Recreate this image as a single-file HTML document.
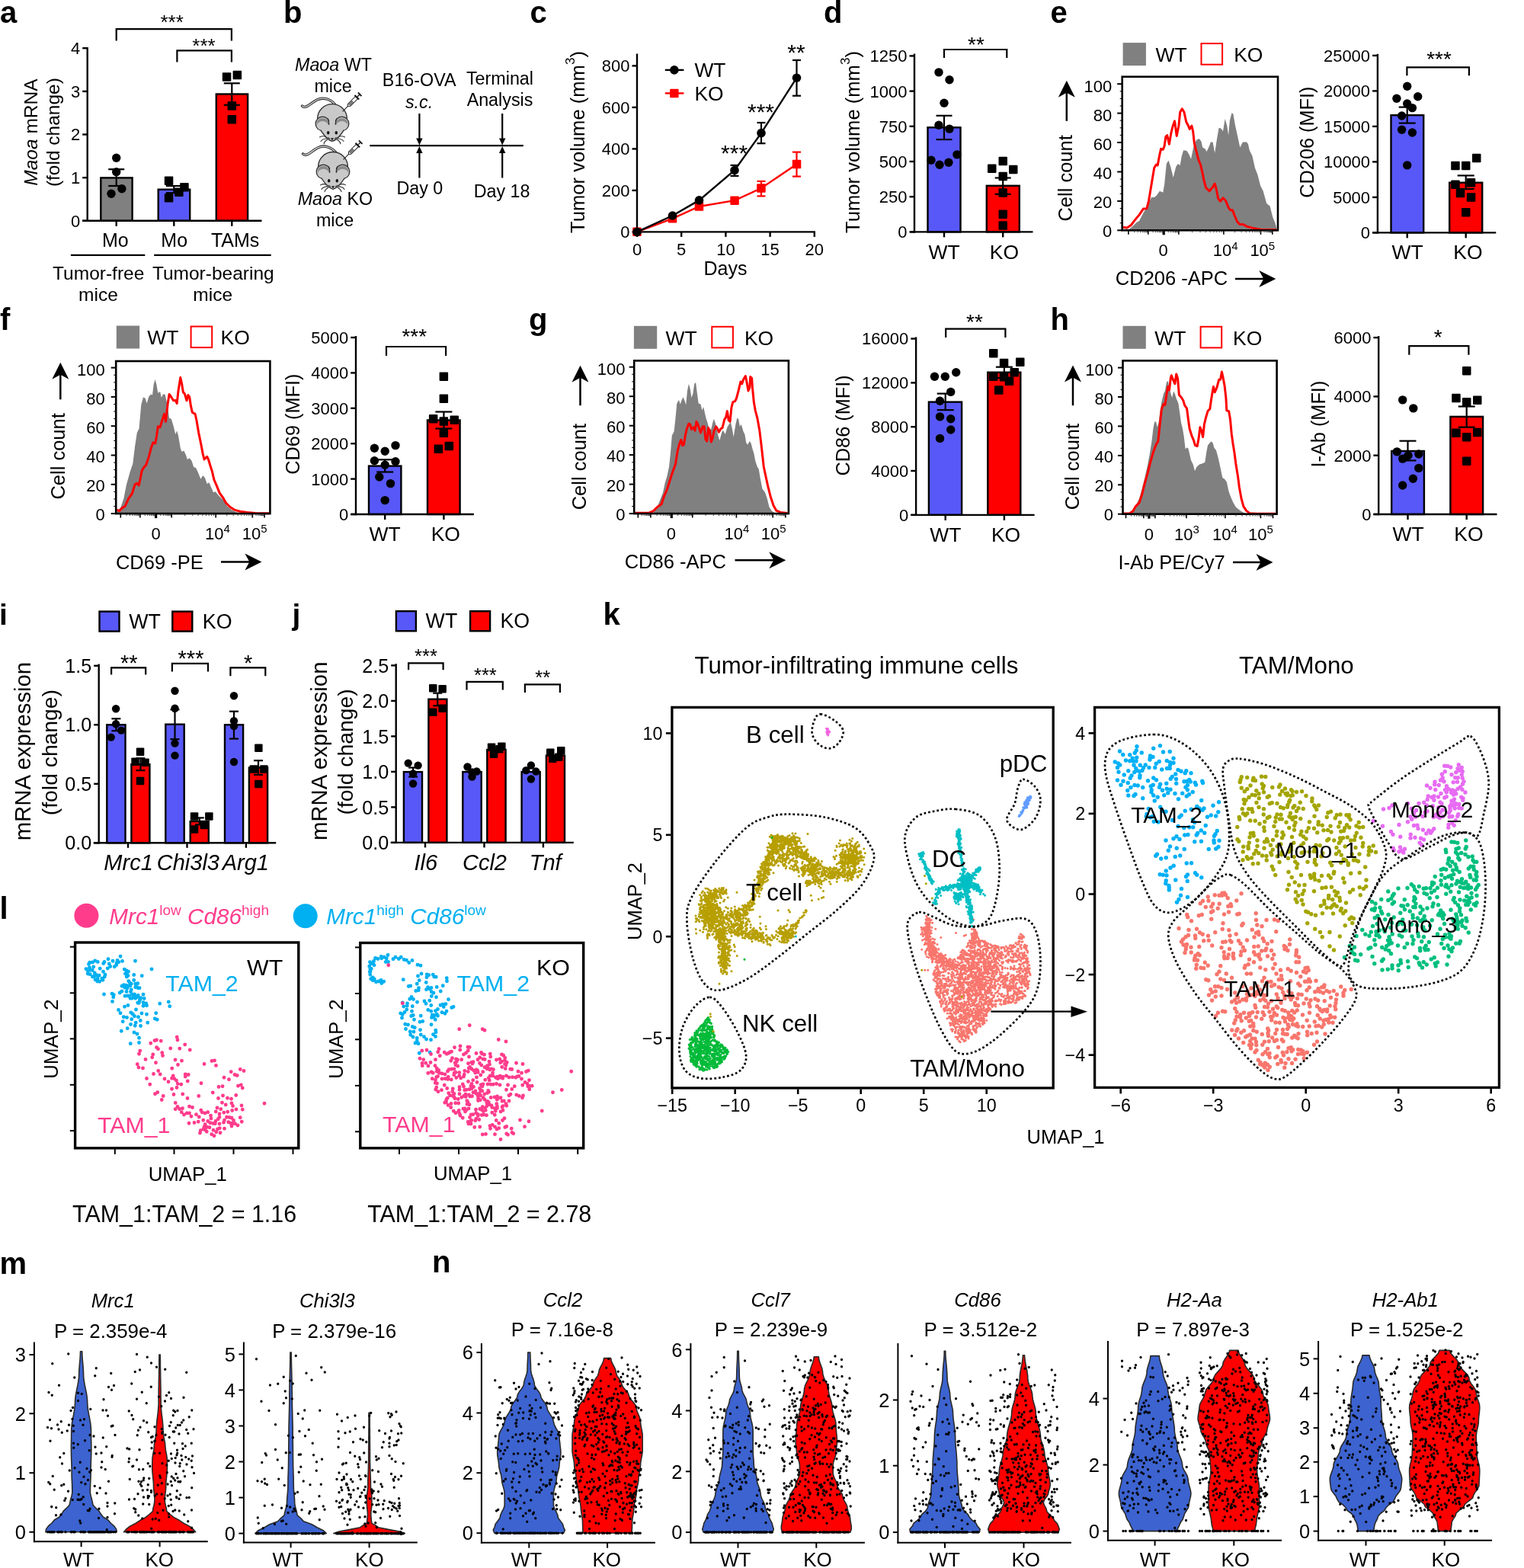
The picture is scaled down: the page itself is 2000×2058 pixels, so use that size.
<!DOCTYPE html>
<html lang="en"><head><meta charset="utf-8"><title>Figure</title>
<style>
html,body{margin:0;padding:0;background:#fff;}
body{width:2000px;height:2058px;overflow:hidden;}
svg{display:block;font-family:'Liberation Sans', Arial, Helvetica, sans-serif;}
</style></head><body>
<svg width="2000" height="2058" viewBox="0 0 2000 2058">
<rect width="2000" height="2058" fill="#fff"/>
<text x="0.0" y="29.5" font-size="40" text-anchor="start" font-weight="bold" >a</text>
<line x1="114.7" y1="62.0" x2="114.7" y2="291.0" stroke="#000" stroke-width="2.4" />
<line x1="108.2" y1="289.8" x2="114.7" y2="289.8" stroke="#000" stroke-width="2.4" />
<text x="105.2" y="297.7" font-size="22" text-anchor="end" >0</text>
<line x1="108.2" y1="233.2" x2="114.7" y2="233.2" stroke="#000" stroke-width="2.4" />
<text x="105.2" y="241.1" font-size="22" text-anchor="end" >1</text>
<line x1="108.2" y1="176.5" x2="114.7" y2="176.5" stroke="#000" stroke-width="2.4" />
<text x="105.2" y="184.4" font-size="22" text-anchor="end" >2</text>
<line x1="108.2" y1="119.9" x2="114.7" y2="119.9" stroke="#000" stroke-width="2.4" />
<text x="105.2" y="127.8" font-size="22" text-anchor="end" >3</text>
<line x1="108.2" y1="63.2" x2="114.7" y2="63.2" stroke="#000" stroke-width="2.4" />
<text x="105.2" y="71.1" font-size="22" text-anchor="end" >4</text>
<rect x="132.3" y="233.4" width="41.3" height="56.4" fill="#808080" stroke="#000" stroke-width="2.4" />
<rect x="207.7" y="248.7" width="41.5" height="41.1" fill="#5858f8" stroke="#000" stroke-width="2.4" />
<rect x="283.8" y="123.5" width="41.3" height="166.3" fill="#ff0000" stroke="#000" stroke-width="2.4" />
<line x1="108.0" y1="289.8" x2="343.5" y2="289.8" stroke="#000" stroke-width="2.4" />
<line x1="152.7" y1="289.8" x2="152.7" y2="296.8" stroke="#000" stroke-width="2.4" />
<line x1="228.3" y1="289.8" x2="228.3" y2="296.8" stroke="#000" stroke-width="2.4" />
<line x1="304.3" y1="289.8" x2="304.3" y2="296.8" stroke="#000" stroke-width="2.4" />
<line x1="152.7" y1="222.2" x2="152.7" y2="244.0" stroke="#000" stroke-width="2.2" />
<line x1="142.2" y1="222.2" x2="163.2" y2="222.2" stroke="#000" stroke-width="2.2" />
<line x1="142.2" y1="244.0" x2="163.2" y2="244.0" stroke="#000" stroke-width="2.2" />
<line x1="228.3" y1="244.0" x2="228.3" y2="253.2" stroke="#000" stroke-width="2.2" />
<line x1="217.8" y1="244.0" x2="238.8" y2="244.0" stroke="#000" stroke-width="2.2" />
<line x1="217.8" y1="253.2" x2="238.8" y2="253.2" stroke="#000" stroke-width="2.2" />
<line x1="304.3" y1="109.3" x2="304.3" y2="137.8" stroke="#000" stroke-width="2.2" />
<line x1="293.8" y1="109.3" x2="314.8" y2="109.3" stroke="#000" stroke-width="2.2" />
<line x1="293.8" y1="137.8" x2="314.8" y2="137.8" stroke="#000" stroke-width="2.2" />
<circle cx="152.7" cy="207.3" r="5.7" fill="#000" />
<circle cx="152.7" cy="225.6" r="5.7" fill="#000" />
<circle cx="159.9" cy="247.7" r="5.7" fill="#000" />
<circle cx="146.0" cy="254.2" r="5.7" fill="#000" />
<rect x="215.8" y="231.6" width="11.5" height="11.5" fill="#000" rx="1"/>
<rect x="236.2" y="239.9" width="11.5" height="11.5" fill="#000" rx="1"/>
<rect x="229.1" y="246.4" width="11.5" height="11.5" fill="#000" rx="1"/>
<rect x="215.8" y="253.9" width="11.5" height="11.5" fill="#000" rx="1"/>
<rect x="291.8" y="95.3" width="11.5" height="11.5" fill="#000" rx="1"/>
<rect x="305.6" y="92.8" width="11.5" height="11.5" fill="#000" rx="1"/>
<rect x="298.6" y="133.2" width="11.5" height="11.5" fill="#000" rx="1"/>
<rect x="298.6" y="151.1" width="11.5" height="11.5" fill="#000" rx="1"/>
<path d="M152.7,53.5 V38.2 H303.9 V53.5" fill="none" stroke="#000" stroke-width="2.2" />
<text x="225.6" y="38.1" font-size="26" text-anchor="middle" >***</text>
<path d="M232.4,81.4 V66.4 H303.9 V81.4" fill="none" stroke="#000" stroke-width="2.2" />
<text x="267.5" y="69.4" font-size="26" text-anchor="middle" >***</text>
<text x="151.4" y="323.7" font-size="25" text-anchor="middle" >Mo</text>
<text x="228.7" y="323.7" font-size="25" text-anchor="middle" >Mo</text>
<text x="308.6" y="323.7" font-size="25" text-anchor="middle" >TAMs</text>
<line x1="92.9" y1="334.9" x2="190.3" y2="334.9" stroke="#000" stroke-width="2.2" />
<line x1="202.2" y1="334.9" x2="355.7" y2="334.9" stroke="#000" stroke-width="2.2" />
<text x="129.2" y="366.5" font-size="24.5" text-anchor="middle" >Tumor-free</text>
<text x="128.9" y="394.6" font-size="24.5" text-anchor="middle" >mice</text>
<text x="279.8" y="366.5" font-size="24.5" text-anchor="middle" >Tumor-bearing</text>
<text x="279.2" y="394.6" font-size="24.5" text-anchor="middle" >mice</text>
<text x="49.0" y="173.6" font-size="24.5" text-anchor="middle" transform="rotate(-90 49.0 173.6)" ><tspan font-style="italic">Maoa</tspan> mRNA</text>
<text x="78.3" y="173.6" font-size="24.5" text-anchor="middle" transform="rotate(-90 78.3 173.6)" >(fold change)</text>
<text x="372.0" y="29.5" font-size="40" text-anchor="start" font-weight="bold" >b</text>
<text x="437.5" y="92.9" font-size="23.3" text-anchor="middle" ><tspan font-style="italic">Maoa</tspan> WT</text>
<text x="437.0" y="120.9" font-size="23.3" text-anchor="middle" >mice</text>
<g transform="translate(436.0,174.0)"><path d="M3.5,-37 C-2,-44 -12,-47 -20,-43 C-27,-39.5 -31,-34 -36,-33.6 C-37.5,-33.5 -38.5,-34 -39.5,-35" fill="none" stroke="#2b2b2b" stroke-width="3.4" stroke-linecap="round"/><path d="M3.5,-37 C-2,-44 -12,-47 -20,-43 C-27,-39.5 -31,-34 -36,-33.6 C-37.5,-33.5 -38.5,-34 -39.5,-35" fill="none" stroke="#d6d6d6" stroke-width="1.3" stroke-linecap="round"/><ellipse cx="0" cy="-18" rx="19.4" ry="19.4" fill="#c9c9c9" stroke="#2b2b2b" stroke-width="1.3"/><circle cx="-12.6" cy="-11.6" r="9.2" fill="#c9c9c9" stroke="#2b2b2b" stroke-width="1.3"/><ellipse cx="-12.6" cy="-12.2" rx="7.7" ry="6.9" fill="#8a8a8a"/><ellipse cx="-12.6" cy="-9" rx="7.4" ry="6.1" fill="#c9c9c9"/><circle cx="12.6" cy="-11.6" r="9.2" fill="#c9c9c9" stroke="#2b2b2b" stroke-width="1.3"/><ellipse cx="12.6" cy="-12.2" rx="7.7" ry="6.9" fill="#8a8a8a"/><ellipse cx="12.6" cy="-9" rx="7.4" ry="6.1" fill="#c9c9c9"/><path d="M-4.3,-10.5 C-4.8,-16 -2,-20 0,-20 C2,-20 4.8,-16 4.3,-10.5 L15,-3 C12,3 6,10.6 0,11.6 C-6,10.6 -12,3 -15,-3 Z" fill="#c9c9c9"/><path d="M-4.3,-10.2 C-4.3,-14.5 -5,-17 -6.3,-18.6 M4.3,-10.2 C4.3,-14.5 5,-17 6.3,-18.6" fill="none" stroke="#2b2b2b" stroke-width="1.3"/><path d="M-15.4,-3.4 C-11,3.5 -6,10.3 0,11.4 C6,10.3 11,3.5 15.4,-3.4" fill="none" stroke="#2b2b2b" stroke-width="1.3"/><ellipse cx="-5.3" cy="0.3" rx="1.7" ry="2.2" fill="#111"/><ellipse cx="5.3" cy="0.3" rx="1.7" ry="2.2" fill="#111"/><ellipse cx="-5.2" cy="7.8" rx="2.4" ry="1.6" fill="#555" transform="rotate(25 -5.2 7.8)"/><ellipse cx="5.2" cy="7.8" rx="2.4" ry="1.6" fill="#555" transform="rotate(-25 5.2 7.8)"/><path d="M-2.2,7.3 L2.2,7.3 L0,10.3 Z" fill="#111"/><path d="M-8,6 C-11,4.2 -14,4.5 -16.5,6 M-7.5,8 C-11,8 -13.5,9.5 -15,11.5 M-6.5,9.5 C-9,10.5 -10.5,12.5 -11,14.8 M8,6 C11,4.2 14,4.5 16.5,6 M7.5,8 C11,8 13.5,9.5 15,11.5 M6.5,9.5 C9,10.5 10.5,12.5 11,14.8" stroke="#333" stroke-width="1.1" fill="none" stroke-linecap="round"/><g transform="translate(13.6,-27.6) rotate(-45)"><line x1="0" y1="0" x2="9.5" y2="0" stroke="#222" stroke-width="1.1"/><path d="M9.5,0 L12,-2.2 L26,-2.2 L26,2.2 L12,2.2 Z" fill="#fff" stroke="#222" stroke-width="1"/><rect x="12" y="-1.7" width="7" height="3.4" fill="#777"/><line x1="26.5" y1="-4" x2="26.5" y2="4" stroke="#111" stroke-width="2"/><line x1="27" y1="0" x2="31.5" y2="0" stroke="#333" stroke-width="1.6"/><line x1="32" y1="-3.2" x2="32" y2="3.2" stroke="#111" stroke-width="1.8"/></g></g>
<g transform="translate(437.0,236.9)"><path d="M3.5,-37 C-2,-44 -12,-47 -20,-43 C-27,-39.5 -31,-34 -36,-33.6 C-37.5,-33.5 -38.5,-34 -39.5,-35" fill="none" stroke="#2b2b2b" stroke-width="3.4" stroke-linecap="round"/><path d="M3.5,-37 C-2,-44 -12,-47 -20,-43 C-27,-39.5 -31,-34 -36,-33.6 C-37.5,-33.5 -38.5,-34 -39.5,-35" fill="none" stroke="#d6d6d6" stroke-width="1.3" stroke-linecap="round"/><ellipse cx="0" cy="-18" rx="19.4" ry="19.4" fill="#c9c9c9" stroke="#2b2b2b" stroke-width="1.3"/><circle cx="-12.6" cy="-11.6" r="9.2" fill="#c9c9c9" stroke="#2b2b2b" stroke-width="1.3"/><ellipse cx="-12.6" cy="-12.2" rx="7.7" ry="6.9" fill="#8a8a8a"/><ellipse cx="-12.6" cy="-9" rx="7.4" ry="6.1" fill="#c9c9c9"/><circle cx="12.6" cy="-11.6" r="9.2" fill="#c9c9c9" stroke="#2b2b2b" stroke-width="1.3"/><ellipse cx="12.6" cy="-12.2" rx="7.7" ry="6.9" fill="#8a8a8a"/><ellipse cx="12.6" cy="-9" rx="7.4" ry="6.1" fill="#c9c9c9"/><path d="M-4.3,-10.5 C-4.8,-16 -2,-20 0,-20 C2,-20 4.8,-16 4.3,-10.5 L15,-3 C12,3 6,10.6 0,11.6 C-6,10.6 -12,3 -15,-3 Z" fill="#c9c9c9"/><path d="M-4.3,-10.2 C-4.3,-14.5 -5,-17 -6.3,-18.6 M4.3,-10.2 C4.3,-14.5 5,-17 6.3,-18.6" fill="none" stroke="#2b2b2b" stroke-width="1.3"/><path d="M-15.4,-3.4 C-11,3.5 -6,10.3 0,11.4 C6,10.3 11,3.5 15.4,-3.4" fill="none" stroke="#2b2b2b" stroke-width="1.3"/><ellipse cx="-5.3" cy="0.3" rx="1.7" ry="2.2" fill="#111"/><ellipse cx="5.3" cy="0.3" rx="1.7" ry="2.2" fill="#111"/><ellipse cx="-5.2" cy="7.8" rx="2.4" ry="1.6" fill="#555" transform="rotate(25 -5.2 7.8)"/><ellipse cx="5.2" cy="7.8" rx="2.4" ry="1.6" fill="#555" transform="rotate(-25 5.2 7.8)"/><path d="M-2.2,7.3 L2.2,7.3 L0,10.3 Z" fill="#111"/><path d="M-8,6 C-11,4.2 -14,4.5 -16.5,6 M-7.5,8 C-11,8 -13.5,9.5 -15,11.5 M-6.5,9.5 C-9,10.5 -10.5,12.5 -11,14.8 M8,6 C11,4.2 14,4.5 16.5,6 M7.5,8 C11,8 13.5,9.5 15,11.5 M6.5,9.5 C9,10.5 10.5,12.5 11,14.8" stroke="#333" stroke-width="1.1" fill="none" stroke-linecap="round"/><g transform="translate(13.6,-27.6) rotate(-45)"><line x1="0" y1="0" x2="9.5" y2="0" stroke="#222" stroke-width="1.1"/><path d="M9.5,0 L12,-2.2 L26,-2.2 L26,2.2 L12,2.2 Z" fill="#fff" stroke="#222" stroke-width="1"/><rect x="12" y="-1.7" width="7" height="3.4" fill="#777"/><line x1="26.5" y1="-4" x2="26.5" y2="4" stroke="#111" stroke-width="2"/><line x1="27" y1="0" x2="31.5" y2="0" stroke="#333" stroke-width="1.6"/><line x1="32" y1="-3.2" x2="32" y2="3.2" stroke="#111" stroke-width="1.8"/></g></g>
<text x="439.9" y="269.1" font-size="23.3" text-anchor="middle" ><tspan font-style="italic">Maoa</tspan> KO</text>
<text x="439.5" y="297.1" font-size="23.3" text-anchor="middle" >mice</text>
<line x1="485.3" y1="191.2" x2="686.8" y2="191.2" stroke="#000" stroke-width="2.2" />
<line x1="550.4" y1="149.0" x2="550.4" y2="185.1" stroke="#000" stroke-width="2.2" />
<polygon points="550.4,190.5 546.2,181.5 554.6,181.5" fill="#000"/>
<line x1="550.4" y1="233.5" x2="550.4" y2="197.4" stroke="#000" stroke-width="2.2" />
<polygon points="550.4,192.0 546.2,201.0 554.6,201.0" fill="#000"/>
<line x1="659.2" y1="149.0" x2="659.2" y2="185.1" stroke="#000" stroke-width="2.2" />
<polygon points="659.2,190.5 655.0,181.5 663.4,181.5" fill="#000"/>
<line x1="659.2" y1="233.5" x2="659.2" y2="197.4" stroke="#000" stroke-width="2.2" />
<polygon points="659.2,192.0 655.0,201.0 663.4,201.0" fill="#000"/>
<text x="550.2" y="113.3" font-size="23.3" text-anchor="middle" >B16-OVA</text>
<text x="550.0" y="141.5" font-size="23.3" text-anchor="middle" font-style="italic" >s.c.</text>
<text x="656.0" y="110.9" font-size="23.3" text-anchor="middle" >Terminal</text>
<text x="656.0" y="139.0" font-size="23.3" text-anchor="middle" >Analysis</text>
<text x="550.9" y="255.3" font-size="23.3" text-anchor="middle" >Day 0</text>
<text x="658.6" y="258.9" font-size="23.3" text-anchor="middle" >Day 18</text>
<text x="695.6" y="29.5" font-size="40" text-anchor="start" font-weight="bold" >c</text>
<line x1="836.0" y1="70.5" x2="836.0" y2="305.6" stroke="#000" stroke-width="2.4" />
<line x1="829.5" y1="304.4" x2="836.0" y2="304.4" stroke="#000" stroke-width="2.4" />
<text x="826.5" y="312.3" font-size="22" text-anchor="end" >0</text>
<line x1="829.5" y1="249.9" x2="836.0" y2="249.9" stroke="#000" stroke-width="2.4" />
<text x="826.5" y="257.8" font-size="22" text-anchor="end" >200</text>
<line x1="829.5" y1="195.4" x2="836.0" y2="195.4" stroke="#000" stroke-width="2.4" />
<text x="826.5" y="203.3" font-size="22" text-anchor="end" >400</text>
<line x1="829.5" y1="140.9" x2="836.0" y2="140.9" stroke="#000" stroke-width="2.4" />
<text x="826.5" y="148.8" font-size="22" text-anchor="end" >600</text>
<line x1="829.5" y1="86.4" x2="836.0" y2="86.4" stroke="#000" stroke-width="2.4" />
<text x="826.5" y="94.3" font-size="22" text-anchor="end" >800</text>
<line x1="834.8" y1="304.4" x2="1070.0" y2="304.4" stroke="#000" stroke-width="2.4" />
<line x1="836.0" y1="304.4" x2="836.0" y2="310.9" stroke="#000" stroke-width="2.4" />
<text x="836.0" y="334.6" font-size="22" text-anchor="middle" >0</text>
<line x1="894.2" y1="304.4" x2="894.2" y2="310.9" stroke="#000" stroke-width="2.4" />
<text x="894.2" y="334.6" font-size="22" text-anchor="middle" >5</text>
<line x1="952.4" y1="304.4" x2="952.4" y2="310.9" stroke="#000" stroke-width="2.4" />
<text x="952.4" y="334.6" font-size="22" text-anchor="middle" >10</text>
<line x1="1010.6" y1="304.4" x2="1010.6" y2="310.9" stroke="#000" stroke-width="2.4" />
<text x="1010.6" y="334.6" font-size="22" text-anchor="middle" >15</text>
<line x1="1068.8" y1="304.4" x2="1068.8" y2="310.9" stroke="#000" stroke-width="2.4" />
<text x="1068.8" y="334.6" font-size="22" text-anchor="middle" >20</text>
<text x="952.0" y="360.5" font-size="25" text-anchor="middle" >Days</text>
<text x="766.5" y="186.5" font-size="25.6" text-anchor="middle" transform="rotate(-90 766.5 186.5)" >Tumor volume (mm<tspan font-size="17" dy="-12.5">3</tspan><tspan dy="12.5">)</tspan></text>
<path d="M836.0,304.4 L882.6,286.8 L917.5,271.0 L964.0,263.2 L999.0,247.0 L1045.5,215.4" fill="none" stroke="#ff0000" stroke-width="2.4" />
<line x1="999.0" y1="237.9" x2="999.0" y2="257.4" stroke="#ff0000" stroke-width="2.2" />
<line x1="993.5" y1="237.9" x2="1004.5" y2="237.9" stroke="#ff0000" stroke-width="2.2" />
<line x1="993.5" y1="257.4" x2="1004.5" y2="257.4" stroke="#ff0000" stroke-width="2.2" />
<line x1="1045.5" y1="199.6" x2="1045.5" y2="231.6" stroke="#ff0000" stroke-width="2.2" />
<line x1="1040.0" y1="199.6" x2="1051.0" y2="199.6" stroke="#ff0000" stroke-width="2.2" />
<line x1="1040.0" y1="231.6" x2="1051.0" y2="231.6" stroke="#ff0000" stroke-width="2.2" />
<rect x="830.2" y="298.6" width="11.5" height="11.5" fill="#ff0000" rx="1"/>
<rect x="876.8" y="281.1" width="11.5" height="11.5" fill="#ff0000" rx="1"/>
<rect x="911.7" y="265.2" width="11.5" height="11.5" fill="#ff0000" rx="1"/>
<rect x="958.3" y="257.4" width="11.5" height="11.5" fill="#ff0000" rx="1"/>
<rect x="993.2" y="241.2" width="11.5" height="11.5" fill="#ff0000" rx="1"/>
<rect x="1039.8" y="209.7" width="11.5" height="11.5" fill="#ff0000" rx="1"/>
<path d="M836.0,304.4 L882.6,283.0 L917.5,262.9 L964.0,223.5 L999.0,174.6 L1045.5,102.2" fill="none" stroke="#000" stroke-width="2.4" />
<line x1="964.0" y1="216.9" x2="964.0" y2="230.9" stroke="#000" stroke-width="2.2" />
<line x1="958.5" y1="216.9" x2="969.5" y2="216.9" stroke="#000" stroke-width="2.2" />
<line x1="958.5" y1="230.9" x2="969.5" y2="230.9" stroke="#000" stroke-width="2.2" />
<line x1="999.0" y1="161.0" x2="999.0" y2="188.2" stroke="#000" stroke-width="2.2" />
<line x1="993.5" y1="161.0" x2="1004.5" y2="161.0" stroke="#000" stroke-width="2.2" />
<line x1="993.5" y1="188.2" x2="1004.5" y2="188.2" stroke="#000" stroke-width="2.2" />
<line x1="1045.5" y1="79.0" x2="1045.5" y2="125.7" stroke="#000" stroke-width="2.2" />
<line x1="1040.0" y1="79.0" x2="1051.0" y2="79.0" stroke="#000" stroke-width="2.2" />
<line x1="1040.0" y1="125.7" x2="1051.0" y2="125.7" stroke="#000" stroke-width="2.2" />
<circle cx="836.0" cy="304.4" r="5.8" fill="#000" />
<circle cx="882.6" cy="283.0" r="5.8" fill="#000" />
<circle cx="917.5" cy="262.9" r="5.8" fill="#000" />
<circle cx="964.0" cy="223.5" r="5.8" fill="#000" />
<circle cx="999.0" cy="174.6" r="5.8" fill="#000" />
<circle cx="1045.5" cy="102.2" r="5.8" fill="#000" />
<line x1="872.8" y1="91.9" x2="897.4" y2="91.9" stroke="#000" stroke-width="2.4" />
<circle cx="884.9" cy="91.9" r="5.8" fill="#000" />
<text x="911.4" y="101.0" font-size="26.4" text-anchor="start" >WT</text>
<line x1="872.8" y1="122.4" x2="897.4" y2="122.4" stroke="#ff0000" stroke-width="2.4" />
<rect x="879.1" y="116.7" width="11.5" height="11.5" fill="#ff0000" rx="1"/>
<text x="911.4" y="132.4" font-size="26.4" text-anchor="start" >KO</text>
<text x="1044.9" y="78.8" font-size="30" text-anchor="middle" >**</text>
<text x="998.5" y="157.1" font-size="30" text-anchor="middle" >***</text>
<text x="963.6" y="211.2" font-size="30" text-anchor="middle" >***</text>
<text x="1081.0" y="29.5" font-size="40" text-anchor="start" font-weight="bold" >d</text>
<line x1="1200.0" y1="70.5" x2="1200.0" y2="305.6" stroke="#000" stroke-width="2.4" />
<line x1="1193.5" y1="304.4" x2="1200.0" y2="304.4" stroke="#000" stroke-width="2.4" />
<text x="1190.5" y="312.3" font-size="22" text-anchor="end" >0</text>
<line x1="1193.5" y1="258.2" x2="1200.0" y2="258.2" stroke="#000" stroke-width="2.4" />
<text x="1190.5" y="266.1" font-size="22" text-anchor="end" >250</text>
<line x1="1193.5" y1="212.0" x2="1200.0" y2="212.0" stroke="#000" stroke-width="2.4" />
<text x="1190.5" y="219.9" font-size="22" text-anchor="end" >500</text>
<line x1="1193.5" y1="165.8" x2="1200.0" y2="165.8" stroke="#000" stroke-width="2.4" />
<text x="1190.5" y="173.7" font-size="22" text-anchor="end" >750</text>
<line x1="1193.5" y1="119.6" x2="1200.0" y2="119.6" stroke="#000" stroke-width="2.4" />
<text x="1190.5" y="127.5" font-size="22" text-anchor="end" >1000</text>
<line x1="1193.5" y1="73.4" x2="1200.0" y2="73.4" stroke="#000" stroke-width="2.4" />
<text x="1190.5" y="81.3" font-size="22" text-anchor="end" >1250</text>
<rect x="1217.5" y="167.3" width="43.0" height="137.1" fill="#5858f8" stroke="#000" stroke-width="2.4" />
<rect x="1294.8" y="243.8" width="43.0" height="60.6" fill="#ff0000" stroke="#000" stroke-width="2.4" />
<line x1="1194.0" y1="304.4" x2="1355.5" y2="304.4" stroke="#000" stroke-width="2.4" />
<line x1="1239.0" y1="304.4" x2="1239.0" y2="311.4" stroke="#000" stroke-width="2.4" />
<line x1="1316.2" y1="304.4" x2="1316.2" y2="311.4" stroke="#000" stroke-width="2.4" />
<text x="1239.0" y="340.0" font-size="26.5" text-anchor="middle" >WT</text>
<text x="1318.0" y="340.0" font-size="26.5" text-anchor="middle" >KO</text>
<text x="1127.5" y="186.5" font-size="25.6" text-anchor="middle" transform="rotate(-90 1127.5 186.5)" >Tumor volume (mm<tspan font-size="17" dy="-12.5">3</tspan><tspan dy="12.5">)</tspan></text>
<line x1="1239.0" y1="151.8" x2="1239.0" y2="183.1" stroke="#000" stroke-width="2.2" />
<line x1="1228.5" y1="151.8" x2="1249.5" y2="151.8" stroke="#000" stroke-width="2.2" />
<line x1="1228.5" y1="183.1" x2="1249.5" y2="183.1" stroke="#000" stroke-width="2.2" />
<line x1="1316.2" y1="233.5" x2="1316.2" y2="254.8" stroke="#000" stroke-width="2.2" />
<line x1="1305.7" y1="233.5" x2="1326.7" y2="233.5" stroke="#000" stroke-width="2.2" />
<line x1="1305.7" y1="254.8" x2="1326.7" y2="254.8" stroke="#000" stroke-width="2.2" />
<circle cx="1232.0" cy="94.9" r="5.7" fill="#000" />
<circle cx="1246.0" cy="104.8" r="5.7" fill="#000" />
<circle cx="1239.0" cy="135.3" r="5.7" fill="#000" />
<circle cx="1232.0" cy="164.3" r="5.7" fill="#000" />
<circle cx="1246.0" cy="169.1" r="5.7" fill="#000" />
<circle cx="1255.9" cy="202.9" r="5.7" fill="#000" />
<circle cx="1222.0" cy="210.3" r="5.7" fill="#000" />
<circle cx="1233.0" cy="216.2" r="5.7" fill="#000" />
<circle cx="1244.9" cy="213.2" r="5.7" fill="#000" />
<rect x="1310.5" y="205.7" width="11.5" height="11.5" fill="#000" rx="1"/>
<rect x="1296.0" y="215.6" width="11.5" height="11.5" fill="#000" rx="1"/>
<rect x="1324.0" y="216.7" width="11.5" height="11.5" fill="#000" rx="1"/>
<rect x="1310.5" y="225.8" width="11.5" height="11.5" fill="#000" rx="1"/>
<rect x="1310.5" y="247.2" width="11.5" height="11.5" fill="#000" rx="1"/>
<rect x="1310.5" y="275.6" width="11.5" height="11.5" fill="#000" rx="1"/>
<rect x="1310.5" y="290.2" width="11.5" height="11.5" fill="#000" rx="1"/>
<path d="M1239.0,76.0 V65.0 H1321.3 V76.0" fill="none" stroke="#000" stroke-width="2.2" />
<text x="1281.0" y="67.5" font-size="28" text-anchor="middle" >**</text>
<text x="1378.5" y="29.5" font-size="40" text-anchor="start" font-weight="bold" >e</text>
<path d="M1480.7,302.3 L1480.7,301.8 L1486.1,297.3 L1491.5,291.9 L1495.0,290.1 L1500.4,279.4 L1505.8,270.5 L1511.1,258.9 L1514.7,258.9 L1517.4,257.1 L1521.9,250.8 L1526.3,252.6 L1528.1,241.9 L1530.8,215.1 L1533.5,210.6 L1536.2,218.7 L1539.7,233.0 L1543.3,218.7 L1546.0,215.1 L1548.7,216.9 L1550.5,206.1 L1553.1,197.2 L1557.6,198.1 L1560.3,202.6 L1563.0,208.8 L1566.5,191.8 L1570.1,183.8 L1573.7,182.0 L1576.4,185.6 L1578.2,193.6 L1581.7,195.4 L1583.5,199.0 L1586.2,193.6 L1588.9,186.5 L1591.6,186.5 L1594.2,200.8 L1596.9,182.9 L1599.6,167.7 L1602.3,168.6 L1605.0,172.2 L1607.6,156.1 L1610.3,165.0 L1612.1,177.6 L1613.9,157.9 L1616.6,148.1 L1618.4,149.8 L1621.1,165.0 L1623.7,176.7 L1627.3,193.6 L1630.9,186.5 L1636.2,186.5 L1638.0,189.2 L1639.8,197.2 L1643.4,204.4 L1647.0,220.4 L1650.5,229.4 L1654.1,243.7 L1657.7,250.8 L1662.2,266.9 L1666.6,270.5 L1670.2,284.8 L1673.8,293.7 L1675.9,301.8 L1675.9,302.3 Z" fill="#808080" stroke="none" stroke-width="0" />
<path d="M1473.6,298.2 L1479.0,299.1 L1484.3,295.5 L1489.7,288.4 L1495.0,282.1 L1500.4,274.1 L1504.9,273.7 L1507.6,263.3 L1511.1,241.9 L1514.7,220.4 L1517.4,216.0 L1519.2,216.9 L1521.9,202.6 L1523.6,195.4 L1526.3,196.3 L1528.1,191.8 L1529.9,179.3 L1531.7,177.6 L1534.4,189.2 L1537.0,174.0 L1538.8,166.8 L1541.5,158.8 L1544.2,178.4 L1546.9,165.0 L1548.7,147.2 L1551.3,142.7 L1554.0,147.2 L1556.7,159.7 L1559.4,165.0 L1561.2,169.5 L1563.9,165.0 L1565.6,172.2 L1567.4,188.3 L1570.1,199.0 L1572.8,209.7 L1575.5,216.0 L1578.2,227.6 L1579.9,236.5 L1582.6,246.4 L1587.1,250.8 L1591.6,245.5 L1594.2,241.0 L1596.0,247.3 L1598.7,260.7 L1601.4,264.2 L1605.0,259.8 L1608.5,263.3 L1612.1,272.3 L1614.8,275.8 L1617.5,275.8 L1620.2,283.0 L1623.7,291.0 L1627.3,294.6 L1631.8,294.6 L1636.2,297.3 L1643.4,299.1 L1654.1,301.2 L1675.6,301.8" fill="none" stroke="#ff0000" stroke-width="3" stroke-linejoin="round"/>
<rect x="1472.7" y="100.7" width="204.3" height="201.6" fill="none" stroke="#000" stroke-width="2.6" />
<line x1="1466.2" y1="302.3" x2="1472.7" y2="302.3" stroke="#000" stroke-width="2" />
<text x="1459.2" y="310.7" font-size="22" text-anchor="end" >0</text>
<line x1="1469.7" y1="292.7" x2="1472.7" y2="292.7" stroke="#000" stroke-width="1" />
<line x1="1469.7" y1="283.1" x2="1472.7" y2="283.1" stroke="#000" stroke-width="1" />
<line x1="1469.7" y1="273.5" x2="1472.7" y2="273.5" stroke="#000" stroke-width="1" />
<line x1="1466.2" y1="263.9" x2="1472.7" y2="263.9" stroke="#000" stroke-width="2" />
<text x="1459.2" y="272.7" font-size="22" text-anchor="end" >20</text>
<line x1="1469.7" y1="254.3" x2="1472.7" y2="254.3" stroke="#000" stroke-width="1" />
<line x1="1469.7" y1="244.7" x2="1472.7" y2="244.7" stroke="#000" stroke-width="1" />
<line x1="1469.7" y1="235.1" x2="1472.7" y2="235.1" stroke="#000" stroke-width="1" />
<line x1="1466.2" y1="225.5" x2="1472.7" y2="225.5" stroke="#000" stroke-width="2" />
<text x="1459.2" y="234.8" font-size="22" text-anchor="end" >40</text>
<line x1="1469.7" y1="215.9" x2="1472.7" y2="215.9" stroke="#000" stroke-width="1" />
<line x1="1469.7" y1="206.2" x2="1472.7" y2="206.2" stroke="#000" stroke-width="1" />
<line x1="1469.7" y1="196.6" x2="1472.7" y2="196.6" stroke="#000" stroke-width="1" />
<line x1="1466.2" y1="187.0" x2="1472.7" y2="187.0" stroke="#000" stroke-width="2" />
<text x="1459.2" y="196.8" font-size="22" text-anchor="end" >60</text>
<line x1="1469.7" y1="177.4" x2="1472.7" y2="177.4" stroke="#000" stroke-width="1" />
<line x1="1469.7" y1="167.8" x2="1472.7" y2="167.8" stroke="#000" stroke-width="1" />
<line x1="1469.7" y1="158.2" x2="1472.7" y2="158.2" stroke="#000" stroke-width="1" />
<line x1="1466.2" y1="148.6" x2="1472.7" y2="148.6" stroke="#000" stroke-width="2" />
<text x="1459.2" y="158.8" font-size="22" text-anchor="end" >80</text>
<line x1="1469.7" y1="139.0" x2="1472.7" y2="139.0" stroke="#000" stroke-width="1" />
<line x1="1469.7" y1="129.4" x2="1472.7" y2="129.4" stroke="#000" stroke-width="1" />
<line x1="1469.7" y1="119.8" x2="1472.7" y2="119.8" stroke="#000" stroke-width="1" />
<line x1="1466.2" y1="110.2" x2="1472.7" y2="110.2" stroke="#000" stroke-width="2" />
<text x="1459.2" y="120.8" font-size="22" text-anchor="end" >100</text>
<line x1="1480.9" y1="302.3" x2="1480.9" y2="307.8" stroke="#000" stroke-width="1.6" />
<line x1="1506.8" y1="302.3" x2="1506.8" y2="307.8" stroke="#000" stroke-width="1.6" />
<line x1="1527.2" y1="302.3" x2="1527.2" y2="308.3" stroke="#000" stroke-width="3.2" />
<line x1="1546.9" y1="302.3" x2="1546.9" y2="307.8" stroke="#000" stroke-width="1.6" />
<line x1="1605.9" y1="302.3" x2="1605.9" y2="307.8" stroke="#000" stroke-width="1.6" />
<line x1="1654.5" y1="302.3" x2="1654.5" y2="307.8" stroke="#000" stroke-width="1.6" />
<line x1="1669.8" y1="302.3" x2="1669.8" y2="307.8" stroke="#000" stroke-width="1.6" />
<line x1="1488.7" y1="302.3" x2="1488.7" y2="305.3" stroke="#333" stroke-width="0.9" />
<line x1="1493.3" y1="302.3" x2="1493.3" y2="305.3" stroke="#333" stroke-width="0.9" />
<line x1="1496.5" y1="302.3" x2="1496.5" y2="305.3" stroke="#333" stroke-width="0.9" />
<line x1="1499.0" y1="302.3" x2="1499.0" y2="305.3" stroke="#333" stroke-width="0.9" />
<line x1="1501.1" y1="302.3" x2="1501.1" y2="305.3" stroke="#333" stroke-width="0.9" />
<line x1="1502.8" y1="302.3" x2="1502.8" y2="305.3" stroke="#333" stroke-width="0.9" />
<line x1="1504.3" y1="302.3" x2="1504.3" y2="305.3" stroke="#333" stroke-width="0.9" />
<line x1="1505.6" y1="302.3" x2="1505.6" y2="305.3" stroke="#333" stroke-width="0.9" />
<line x1="1513.0" y1="302.3" x2="1513.0" y2="305.3" stroke="#333" stroke-width="0.9" />
<line x1="1516.6" y1="302.3" x2="1516.6" y2="305.3" stroke="#333" stroke-width="0.9" />
<line x1="1519.1" y1="302.3" x2="1519.1" y2="305.3" stroke="#333" stroke-width="0.9" />
<line x1="1521.1" y1="302.3" x2="1521.1" y2="305.3" stroke="#333" stroke-width="0.9" />
<line x1="1522.7" y1="302.3" x2="1522.7" y2="305.3" stroke="#333" stroke-width="0.9" />
<line x1="1524.1" y1="302.3" x2="1524.1" y2="305.3" stroke="#333" stroke-width="0.9" />
<line x1="1525.3" y1="302.3" x2="1525.3" y2="305.3" stroke="#333" stroke-width="0.9" />
<line x1="1526.3" y1="302.3" x2="1526.3" y2="305.3" stroke="#333" stroke-width="0.9" />
<line x1="1533.2" y1="302.3" x2="1533.2" y2="305.3" stroke="#333" stroke-width="0.9" />
<line x1="1536.6" y1="302.3" x2="1536.6" y2="305.3" stroke="#333" stroke-width="0.9" />
<line x1="1539.1" y1="302.3" x2="1539.1" y2="305.3" stroke="#333" stroke-width="0.9" />
<line x1="1541.0" y1="302.3" x2="1541.0" y2="305.3" stroke="#333" stroke-width="0.9" />
<line x1="1542.5" y1="302.3" x2="1542.5" y2="305.3" stroke="#333" stroke-width="0.9" />
<line x1="1543.8" y1="302.3" x2="1543.8" y2="305.3" stroke="#333" stroke-width="0.9" />
<line x1="1545.0" y1="302.3" x2="1545.0" y2="305.3" stroke="#333" stroke-width="0.9" />
<line x1="1546.0" y1="302.3" x2="1546.0" y2="305.3" stroke="#333" stroke-width="0.9" />
<line x1="1564.6" y1="302.3" x2="1564.6" y2="305.3" stroke="#333" stroke-width="0.9" />
<line x1="1575.0" y1="302.3" x2="1575.0" y2="305.3" stroke="#333" stroke-width="0.9" />
<line x1="1582.4" y1="302.3" x2="1582.4" y2="305.3" stroke="#333" stroke-width="0.9" />
<line x1="1588.1" y1="302.3" x2="1588.1" y2="305.3" stroke="#333" stroke-width="0.9" />
<line x1="1592.8" y1="302.3" x2="1592.8" y2="305.3" stroke="#333" stroke-width="0.9" />
<line x1="1596.8" y1="302.3" x2="1596.8" y2="305.3" stroke="#333" stroke-width="0.9" />
<line x1="1600.2" y1="302.3" x2="1600.2" y2="305.3" stroke="#333" stroke-width="0.9" />
<line x1="1603.2" y1="302.3" x2="1603.2" y2="305.3" stroke="#333" stroke-width="0.9" />
<line x1="1620.5" y1="302.3" x2="1620.5" y2="305.3" stroke="#333" stroke-width="0.9" />
<line x1="1629.1" y1="302.3" x2="1629.1" y2="305.3" stroke="#333" stroke-width="0.9" />
<line x1="1635.2" y1="302.3" x2="1635.2" y2="305.3" stroke="#333" stroke-width="0.9" />
<line x1="1639.9" y1="302.3" x2="1639.9" y2="305.3" stroke="#333" stroke-width="0.9" />
<line x1="1643.7" y1="302.3" x2="1643.7" y2="305.3" stroke="#333" stroke-width="0.9" />
<line x1="1647.0" y1="302.3" x2="1647.0" y2="305.3" stroke="#333" stroke-width="0.9" />
<line x1="1649.8" y1="302.3" x2="1649.8" y2="305.3" stroke="#333" stroke-width="0.9" />
<line x1="1652.3" y1="302.3" x2="1652.3" y2="305.3" stroke="#333" stroke-width="0.9" />
<line x1="1659.1" y1="302.3" x2="1659.1" y2="305.3" stroke="#333" stroke-width="0.9" />
<line x1="1661.8" y1="302.3" x2="1661.8" y2="305.3" stroke="#333" stroke-width="0.9" />
<line x1="1663.8" y1="302.3" x2="1663.8" y2="305.3" stroke="#333" stroke-width="0.9" />
<line x1="1665.2" y1="302.3" x2="1665.2" y2="305.3" stroke="#333" stroke-width="0.9" />
<line x1="1666.5" y1="302.3" x2="1666.5" y2="305.3" stroke="#333" stroke-width="0.9" />
<line x1="1667.5" y1="302.3" x2="1667.5" y2="305.3" stroke="#333" stroke-width="0.9" />
<line x1="1668.4" y1="302.3" x2="1668.4" y2="305.3" stroke="#333" stroke-width="0.9" />
<line x1="1669.1" y1="302.3" x2="1669.1" y2="305.3" stroke="#333" stroke-width="0.9" />
<text x="1526.7" y="336.1" font-size="22" text-anchor="middle" >0</text>
<text x="1608.2" y="336.1" font-size="22" text-anchor="middle" >10<tspan font-size="15" dy="-8.5">4</tspan></text>
<text x="1656.8" y="336.1" font-size="22" text-anchor="middle" >10<tspan font-size="15" dy="-8.5">5</tspan></text>
<rect x="1473.6" y="56.1" width="30.3" height="30.0" fill="#808080" stroke="none" stroke-width="0" />
<text x="1516.5" y="81.0" font-size="26.5" text-anchor="start" >WT</text>
<rect x="1576.5" y="57.1" width="27.6" height="27.6" fill="#fff" stroke="#ff0000" stroke-width="2" />
<text x="1619.2" y="81.0" font-size="26.5" text-anchor="start" >KO</text>
<text x="1406.6" y="233.9" font-size="25.5" text-anchor="middle" transform="rotate(-90 1406.6 233.9)" >Cell count</text>
<line x1="1399.8" y1="158.8" x2="1399.8" y2="120.7" stroke="#000" stroke-width="2.5" />
<polygon points="1399.8,105.7 1410.8,127.7 1399.8,121.7 1388.8,127.7" fill="#000"/>
<text x="1463.8" y="374.1" font-size="25.5" text-anchor="start" >CD206 -APC</text>
<line x1="1621.0" y1="366.0" x2="1659.3" y2="366.0" stroke="#000" stroke-width="2.5" />
<polygon points="1674.3,366.0 1652.3,377.0 1658.3,366.0 1652.3,355.0" fill="#000"/>
<line x1="1807.9" y1="70.8" x2="1807.9" y2="306.6" stroke="#000" stroke-width="2.4" />
<line x1="1801.1" y1="305.4" x2="1807.9" y2="305.4" stroke="#000" stroke-width="2.4" />
<text x="1798.1" y="313.3" font-size="22" text-anchor="end" >0</text>
<line x1="1801.1" y1="258.9" x2="1807.9" y2="258.9" stroke="#000" stroke-width="2.4" />
<text x="1798.1" y="266.8" font-size="22" text-anchor="end" >5000</text>
<line x1="1801.1" y1="212.4" x2="1807.9" y2="212.4" stroke="#000" stroke-width="2.4" />
<text x="1798.1" y="220.3" font-size="22" text-anchor="end" >10000</text>
<line x1="1801.1" y1="165.9" x2="1807.9" y2="165.9" stroke="#000" stroke-width="2.4" />
<text x="1798.1" y="173.8" font-size="22" text-anchor="end" >15000</text>
<line x1="1801.1" y1="119.4" x2="1807.9" y2="119.4" stroke="#000" stroke-width="2.4" />
<text x="1798.1" y="127.3" font-size="22" text-anchor="end" >20000</text>
<line x1="1801.1" y1="72.9" x2="1807.9" y2="72.9" stroke="#000" stroke-width="2.4" />
<text x="1798.1" y="80.8" font-size="22" text-anchor="end" >25000</text>
<rect x="1825.5" y="151.2" width="42.7" height="154.2" fill="#5858f8" stroke="#000" stroke-width="2.4" />
<rect x="1902.2" y="239.7" width="43.0" height="65.7" fill="#ff0000" stroke="#000" stroke-width="2.4" />
<line x1="1801.2" y1="305.4" x2="1963.3" y2="305.4" stroke="#000" stroke-width="2.4" />
<line x1="1846.7" y1="305.4" x2="1846.7" y2="312.4" stroke="#000" stroke-width="2.4" />
<line x1="1923.7" y1="305.4" x2="1923.7" y2="312.4" stroke="#000" stroke-width="2.4" />
<text x="1847.0" y="339.9" font-size="26.5" text-anchor="middle" >WT</text>
<text x="1926.4" y="339.9" font-size="26.5" text-anchor="middle" >KO</text>
<text x="1724.5" y="186.6" font-size="25.3" text-anchor="middle" transform="rotate(-90 1724.5 186.6)" >CD206 (MFI)</text>
<path d="M1846.4,99.3 V88.4 H1927.9 V99.3" fill="none" stroke="#000" stroke-width="2.2" />
<text x="1888.5" y="87.2" font-size="28" text-anchor="middle" >***</text>
<line x1="1846.7" y1="140.6" x2="1846.7" y2="161.6" stroke="#000" stroke-width="2.2" />
<line x1="1835.7" y1="140.6" x2="1857.7" y2="140.6" stroke="#000" stroke-width="2.2" />
<line x1="1835.7" y1="161.6" x2="1857.7" y2="161.6" stroke="#000" stroke-width="2.2" />
<line x1="1923.7" y1="230.4" x2="1923.7" y2="248.1" stroke="#000" stroke-width="2.2" />
<line x1="1912.7" y1="230.4" x2="1934.7" y2="230.4" stroke="#000" stroke-width="2.2" />
<line x1="1912.7" y1="248.1" x2="1934.7" y2="248.1" stroke="#000" stroke-width="2.2" />
<circle cx="1846.7" cy="113.3" r="5.7" fill="#000" />
<circle cx="1860.7" cy="126.8" r="5.7" fill="#000" />
<circle cx="1832.9" cy="129.3" r="5.7" fill="#000" />
<circle cx="1846.7" cy="136.0" r="5.7" fill="#000" />
<circle cx="1853.4" cy="141.6" r="5.7" fill="#000" />
<circle cx="1839.6" cy="152.0" r="5.7" fill="#000" />
<circle cx="1839.6" cy="170.2" r="5.7" fill="#000" />
<circle cx="1853.4" cy="174.0" r="5.7" fill="#000" />
<circle cx="1846.7" cy="216.9" r="5.7" fill="#000" />
<rect x="1932.0" y="201.8" width="11.5" height="11.5" fill="#000" rx="1"/>
<rect x="1904.2" y="211.7" width="11.5" height="11.5" fill="#000" rx="1"/>
<rect x="1918.0" y="211.7" width="11.5" height="11.5" fill="#000" rx="1"/>
<rect x="1904.2" y="236.4" width="11.5" height="11.5" fill="#000" rx="1"/>
<rect x="1924.8" y="233.9" width="11.5" height="11.5" fill="#000" rx="1"/>
<rect x="1910.8" y="247.8" width="11.5" height="11.5" fill="#000" rx="1"/>
<rect x="1924.8" y="253.2" width="11.5" height="11.5" fill="#000" rx="1"/>
<rect x="1918.0" y="273.1" width="11.5" height="11.5" fill="#000" rx="1"/>
<text x="0.0" y="433.0" font-size="40" text-anchor="start" font-weight="bold" >f</text>
<path d="M153.1,674.1 L153.1,671.9 L158.6,665.5 L162.3,654.4 L166.0,636.1 L170.6,619.5 L174.3,608.5 L177.0,586.5 L179.8,568.1 L182.5,562.6 L185.3,531.3 L188.0,521.2 L190.8,523.1 L192.6,529.5 L195.4,520.3 L198.2,517.5 L200.0,518.5 L201.8,503.8 L203.7,497.9 L205.5,505.6 L207.3,515.7 L210.1,513.9 L211.9,522.1 L213.8,517.5 L216.5,517.5 L218.4,525.8 L220.2,535.0 L222.1,548.8 L224.8,549.7 L227.6,558.9 L230.3,569.9 L232.2,565.3 L234.0,571.8 L236.8,588.3 L238.6,592.9 L241.4,591.6 L244.1,597.5 L245.9,603.0 L248.7,601.2 L251.5,604.8 L254.2,613.1 L257.0,614.0 L259.7,619.5 L263.4,628.7 L266.2,624.1 L268.9,626.9 L271.7,635.1 L274.4,633.3 L277.2,639.7 L280.0,646.2 L282.7,645.3 L287.3,650.8 L292.8,656.3 L298.3,664.5 L303.8,669.1 L311.2,672.8 L316.7,674.1 L316.7,674.1 Z" fill="#808080" stroke="none" stroke-width="0" />
<path d="M153.1,669.1 L156.8,670.6 L160.5,666.4 L164.1,664.5 L168.7,654.4 L173.3,648.0 L177.0,636.1 L179.8,634.2 L182.2,637.0 L184.4,626.9 L186.2,617.7 L189.0,613.1 L191.7,610.3 L195.4,599.3 L198.2,588.3 L200.9,580.9 L203.7,581.9 L205.5,572.7 L207.3,559.8 L210.1,560.7 L212.9,551.5 L215.6,543.3 L217.5,553.4 L220.2,529.5 L222.1,517.5 L224.8,521.2 L227.6,525.8 L230.3,525.4 L232.2,529.5 L234.0,513.0 L236.8,495.5 L238.6,503.8 L240.4,514.8 L242.3,516.6 L245.0,525.8 L246.9,518.5 L248.7,521.2 L250.5,533.2 L252.4,541.4 L256.1,543.3 L257.9,551.5 L260.7,568.1 L263.4,580.9 L266.2,595.6 L268.0,603.0 L271.7,599.3 L273.5,603.0 L276.3,612.2 L278.1,617.7 L280.9,629.6 L284.5,637.9 L288.2,647.1 L292.8,653.5 L296.5,660.0 L302.0,665.5 L307.5,669.1 L314.9,671.3 L324.1,672.4 L335.1,673.4 L353.5,673.7" fill="none" stroke="#ff0000" stroke-width="3" stroke-linejoin="round"/>
<rect x="152.2" y="474.0" width="202.2" height="200.1" fill="none" stroke="#000" stroke-width="2.6" />
<line x1="145.7" y1="674.1" x2="152.2" y2="674.1" stroke="#000" stroke-width="2" />
<text x="137.7" y="682.5" font-size="22" text-anchor="end" >0</text>
<line x1="149.2" y1="664.5" x2="152.2" y2="664.5" stroke="#000" stroke-width="1" />
<line x1="149.2" y1="655.0" x2="152.2" y2="655.0" stroke="#000" stroke-width="1" />
<line x1="149.2" y1="645.4" x2="152.2" y2="645.4" stroke="#000" stroke-width="1" />
<line x1="145.7" y1="635.8" x2="152.2" y2="635.8" stroke="#000" stroke-width="2" />
<text x="137.7" y="644.7" font-size="22" text-anchor="end" >20</text>
<line x1="149.2" y1="626.2" x2="152.2" y2="626.2" stroke="#000" stroke-width="1" />
<line x1="149.2" y1="616.6" x2="152.2" y2="616.6" stroke="#000" stroke-width="1" />
<line x1="149.2" y1="607.1" x2="152.2" y2="607.1" stroke="#000" stroke-width="1" />
<line x1="145.7" y1="597.5" x2="152.2" y2="597.5" stroke="#000" stroke-width="2" />
<text x="137.7" y="606.8" font-size="22" text-anchor="end" >40</text>
<line x1="149.2" y1="587.9" x2="152.2" y2="587.9" stroke="#000" stroke-width="1" />
<line x1="149.2" y1="578.4" x2="152.2" y2="578.4" stroke="#000" stroke-width="1" />
<line x1="149.2" y1="568.8" x2="152.2" y2="568.8" stroke="#000" stroke-width="1" />
<line x1="145.7" y1="559.2" x2="152.2" y2="559.2" stroke="#000" stroke-width="2" />
<text x="137.7" y="568.9" font-size="22" text-anchor="end" >60</text>
<line x1="149.2" y1="549.6" x2="152.2" y2="549.6" stroke="#000" stroke-width="1" />
<line x1="149.2" y1="540.0" x2="152.2" y2="540.0" stroke="#000" stroke-width="1" />
<line x1="149.2" y1="530.5" x2="152.2" y2="530.5" stroke="#000" stroke-width="1" />
<line x1="145.7" y1="520.9" x2="152.2" y2="520.9" stroke="#000" stroke-width="2" />
<text x="137.7" y="531.1" font-size="22" text-anchor="end" >80</text>
<line x1="149.2" y1="511.3" x2="152.2" y2="511.3" stroke="#000" stroke-width="1" />
<line x1="149.2" y1="501.8" x2="152.2" y2="501.8" stroke="#000" stroke-width="1" />
<line x1="149.2" y1="492.2" x2="152.2" y2="492.2" stroke="#000" stroke-width="1" />
<line x1="145.7" y1="482.6" x2="152.2" y2="482.6" stroke="#000" stroke-width="2" />
<text x="137.7" y="493.2" font-size="22" text-anchor="end" >100</text>
<line x1="158.3" y1="674.1" x2="158.3" y2="679.6" stroke="#000" stroke-width="1.6" />
<line x1="183.9" y1="674.1" x2="183.9" y2="679.6" stroke="#000" stroke-width="1.6" />
<line x1="204.6" y1="674.1" x2="204.6" y2="680.1" stroke="#000" stroke-width="3.2" />
<line x1="225.2" y1="674.1" x2="225.2" y2="679.6" stroke="#000" stroke-width="1.6" />
<line x1="283.2" y1="674.1" x2="283.2" y2="679.6" stroke="#000" stroke-width="1.6" />
<line x1="331.3" y1="674.1" x2="331.3" y2="679.6" stroke="#000" stroke-width="1.6" />
<line x1="347.1" y1="674.1" x2="347.1" y2="679.6" stroke="#000" stroke-width="1.6" />
<line x1="166.0" y1="674.1" x2="166.0" y2="677.1" stroke="#333" stroke-width="0.9" />
<line x1="170.5" y1="674.1" x2="170.5" y2="677.1" stroke="#333" stroke-width="0.9" />
<line x1="173.7" y1="674.1" x2="173.7" y2="677.1" stroke="#333" stroke-width="0.9" />
<line x1="176.2" y1="674.1" x2="176.2" y2="677.1" stroke="#333" stroke-width="0.9" />
<line x1="178.2" y1="674.1" x2="178.2" y2="677.1" stroke="#333" stroke-width="0.9" />
<line x1="180.0" y1="674.1" x2="180.0" y2="677.1" stroke="#333" stroke-width="0.9" />
<line x1="181.5" y1="674.1" x2="181.5" y2="677.1" stroke="#333" stroke-width="0.9" />
<line x1="182.8" y1="674.1" x2="182.8" y2="677.1" stroke="#333" stroke-width="0.9" />
<line x1="190.2" y1="674.1" x2="190.2" y2="677.1" stroke="#333" stroke-width="0.9" />
<line x1="193.8" y1="674.1" x2="193.8" y2="677.1" stroke="#333" stroke-width="0.9" />
<line x1="196.4" y1="674.1" x2="196.4" y2="677.1" stroke="#333" stroke-width="0.9" />
<line x1="198.4" y1="674.1" x2="198.4" y2="677.1" stroke="#333" stroke-width="0.9" />
<line x1="200.0" y1="674.1" x2="200.0" y2="677.1" stroke="#333" stroke-width="0.9" />
<line x1="201.4" y1="674.1" x2="201.4" y2="677.1" stroke="#333" stroke-width="0.9" />
<line x1="202.6" y1="674.1" x2="202.6" y2="677.1" stroke="#333" stroke-width="0.9" />
<line x1="203.6" y1="674.1" x2="203.6" y2="677.1" stroke="#333" stroke-width="0.9" />
<line x1="210.8" y1="674.1" x2="210.8" y2="677.1" stroke="#333" stroke-width="0.9" />
<line x1="214.4" y1="674.1" x2="214.4" y2="677.1" stroke="#333" stroke-width="0.9" />
<line x1="217.0" y1="674.1" x2="217.0" y2="677.1" stroke="#333" stroke-width="0.9" />
<line x1="219.0" y1="674.1" x2="219.0" y2="677.1" stroke="#333" stroke-width="0.9" />
<line x1="220.6" y1="674.1" x2="220.6" y2="677.1" stroke="#333" stroke-width="0.9" />
<line x1="222.0" y1="674.1" x2="222.0" y2="677.1" stroke="#333" stroke-width="0.9" />
<line x1="223.2" y1="674.1" x2="223.2" y2="677.1" stroke="#333" stroke-width="0.9" />
<line x1="224.3" y1="674.1" x2="224.3" y2="677.1" stroke="#333" stroke-width="0.9" />
<line x1="242.7" y1="674.1" x2="242.7" y2="677.1" stroke="#333" stroke-width="0.9" />
<line x1="252.9" y1="674.1" x2="252.9" y2="677.1" stroke="#333" stroke-width="0.9" />
<line x1="260.1" y1="674.1" x2="260.1" y2="677.1" stroke="#333" stroke-width="0.9" />
<line x1="265.8" y1="674.1" x2="265.8" y2="677.1" stroke="#333" stroke-width="0.9" />
<line x1="270.4" y1="674.1" x2="270.4" y2="677.1" stroke="#333" stroke-width="0.9" />
<line x1="274.2" y1="674.1" x2="274.2" y2="677.1" stroke="#333" stroke-width="0.9" />
<line x1="277.6" y1="674.1" x2="277.6" y2="677.1" stroke="#333" stroke-width="0.9" />
<line x1="280.6" y1="674.1" x2="280.6" y2="677.1" stroke="#333" stroke-width="0.9" />
<line x1="297.7" y1="674.1" x2="297.7" y2="677.1" stroke="#333" stroke-width="0.9" />
<line x1="306.2" y1="674.1" x2="306.2" y2="677.1" stroke="#333" stroke-width="0.9" />
<line x1="312.2" y1="674.1" x2="312.2" y2="677.1" stroke="#333" stroke-width="0.9" />
<line x1="316.9" y1="674.1" x2="316.9" y2="677.1" stroke="#333" stroke-width="0.9" />
<line x1="320.7" y1="674.1" x2="320.7" y2="677.1" stroke="#333" stroke-width="0.9" />
<line x1="323.9" y1="674.1" x2="323.9" y2="677.1" stroke="#333" stroke-width="0.9" />
<line x1="326.7" y1="674.1" x2="326.7" y2="677.1" stroke="#333" stroke-width="0.9" />
<line x1="329.1" y1="674.1" x2="329.1" y2="677.1" stroke="#333" stroke-width="0.9" />
<line x1="336.1" y1="674.1" x2="336.1" y2="677.1" stroke="#333" stroke-width="0.9" />
<line x1="338.9" y1="674.1" x2="338.9" y2="677.1" stroke="#333" stroke-width="0.9" />
<line x1="340.8" y1="674.1" x2="340.8" y2="677.1" stroke="#333" stroke-width="0.9" />
<line x1="342.4" y1="674.1" x2="342.4" y2="677.1" stroke="#333" stroke-width="0.9" />
<line x1="343.6" y1="674.1" x2="343.6" y2="677.1" stroke="#333" stroke-width="0.9" />
<line x1="344.7" y1="674.1" x2="344.7" y2="677.1" stroke="#333" stroke-width="0.9" />
<line x1="345.6" y1="674.1" x2="345.6" y2="677.1" stroke="#333" stroke-width="0.9" />
<line x1="346.4" y1="674.1" x2="346.4" y2="677.1" stroke="#333" stroke-width="0.9" />
<text x="204.6" y="707.9" font-size="22" text-anchor="middle" >0</text>
<text x="285.5" y="707.9" font-size="22" text-anchor="middle" >10<tspan font-size="15" dy="-8.5">4</tspan></text>
<text x="334.2" y="707.9" font-size="22" text-anchor="middle" >10<tspan font-size="15" dy="-8.5">5</tspan></text>
<rect x="152.8" y="427.5" width="30.3" height="30.0" fill="#808080" stroke="none" stroke-width="0" />
<text x="193.2" y="452.4" font-size="26.5" text-anchor="start" >WT</text>
<rect x="250.6" y="428.5" width="27.6" height="27.6" fill="#fff" stroke="#ff0000" stroke-width="2" />
<text x="289.5" y="452.4" font-size="26.5" text-anchor="start" >KO</text>
<text x="85.1" y="598.9" font-size="25.5" text-anchor="middle" transform="rotate(-90 85.1 598.9)" >Cell count</text>
<line x1="79.3" y1="524.3" x2="79.3" y2="490.8" stroke="#000" stroke-width="2.5" />
<polygon points="79.3,475.8 90.3,497.8 79.3,491.8 68.3,497.8" fill="#000"/>
<text x="151.9" y="747.3" font-size="25.5" text-anchor="start" >CD69 -PE</text>
<line x1="290.0" y1="737.5" x2="328.4" y2="737.5" stroke="#000" stroke-width="2.5" />
<polygon points="343.4,737.5 321.4,748.5 327.4,737.5 321.4,726.5" fill="#000"/>
<line x1="467.0" y1="441.0" x2="467.0" y2="676.2" stroke="#000" stroke-width="2.4" />
<line x1="460.2" y1="675.0" x2="467.0" y2="675.0" stroke="#000" stroke-width="2.4" />
<text x="457.2" y="682.9" font-size="22" text-anchor="end" >0</text>
<line x1="460.2" y1="628.6" x2="467.0" y2="628.6" stroke="#000" stroke-width="2.4" />
<text x="457.2" y="636.5" font-size="22" text-anchor="end" >1000</text>
<line x1="460.2" y1="582.2" x2="467.0" y2="582.2" stroke="#000" stroke-width="2.4" />
<text x="457.2" y="590.1" font-size="22" text-anchor="end" >2000</text>
<line x1="460.2" y1="535.8" x2="467.0" y2="535.8" stroke="#000" stroke-width="2.4" />
<text x="457.2" y="543.7" font-size="22" text-anchor="end" >3000</text>
<line x1="460.2" y1="489.4" x2="467.0" y2="489.4" stroke="#000" stroke-width="2.4" />
<text x="457.2" y="497.3" font-size="22" text-anchor="end" >4000</text>
<line x1="460.2" y1="443.0" x2="467.0" y2="443.0" stroke="#000" stroke-width="2.4" />
<text x="457.2" y="450.9" font-size="22" text-anchor="end" >5000</text>
<rect x="484.0" y="611.6" width="42.4" height="63.4" fill="#5858f8" stroke="#000" stroke-width="2.4" />
<rect x="561.0" y="551.5" width="42.6" height="123.5" fill="#ff0000" stroke="#000" stroke-width="2.4" />
<line x1="460.2" y1="675.0" x2="621.9" y2="675.0" stroke="#000" stroke-width="2.4" />
<line x1="505.2" y1="675.0" x2="505.2" y2="682.0" stroke="#000" stroke-width="2.4" />
<line x1="582.4" y1="675.0" x2="582.4" y2="682.0" stroke="#000" stroke-width="2.4" />
<text x="505.2" y="709.6" font-size="26.5" text-anchor="middle" >WT</text>
<text x="584.8" y="709.6" font-size="26.5" text-anchor="middle" >KO</text>
<text x="393.1" y="556.6" font-size="25.3" text-anchor="middle" transform="rotate(-90 393.1 556.6)" >CD69 (MFI)</text>
<path d="M507.0,467.0 V455.0 H585.1 V467.0" fill="none" stroke="#000" stroke-width="2.2" />
<text x="543.8" y="451.1" font-size="28" text-anchor="middle" >***</text>
<line x1="505.2" y1="603.3" x2="505.2" y2="619.5" stroke="#000" stroke-width="2.2" />
<line x1="494.2" y1="603.3" x2="516.2" y2="603.3" stroke="#000" stroke-width="2.2" />
<line x1="494.2" y1="619.5" x2="516.2" y2="619.5" stroke="#000" stroke-width="2.2" />
<line x1="582.4" y1="540.5" x2="582.4" y2="562.5" stroke="#000" stroke-width="2.2" />
<line x1="571.4" y1="540.5" x2="593.4" y2="540.5" stroke="#000" stroke-width="2.2" />
<line x1="571.4" y1="562.5" x2="593.4" y2="562.5" stroke="#000" stroke-width="2.2" />
<circle cx="491.4" cy="588.3" r="5.7" fill="#000" />
<circle cx="519.0" cy="584.6" r="5.7" fill="#000" />
<circle cx="505.2" cy="592.3" r="5.7" fill="#000" />
<circle cx="491.4" cy="604.8" r="5.7" fill="#000" />
<circle cx="519.0" cy="605.7" r="5.7" fill="#000" />
<circle cx="505.2" cy="610.3" r="5.7" fill="#000" />
<circle cx="497.8" cy="626.0" r="5.7" fill="#000" />
<circle cx="512.5" cy="634.6" r="5.7" fill="#000" />
<circle cx="505.2" cy="656.6" r="5.7" fill="#000" />
<rect x="576.6" y="488.4" width="11.5" height="11.5" fill="#000" rx="1"/>
<rect x="576.6" y="517.6" width="11.5" height="11.5" fill="#000" rx="1"/>
<rect x="562.9" y="544.0" width="11.5" height="11.5" fill="#000" rx="1"/>
<rect x="576.6" y="547.2" width="11.5" height="11.5" fill="#000" rx="1"/>
<rect x="590.5" y="545.5" width="11.5" height="11.5" fill="#000" rx="1"/>
<rect x="576.6" y="562.4" width="11.5" height="11.5" fill="#000" rx="1"/>
<rect x="569.6" y="583.5" width="11.5" height="11.5" fill="#000" rx="1"/>
<rect x="583.6" y="579.8" width="11.5" height="11.5" fill="#000" rx="1"/>
<text x="694.0" y="433.0" font-size="40" text-anchor="start" font-weight="bold" >g</text>
<path d="M857.0,674.1 L857.0,674.1 L862.5,665.5 L866.2,656.3 L869.9,647.1 L872.6,634.2 L875.4,625.0 L878.1,612.2 L880.0,593.8 L881.8,571.7 L884.6,566.2 L886.4,549.7 L888.3,529.5 L891.0,524.9 L892.8,530.4 L894.7,524.9 L896.5,521.2 L898.4,525.8 L900.2,531.3 L902.0,512.9 L903.9,503.7 L905.7,510.2 L907.5,522.1 L909.4,516.6 L911.2,503.7 L913.1,501.9 L914.9,516.6 L916.7,529.5 L919.5,530.4 L921.3,538.6 L923.2,534.1 L925.0,542.3 L926.8,549.7 L928.7,555.2 L930.5,562.5 L933.3,563.5 L935.1,555.2 L936.9,549.7 L938.8,555.2 L941.5,568.1 L944.3,578.2 L947.1,568.1 L948.9,564.4 L951.7,569.9 L954.4,560.7 L957.2,556.1 L959.0,554.3 L960.8,562.5 L962.7,573.6 L965.4,557.0 L967.3,548.8 L969.1,549.7 L970.9,559.8 L972.8,557.0 L975.5,566.2 L977.4,569.9 L979.2,580.9 L981.1,583.7 L983.8,579.1 L985.6,581.8 L987.5,589.2 L989.3,594.7 L991.2,604.8 L993.9,613.1 L995.8,615.8 L997.6,626.9 L1000.4,641.6 L1004.0,646.2 L1006.8,654.4 L1009.5,665.5 L1013.2,671.0 L1018.7,674.1 L1018.7,674.1 Z" fill="#808080" stroke="none" stroke-width="0" />
<path d="M833.1,673.2 L851.5,673.2 L857.0,671.0 L862.5,665.5 L868.0,661.8 L871.7,650.8 L875.4,642.5 L879.1,630.5 L882.7,619.5 L886.4,609.4 L889.2,591.9 L891.9,581.8 L893.8,577.2 L895.6,584.6 L897.4,583.7 L899.3,571.7 L901.1,563.5 L903.9,556.1 L905.7,557.0 L907.5,563.5 L910.3,560.7 L912.1,565.3 L914.0,553.3 L915.8,557.0 L917.7,562.5 L919.5,568.1 L922.2,559.8 L924.1,559.8 L925.9,576.3 L927.8,579.1 L929.6,561.6 L931.4,565.3 L933.3,580.0 L935.1,575.4 L936.9,566.2 L939.7,559.8 L941.5,562.5 L943.4,567.1 L946.1,562.5 L948.0,561.6 L950.7,550.6 L952.6,547.8 L954.4,539.6 L956.2,551.5 L958.1,553.3 L959.9,535.0 L961.8,527.6 L964.5,526.7 L966.4,523.0 L969.1,512.9 L971.9,501.0 L973.7,503.7 L975.5,498.2 L978.3,493.6 L980.1,501.9 L982.0,512.9 L983.8,509.2 L984.7,494.5 L986.6,496.4 L987.5,509.2 L989.3,527.6 L991.2,538.6 L993.9,548.8 L996.7,564.4 L998.5,579.1 L1000.4,595.6 L1002.2,612.2 L1004.9,625.0 L1007.7,637.9 L1011.4,652.6 L1015.1,663.6 L1018.7,670.1 L1024.2,672.4 L1033.4,673.4" fill="none" stroke="#ff0000" stroke-width="3" stroke-linejoin="round"/>
<rect x="832.2" y="473.4" width="202.7" height="200.7" fill="none" stroke="#000" stroke-width="2.6" />
<line x1="825.7" y1="674.1" x2="832.2" y2="674.1" stroke="#000" stroke-width="2" />
<text x="820.5" y="682.5" font-size="22" text-anchor="end" >0</text>
<line x1="829.2" y1="664.5" x2="832.2" y2="664.5" stroke="#000" stroke-width="1" />
<line x1="829.2" y1="654.9" x2="832.2" y2="654.9" stroke="#000" stroke-width="1" />
<line x1="829.2" y1="645.2" x2="832.2" y2="645.2" stroke="#000" stroke-width="1" />
<line x1="825.7" y1="635.6" x2="832.2" y2="635.6" stroke="#000" stroke-width="2" />
<text x="820.5" y="644.5" font-size="22" text-anchor="end" >20</text>
<line x1="829.2" y1="626.0" x2="832.2" y2="626.0" stroke="#000" stroke-width="1" />
<line x1="829.2" y1="616.4" x2="832.2" y2="616.4" stroke="#000" stroke-width="1" />
<line x1="829.2" y1="606.8" x2="832.2" y2="606.8" stroke="#000" stroke-width="1" />
<line x1="825.7" y1="597.1" x2="832.2" y2="597.1" stroke="#000" stroke-width="2" />
<text x="820.5" y="606.4" font-size="22" text-anchor="end" >40</text>
<line x1="829.2" y1="587.5" x2="832.2" y2="587.5" stroke="#000" stroke-width="1" />
<line x1="829.2" y1="577.9" x2="832.2" y2="577.9" stroke="#000" stroke-width="1" />
<line x1="829.2" y1="568.3" x2="832.2" y2="568.3" stroke="#000" stroke-width="1" />
<line x1="825.7" y1="558.7" x2="832.2" y2="558.7" stroke="#000" stroke-width="2" />
<text x="820.5" y="568.4" font-size="22" text-anchor="end" >60</text>
<line x1="829.2" y1="549.0" x2="832.2" y2="549.0" stroke="#000" stroke-width="1" />
<line x1="829.2" y1="539.4" x2="832.2" y2="539.4" stroke="#000" stroke-width="1" />
<line x1="829.2" y1="529.8" x2="832.2" y2="529.8" stroke="#000" stroke-width="1" />
<line x1="825.7" y1="520.2" x2="832.2" y2="520.2" stroke="#000" stroke-width="2" />
<text x="820.5" y="530.4" font-size="22" text-anchor="end" >80</text>
<line x1="829.2" y1="510.6" x2="832.2" y2="510.6" stroke="#000" stroke-width="1" />
<line x1="829.2" y1="500.9" x2="832.2" y2="500.9" stroke="#000" stroke-width="1" />
<line x1="829.2" y1="491.3" x2="832.2" y2="491.3" stroke="#000" stroke-width="1" />
<line x1="825.7" y1="481.7" x2="832.2" y2="481.7" stroke="#000" stroke-width="2" />
<text x="820.5" y="492.3" font-size="22" text-anchor="end" >100</text>
<line x1="837.3" y1="674.1" x2="837.3" y2="679.6" stroke="#000" stroke-width="1.6" />
<line x1="853.9" y1="674.1" x2="853.9" y2="679.6" stroke="#000" stroke-width="1.6" />
<line x1="881.3" y1="674.1" x2="881.3" y2="680.1" stroke="#000" stroke-width="3.2" />
<line x1="908.8" y1="674.1" x2="908.8" y2="679.6" stroke="#000" stroke-width="1.6" />
<line x1="966.4" y1="674.1" x2="966.4" y2="679.6" stroke="#000" stroke-width="1.6" />
<line x1="1014.2" y1="674.1" x2="1014.2" y2="679.6" stroke="#000" stroke-width="1.6" />
<line x1="1030.8" y1="674.1" x2="1030.8" y2="679.6" stroke="#000" stroke-width="1.6" />
<line x1="842.3" y1="674.1" x2="842.3" y2="677.1" stroke="#333" stroke-width="0.9" />
<line x1="845.2" y1="674.1" x2="845.2" y2="677.1" stroke="#333" stroke-width="0.9" />
<line x1="847.3" y1="674.1" x2="847.3" y2="677.1" stroke="#333" stroke-width="0.9" />
<line x1="848.9" y1="674.1" x2="848.9" y2="677.1" stroke="#333" stroke-width="0.9" />
<line x1="850.2" y1="674.1" x2="850.2" y2="677.1" stroke="#333" stroke-width="0.9" />
<line x1="851.3" y1="674.1" x2="851.3" y2="677.1" stroke="#333" stroke-width="0.9" />
<line x1="852.3" y1="674.1" x2="852.3" y2="677.1" stroke="#333" stroke-width="0.9" />
<line x1="853.1" y1="674.1" x2="853.1" y2="677.1" stroke="#333" stroke-width="0.9" />
<line x1="862.1" y1="674.1" x2="862.1" y2="677.1" stroke="#333" stroke-width="0.9" />
<line x1="866.9" y1="674.1" x2="866.9" y2="677.1" stroke="#333" stroke-width="0.9" />
<line x1="870.4" y1="674.1" x2="870.4" y2="677.1" stroke="#333" stroke-width="0.9" />
<line x1="873.0" y1="674.1" x2="873.0" y2="677.1" stroke="#333" stroke-width="0.9" />
<line x1="875.2" y1="674.1" x2="875.2" y2="677.1" stroke="#333" stroke-width="0.9" />
<line x1="877.0" y1="674.1" x2="877.0" y2="677.1" stroke="#333" stroke-width="0.9" />
<line x1="878.6" y1="674.1" x2="878.6" y2="677.1" stroke="#333" stroke-width="0.9" />
<line x1="880.0" y1="674.1" x2="880.0" y2="677.1" stroke="#333" stroke-width="0.9" />
<line x1="889.6" y1="674.1" x2="889.6" y2="677.1" stroke="#333" stroke-width="0.9" />
<line x1="894.4" y1="674.1" x2="894.4" y2="677.1" stroke="#333" stroke-width="0.9" />
<line x1="897.9" y1="674.1" x2="897.9" y2="677.1" stroke="#333" stroke-width="0.9" />
<line x1="900.5" y1="674.1" x2="900.5" y2="677.1" stroke="#333" stroke-width="0.9" />
<line x1="902.7" y1="674.1" x2="902.7" y2="677.1" stroke="#333" stroke-width="0.9" />
<line x1="904.6" y1="674.1" x2="904.6" y2="677.1" stroke="#333" stroke-width="0.9" />
<line x1="906.1" y1="674.1" x2="906.1" y2="677.1" stroke="#333" stroke-width="0.9" />
<line x1="907.6" y1="674.1" x2="907.6" y2="677.1" stroke="#333" stroke-width="0.9" />
<line x1="926.1" y1="674.1" x2="926.1" y2="677.1" stroke="#333" stroke-width="0.9" />
<line x1="936.3" y1="674.1" x2="936.3" y2="677.1" stroke="#333" stroke-width="0.9" />
<line x1="943.5" y1="674.1" x2="943.5" y2="677.1" stroke="#333" stroke-width="0.9" />
<line x1="949.1" y1="674.1" x2="949.1" y2="677.1" stroke="#333" stroke-width="0.9" />
<line x1="953.6" y1="674.1" x2="953.6" y2="677.1" stroke="#333" stroke-width="0.9" />
<line x1="957.5" y1="674.1" x2="957.5" y2="677.1" stroke="#333" stroke-width="0.9" />
<line x1="960.8" y1="674.1" x2="960.8" y2="677.1" stroke="#333" stroke-width="0.9" />
<line x1="963.8" y1="674.1" x2="963.8" y2="677.1" stroke="#333" stroke-width="0.9" />
<line x1="980.8" y1="674.1" x2="980.8" y2="677.1" stroke="#333" stroke-width="0.9" />
<line x1="989.2" y1="674.1" x2="989.2" y2="677.1" stroke="#333" stroke-width="0.9" />
<line x1="995.2" y1="674.1" x2="995.2" y2="677.1" stroke="#333" stroke-width="0.9" />
<line x1="999.8" y1="674.1" x2="999.8" y2="677.1" stroke="#333" stroke-width="0.9" />
<line x1="1003.6" y1="674.1" x2="1003.6" y2="677.1" stroke="#333" stroke-width="0.9" />
<line x1="1006.8" y1="674.1" x2="1006.8" y2="677.1" stroke="#333" stroke-width="0.9" />
<line x1="1009.6" y1="674.1" x2="1009.6" y2="677.1" stroke="#333" stroke-width="0.9" />
<line x1="1012.0" y1="674.1" x2="1012.0" y2="677.1" stroke="#333" stroke-width="0.9" />
<line x1="1019.2" y1="674.1" x2="1019.2" y2="677.1" stroke="#333" stroke-width="0.9" />
<line x1="1022.2" y1="674.1" x2="1022.2" y2="677.1" stroke="#333" stroke-width="0.9" />
<line x1="1024.2" y1="674.1" x2="1024.2" y2="677.1" stroke="#333" stroke-width="0.9" />
<line x1="1025.8" y1="674.1" x2="1025.8" y2="677.1" stroke="#333" stroke-width="0.9" />
<line x1="1027.2" y1="674.1" x2="1027.2" y2="677.1" stroke="#333" stroke-width="0.9" />
<line x1="1028.3" y1="674.1" x2="1028.3" y2="677.1" stroke="#333" stroke-width="0.9" />
<line x1="1029.2" y1="674.1" x2="1029.2" y2="677.1" stroke="#333" stroke-width="0.9" />
<line x1="1030.1" y1="674.1" x2="1030.1" y2="677.1" stroke="#333" stroke-width="0.9" />
<text x="880.9" y="707.9" font-size="22" text-anchor="middle" >0</text>
<text x="966.9" y="707.9" font-size="22" text-anchor="middle" >10<tspan font-size="15" dy="-8.5">4</tspan></text>
<text x="1015.1" y="707.9" font-size="22" text-anchor="middle" >10<tspan font-size="15" dy="-8.5">5</tspan></text>
<rect x="831.9" y="427.8" width="30.3" height="30.0" fill="#808080" stroke="none" stroke-width="0" />
<text x="873.6" y="452.7" font-size="26.5" text-anchor="start" >WT</text>
<rect x="934.3" y="428.8" width="27.6" height="27.6" fill="#fff" stroke="#ff0000" stroke-width="2" />
<text x="976.9" y="452.7" font-size="26.5" text-anchor="start" >KO</text>
<text x="769.2" y="612.6" font-size="25.5" text-anchor="middle" transform="rotate(-90 769.2 612.6)" >Cell count</text>
<line x1="761.5" y1="532.2" x2="761.5" y2="494.8" stroke="#000" stroke-width="2.5" />
<polygon points="761.5,479.8 772.5,501.8 761.5,495.8 750.5,501.8" fill="#000"/>
<text x="819.7" y="746.3" font-size="25.5" text-anchor="start" >CD86 -APC</text>
<line x1="964.5" y1="735.3" x2="1016.3" y2="735.3" stroke="#000" stroke-width="2.5" />
<polygon points="1031.3,735.3 1009.3,746.3 1015.3,735.3 1009.3,724.3" fill="#000"/>
<line x1="1202.1" y1="442.4" x2="1202.1" y2="677.1" stroke="#000" stroke-width="2.4" />
<line x1="1195.3" y1="675.9" x2="1202.1" y2="675.9" stroke="#000" stroke-width="2.4" />
<text x="1192.3" y="683.8" font-size="22" text-anchor="end" >0</text>
<line x1="1195.3" y1="618.0" x2="1202.1" y2="618.0" stroke="#000" stroke-width="2.4" />
<text x="1192.3" y="626.0" font-size="22" text-anchor="end" >4000</text>
<line x1="1195.3" y1="560.2" x2="1202.1" y2="560.2" stroke="#000" stroke-width="2.4" />
<text x="1192.3" y="568.1" font-size="22" text-anchor="end" >8000</text>
<line x1="1195.3" y1="502.4" x2="1202.1" y2="502.4" stroke="#000" stroke-width="2.4" />
<text x="1192.3" y="510.3" font-size="22" text-anchor="end" >12000</text>
<line x1="1195.3" y1="444.5" x2="1202.1" y2="444.5" stroke="#000" stroke-width="2.4" />
<text x="1192.3" y="452.4" font-size="22" text-anchor="end" >16000</text>
<rect x="1218.9" y="527.6" width="43.2" height="148.3" fill="#5858f8" stroke="#000" stroke-width="2.4" />
<rect x="1296.3" y="488.7" width="43.0" height="187.2" fill="#ff0000" stroke="#000" stroke-width="2.4" />
<line x1="1195.3" y1="675.9" x2="1357.6" y2="675.9" stroke="#000" stroke-width="2.4" />
<line x1="1240.7" y1="675.9" x2="1240.7" y2="682.9" stroke="#000" stroke-width="2.4" />
<line x1="1317.9" y1="675.9" x2="1317.9" y2="682.9" stroke="#000" stroke-width="2.4" />
<text x="1240.9" y="711.0" font-size="26.5" text-anchor="middle" >WT</text>
<text x="1320.1" y="711.0" font-size="26.5" text-anchor="middle" >KO</text>
<text x="1115.4" y="558.4" font-size="25.3" text-anchor="middle" transform="rotate(-90 1115.4 558.4)" >CD86 (MFI)</text>
<path d="M1241.2,443.1 V431.7 H1319.4 V443.1" fill="none" stroke="#000" stroke-width="2.2" />
<text x="1278.9" y="431.8" font-size="28" text-anchor="middle" >**</text>
<line x1="1240.7" y1="516.6" x2="1240.7" y2="538.1" stroke="#000" stroke-width="2.2" />
<line x1="1229.7" y1="516.6" x2="1251.7" y2="516.6" stroke="#000" stroke-width="2.2" />
<line x1="1229.7" y1="538.1" x2="1251.7" y2="538.1" stroke="#000" stroke-width="2.2" />
<line x1="1317.9" y1="481.7" x2="1317.9" y2="496.0" stroke="#000" stroke-width="2.2" />
<line x1="1306.9" y1="481.7" x2="1328.9" y2="481.7" stroke="#000" stroke-width="2.2" />
<line x1="1306.9" y1="496.0" x2="1328.9" y2="496.0" stroke="#000" stroke-width="2.2" />
<circle cx="1226.5" cy="494.2" r="5.7" fill="#000" />
<circle cx="1240.3" cy="494.2" r="5.7" fill="#000" />
<circle cx="1254.7" cy="488.7" r="5.7" fill="#000" />
<circle cx="1247.7" cy="514.4" r="5.7" fill="#000" />
<circle cx="1233.5" cy="526.2" r="5.7" fill="#000" />
<circle cx="1233.5" cy="546.9" r="5.7" fill="#000" />
<circle cx="1247.7" cy="549.7" r="5.7" fill="#000" />
<circle cx="1247.7" cy="564.0" r="5.7" fill="#000" />
<circle cx="1233.5" cy="575.4" r="5.7" fill="#000" />
<rect x="1298.0" y="457.9" width="11.5" height="11.5" fill="#000" rx="1"/>
<rect x="1311.8" y="470.8" width="11.5" height="11.5" fill="#000" rx="1"/>
<rect x="1333.0" y="469.4" width="11.5" height="11.5" fill="#000" rx="1"/>
<rect x="1325.5" y="482.9" width="11.5" height="11.5" fill="#000" rx="1"/>
<rect x="1298.0" y="488.4" width="11.5" height="11.5" fill="#000" rx="1"/>
<rect x="1311.8" y="489.1" width="11.5" height="11.5" fill="#000" rx="1"/>
<rect x="1318.8" y="494.4" width="11.5" height="11.5" fill="#000" rx="1"/>
<rect x="1305.0" y="506.2" width="11.5" height="11.5" fill="#000" rx="1"/>
<text x="1378.5" y="433.0" font-size="40" text-anchor="start" font-weight="bold" >h</text>
<path d="M1484.0,674.7 L1484.0,674.7 L1489.5,665.5 L1495.0,654.5 L1498.7,641.6 L1502.3,626.9 L1506.0,610.4 L1508.8,595.7 L1511.5,579.1 L1513.4,562.6 L1515.2,553.4 L1517.0,553.4 L1518.9,560.7 L1520.7,553.4 L1522.6,538.7 L1524.4,527.6 L1527.1,516.6 L1529.0,512.9 L1530.8,501.9 L1532.7,499.7 L1534.5,509.2 L1536.3,515.7 L1538.2,522.1 L1540.0,513.8 L1541.8,516.6 L1543.7,523.0 L1546.4,529.5 L1548.3,542.3 L1550.1,555.2 L1552.0,562.6 L1553.8,573.6 L1555.6,589.2 L1557.5,587.4 L1559.3,588.3 L1561.1,595.7 L1563.0,603.9 L1565.7,609.4 L1568.1,618.3 L1570.3,613.1 L1574.0,609.4 L1577.7,608.5 L1581.3,606.7 L1583.2,593.8 L1585.0,584.6 L1587.8,580.9 L1589.6,579.5 L1591.5,580.9 L1593.3,587.4 L1596.0,591.1 L1598.8,601.2 L1601.6,614.0 L1604.3,626.9 L1607.1,628.7 L1609.8,632.4 L1612.6,645.3 L1615.3,652.6 L1618.1,659.1 L1621.8,665.5 L1627.3,670.1 L1632.8,673.2 L1638.3,674.7 L1638.3,674.7 Z" fill="#808080" stroke="none" stroke-width="0" />
<path d="M1474.8,674.1 L1482.1,674.1 L1486.7,671.0 L1490.4,664.6 L1495.0,660.0 L1498.7,649.0 L1502.3,634.3 L1506.0,621.4 L1509.7,606.7 L1513.4,593.8 L1517.0,583.7 L1519.8,579.1 L1521.6,562.6 L1524.4,536.8 L1527.1,530.4 L1529.0,531.3 L1530.8,518.4 L1532.7,507.4 L1534.5,512.0 L1536.3,496.4 L1537.3,492.7 L1539.1,497.3 L1541.8,503.7 L1543.7,490.9 L1545.5,496.4 L1547.4,518.4 L1550.1,521.2 L1552.9,525.8 L1554.7,532.2 L1557.5,535.9 L1559.3,549.7 L1561.1,562.6 L1563.9,571.8 L1566.6,578.2 L1568.5,584.6 L1571.2,585.5 L1573.1,575.4 L1574.9,560.7 L1576.8,565.3 L1578.6,573.6 L1580.4,557.0 L1582.3,548.8 L1585.0,539.6 L1587.8,536.8 L1589.6,524.0 L1592.4,507.4 L1594.2,514.8 L1597.0,508.3 L1599.7,498.2 L1601.6,498.2 L1603.4,488.1 L1605.2,496.4 L1607.1,506.5 L1608.9,522.1 L1609.8,538.7 L1612.6,539.6 L1614.4,549.7 L1616.3,569.9 L1618.1,582.8 L1619.9,593.8 L1621.8,608.5 L1624.5,625.1 L1626.4,639.8 L1629.1,654.5 L1631.9,664.6 L1635.5,670.1 L1640.1,673.8 L1649.3,674.3 L1674.1,674.3" fill="none" stroke="#ff0000" stroke-width="3" stroke-linejoin="round"/>
<rect x="1473.5" y="473.4" width="202.1" height="201.3" fill="none" stroke="#000" stroke-width="2.6" />
<line x1="1467.0" y1="674.7" x2="1473.5" y2="674.7" stroke="#000" stroke-width="2" />
<text x="1461.0" y="683.1" font-size="22" text-anchor="end" >0</text>
<line x1="1470.5" y1="665.1" x2="1473.5" y2="665.1" stroke="#000" stroke-width="1" />
<line x1="1470.5" y1="655.5" x2="1473.5" y2="655.5" stroke="#000" stroke-width="1" />
<line x1="1470.5" y1="645.9" x2="1473.5" y2="645.9" stroke="#000" stroke-width="1" />
<line x1="1467.0" y1="636.3" x2="1473.5" y2="636.3" stroke="#000" stroke-width="2" />
<text x="1461.0" y="645.1" font-size="22" text-anchor="end" >20</text>
<line x1="1470.5" y1="626.7" x2="1473.5" y2="626.7" stroke="#000" stroke-width="1" />
<line x1="1470.5" y1="617.1" x2="1473.5" y2="617.1" stroke="#000" stroke-width="1" />
<line x1="1470.5" y1="607.5" x2="1473.5" y2="607.5" stroke="#000" stroke-width="1" />
<line x1="1467.0" y1="597.9" x2="1473.5" y2="597.9" stroke="#000" stroke-width="2" />
<text x="1461.0" y="607.2" font-size="22" text-anchor="end" >40</text>
<line x1="1470.5" y1="588.3" x2="1473.5" y2="588.3" stroke="#000" stroke-width="1" />
<line x1="1470.5" y1="578.7" x2="1473.5" y2="578.7" stroke="#000" stroke-width="1" />
<line x1="1470.5" y1="569.0" x2="1473.5" y2="569.0" stroke="#000" stroke-width="1" />
<line x1="1467.0" y1="559.4" x2="1473.5" y2="559.4" stroke="#000" stroke-width="2" />
<text x="1461.0" y="569.2" font-size="22" text-anchor="end" >60</text>
<line x1="1470.5" y1="549.8" x2="1473.5" y2="549.8" stroke="#000" stroke-width="1" />
<line x1="1470.5" y1="540.2" x2="1473.5" y2="540.2" stroke="#000" stroke-width="1" />
<line x1="1470.5" y1="530.6" x2="1473.5" y2="530.6" stroke="#000" stroke-width="1" />
<line x1="1467.0" y1="521.0" x2="1473.5" y2="521.0" stroke="#000" stroke-width="2" />
<text x="1461.0" y="531.2" font-size="22" text-anchor="end" >80</text>
<line x1="1470.5" y1="511.4" x2="1473.5" y2="511.4" stroke="#000" stroke-width="1" />
<line x1="1470.5" y1="501.8" x2="1473.5" y2="501.8" stroke="#000" stroke-width="1" />
<line x1="1470.5" y1="492.2" x2="1473.5" y2="492.2" stroke="#000" stroke-width="1" />
<line x1="1467.0" y1="482.6" x2="1473.5" y2="482.6" stroke="#000" stroke-width="2" />
<text x="1461.0" y="493.2" font-size="22" text-anchor="end" >100</text>
<line x1="1477.5" y1="674.7" x2="1477.5" y2="680.2" stroke="#000" stroke-width="1.6" />
<line x1="1500.8" y1="674.7" x2="1500.8" y2="680.2" stroke="#000" stroke-width="1.6" />
<line x1="1507.9" y1="674.7" x2="1507.9" y2="680.7" stroke="#000" stroke-width="3.2" />
<line x1="1515.9" y1="674.7" x2="1515.9" y2="680.2" stroke="#000" stroke-width="1.6" />
<line x1="1557.0" y1="674.7" x2="1557.0" y2="680.2" stroke="#000" stroke-width="1.6" />
<line x1="1607.9" y1="674.7" x2="1607.9" y2="680.2" stroke="#000" stroke-width="1.6" />
<line x1="1654.4" y1="674.7" x2="1654.4" y2="680.2" stroke="#000" stroke-width="1.6" />
<line x1="1670.5" y1="674.7" x2="1670.5" y2="680.2" stroke="#000" stroke-width="1.6" />
<line x1="1484.5" y1="674.7" x2="1484.5" y2="677.7" stroke="#333" stroke-width="0.9" />
<line x1="1488.6" y1="674.7" x2="1488.6" y2="677.7" stroke="#333" stroke-width="0.9" />
<line x1="1491.5" y1="674.7" x2="1491.5" y2="677.7" stroke="#333" stroke-width="0.9" />
<line x1="1493.8" y1="674.7" x2="1493.8" y2="677.7" stroke="#333" stroke-width="0.9" />
<line x1="1495.6" y1="674.7" x2="1495.6" y2="677.7" stroke="#333" stroke-width="0.9" />
<line x1="1497.2" y1="674.7" x2="1497.2" y2="677.7" stroke="#333" stroke-width="0.9" />
<line x1="1498.5" y1="674.7" x2="1498.5" y2="677.7" stroke="#333" stroke-width="0.9" />
<line x1="1499.7" y1="674.7" x2="1499.7" y2="677.7" stroke="#333" stroke-width="0.9" />
<line x1="1502.9" y1="674.7" x2="1502.9" y2="677.7" stroke="#333" stroke-width="0.9" />
<line x1="1504.2" y1="674.7" x2="1504.2" y2="677.7" stroke="#333" stroke-width="0.9" />
<line x1="1505.0" y1="674.7" x2="1505.0" y2="677.7" stroke="#333" stroke-width="0.9" />
<line x1="1505.7" y1="674.7" x2="1505.7" y2="677.7" stroke="#333" stroke-width="0.9" />
<line x1="1506.3" y1="674.7" x2="1506.3" y2="677.7" stroke="#333" stroke-width="0.9" />
<line x1="1506.8" y1="674.7" x2="1506.8" y2="677.7" stroke="#333" stroke-width="0.9" />
<line x1="1507.2" y1="674.7" x2="1507.2" y2="677.7" stroke="#333" stroke-width="0.9" />
<line x1="1507.5" y1="674.7" x2="1507.5" y2="677.7" stroke="#333" stroke-width="0.9" />
<line x1="1510.3" y1="674.7" x2="1510.3" y2="677.7" stroke="#333" stroke-width="0.9" />
<line x1="1511.7" y1="674.7" x2="1511.7" y2="677.7" stroke="#333" stroke-width="0.9" />
<line x1="1512.7" y1="674.7" x2="1512.7" y2="677.7" stroke="#333" stroke-width="0.9" />
<line x1="1513.5" y1="674.7" x2="1513.5" y2="677.7" stroke="#333" stroke-width="0.9" />
<line x1="1514.1" y1="674.7" x2="1514.1" y2="677.7" stroke="#333" stroke-width="0.9" />
<line x1="1514.7" y1="674.7" x2="1514.7" y2="677.7" stroke="#333" stroke-width="0.9" />
<line x1="1515.2" y1="674.7" x2="1515.2" y2="677.7" stroke="#333" stroke-width="0.9" />
<line x1="1515.6" y1="674.7" x2="1515.6" y2="677.7" stroke="#333" stroke-width="0.9" />
<line x1="1528.3" y1="674.7" x2="1528.3" y2="677.7" stroke="#333" stroke-width="0.9" />
<line x1="1535.5" y1="674.7" x2="1535.5" y2="677.7" stroke="#333" stroke-width="0.9" />
<line x1="1540.6" y1="674.7" x2="1540.6" y2="677.7" stroke="#333" stroke-width="0.9" />
<line x1="1544.6" y1="674.7" x2="1544.6" y2="677.7" stroke="#333" stroke-width="0.9" />
<line x1="1547.9" y1="674.7" x2="1547.9" y2="677.7" stroke="#333" stroke-width="0.9" />
<line x1="1550.6" y1="674.7" x2="1550.6" y2="677.7" stroke="#333" stroke-width="0.9" />
<line x1="1553.0" y1="674.7" x2="1553.0" y2="677.7" stroke="#333" stroke-width="0.9" />
<line x1="1555.1" y1="674.7" x2="1555.1" y2="677.7" stroke="#333" stroke-width="0.9" />
<line x1="1572.3" y1="674.7" x2="1572.3" y2="677.7" stroke="#333" stroke-width="0.9" />
<line x1="1581.3" y1="674.7" x2="1581.3" y2="677.7" stroke="#333" stroke-width="0.9" />
<line x1="1587.6" y1="674.7" x2="1587.6" y2="677.7" stroke="#333" stroke-width="0.9" />
<line x1="1592.6" y1="674.7" x2="1592.6" y2="677.7" stroke="#333" stroke-width="0.9" />
<line x1="1596.6" y1="674.7" x2="1596.6" y2="677.7" stroke="#333" stroke-width="0.9" />
<line x1="1600.0" y1="674.7" x2="1600.0" y2="677.7" stroke="#333" stroke-width="0.9" />
<line x1="1603.0" y1="674.7" x2="1603.0" y2="677.7" stroke="#333" stroke-width="0.9" />
<line x1="1605.6" y1="674.7" x2="1605.6" y2="677.7" stroke="#333" stroke-width="0.9" />
<line x1="1621.9" y1="674.7" x2="1621.9" y2="677.7" stroke="#333" stroke-width="0.9" />
<line x1="1630.1" y1="674.7" x2="1630.1" y2="677.7" stroke="#333" stroke-width="0.9" />
<line x1="1635.9" y1="674.7" x2="1635.9" y2="677.7" stroke="#333" stroke-width="0.9" />
<line x1="1640.4" y1="674.7" x2="1640.4" y2="677.7" stroke="#333" stroke-width="0.9" />
<line x1="1644.1" y1="674.7" x2="1644.1" y2="677.7" stroke="#333" stroke-width="0.9" />
<line x1="1647.2" y1="674.7" x2="1647.2" y2="677.7" stroke="#333" stroke-width="0.9" />
<line x1="1649.9" y1="674.7" x2="1649.9" y2="677.7" stroke="#333" stroke-width="0.9" />
<line x1="1652.3" y1="674.7" x2="1652.3" y2="677.7" stroke="#333" stroke-width="0.9" />
<line x1="1659.2" y1="674.7" x2="1659.2" y2="677.7" stroke="#333" stroke-width="0.9" />
<line x1="1662.1" y1="674.7" x2="1662.1" y2="677.7" stroke="#333" stroke-width="0.9" />
<line x1="1664.1" y1="674.7" x2="1664.1" y2="677.7" stroke="#333" stroke-width="0.9" />
<line x1="1665.7" y1="674.7" x2="1665.7" y2="677.7" stroke="#333" stroke-width="0.9" />
<line x1="1667.0" y1="674.7" x2="1667.0" y2="677.7" stroke="#333" stroke-width="0.9" />
<line x1="1668.0" y1="674.7" x2="1668.0" y2="677.7" stroke="#333" stroke-width="0.9" />
<line x1="1669.0" y1="674.7" x2="1669.0" y2="677.7" stroke="#333" stroke-width="0.9" />
<line x1="1669.8" y1="674.7" x2="1669.8" y2="677.7" stroke="#333" stroke-width="0.9" />
<text x="1507.8" y="708.5" font-size="22" text-anchor="middle" >0</text>
<text x="1557.5" y="708.5" font-size="22" text-anchor="middle" >10<tspan font-size="15" dy="-8.5">3</tspan></text>
<text x="1607.5" y="708.5" font-size="22" text-anchor="middle" >10<tspan font-size="15" dy="-8.5">4</tspan></text>
<text x="1654.5" y="708.5" font-size="22" text-anchor="middle" >10<tspan font-size="15" dy="-8.5">5</tspan></text>
<rect x="1473.5" y="427.8" width="30.3" height="30.0" fill="#808080" stroke="none" stroke-width="0" />
<text x="1515.2" y="452.7" font-size="26.5" text-anchor="start" >WT</text>
<rect x="1575.6" y="428.8" width="27.6" height="27.6" fill="#fff" stroke="#ff0000" stroke-width="2" />
<text x="1618.1" y="452.7" font-size="26.5" text-anchor="start" >KO</text>
<text x="1416.0" y="612.6" font-size="25.5" text-anchor="middle" transform="rotate(-90 1416.0 612.6)" >Cell count</text>
<line x1="1408.0" y1="532.2" x2="1408.0" y2="494.5" stroke="#000" stroke-width="2.5" />
<polygon points="1408.0,479.5 1419.0,501.5 1408.0,495.5 1397.0,501.5" fill="#000"/>
<text x="1467.4" y="747.3" font-size="25.5" text-anchor="start" >I-Ab PE/Cy7</text>
<line x1="1618.1" y1="738.1" x2="1655.5" y2="738.1" stroke="#000" stroke-width="2.5" />
<polygon points="1670.5,738.1 1648.5,749.1 1654.5,738.1 1648.5,727.1" fill="#000"/>
<line x1="1809.2" y1="441.0" x2="1809.2" y2="676.2" stroke="#000" stroke-width="2.4" />
<line x1="1802.4" y1="675.0" x2="1809.2" y2="675.0" stroke="#000" stroke-width="2.4" />
<text x="1799.4" y="682.9" font-size="22" text-anchor="end" >0</text>
<line x1="1802.4" y1="597.7" x2="1809.2" y2="597.7" stroke="#000" stroke-width="2.4" />
<text x="1799.4" y="605.6" font-size="22" text-anchor="end" >2000</text>
<line x1="1802.4" y1="520.4" x2="1809.2" y2="520.4" stroke="#000" stroke-width="2.4" />
<text x="1799.4" y="528.3" font-size="22" text-anchor="end" >4000</text>
<line x1="1802.4" y1="443.1" x2="1809.2" y2="443.1" stroke="#000" stroke-width="2.4" />
<text x="1799.4" y="451.0" font-size="22" text-anchor="end" >6000</text>
<rect x="1826.2" y="592.0" width="42.7" height="83.0" fill="#5858f8" stroke="#000" stroke-width="2.4" />
<rect x="1903.4" y="546.9" width="42.7" height="128.1" fill="#ff0000" stroke="#000" stroke-width="2.4" />
<line x1="1802.4" y1="675.0" x2="1964.5" y2="675.0" stroke="#000" stroke-width="2.4" />
<line x1="1847.5" y1="675.0" x2="1847.5" y2="682.0" stroke="#000" stroke-width="2.4" />
<line x1="1924.7" y1="675.0" x2="1924.7" y2="682.0" stroke="#000" stroke-width="2.4" />
<text x="1848.0" y="709.6" font-size="26.5" text-anchor="middle" >WT</text>
<text x="1927.4" y="709.6" font-size="26.5" text-anchor="middle" >KO</text>
<text x="1739.4" y="556.6" font-size="25.3" text-anchor="middle" transform="rotate(-90 1739.4 556.6)" >I-Ab (MFI)</text>
<path d="M1849.3,465.7 V454.1 H1927.4 V465.7" fill="none" stroke="#000" stroke-width="2.2" />
<text x="1887.3" y="452.0" font-size="28" text-anchor="middle" >*</text>
<line x1="1847.5" y1="578.7" x2="1847.5" y2="604.4" stroke="#000" stroke-width="2.2" />
<line x1="1836.5" y1="578.7" x2="1858.5" y2="578.7" stroke="#000" stroke-width="2.2" />
<line x1="1836.5" y1="604.4" x2="1858.5" y2="604.4" stroke="#000" stroke-width="2.2" />
<line x1="1924.7" y1="533.5" x2="1924.7" y2="560.7" stroke="#000" stroke-width="2.2" />
<line x1="1913.7" y1="533.5" x2="1935.7" y2="533.5" stroke="#000" stroke-width="2.2" />
<line x1="1913.7" y1="560.7" x2="1935.7" y2="560.7" stroke="#000" stroke-width="2.2" />
<circle cx="1840.7" cy="524.9" r="5.7" fill="#000" />
<circle cx="1854.8" cy="535.9" r="5.7" fill="#000" />
<circle cx="1833.3" cy="592.9" r="5.7" fill="#000" />
<circle cx="1848.0" cy="597.8" r="5.7" fill="#000" />
<circle cx="1861.8" cy="596.0" r="5.7" fill="#000" />
<circle cx="1840.7" cy="602.1" r="5.7" fill="#000" />
<circle cx="1861.8" cy="614.4" r="5.7" fill="#000" />
<circle cx="1854.4" cy="628.3" r="5.7" fill="#000" />
<circle cx="1840.7" cy="637.0" r="5.7" fill="#000" />
<rect x="1919.0" y="481.1" width="11.5" height="11.5" fill="#000" rx="1"/>
<rect x="1905.2" y="516.8" width="11.5" height="11.5" fill="#000" rx="1"/>
<rect x="1919.0" y="521.9" width="11.5" height="11.5" fill="#000" rx="1"/>
<rect x="1933.0" y="519.6" width="11.5" height="11.5" fill="#000" rx="1"/>
<rect x="1905.2" y="562.4" width="11.5" height="11.5" fill="#000" rx="1"/>
<rect x="1919.0" y="567.9" width="11.5" height="11.5" fill="#000" rx="1"/>
<rect x="1933.0" y="561.8" width="11.5" height="11.5" fill="#000" rx="1"/>
<rect x="1919.0" y="599.5" width="11.5" height="11.5" fill="#000" rx="1"/>
<text x="-1.0" y="819.9" font-size="39" text-anchor="start" font-weight="bold" >i</text>
<rect x="130.5" y="802.6" width="26.0" height="26.0" fill="#5858f8" stroke="#000" stroke-width="2.4" />
<text x="169.2" y="824.9" font-size="26.8" text-anchor="start" >WT</text>
<rect x="226.3" y="802.6" width="26.0" height="26.0" fill="#ff0000" stroke="#000" stroke-width="2.4" />
<text x="265.8" y="824.9" font-size="26.8" text-anchor="start" >KO</text>
<line x1="129.7" y1="871.6" x2="129.7" y2="1107.5" stroke="#000" stroke-width="2.4" />
<line x1="123.2" y1="1106.3" x2="129.7" y2="1106.3" stroke="#000" stroke-width="2.4" />
<text x="120.2" y="1115.4" font-size="25.2" text-anchor="end" >0.0</text>
<line x1="123.2" y1="1028.8" x2="129.7" y2="1028.8" stroke="#000" stroke-width="2.4" />
<text x="120.2" y="1037.9" font-size="25.2" text-anchor="end" >0.5</text>
<line x1="123.2" y1="951.3" x2="129.7" y2="951.3" stroke="#000" stroke-width="2.4" />
<text x="120.2" y="960.4" font-size="25.2" text-anchor="end" >1.0</text>
<line x1="123.2" y1="873.8" x2="129.7" y2="873.8" stroke="#000" stroke-width="2.4" />
<text x="120.2" y="882.9" font-size="25.2" text-anchor="end" >1.5</text>
<rect x="140.3" y="951.3" width="24.2" height="155.0" fill="#5858f8" stroke="#000" stroke-width="2.4" />
<rect x="172.4" y="1003.2" width="24.0" height="103.1" fill="#ff0000" stroke="#000" stroke-width="2.4" />
<rect x="217.3" y="950.7" width="24.4" height="155.6" fill="#5858f8" stroke="#000" stroke-width="2.4" />
<rect x="249.7" y="1078.0" width="24.1" height="28.3" fill="#ff0000" stroke="#000" stroke-width="2.4" />
<rect x="295.0" y="951.3" width="24.1" height="155.0" fill="#5858f8" stroke="#000" stroke-width="2.4" />
<rect x="326.9" y="1007.5" width="24.2" height="98.8" fill="#ff0000" stroke="#000" stroke-width="2.4" />
<line x1="122.7" y1="1106.3" x2="362.2" y2="1106.3" stroke="#000" stroke-width="2.4" />
<line x1="168.0" y1="1106.3" x2="168.0" y2="1112.8" stroke="#000" stroke-width="2.4" />
<line x1="245.5" y1="1106.3" x2="245.5" y2="1112.8" stroke="#000" stroke-width="2.4" />
<line x1="322.9" y1="1106.3" x2="322.9" y2="1112.8" stroke="#000" stroke-width="2.4" />
<text x="168.6" y="1142.3" font-size="29" text-anchor="middle" font-style="italic" >Mrc1</text>
<text x="246.9" y="1142.3" font-size="29" text-anchor="middle" font-style="italic" >Chi3l3</text>
<text x="322.3" y="1142.3" font-size="29" text-anchor="middle" font-style="italic" >Arg1</text>
<text x="39.9" y="986.1" font-size="29.3" text-anchor="middle" transform="rotate(-90 39.9 986.1)" >mRNA expression</text>
<text x="74.8" y="987.6" font-size="28.3" text-anchor="middle" transform="rotate(-90 74.8 987.6)" >(fold change)</text>
<path d="M146.1,885.4 V876.4 H191.2 V885.4" fill="none" stroke="#000" stroke-width="2.2" />
<path d="M225.9,881.4 V870.8 H273.0 V881.4" fill="none" stroke="#000" stroke-width="2.2" />
<path d="M302.4,887.2 V876.4 H348.3 V887.2" fill="none" stroke="#000" stroke-width="2.2" />
<text x="169.2" y="879.8" font-size="29" text-anchor="middle" >**</text>
<text x="250.5" y="873.9" font-size="29" text-anchor="middle" >***</text>
<text x="325.7" y="879.8" font-size="29" text-anchor="middle" >*</text>
<line x1="152.4" y1="943.3" x2="152.4" y2="959.2" stroke="#000" stroke-width="2.2" />
<line x1="146.4" y1="943.3" x2="158.4" y2="943.3" stroke="#000" stroke-width="2.2" />
<line x1="146.4" y1="959.2" x2="158.4" y2="959.2" stroke="#000" stroke-width="2.2" />
<line x1="184.4" y1="995.2" x2="184.4" y2="1011.1" stroke="#000" stroke-width="2.2" />
<line x1="178.4" y1="995.2" x2="190.4" y2="995.2" stroke="#000" stroke-width="2.2" />
<line x1="178.4" y1="1011.1" x2="190.4" y2="1011.1" stroke="#000" stroke-width="2.2" />
<line x1="229.5" y1="931.3" x2="229.5" y2="970.2" stroke="#000" stroke-width="2.2" />
<line x1="223.5" y1="931.3" x2="235.5" y2="931.3" stroke="#000" stroke-width="2.2" />
<line x1="223.5" y1="970.2" x2="235.5" y2="970.2" stroke="#000" stroke-width="2.2" />
<line x1="261.8" y1="1073.4" x2="261.8" y2="1082.4" stroke="#000" stroke-width="2.2" />
<line x1="255.8" y1="1073.4" x2="267.8" y2="1073.4" stroke="#000" stroke-width="2.2" />
<line x1="255.8" y1="1082.4" x2="267.8" y2="1082.4" stroke="#000" stroke-width="2.2" />
<line x1="307.0" y1="933.7" x2="307.0" y2="969.6" stroke="#000" stroke-width="2.2" />
<line x1="301.0" y1="933.7" x2="313.0" y2="933.7" stroke="#000" stroke-width="2.2" />
<line x1="301.0" y1="969.6" x2="313.0" y2="969.6" stroke="#000" stroke-width="2.2" />
<line x1="339.0" y1="998.2" x2="339.0" y2="1016.9" stroke="#000" stroke-width="2.2" />
<line x1="333.0" y1="998.2" x2="345.0" y2="998.2" stroke="#000" stroke-width="2.2" />
<line x1="333.0" y1="1016.9" x2="345.0" y2="1016.9" stroke="#000" stroke-width="2.2" />
<circle cx="152.1" cy="930.3" r="5.2" fill="#000" />
<circle cx="152.1" cy="950.3" r="5.2" fill="#000" />
<circle cx="159.1" cy="958.6" r="5.2" fill="#000" />
<circle cx="145.7" cy="967.6" r="5.2" fill="#000" />
<circle cx="229.5" cy="906.8" r="5.2" fill="#000" />
<circle cx="229.5" cy="929.7" r="5.2" fill="#000" />
<circle cx="229.5" cy="975.6" r="5.2" fill="#000" />
<circle cx="229.5" cy="991.6" r="5.2" fill="#000" />
<circle cx="307.0" cy="913.3" r="5.2" fill="#000" />
<circle cx="307.0" cy="946.3" r="5.2" fill="#000" />
<circle cx="307.0" cy="953.0" r="5.2" fill="#000" />
<circle cx="307.0" cy="1000.0" r="5.2" fill="#000" />
<rect x="178.8" y="981.4" width="10.5" height="10.5" fill="#000" rx="1"/>
<rect x="172.3" y="994.4" width="10.5" height="10.5" fill="#000" rx="1"/>
<rect x="185.3" y="995.4" width="10.5" height="10.5" fill="#000" rx="1"/>
<rect x="178.8" y="1019.8" width="10.5" height="10.5" fill="#000" rx="1"/>
<rect x="249.8" y="1066.2" width="10.5" height="10.5" fill="#000" rx="1"/>
<rect x="269.1" y="1066.2" width="10.5" height="10.5" fill="#000" rx="1"/>
<rect x="262.6" y="1077.8" width="10.5" height="10.5" fill="#000" rx="1"/>
<rect x="249.8" y="1083.2" width="10.5" height="10.5" fill="#000" rx="1"/>
<rect x="334.1" y="976.4" width="10.5" height="10.5" fill="#000" rx="1"/>
<rect x="327.6" y="1004.2" width="10.5" height="10.5" fill="#000" rx="1"/>
<rect x="341.1" y="1004.2" width="10.5" height="10.5" fill="#000" rx="1"/>
<rect x="334.1" y="1023.7" width="10.5" height="10.5" fill="#000" rx="1"/>
<text x="383.5" y="819.9" font-size="39" text-anchor="start" font-weight="bold" >j</text>
<rect x="519.9" y="802.2" width="26.0" height="26.0" fill="#5858f8" stroke="#000" stroke-width="2.4" />
<text x="558.6" y="824.3" font-size="26.8" text-anchor="start" >WT</text>
<rect x="617.1" y="802.2" width="26.0" height="26.0" fill="#ff0000" stroke="#000" stroke-width="2.4" />
<text x="656.4" y="824.3" font-size="26.8" text-anchor="start" >KO</text>
<line x1="519.7" y1="871.2" x2="519.7" y2="1107.1" stroke="#000" stroke-width="2.4" />
<line x1="513.2" y1="1105.9" x2="519.7" y2="1105.9" stroke="#000" stroke-width="2.4" />
<text x="510.2" y="1115.0" font-size="25.2" text-anchor="end" >0.0</text>
<line x1="513.2" y1="1059.4" x2="519.7" y2="1059.4" stroke="#000" stroke-width="2.4" />
<text x="510.2" y="1068.5" font-size="25.2" text-anchor="end" >0.5</text>
<line x1="513.2" y1="1012.9" x2="519.7" y2="1012.9" stroke="#000" stroke-width="2.4" />
<text x="510.2" y="1022.0" font-size="25.2" text-anchor="end" >1.0</text>
<line x1="513.2" y1="966.4" x2="519.7" y2="966.4" stroke="#000" stroke-width="2.4" />
<text x="510.2" y="975.5" font-size="25.2" text-anchor="end" >1.5</text>
<line x1="513.2" y1="919.9" x2="519.7" y2="919.9" stroke="#000" stroke-width="2.4" />
<text x="510.2" y="929.0" font-size="25.2" text-anchor="end" >2.0</text>
<line x1="513.2" y1="873.4" x2="519.7" y2="873.4" stroke="#000" stroke-width="2.4" />
<text x="510.2" y="882.5" font-size="25.2" text-anchor="end" >2.5</text>
<rect x="529.9" y="1013.1" width="24.1" height="92.8" fill="#5858f8" stroke="#000" stroke-width="2.4" />
<rect x="562.4" y="917.7" width="24.0" height="188.2" fill="#ff0000" stroke="#000" stroke-width="2.4" />
<rect x="607.3" y="1013.1" width="24.4" height="92.8" fill="#5858f8" stroke="#000" stroke-width="2.4" />
<rect x="639.3" y="984.0" width="24.3" height="121.9" fill="#ff0000" stroke="#000" stroke-width="2.4" />
<rect x="684.6" y="1013.1" width="24.1" height="92.8" fill="#5858f8" stroke="#000" stroke-width="2.4" />
<rect x="716.9" y="991.6" width="24.1" height="114.3" fill="#ff0000" stroke="#000" stroke-width="2.4" />
<line x1="512.7" y1="1105.9" x2="752.8" y2="1105.9" stroke="#000" stroke-width="2.4" />
<line x1="558.0" y1="1105.9" x2="558.0" y2="1112.4" stroke="#000" stroke-width="2.4" />
<line x1="635.5" y1="1105.9" x2="635.5" y2="1112.4" stroke="#000" stroke-width="2.4" />
<line x1="712.9" y1="1105.9" x2="712.9" y2="1112.4" stroke="#000" stroke-width="2.4" />
<text x="558.8" y="1141.7" font-size="29" text-anchor="middle" font-style="italic" >Il6</text>
<text x="636.0" y="1141.7" font-size="29" text-anchor="middle" font-style="italic" >Ccl2</text>
<text x="715.7" y="1141.7" font-size="29" text-anchor="middle" font-style="italic" >Tnf</text>
<text x="429.5" y="985.8" font-size="29.3" text-anchor="middle" transform="rotate(-90 429.5 985.8)" >mRNA expression</text>
<text x="463.4" y="987.0" font-size="28.3" text-anchor="middle" transform="rotate(-90 463.4 987.0)" >(fold change)</text>
<path d="M536.1,879.2 V870.4 H581.6 V879.2" fill="none" stroke="#000" stroke-width="2.2" />
<path d="M612.5,905.4 V894.8 H659.8 V905.4" fill="none" stroke="#000" stroke-width="2.2" />
<path d="M688.9,909.1 V898.4 H734.9 V909.1" fill="none" stroke="#000" stroke-width="2.2" />
<text x="559.0" y="870.2" font-size="25.5" text-anchor="middle" >***</text>
<text x="636.9" y="894.5" font-size="25.5" text-anchor="middle" >***</text>
<text x="712.3" y="898.1" font-size="25.5" text-anchor="middle" >**</text>
<line x1="542.1" y1="1007.5" x2="542.1" y2="1019.5" stroke="#000" stroke-width="2.2" />
<line x1="536.1" y1="1007.5" x2="548.1" y2="1007.5" stroke="#000" stroke-width="2.2" />
<line x1="536.1" y1="1019.5" x2="548.1" y2="1019.5" stroke="#000" stroke-width="2.2" />
<line x1="574.2" y1="909.7" x2="574.2" y2="926.3" stroke="#000" stroke-width="2.2" />
<line x1="568.2" y1="909.7" x2="580.2" y2="909.7" stroke="#000" stroke-width="2.2" />
<line x1="568.2" y1="926.3" x2="580.2" y2="926.3" stroke="#000" stroke-width="2.2" />
<circle cx="535.7" cy="1001.6" r="5.2" fill="#000" />
<circle cx="548.6" cy="1004.6" r="5.2" fill="#000" />
<circle cx="542.1" cy="1015.5" r="5.2" fill="#000" />
<circle cx="542.1" cy="1028.5" r="5.2" fill="#000" />
<circle cx="613.5" cy="1006.5" r="5.2" fill="#000" />
<circle cx="625.5" cy="1012.5" r="5.2" fill="#000" />
<circle cx="619.5" cy="1019.5" r="5.2" fill="#000" />
<circle cx="619.5" cy="1013.5" r="5.2" fill="#000" />
<circle cx="696.9" cy="1004.5" r="5.2" fill="#000" />
<circle cx="690.3" cy="1011.1" r="5.2" fill="#000" />
<circle cx="703.3" cy="1012.5" r="5.2" fill="#000" />
<circle cx="696.9" cy="1022.5" r="5.2" fill="#000" />
<rect x="563.0" y="898.1" width="10.5" height="10.5" fill="#000" rx="1"/>
<rect x="575.4" y="899.0" width="10.5" height="10.5" fill="#000" rx="1"/>
<rect x="575.4" y="924.5" width="10.5" height="10.5" fill="#000" rx="1"/>
<rect x="563.0" y="929.5" width="10.5" height="10.5" fill="#000" rx="1"/>
<rect x="639.8" y="975.4" width="10.5" height="10.5" fill="#000" rx="1"/>
<rect x="653.1" y="974.4" width="10.5" height="10.5" fill="#000" rx="1"/>
<rect x="642.8" y="984.4" width="10.5" height="10.5" fill="#000" rx="1"/>
<rect x="650.1" y="978.0" width="10.5" height="10.5" fill="#000" rx="1"/>
<rect x="717.0" y="982.4" width="10.5" height="10.5" fill="#000" rx="1"/>
<rect x="731.0" y="980.0" width="10.5" height="10.5" fill="#000" rx="1"/>
<rect x="720.0" y="990.4" width="10.5" height="10.5" fill="#000" rx="1"/>
<rect x="728.0" y="988.4" width="10.5" height="10.5" fill="#000" rx="1"/>
<text x="-0.5" y="1206.3" font-size="40" text-anchor="start" font-weight="bold" >l</text>
<circle cx="113.4" cy="1201.8" r="16" fill="#ff3c8c" />
<text x="143.3" y="1212.8" font-size="29.7" text-anchor="start" fill="#ff3c8c" ><tspan font-style="italic">Mrc1</tspan><tspan font-size="19" dy="-11.5">low</tspan><tspan dy="11.5" font-style="italic"> Cd86</tspan><tspan font-size="19" dy="-11.5">high</tspan></text>
<circle cx="400.7" cy="1202.3" r="16" fill="#00b0f0" />
<text x="428.2" y="1212.8" font-size="29.7" text-anchor="start" fill="#00b0f0" ><tspan font-style="italic">Mrc1</tspan><tspan font-size="19" dy="-11.5">high</tspan><tspan dy="11.5" font-style="italic"> Cd86</tspan><tspan font-size="19" dy="-11.5">low</tspan></text>
<rect x="98.6" y="1237.0" width="293.2" height="269.9" fill="none" stroke="#000" stroke-width="3.4" />
<line x1="91.8" y1="1242.7" x2="97.6" y2="1242.7" stroke="#000" stroke-width="2" />
<line x1="91.8" y1="1303.3" x2="97.6" y2="1303.3" stroke="#000" stroke-width="2" />
<line x1="91.8" y1="1363.4" x2="97.6" y2="1363.4" stroke="#000" stroke-width="2" />
<line x1="91.8" y1="1423.8" x2="97.6" y2="1423.8" stroke="#000" stroke-width="2" />
<line x1="91.8" y1="1484.1" x2="97.6" y2="1484.1" stroke="#000" stroke-width="2" />
<line x1="150.8" y1="1507.9" x2="150.8" y2="1514.9" stroke="#000" stroke-width="2" />
<line x1="228.5" y1="1507.9" x2="228.5" y2="1514.9" stroke="#000" stroke-width="2" />
<line x1="306.5" y1="1507.9" x2="306.5" y2="1514.9" stroke="#000" stroke-width="2" />
<line x1="384.5" y1="1507.9" x2="384.5" y2="1514.9" stroke="#000" stroke-width="2" />
<text x="76.3" y="1363.8" font-size="26.1" text-anchor="middle" transform="rotate(-90 76.3 1363.8)" >UMAP_2</text>
<text x="246.3" y="1550.4" font-size="25.8" text-anchor="middle" >UMAP_1</text>
<text x="324.1" y="1280.3" font-size="30.4" text-anchor="start" >WT</text>
<text x="217.3" y="1300.9" font-size="30.3" text-anchor="start" fill="#00b0f0" >TAM_2</text>
<text x="128.0" y="1487.0" font-size="30.3" text-anchor="start" fill="#ff3c8c" >TAM_1</text>
<text x="95.1" y="1603.9" font-size="30.45" text-anchor="start" >TAM_1:TAM_2 = 1.16</text>
<path transform="scale(0.25)" d="M452 5087h0m10 12h0m-1 13h0m12 3h0m13 13h0m10-4h0m14-4h0m11 1h0m-9 17h0m-12 5h0m11 9h0m12 1h0m17-8h0m-5-8h0m14-9h0m3-11h0m-10-16h0m-17-16h0m18-27h0m5-8h0m20-15h0m5 25h0m6 14h0m-14 10h0m36-9h0m10-9h0m1-10h0m11-5h0m-7-9h0m-24 3h0m40-24h0m10 25h0m11 43h0m11 7h0m10 5h0m-9 14h0m-7-3h0m14 10h0m-7 6h0m10 23h0m6 8h0m8 6h0m-6 11h0m-8 1h0m-12-4h0m-7 0h0m-6-2h0m-10 6h0m15 8h0m13 3h0m-4 18h0m22 1h0m3-11h0m4 24h0m13 0h0m2 8h0m-1 7h0m-6 1h0m-9 5h0m-8 0h0m-6-12h0m-7-1h0m-15 1h0m-16-25h0m-11 8h0m-32 11h0m-9-6h0m7 18h0m-5 23h0m32 44h0m10 17h0m17 20h0m17 3h0m25 9h0m15-16h0m-9-11h0m-10-8h0m27-16h0m30 20h0m-18 19h0m11 19h0m-24 11h0m-4 16h0m-23-7h0m-17 21h0m-32 14h0m8-50h0m9-78h0m18-7h0m51-13h0m7 0h0m3-13h0m3-5h0m3-8h0m18 3h0m-5-21h0m-27 5h0m-4 8h0m-10 7h0m41 22h0m15 5h0m3 11h0m-18 2h0m18 44h0m5 44h0m-37 17h0m-18 42h0m-16-8h0m26 29h0m0 25h0m-45 5h0m128-131h0m12 5h0m-6-34h0m20-50h0m46-9h0m6 23h0m-159-96h0m-7 0h0m-6-4h0m-8 0h0m0-18h0m12-2h0m-20-17h0m0-28h0m42 5h0m51-35h0m-86-43h0m-197 5h0m-14-6h0m-13 8h0m-15 1h0m-5 9h0m4 18h0m5 12h0m10 2h0m12 14h0m-6-32h0m55 144h0" stroke="#00b0f0" stroke-width="19.6" stroke-linecap="round" fill="none" />
<path transform="scale(0.25)" d="M721 5587h0m7 17h0m22 4h0m14-46h0m35-11h0m4-15h0m27-29h0m-8-8h0m-10-36h0m10-3h0m23 5h0m-54 12h0m-56 40h0m-5 16h0m88 46h0m13 43h0m10 18h0m23 24h0m20 15h0m18-18h0m13 2h0m11 10h0m7 17h0m18 3h0m-23 17h0m-26 7h0m10 29h0m9 44h0m11 20h0m10 12h0m16-3h0m-5 20h0m13 13h0m15-8h0m13 0h0m10 17h0m26-10h0m15 13h0m-4 25h0m-21 5h0m-28 3h0m61 38h0m-3 13h0m18-20h0m10 4h0m7 9h0m2-24h0m13 2h0m3-24h0m-12-9h0m-14 17h0m-5 13h0m-5-35h0m9-37h0m-15-4h0m-6-11h0m36 10h0m15 18h0m2 15h0m24 14h0m-3 13h0m-11-1h0m34 2h0m1 23h0m-11 5h0m-7 15h0m-15-10h0m-9 22h0m13 8h0m32-16h0m22-22h0m-4-32h0m4-12h0m12-16h0m14 1h0m12 3h0m10 13h0m-5 17h0m-10-2h0m-12-6h0m17 21h0m18-13h0m14 9h0m21-19h0m-8-22h0m12-42h0m-5-21h0m-28 20h0m-21 6h0m3-24h0m-6-14h0m-2-23h0m-20-4h0m-24-13h0m-24 14h0m20 23h0m19 11h0m-26 23h0m-19-7h0m-7 20h0m19 12h0m0 17h0m-7 10h0m30-34h0m20-4h0m44-87h0m11-49h0m15-5h0m8 16h0m-28-66h0m-13-4h0m-19-15h0m-11 40h0m-26-10h0m-8 46h0m-20 3h0m-31 30h0m-74 18h0m-59 12h0m-25-22h0m26-68h0m-12-24h0m0-12h0m16 2h0m-55-52h0m20-21h0m-34-5h0m-17 45h0m6 39h0m-103-10h0m-36 24h0m17 31h0m27 50h0m13-8h0m30 19h0m-8 20h0m72 49h0m73-14h0m16 5h0m46-127h0m16-101h0m40-16h0m14-2h0m8 26h0m127 20h0m19 8h0m108 171h0m-391-281h0m-26-28h0m-28 21h0m-11-45h0m-3-15h0m-34 59h0m-44 23h0m3 15h0" stroke="#ff3c8c" stroke-width="19.6" stroke-linecap="round" fill="none" />
<rect x="472.8" y="1237.5" width="292.9" height="269.4" fill="none" stroke="#000" stroke-width="3.4" />
<line x1="466.0" y1="1243.4" x2="471.8" y2="1243.4" stroke="#000" stroke-width="2" />
<line x1="466.0" y1="1304.0" x2="471.8" y2="1304.0" stroke="#000" stroke-width="2" />
<line x1="466.0" y1="1364.3" x2="471.8" y2="1364.3" stroke="#000" stroke-width="2" />
<line x1="466.0" y1="1424.9" x2="471.8" y2="1424.9" stroke="#000" stroke-width="2" />
<line x1="466.0" y1="1485.3" x2="471.8" y2="1485.3" stroke="#000" stroke-width="2" />
<line x1="524.0" y1="1507.9" x2="524.0" y2="1514.9" stroke="#000" stroke-width="2" />
<line x1="602.0" y1="1507.9" x2="602.0" y2="1514.9" stroke="#000" stroke-width="2" />
<line x1="680.0" y1="1507.9" x2="680.0" y2="1514.9" stroke="#000" stroke-width="2" />
<line x1="758.2" y1="1507.9" x2="758.2" y2="1514.9" stroke="#000" stroke-width="2" />
<text x="450.0" y="1363.8" font-size="26.1" text-anchor="middle" transform="rotate(-90 450.0 1363.8)" >UMAP_2</text>
<text x="620.5" y="1549.4" font-size="25.8" text-anchor="middle" >UMAP_1</text>
<text x="704.1" y="1280.3" font-size="30.4" text-anchor="start" >KO</text>
<text x="599.6" y="1300.9" font-size="30.3" text-anchor="start" fill="#00b0f0" >TAM_2</text>
<text x="502.1" y="1486.0" font-size="30.3" text-anchor="start" fill="#ff3c8c" >TAM_1</text>
<text x="482.2" y="1603.9" font-size="30.45" text-anchor="start" >TAM_1:TAM_2 = 2.78</text>
<path transform="scale(0.25)" d="M1939 5073h0m4 12h0m6 1h0m-5 14h0m-3 2h0m2 15h0m14 15h0m8 8h0m-8 7h0m-10-8h0m27 16h0m13-3h0m13-2h0m0-4h0m3 16h0m12-9h0m-51-86h0m-5-12h0m3-9h0m8-15h0m1-1h0m13 4h0m19-3h0m-2-9h0m16 3h0m12 7h0m-4 18h0m13 0h0m26-15h0m12-10h0m17 9h0m12-9h0m16 13h0m13 3h0m13 13h0m17-12h0m28 23h0m16 4h0m4 43h0m-18 12h0m7 23h0m-12 18h0m9 22h0m-1 12h0m-14 3h0m-28-26h0m-10 2h0m-28-35h0m43 91h0m-9 11h0m19 1h0m20 15h0m-25 22h0m-3 26h0m7 21h0m-10 4h0m15 19h0m30 12h0m15-3h0m-10-29h0m38-31h0m16 7h0m6 20h0m7 11h0m-10 2h0m16-12h0m11-5h0m5 8h0m-13 20h0m-21 26h0m23 30h0m1 10h0m-14 12h0m12 11h0m-24 17h0m-24-3h0m-12-13h0m-17-11h0m-3-25h0m-29-12h0m-12-5h0m-23-10h0m-15-3h0m3 25h0m23 14h0m2 17h0m13 11h0m21 6h0m0 16h0m-9 10h0m16 3h0m5 50h0m56-4h0m-85-108h0m-62-73h0m3-18h0m-10-6h0m21-6h0m11-14h0m2-20h0m1-12h0m-19 16h0m-6-20h0m115-8h0m8 13h0m19-16h0m10-23h0m11-17h0m-11-6h0m-9-15h0m8-6h0m-18-3h0m-8 12h0m-1-37h0m3-27h0m1-15h0m10 3h0m22-2h0m6 11h0m10 1h0m4 53h0m20 22h0m12-29h0m21-24h0m-1-16h0m9 112h0m-14 24h0m-16 2h0m-12 4h0m17 9h0m15 23h0m-8 12h0m-16-6h0m-22-17h0m-12 9h0m-23-29h0m27-43h0m81 55h0m9-4h0m-344-272h0m-89 46h0m-5-9h0" stroke="#00b0f0" stroke-width="19.6" stroke-linecap="round" fill="none" />
<path transform="scale(0.25)" d="M2039 5067h0m74 200h0m102 249h0m25-3h0m22 21h0m24 29h0m-26 15h0m-12 18h0m-13-15h0m-19 1h0m1 13h0m6-32h0m-19-6h0m43 77h0m17-6h0m9 5h0m20-8h0m10-6h0m-10-10h0m-9-14h0m22 38h0m14 3h0m16 4h0m14-16h0m6-9h0m14-2h0m14-1h0m8 18h0m-7 3h0m-2 10h0m12 15h0m16-10h0m8 12h0m15-8h0m3-11h0m2-19h0m18 4h0m4-18h0m6-6h0m9 10h0m11 8h0m8 12h0m5-5h0m7-6h0m-6-5h0m8 13h0m14 15h0m12-17h0m9-24h0m12 8h0m4-6h0m-2-10h0m12-7h0m-2-15h0m-23-11h0m-10-2h0m-16-8h0m-11 11h0m10 19h0m9 10h0m-43-17h0m-9 3h0m5 6h0m-22-1h0m4-35h0m-16-20h0m-12 8h0m-11 27h0m-21 1h0m-8-4h0m3 14h0m-8 6h0m3 11h0m11 6h0m8 34h0m-42 37h0m-18-2h0m2-12h0m-16 9h0m-17 1h0m-22-13h0m-7 4h0m-5 15h0m-1 15h0m9 3h0m-3 21h0m-4 11h0m13 11h0m18-8h0m15-26h0m14 17h0m8 25h0m7 12h0m13 2h0m9 7h0m4 7h0m17 3h0m18-9h0m12-7h0m10 4h0m-1-13h0m18 3h0m5 8h0m11-1h0m6-20h0m12-7h0m3 13h0m10 12h0m8-5h0m6 4h0m-6-12h0m5-18h0m-4-8h0m14-11h0m-7-8h0m11-3h0m24 0h0m16 1h0m13 0h0m17-3h0m18 6h0m-11-33h0m-2-10h0m-9 4h0m-15-9h0m-14 0h0m-8 11h0m4 13h0m-22-3h0m-43 13h0m-21-11h0m-7 19h0m-4 11h0m4 14h0m-12 4h0m-16 2h0m-9 2h0m-5-19h0m-5-12h0m-17 15h0m0 14h0m0 22h0m-28-1h0m-9-11h0m2-15h0m-28 49h0m-5 6h0m-2 8h0m0 7h0m-7 3h0m17 13h0m16-8h0m-1 20h0m14 19h0m11 10h0m14-6h0m3-7h0m4 18h0m3 9h0m13 12h0m28 21h0m9-1h0m9-7h0m-3 18h0m-12 0h0m6-34h0m7-14h0m10-1h0m16-8h0m11 8h0m-1 7h0m-10 16h0m-4 9h0m20-5h0m14-24h0m10-2h0m15 3h0m-5-26h0m-3-11h0m9-10h0m3-10h0m-3-10h0m4-6h0m6 5h0m4 12h0m11 5h0m3 10h0m14 5h0m13-1h0m0-9h0m-3-14h0m2-22h0m6-7h0m-5-10h0m-14 4h0m-19 2h0m-19-24h0m8-5h0m-3-7h0m-20 18h0m-6 19h0m7 10h0m-23 2h0m-11 3h0m0-11h0m21-40h0m-45-21h0m-28-28h0m44-22h0m69-40h0m8-4h0m11 3h0m-4 18h0m39 16h0m1 8h0m13 4h0m1-8h0m18-5h0m14 8h0m18-1h0m17 2h0m7-5h0m10-2h0m14 14h0m18 18h0m12 7h0m3 14h0m9-1h0m13-1h0m-14 18h0m-36-22h0m-42 6h0m-14 15h0m-7 27h0m-8 6h0m0 29h0m-16 15h0m3 10h0m-19 2h0m-4 5h0m4 17h0m-12 7h0m-27-3h0m-18 8h0m14 12h0m8 29h0m14 15h0m19-15h0m10-11h0m11 43h0m-8 4h0m-32 5h0m-11 5h0m-10-12h0m-13-10h0m-13 5h0m2 14h0m-24 29h0m-17 2h0m-14-40h0m-28 2h0m7-93h0m21-3h0m9 4h0m9 8h0m-4-23h0m-69-12h0m-12-2h0m4-11h0m-5-7h0m9 41h0m-13 8h0m-5 8h0m-2-16h0m-8 1h0m-25-29h0m-16-1h0m-122-128h0m40-120h0m-10-20h0m5-16h0m29 18h0m12 8h0m10-4h0m7-5h0m8-3h0m16-22h0m30-7h0m-1 20h0m42 4h0m-1-19h0m9 1h0m35 32h0m26-4h0m4 6h0m12 5h0m31-4h0m2 15h0m31 16h0m17-4h0m11 13h0m-7 6h0m8 23h0m18 8h0m3-18h0m-6-5h0m11-9h0m-11-11h0m1-13h0m-8-13h0m-9-5h0m22-68h0m-39-10h0m-73-49h0m-11-6h0m-68-20h0m-54 20h0m-37 152h0m-7 14h0m312 44h0m8 1h0m33 11h0m18 8h0m24-7h0m11-5h0m-29-35h0m-34-5h0m68 90h0m-32 81h0m-4 11h0m-17-9h0m-14-6h0m-53-27h0m8-25h0m-38 67h0m8 18h0m9-1h0m85 100h0m24 35h0m22-28h0m69-55h0m57-97h0m47-13h0m50-97h0m-314 300h0m3 21h0m7 5h0m-29 6h0m-7-5h0m-31 30h0m-30-27h0" stroke="#ff3c8c" stroke-width="19.6" stroke-linecap="round" fill="none" />
<text x="791.5" y="819.9" font-size="40" text-anchor="start" font-weight="bold" >k</text>
<text x="1123.9" y="883.5" font-size="31.3" text-anchor="middle" >Tumor-infiltrating immune cells</text>
<path transform="scale(0.25)" d="M3652 4808h0m1 14h0m5 0h0m0 6h0m10 2h0m0 2h0m3 7h0m14-5h0m7 2h0m4 7h0m3-1h0m9 1h0m1-3h0m2 1h0m4-3h0m1 1h0m4-2h0m0 6h0m-3 2h0m8 5h0m-2 5h0m-3 1h0m6 0h0m2 3h0m1 1h0m-3 4h0m-2-2h0m-3 4h0m2 7h0m10 2h0m4 0h0m-1 7h0m-6 7h0m-8-5h0m-5 4h0m-10-9h0m-13-1h0m0-9h0m4-7h0m7-1h0m-1-8h0m-5 0h0m0-23h0m5-1h0m3-2h0m1 2h0m0 2h0m6-2h0m3 1h0m1-5h0m2 0h0m2 2h0m1 2h0m0 1h0m0 1h0m3 1h0m2 4h0m5 4h0m2-4h0m3-6h0m2-1h0m-2-2h0m0-2h0m-3 2h0m-2-2h0m-3-5h0m-2-1h0m-1 2h0m-5 1h0m3 4h0m-8-6h0m3-4h0m-3-7h0m-3-2h0m-2-4h0m-3 2h0m-4-3h0m-1-1h0m-1 3h0m-1 3h0m0 5h0m1 0h0m3 4h0m1 3h0m2-1h0m1-1h0m0-6h0m-8 10h0m-1 0h0m-2 3h0m8 0h0m5 0h0m17-8h0m6 2h0m5 3h0m1 1h0m0 1h0m3 0h0m2 1h0m3 1h0m2 1h0m3-2h0m3-1h0m2-1h0m0-2h0m-2-1h0m4-1h0m-1-2h0m5-2h0m1 5h0m4-10h0m5-4h0m5 0h0m3 1h0m0 1h0m2 0h0m0 9h0m1 0h0m0 2h0m1 5h0m-5-1h0m-2-2h0m-3-8h0m-5-16h0m6-3h0m-3-5h0m-1-5h0m-2-2h0m-3-3h0m1-2h0m5 1h0m8-3h0m-5-9h0m-8 4h0m-4 2h0m-6-2h0m-4-1h0m-2 3h0m1 1h0m-3-3h0m-4 6h0m0 1h0m1 3h0m3 0h0m1 4h0m-2 1h0m-1 1h0m3 2h0m0 2h0m1 0h0m1-2h0m-1 8h0m-1 1h0m0 4h0m3-1h0m3-4h0m4-5h0m-15 3h0m-1-2h0m-3-1h0m-1-3h0m1-1h0m2 1h0m0-3h0m-3-3h0m-2-1h0m-3 0h0m-2 2h0m0 3h0m-1 1h0m0 1h0m-2 3h0m2 3h0m2-2h0m3-4h0m0-4h0m-2-6h0m2-1h0m-8 0h0m-1 1h0m-4 4h0m-5-8h0m2-4h0m3-2h0m0-7h0m4-1h0m0-2h0m5-2h0m2 3h0m1 1h0m3-1h0m-1-2h0m6 1h0m6-6h0m3 5h0m3 0h0m-2 3h0m8-1h0m0-4h0m-2-8h0m-3-15h0m-5-3h0m-2 0h0m1 4h0m-2 2h0m-5 13h0m-2 0h0m-4 2h0m0-5h0m-4 1h0m-2 0h0m-4 0h0m-2 2h0m-4 5h0m-2 2h0m-2 7h0m-3 6h0m-1 2h0m0 3h0m0 2h0m-4 2h0m-4 3h0m-1 2h0m-2 1h0m-3 0h0m-2 1h0m-2-2h0m-3 0h0m-1 0h0m-3-5h0m4-4h0m-3-2h0m-1-7h0m-2-3h0m1-3h0m2-4h0m3-2h0m8-1h0m3 1h0m5-6h0m3 4h0m3-1h0m-3 5h0m0 3h0m-5 7h0m0 1h0m-3 3h0m-2-1h0m-8-5h0m1 14h0m-9 7h0m-1 7h0m2 1h0m-3 2h0m-3-4h0m-3-8h0m-6-5h0m-1-2h0m1-1h0m2-4h0m-2-3h0m6-5h0m0-13h0m2-5h0m2-13h0m-1-5h0m-5 5h0m-2 0h0m3-14h0m2-6h0m-7-10h0m9-12h0m5-8h0m10 8h0m4 11h0m-4 1h0m-7 1h0m9 8h0m0 1h0m0 2h0m5 2h0m-1 3h0m-4 3h0m3 2h0m4 4h0m-5 3h0m-1 3h0m1 3h0m3 1h0m2 1h0m7-4h0m-1-4h0m1-2h0m1-2h0m-2-1h0m2-4h0m-2-6h0m3-9h0m4-5h0m2-5h0m-2-2h0m4-1h0m7-3h0m2 1h0m3 6h0m-2 1h0m-1 0h0m1 1h0m0 2h0m3 3h0m-2 7h0m5 0h0m5-3h0m2 6h0m0 1h0m1 0h0m2 5h0m-10 3h0m-1 2h0m-2-1h0m-4-6h0m-2 0h0m-5-3h0m0-4h0m2 0h0m2-3h0m-1-6h0m13-10h0m4 6h0m5 0h0m1 5h0m4-6h0m3-4h0m1-8h0m-1-2h0m-6 0h0m-1-1h0m-3-2h0m5-1h0m2-8h0m-2-3h0m-8 7h0m2 12h0m15-10h0m6 2h0m1 5h0m8 4h0m2 2h0m3-3h0m4-3h0m2 2h0m-1-8h0m3-4h0m3-1h0m0-2h0m3-7h0m-8 1h0m-1-1h0m0 2h0m-8 9h0m-6-9h0m2 32h0m3 2h0m2 8h0m4 8h0m-15 0h0m-2-4h0m-2-2h0m-2-3h0m-3-6h0m-1 0h0m-4 8h0m7 8h0m16 25h0m18-8h0m5-8h0m18-12h0m-8-21h0m-3-7h0m1-5h0m-1-1h0m-5 0h0m-3 4h0m-2 9h0m-1 1h0m-6 1h0m19-22h0m56 14h0m30 69h0m7 3h0m3 6h0m-2 2h0m-1 0h0m-4 6h0m-4 7h0m-4-5h0m-2 0h0m0-1h0m-5 3h0m-7-6h0m-3 9h0m-6 7h0m-3-3h0m-8 5h0m-3-3h0m0 8h0m0 3h0m-1 0h0m2 1h0m1 1h0m-3 2h0m-1 2h0m10-1h0m1 3h0m0 2h0m0 3h0m-3 5h0m2 2h0m-1 1h0m5-3h0m4-2h0m2-2h0m2 6h0m0 2h0m-3-1h0m-5 5h0m-2 10h0m-8-1h0m1 7h0m7 11h0m-2 3h0m0 4h0m2 3h0m3-2h0m2-7h0m1-3h0m5 9h0m4 3h0m3-4h0m3 3h0m7 1h0m1 1h0m-1-10h0m-5-2h0m0-6h0m4 1h0m-6-6h0m-9-2h0m0-6h0m3-5h0m4-3h0m-2-2h0m2-9h0m2 0h0m0-1h0m3-1h0m4-2h0m2-3h0m4 2h0m1 3h0m6-4h0m1-2h0m5 5h0m2-7h0m7 2h0m3-6h0m-5-4h0m1-3h0m-5-1h0m-5-1h0m-2-2h0m0-2h0m1 0h0m-1-3h0m8 1h0m7-6h0m7 0h0m1-1h0m2 6h0m7-3h0m4 1h0m8-2h0m-7-18h0m0-1h0m2 0h0m-2-4h0m-7 2h0m-4 1h0m-3 2h0m-2-5h0m-4 5h0m-3 2h0m-2-4h0m2-2h0m-6 8h0m2 4h0m-3 2h0m-5-16h0m15-11h0m3 2h0m2 2h0m1-4h0m5-2h0m1-2h0m2 2h0m5 0h0m2 1h0m1 2h0m-2 2h0m6 3h0m0 1h0m2-8h0m1 0h0m-3-1h0m2-9h0m3 0h0m-5-4h0m-5-2h0m-2 0h0m7-5h0m0-2h0m-2-2h0m-1 0h0m10 1h0m1 1h0m0 7h0m1-14h0m-3 0h0m3-5h0m-1-4h0m-1 0h0m-3-2h0m-1 1h0m-1-1h0m3-1h0m4-1h0m1 1h0m4 7h0m9-16h0m0-1h0m2-3h0m3-5h0m-7-2h0m-2 0h0m-1-1h0m-1-1h0m3-1h0m0-2h0m-3-4h0m2-1h0m3 0h0m-1-4h0m-7 1h0m12 7h0m4-1h0m-1-7h0m4-2h0m3 0h0m3-1h0m0-4h0m-1-3h0m-5 4h0m-3-4h0m-2-9h0m3-3h0m4 4h0m3-2h0m2 3h0m4 2h0m3 1h0m6-9h0m-1-3h0m-5-4h0m-3-4h0m2-3h0m0-2h0m2 1h0m0 2h0m3-1h0m0 2h0m3-5h0m0-4h0m-2 0h0m2-4h0m0-1h0m-2-3h0m5-1h0m4 4h0m2-2h0m2 0h0m10-5h0m-8-7h0m-2-8h0m-2-2h0m-2 0h0m-5-4h0m-4 8h0m0 2h0m-2 0h0m8 3h0m-1 2h0m-16 0h0m-6-4h0m6-4h0m2-6h0m-3-1h0m2-10h0m1-2h0m-9 0h0m-3 5h0m-2 5h0m-3-8h0m-1 22h0m4 6h0m0 2h0m1 6h0m6-2h0m0 9h0m-5 2h0m3 5h0m-4 3h0m1 3h0m4 0h0m3 6h0m-14-1h0m-12 13h0m-4-30h0m14-15h0m22 13h0m2-3h0m-4 8h0m21 7h0m0 1h0m9-5h0m7-6h0m1-28h0m-1-5h0m2-7h0m4-1h0m-6-7h0m2-7h0m-6 0h0m-3 4h0m-1 2h0m-1 6h0m-2 6h0m-8-7h0m-2-1h0m0-4h0m-3-1h0m-3-7h0m-1 0h0m-1-5h0m3 0h0m8-4h0m3-4h0m0-8h0m2-3h0m3-2h0m1 2h0m3 1h0m-1 3h0m2 0h0m1 1h0m6 1h0m1 1h0m0-6h0m-4-5h0m1-1h0m2-1h0m1 0h0m-3-2h0m-6 1h0m-3-1h0m2 5h0m-10 1h0m-3 4h0m-8 3h0m-1-2h0m-3-5h0m-1-2h0m8-6h0m1-3h0m8 3h0m1-5h0m5 1h0m3-2h0m1-1h0m-4-4h0m-1-5h0m-1 0h0m3-3h0m8 0h0m5-3h0m2 2h0m1-2h0m6-2h0m1-6h0m-8-4h0m2-7h0m-2-1h0m-3-4h0m2-4h0m2-1h0m0-1h0m6 2h0m1 6h0m-3 1h0m7 0h0m4-1h0m0-3h0m-1-6h0m4-4h0m3-3h0m2-1h0m0 3h0m0 5h0m5-1h0m1 1h0m2 0h0m3 1h0m0 1h0m5 2h0m-1 2h0m6-2h0m-1-6h0m7-1h0m-5-10h0m0-1h0m7-3h0m6 3h0m1-5h0m4-6h0m-7-1h0m-2-4h0m4-1h0m5-2h0m8 4h0m-1 3h0m3 3h0m1 1h0m5-1h0m0-7h0m-4 0h0m-2-8h0m1-6h0m3 0h0m-2-3h0m5-4h0m-2-5h0m5-2h0m0-8h0m-3-2h0m-2 1h0m-1 0h0m0-1h0m0 2h0m2 0h0m-5-2h0m-3 2h0m-2 1h0m-2-3h0m-2-2h0m4-4h0m-8-3h0m-1 3h0m-1 2h0m0 8h0m-2 0h0m2 4h0m3-4h0m1 1h0m1 3h0m2 3h0m-4 4h0m-7-3h0m-5-7h0m-4 7h0m-1 1h0m-3-1h0m-1-3h0m0-2h0m0-3h0m-2-5h0m-2 0h0m-1 0h0m1-2h0m1-1h0m-2-2h0m-1 0h0m1-4h0m0-1h0m3 4h0m4 2h0m4-1h0m1-1h0m1-3h0m2 1h0m-6 0h0m-1-1h0m1-2h0m0-2h0m-1-1h0m1-6h0m-1-5h0m-7 7h0m-5 0h0m-4 3h0m-1 3h0m-1 3h0m-1 0h0m2 1h0m-2 2h0m-3 0h0m-2-1h0m0 2h0m-3 1h0m0-3h0m1-2h0m2-2h0m-2-3h0m2-3h0m-3-1h0m-7-5h0m-7 9h0m10 6h0m1 0h0m10 5h0m4 1h0m2 2h0m0 2h0m-1 1h0m0 2h0m0 1h0m-5 1h0m-4 0h0m0-1h0m-2-3h0m5-1h0m3-1h0m5-4h0m0-6h0m16 6h0m11-9h0m-1-4h0m9 3h0m1-5h0m3 0h0m3 5h0m4 4h0m2 5h0m5 0h0m5 2h0m3-2h0m1-4h0m1 0h0m3-8h0m9-5h0m10 10h0m3 0h0m5 0h0m-1 7h0m-1 5h0m-4 0h0m-2 4h0m-3 0h0m0-2h0m-2 0h0m2-5h0m-5-1h0m-3 1h0m-1-1h0m-2 5h0m2 3h0m-1 1h0m0 1h0m-3 1h0m1 4h0m1 1h0m3-1h0m1-2h0m2-1h0m-2 6h0m2 1h0m5 0h0m-1 4h0m-7 6h0m5 4h0m2 0h0m6-3h0m5 0h0m-5 11h0m2 4h0m1 2h0m4-1h0m3 3h0m3 0h0m3 5h0m5-2h0m4-2h0m1 4h0m0 2h0m0 6h0m-3 0h0m-4 3h0m-4-1h0m-4-3h0m0-3h0m-4-1h0m0-2h0m-8-4h0m-9 2h0m-4 4h0m-5 0h0m6 5h0m-2 3h0m-8 0h0m-1 4h0m1 2h0m-3 4h0m0 7h0m3 0h0m-3 6h0m1 3h0m5-1h0m5-6h0m9-5h0m3-3h0m0-3h0m-2 0h0m-2-2h0m1-2h0m-2 6h0m7 5h0m3-2h0m4 1h0m-1 3h0m0 4h0m1-11h0m1 0h0m7 4h0m8-4h0m-1-5h0m7-1h0m2-4h0m2-4h0m2-9h0m5-3h0m4-6h0m-5-2h0m-4 1h0m-5 0h0m0 1h0m-3 1h0m-5 0h0m8 4h0m-7-14h0m-3-2h0m-1 0h0m2-4h0m2-3h0m1-1h0m4-1h0m-2 7h0m0 2h0m-8-7h0m-1-3h0m0-1h0m2 0h0m3-6h0m-4-1h0m-3-2h0m3-2h0m1-2h0m-4-4h0m-1-1h0m4-5h0m-2-9h0m-5-6h0m-6-12h0m16 1h0m4 20h0m8 1h0m9 5h0m0 12h0m-9 2h0m-1-1h0m-20 5h0m-2-2h0m-3-4h0m-4-2h0m-2 4h0m-21-7h0m-3-1h0m-2 4h0m-1 5h0m5 2h0m-5 4h0m3 3h0m-5 2h0m-2 5h0m-5-1h0m-2 3h0m-16-4h0m-8 4h0m-5 3h0m-5 2h0m-7-5h0m1-3h0m-6 1h0m-1 1h0m-6 0h0m1-6h0m3-2h0m0-1h0m1 0h0m3 0h0m1-2h0m2-1h0m-3-3h0m2-3h0m-8 4h0m-5 0h0m-2 2h0m-1 0h0m-2 0h0m6 1h0m0 1h0m1 0h0m-6 9h0m-4 0h0m0-2h0m-1-1h0m-1 0h0m-2 4h0m2 1h0m1 0h0m-1 4h0m-2 4h0m2 1h0m1 1h0m2-2h0m4 0h0m0 3h0m-4 2h0m1 2h0m-1 1h0m1 1h0m-4-2h0m-1 1h0m-4 2h0m5 5h0m2 0h0m2 2h0m-3 2h0m0 3h0m-1 1h0m-3 3h0m-9 1h0m-3-1h0m-3 1h0m-5-6h0m-1-15h0m3 0h0m7-1h0m6-3h0m-2-7h0m2-2h0m-8-9h0m22 12h0m2-1h0m4 2h0m4 1h0m2 5h0m1 2h0m3-3h0m5 5h0m-2 3h0m-5 5h0m1 9h0m3 0h0m-15-5h0m-1-3h0m-1 6h0m3-13h0m3 0h0m-5 29h0m-5 10h0m0 1h0m-1 1h0m7 6h0m-5 5h0m1 2h0m-4 4h0m-1 1h0m1 8h0m10-3h0m-1-6h0m7 11h0m3 4h0m-3 3h0m2 4h0m3 0h0m7-9h0m-1-4h0m1-2h0m-3 0h0m1-4h0m6 9h0m11-2h0m4 5h0m6 2h0m4-10h0m4 1h0m7 2h0m6-5h0m-2-2h0m0-4h0m2-2h0m3-4h0m3 1h0m1 4h0m3-3h0m3 0h0m9 11h0m5 0h0m3-3h0m5 5h0m10 6h0m4-5h0m7 2h0m2 6h0m-7 9h0m-2 0h0m-5 5h0m7 3h0m6 5h0m3 6h0m2 2h0m-5 3h0m-1 5h0m-2 2h0m6-2h0m5 7h0m0 7h0m18-10h0m0-1h0m5-2h0m3-4h0m4-1h0m2 2h0m1-7h0m-8-1h0m0 2h0m-1-4h0m0-4h0m-8 6h0m0 3h0m-4 1h0m14 17h0m-2 4h0m10 0h0m-2-7h0m6-1h0m9-5h0m2 1h0m0 5h0m5 1h0m4-5h0m-4-2h0m8-1h0m2 0h0m1 1h0m-1-4h0m0-2h0m4-1h0m-8-1h0m-9-5h0m-2-6h0m-2-6h0m5-1h0m3 1h0m3-7h0m1 0h0m5 1h0m-1-5h0m-8-3h0m0-6h0m-3-4h0m5-3h0m1 0h0m3 5h0m3 1h0m2-5h0m2-7h0m-3-5h0m0-5h0m-12 9h0m1 2h0m-5-3h0m-6 0h0m-3 1h0m0 2h0m-6-2h0m-3 2h0m-5-1h0m-5-6h0m-1-2h0m-4 3h0m-5-3h0m-3-5h0m0-3h0m5-8h0m1-3h0m-3-2h0m2-2h0m-6 0h0m-2-5h0m2-1h0m-3-2h0m-4 4h0m1 7h0m-9 7h0m-6 0h0m2 9h0m2 3h0m-1 4h0m10-8h0m19-2h0m9 1h0m4 0h0m0-2h0m5 2h0m-2 4h0m-6 0h0m0 1h0m0-12h0m-1-2h0m3 1h0m6 2h0m1-7h0m4-4h0m3 5h0m0 2h0m1 1h0m6-1h0m-2 9h0m-3 1h0m-3-2h0m1 6h0m0 2h0m0 1h0m1 16h0m-24 7h0m-2 8h0m14 8h0m4 6h0m8 14h0m13 18h0m6 2h0m4 3h0m2-2h0m6 3h0m2-3h0m1-2h0m-3-5h0m-2 0h0m-5-1h0m-1-1h0m10-8h0m-1-4h0m0-4h0m-1-5h0m1-1h0m4-1h0m1-1h0m1 2h0m-1-5h0m-2-2h0m-3 1h0m-1 1h0m-1-2h0m-1-2h0m1-7h0m8 4h0m5 4h0m1 2h0m-1 1h0m2 3h0m2 0h0m2 5h0m-6 1h0m0 1h0m0 1h0m2 2h0m1 5h0m3 0h0m2 1h0m3 2h0m-1 2h0m-11 5h0m-2-4h0m-2-5h0m0-3h0m0-1h0m-1 14h0m3 11h0m4 2h0m-8 1h0m-7 5h0m-4-1h0m-5-2h0m-3-2h0m0-3h0m-10 8h0m21 4h0m4 1h0m1 9h0m-3 6h0m7 7h0m5 0h0m2 1h0m1-2h0m-2-2h0m1-2h0m3-6h0m2-7h0m0-4h0m-4-2h0m-1 5h0m12 6h0m4 10h0m-2 1h0m-2 2h0m-5 4h0m-1 1h0m-3-3h0m-4 7h0m-6-2h0m-1 1h0m-1-2h0m-3 6h0m-4 0h0m-6 2h0m-5 0h0m-1 6h0m-1 1h0m-4-4h0m-3-5h0m3-4h0m-3-5h0m-5 1h0m-2 4h0m-5 3h0m2 2h0m1 5h0m-6-3h0m0-4h0m2-3h0m3-5h0m18 1h0m-7 20h0m-10 6h0m43-9h0m14-8h0m-1-5h0m10-4h0m3-3h0m0-6h0m2-14h0m8-2h0m5-3h0m-4-5h0m-2-2h0m-1 0h0m2-4h0m2 0h0m4 3h0m3 2h0m7-4h0m-4-4h0m0-10h0m-4-2h0m-2 0h0m1-6h0m1-1h0m1-1h0m2-2h0m1 2h0m-1-6h0m4-3h0m10 3h0m2 5h0m6-1h0m4 8h0m3 6h0m5 4h0m-1 3h0m2 5h0m5-4h0m6-2h0m4 1h0m-2 3h0m0 1h0m2 1h0m5 1h0m1-2h0m1 0h0m2 3h0m1-5h0m-4-2h0m0-2h0m1 0h0m1-2h0m-1-1h0m4 1h0m5 2h0m1 4h0m1 1h0m5-1h0m2-1h0m2 2h0m-2 2h0m-1 0h0m1 3h0m4 0h0m-3 6h0m0 7h0m-2 3h0m6 1h0m-10-6h0m-9-7h0m-4 0h0m-4 4h0m-4 0h0m3 8h0m4 0h0m-8 1h0m-4 3h0m-4 0h0m-7 2h0m-9-4h0m1-9h0m-7 0h0m0-1h0m0-4h0m5-5h0m0-3h0m1-1h0m-10-8h0m-1 1h0m1-4h0m-7-1h0m-13-12h0m-2-11h0m-8-5h0m-8-2h0m6-8h0m-11-1h0m-5 5h0m-4-1h0m-3-1h0m2-8h0m10-4h0m-2-8h0m-12-8h0m-4-3h0m-1-3h0m-4 2h0m-2 5h0m-1 4h0m-5-1h0m-1 8h0m10-1h0m-13 28h0m-4 1h0m34-3h0m7 13h0m2 4h0m6-1h0m-2-4h0m8 20h0m1 3h0m-14-2h0m-2 0h0m-4 4h0m-2 0h0m-2-1h0m7 5h0m2-1h0m34 9h0m5 7h0m-9 10h0m8 5h0m-12 6h0m-10 3h0m-5 9h0m3 7h0m-13-3h0m-1 13h0m9 9h0m14 17h0m1 32h0m-9 4h0m-17 7h0m-35 6h0m-5-26h0m-25 78h0m-3 0h0m4 4h0m-3 6h0m-11 2h0m2 13h0m-7 7h0m-2-1h0m-3 6h0m-10 4h0m-5 12h0m-1 2h0m-2 1h0m-2-1h0m3 8h0m-1 2h0m-4 0h0m-1-1h0m-1 6h0m-6-2h0m-3 4h0m-3 7h0m0 2h0m7 0h0m5 3h0m-7 9h0m-2 4h0m-14 0h0m-3 2h0m-3 2h0m-6 4h0m-3-3h0m-5 0h0m0 4h0m0 1h0m-2 3h0m0 6h0m0 3h0m1 3h0m-3 2h0m0 1h0m-5-4h0m-1 7h0m-3 0h0m-3-1h0m-5 1h0m-1 1h0m-1 4h0m2 3h0m-7 2h0m-3 0h0m0 3h0m6 2h0m-1 4h0m3 8h0m-5 7h0m-1 4h0m2 3h0m6-1h0m9 1h0m2-10h0m-1-4h0m0-4h0m-1-4h0m-1-4h0m0-2h0m-1-2h0m8 2h0m1 4h0m-3 1h0m0 2h0m1 5h0m4 7h0m1-17h0m1-4h0m1-5h0m3-1h0m-1-3h0m4-3h0m2-1h0m2 5h0m1 2h0m6-3h0m1-6h0m3-1h0m0-7h0m2-3h0m-3-2h0m-3 2h0m0 4h0m-4 3h0m-4 0h0m-5 21h0m-1 3h0m5 2h0m1-4h0m3 2h0m10-6h0m2 0h0m7-17h0m2-1h0m3-4h0m-14-31h0m0-10h0m-10 3h0m-2 7h0m-3 12h0m-20 11h0m-1 1h0m-1 2h0m2 4h0m-6 0h0m-2-1h0m-2 6h0m0 2h0m-2 1h0m-1-1h0m-4-3h0m-1 2h0m-4 0h0m-2 3h0m-5 1h0m-7-2h0m3-6h0m3-1h0m-1-3h0m-3-4h0m3-2h0m5 3h0m1 2h0m9 3h0m-2 13h0m3 1h0m1 1h0m-11 13h0m1 8h0m3 9h0m-5 8h0m-11-5h0m-12-12h0m5-15h0m-11-6h0m-7 11h0m-5 5h0m-3-3h0m-3-5h0m-4-7h0m-11 13h0m0 4h0m-4 0h0m3 4h0m7 5h0m5-1h0m-12 22h0m4 6h0m-15-6h0m-2-12h0m-3-3h0m3-2h0m-6-6h0m6-6h0m4-7h0m-7-11h0m-3 2h0m-13 9h0m-6-2h0m-4 1h0m-2-4h0m-5-4h0m7-3h0m4-1h0m0 4h0m-7-9h0m-3-1h0m-4-4h0m-10 3h0m2 5h0m-3 5h0m5 6h0m-4 3h0m-1 0h0m3 3h0m-4 8h0m-3-2h0m-6-4h0m-3-3h0m-3 2h0m5 7h0m0 2h0m4-14h0m-9-5h0m-5-3h0m-1 1h0m-4 1h0m0-3h0m-1-2h0m4-2h0m5-1h0m0-3h0m3 6h0m6-5h0m3-1h0m-5-4h0m9-5h0m-1-3h0m-1-3h0m-2 1h0m-5-4h0m-3 3h0m-4 0h0m0 2h0m-10 6h0m-3 8h0m-10 4h0m-1 1h0m-1 0h0m-4-2h0m-4-4h0m2-4h0m7-3h0m3-5h0m10-7h0m4-4h0m5-6h0m-17-4h0m1-14h0m-6-17h0m-7-6h0m-1 0h0m2-7h0m-13-1h0m0-3h0m-12-3h0m-4 3h0m0 2h0m-11 2h0m11 12h0m2 9h0m14-1h0m4-4h0m3 12h0m-5 5h0m-3-2h0m-1 2h0m-1 5h0m8 10h0m-6 4h0m5 6h0m-4 3h0m-2 3h0m-10 0h0m-3 2h0m1 3h0m-6-6h0m-2 0h0m-3 8h0m-3 2h0m2 7h0m6 5h0m2-7h0m12-3h0m1 1h0m6 0h0m0 4h0m-1 1h0m2 0h0m-1 3h0m-1 2h0m4-1h0m3 8h0m10-2h0m4 6h0m2 0h0m3-1h0m1 4h0m1 5h0m6-4h0m-1-10h0m5 0h0m-19 8h0m-3 2h0m-22 0h0m-3-2h0m-8-1h0m-1 0h0m14-9h0m-34-3h0m-4 2h0m3-8h0m0-4h0m3 1h0m-8-4h0m-3 1h0m0 4h0m0 3h0m-1 0h0m-2 1h0m-4-1h0m-3 0h0m-4-8h0m1-5h0m2-3h0m-3-2h0m0-5h0m6 2h0m2 7h0m10 0h0m5-3h0m2-3h0m-6-1h0m0-2h0m-4-7h0m8 0h0m6-2h0m-2-5h0m6-2h0m4 6h0m5 1h0m3-5h0m-12 12h0m-13-12h0m-19-5h0m-3 3h0m-5 1h0m2 4h0m-6-7h0m3-3h0m-4-4h0m7-4h0m1-4h0m4 7h0m4-5h0m-20-2h0m-1-8h0m0-4h0m-5-2h0m-4-1h0m-5-4h0m-5-4h0m-1-6h0m-3-6h0m1-2h0m-2-2h0m-4 1h0m-5 6h0m1 2h0m3 2h0m-10 1h0m0 1h0m-5 10h0m2 3h0m4 2h0m1-3h0m4 8h0m7 9h0m7-9h0m7 9h0m-2 7h0m2 4h0m-9 5h0m-2 3h0m-7 1h0m-5-2h0m0-4h0m-10-2h0m0-7h0m-5-2h0m0-5h0m-1-7h0m-4-9h0m-5-2h0m-8 7h0m-3-2h0m-4-1h0m0-1h0m4-3h0m0-3h0m-3 0h0m-1 11h0m-9 0h0m-1-2h0m-2-7h0m-10 1h0m3 7h0m4 5h0m0 6h0m-7-1h0m0 2h0m1-5h0m-5-1h0m-1 9h0m-5 0h0m3 10h0m8-5h0m3 8h0m4 7h0m7 6h0m3-2h0m2 6h0m-2 6h0m-3-2h0m-9 1h0m-3 13h0m-4 3h0m-16 4h0m-2-6h0m-7-1h0m-3 7h0m1 7h0m1 9h0m37-4h0m7-6h0m3-1h0m1 7h0m7-2h0m5 6h0m0 2h0m-2 0h0m3 5h0m3-5h0m2-3h0m1-6h0m-2-1h0m-1-1h0m7 0h0m1 2h0m2-4h0m-5-3h0m-4-3h0m-1-1h0m-3-3h0m-1-4h0m-2-4h0m-2-2h0m1-2h0m5-1h0m0 3h0m1 2h0m5-1h0m-3-7h0m-2 0h0m1-2h0m-1-3h0m0-3h0m-2 0h0m0-3h0m2-3h0m2 1h0m1-3h0m2 5h0m5 4h0m1-1h0m1 1h0m6 0h0m4 3h0m1 2h0m-4 1h0m-1 4h0m-1 2h0m-3 3h0m-2-4h0m4 8h0m2 1h0m1 2h0m2-1h0m6 3h0m-8 6h0m0 5h0m-2 4h0m0 1h0m1 2h0m4-2h0m2-1h0m-1 6h0m0 8h0m2 1h0m1-1h0m0 4h0m-3 0h0m-5-4h0m-2-3h0m-2 0h0m-2-5h0m1-1h0m-4-2h0m-1 6h0m-1 1h0m-2 0h0m-1 10h0m3 3h0m0 6h0m0 2h0m0 3h0m6 2h0m3-6h0m4 0h0m0 2h0m-1 1h0m1 5h0m2 2h0m-1 4h0m4 2h0m6-3h0m2 2h0m3-3h0m0-2h0m2 0h0m1-5h0m-6 0h0m-5-4h0m15-1h0m10-3h0m-5-11h0m-6 1h0m0-3h0m-3-3h0m-5-3h0m-3-12h0m8-16h0m-11-6h0m7-8h0m-9-6h0m-10-4h0m-22 6h0m-2 1h0m1-3h0m-12-12h0m3-6h0m5 1h0m2-5h0m1 0h0m1 1h0m-3-2h0m6-4h0m4-1h0m3 1h0m-6 6h0m3-14h0m-2-1h0m20 5h0m1-37h0m-2-12h0m-4-4h0m4-4h0m-4-3h0m-6-5h0m18-2h0m19 6h0m1 2h0m-6 11h0m-4 1h0m15 2h0m7 4h0m6 4h0m2 1h0m2-3h0m4 0h0m0-1h0m-9-7h0m3-4h0m-8-3h0m8-6h0m-2-7h0m-4-1h0m3-14h0m-18 1h0m-10-6h0m-42 1h0m-27 4h0m-1-4h0m-6 5h0m-1 0h0m-17 13h0m-1 4h0m-4-2h0m-2 2h0m0 1h0m4 3h0m2 2h0m-2 2h0m-1-1h0m-1 4h0m-8 0h0m-7 2h0m0 3h0m-2 2h0m-5 2h0m4 4h0m-5 2h0m-2 4h0m-2 3h0m4 0h0m-9-6h0m-5 4h0m-6-6h0m2-11h0m10-4h0m8 1h0m13-8h0m20 7h0m1 1h0m2 2h0m-2 2h0m6 2h0m1 0h0m2 2h0m0 3h0m4-1h0m2 4h0m1 0h0m3 0h0m-1-3h0m5 2h0m4 3h0m0 1h0m0 4h0m0 3h0m-4-3h0m-2-3h0m-3 4h0m9-13h0m-1-1h0m-6-8h0m-9 1h0m0 1h0m-6-8h0m31 19h0m-1 47h0m2 45h0m4 6h0m5-4h0m2 5h0m15-5h0m2 3h0m3 1h0m-18 32h0m3 8h0m-3 13h0m-3 2h0m1 9h0m4 8h0m5 3h0m6 1h0m4 3h0m1-4h0m0-4h0m1-5h0m4-3h0m-3-3h0m10 6h0m2 3h0m-3 3h0m-4 2h0m-2 0h0m7 4h0m4 0h0m-8 4h0m0 6h0m-1 4h0m0 1h0m5 0h0m3-5h0m4 7h0m-1 2h0m-2 1h0m0 5h0m-1 2h0m-2-1h0m-4-1h0m-3 1h0m2 3h0m-1 1h0m-2 1h0m-2 0h0m5 2h0m7 0h0m0 5h0m5-6h0m3 4h0m2 3h0m1-6h0m0-1h0m5-5h0m3-6h0m-1-5h0m-4 1h0m1-4h0m3-2h0m6-7h0m9-2h0m-14-8h0m1-5h0m0-2h0m-1-2h0m4 2h0m3 0h0m-3-8h0m-12 6h0m-2 6h0m-1 2h0m7-3h0m0 8h0m-28 8h0m-2 3h0m-2-1h0m0 11h0m0 3h0m3 2h0m1-2h0m-7 10h0m0 3h0m-2 1h0m-2-2h0m-2 2h0m1 5h0m-6 1h0m-4 0h0m3-7h0m0-1h0m16 8h0m4 1h0m0 3h0m2 0h0m4-2h0m8 2h0m0 1h0m-3 4h0m-1 3h0m-4 1h0m-9-2h0m1-4h0m-10 4h0m4 7h0m-2 5h0m-3 4h0m-7-4h0m-1 6h0m8 13h0m6-1h0m3-8h0m2-3h0m1-1h0m-2-2h0m5-3h0m1 4h0m2 4h0m1 4h0m2 0h0m-1 3h0m-1 2h0m2 0h0m-2 4h0m-2 0h0m2 2h0m2-1h0m2 1h0m0 4h0m1 0h0m3 1h0m-2 4h0m-6-2h0m-1-2h0m-4-2h0m0-5h0m10-10h0m-1-2h0m1-1h0m-1-1h0m-1-6h0m2-1h0m2 0h0m4-4h0m-1-2h0m6-6h0m5-5h0m-4-3h0m9 0h0m-2 10h0m6 4h0m-10 13h0m-6-4h0m-1 0h0m2 13h0m-3 4h0m1 8h0m1 4h0m-11 11h0m-5 0h0m4 5h0m-2 4h0m7-3h0m5 4h0m4 1h0m-1 8h0m-21-2h0m-8-10h0m0-5h0m-1-9h0m42-19h0m3 0h0m10 30h0m-9-83h0m25-22h0m1-24h0m-4-10h0m-20-25h0m7-21h0m-4-15h0m2-2h0m0-1h0m-3-5h0m6-1h0m1-7h0m-3-3h0m-5-5h0m-5 1h0m-5 8h0m5 9h0m19 2h0m-11-29h0m-10-42h0m2-2h0m22-1h0m19-17h0m4-3h0m2-2h0m5-2h0m0-1h0m0-5h0m1-1h0m-7 2h0m-5 1h0m-2 4h0m-6-6h0m-3-16h0m-2-15h0m31 38h0m0 4h0m16-11h0m5 1h0m-6-7h0m30-20h0m4-2h0m23-18h0m-22-14h0m9-38h0m9-5h0m0-4h0m31 7h0m-2 15h0m10-33h0m5-9h0m39-75h0m21-6h0m-14-16h0m-2-1h0m-4-1h0m-7-8h0m-13 0h0m-3 6h0m-3 4h0m-19-7h0m2-7h0m-5-2h0m9-2h0m37-18h0m2-1h0m7 1h0m4-1h0m1 6h0m0 3h0m-5 1h0m-3 0h0m15 4h0m6-3h0m21 3h0m24-6h0m8-2h0m3 3h0m-6 7h0m13 3h0m-3 10h0m21-2h0m2 3h0m12 2h0m8 8h0m4-6h0m-5-13h0m-5-1h0m-8-5h0m-14-13h0m4-4h0m3-7h0m-22 6h0m-6-18h0m-10-2h0m0-2h0m-4 1h0m-1-2h0m0 4h0m-9-2h0m-3 2h0m4-6h0m-4-2h0m-2-2h0m1-4h0m1-4h0m3 0h0m-2-4h0m12 6h0m6 2h0m3 1h0m-6-10h0m5-4h0m8 4h0m-14-14h0m-2-9h0m-1-1h0m32-8h0m3-10h0m-4-12h0m-13-34h0m42 71h0m1 38h0m47-25h0m4 2h0m6-8h0m8-7h0m3-1h0m5-7h0m-15-16h0m-6 1h0m-12 2h0m1 12h0m4 5h0m-2 2h0m1 3h0m2 5h0m-6-48h0m35-48h0m74 144h0m43 32h0m2 1h0m2 5h0m-1 3h0m7 9h0m5-1h0m1-10h0m5-6h0m5 10h0m7-7h0m0-1h0m5 13h0m3 2h0m4-1h0m0-6h0m2 0h0m5 0h0m9-9h0m4 0h0m4 3h0m2 3h0m8-3h0m-1 10h0m1 2h0m2-1h0m-5 7h0m-2 1h0m-1 4h0m-5-3h0m-2-3h0m4-4h0m-2-2h0m-5 11h0m-5 5h0m-4-4h0m-6-1h0m-5-1h0m-5-4h0m17 18h0m3 2h0m5-3h0m1 4h0m4 6h0m4-4h0m2-1h0m1 1h0m2-1h0m0 5h0m-3 1h0m2-13h0m7 0h0m2 1h0m6 3h0m1 4h0m0 5h0m-3 3h0m5 7h0m0 10h0m-14-2h0m25-9h0m7 3h0m3 3h0m-5-12h0m3-6h0m3-4h0m2 1h0m-3-4h0m-1-1h0m-3-2h0m-3 5h0m-2 0h0m-4 1h0m-1-1h0m-1-1h0m-1-1h0m3 0h0m-2-4h0m1-7h0m-4-6h0m-3-2h0m-3 6h0m3 5h0m-8-1h0m15-15h0m3-1h0m0-7h0m-3-5h0m-1-2h0m-9-1h0m4-8h0m2-10h0m1-4h0m-5-2h0m-1-5h0m1-2h0m4 2h0m4 1h0m1 0h0m2 4h0m2 0h0m2 2h0m3-2h0m-4-3h0m3-2h0m3-3h0m6-4h0m-1-2h0m0-5h0m-2-2h0m2-3h0m2 0h0m-4-1h0m-2-3h0m-1-1h0m-3-2h0m0-2h0m-2 4h0m-2 7h0m1 1h0m3-1h0m2 2h0m-6 3h0m-2 4h0m0 1h0m-5-3h0m0-1h0m-3 1h0m-1-3h0m1-3h0m4-4h0m-8-2h0m-2-4h0m-4-1h0m-1 1h0m-2 6h0m-3-1h0m0 4h0m0 2h0m1 6h0m0 2h0m-3-2h0m5 5h0m-4 7h0m-1 5h0m4 0h0m-5 4h0m-3 6h0m4 4h0m-10-3h0m-3 4h0m-8 0h0m5-13h0m3 0h0m2 1h0m1-4h0m-1-1h0m7-5h0m-8-6h0m-5 2h0m-1 0h0m-4 5h0m-3 0h0m0 3h0m-5-3h0m-4 5h0m-9 5h0m-10-27h0m-1-8h0m-5-4h0m14-5h0m18-5h0m5 3h0m5 6h0m2 6h0m3 5h0m8-4h0m4-4h0m-6-6h0m2-5h0m0-1h0m4 3h0m2 0h0m-1-8h0m-1-3h0m1-6h0m1-1h0m3-2h0m-2-4h0m-14 4h0m-7 6h0m-2 2h0m1 3h0m-1 1h0m2 0h0m4-1h0m4 3h0m-13 17h0m1 13h0m34-6h0m5-11h0m2-1h0m-4-3h0m3-3h0m0-5h0m-6 1h0m-2 6h0m15 2h0m3-7h0m4-3h0m3 3h0m1-1h0m4 0h0m1-1h0m-2-3h0m2-4h0m0-2h0m-1-2h0m2 0h0m2 0h0m0 6h0m5 7h0m-1 1h0m-5 2h0m-2 1h0m-2 3h0m8 0h0m4-1h0m2 4h0m4-3h0m3 1h0m1-5h0m1-3h0m3-4h0m3-2h0m7-3h0m4 3h0m6-5h0m-2-7h0m-5 1h0m-14-2h0m-1-2h0m-6-1h0m-2-5h0m4-4h0m-2-7h0m-3-2h0m-7 2h0m2 4h0m0 10h0m-5-1h0m-7 2h0m0 6h0m-7-5h0m0-4h0m2-6h0m-7-1h0m-1 1h0m-1 1h0m-7 2h0m3 9h0m2 9h0m13 4h0m21-8h0m6 5h0m3-4h0m-9 17h0m-8 10h0m1 2h0m-2 4h0m2 4h0m3-2h0m1 4h0m-5 2h0m5 5h0m3-2h0m5-6h0m-5-4h0m0-1h0m-1-3h0m11-1h0m1-3h0m2 1h0m2 4h0m5-1h0m7-1h0m7-1h0m-5-6h0m-3-1h0m8-1h0m11 7h0m-5 16h0m-9-2h0m-5 2h0m-2 1h0m-8 6h0m-2-1h0m-1-10h0m-11 13h0m-4 0h0m-3 4h0m-2 6h0m3 5h0m0 3h0m-3-1h0m7 1h0m-1 3h0m-2 7h0m-4-1h0m2 8h0m8 3h0m-6 6h0m4 7h0m2 3h0m-8 1h0m-6-1h0m-1-1h0m0-4h0m0-6h0m-14 8h0m3 5h0m7 4h0m6 2h0m3-1h0m-5 16h0m-3 3h0m25-6h0m4 1h0m-1 5h0m12-13h0m-8-15h0m-1-2h0m3-2h0m9-1h0m4 3h0m3-13h0m-15-7h0m-11-20h0m4-2h0m3-1h0m-12 1h0m0-3h0m-13-7h0m-5 7h0m0 3h0m0 13h0m-7 0h0m-2 0h0m-20-10h0m-24-76h0m2-2h0m-1-16h0m6-6h0m-1-3h0m7 3h0m5-1h0m3 2h0m4 1h0m-2 9h0m19-2h0m0-8h0m5 0h0m5 2h0m4 4h0m10-5h0m1-7h0m4-4h0m7-7h0m8 15h0m0 7h0m-7 0h0m-5 7h0m38 6h0m6 23h0m-4 60h0m-74-112h0m-4 2h0m-14-1h0m15-19h0m10 7h0m5-14h0m-65 10h0m-5 16h0m9 10h0m4-2h0m-10 8h0m-15 2h0m-1-5h0m-7 24h0m-15 123h0m-8 6h0m0 2h0m4 2h0m-6 4h0m-1-2h0m-5 29h0m6 12h0m33-12h0m1-15h0m-171-25h0m-4 1h0m-8 2h0m5 7h0m-22 1h0m-109-98h0m-47 16h0m-4-3h0m-4 2h0m-1-16h0m1-3h0m-1-6h0m-8 7h0m1 1h0m-3 0h0m0-2h0m65 282h0m56-2h0m6 10h0m-11 44h0m-3 22h0m-4 7h0m-11 1h0m-3 4h0m-2 4h0m3 2h0m-8 2h0m-5 1h0m-10-3h0m-4 3h0m2 2h0m8-14h0m23 18h0m5 4h0m2 0h0m-40 10h0m-6 1h0m-7-7h0m-53-11h0m-2-15h0m-26 16h0m-5-8h0m3-23h0m-3-35h0m17 84h0m-7 3h0m-7 22h0m5 5h0m6 5h0m7-2h0m-1 15h0m-1 4h0m-11-8h0m-5-5h0m-9 4h0m-35 3h0m-79 75h0m-95-18h0m6-34h0m-21-34h0m-69-39h0m-15-8h0m-22-7h0m2 22h0m-2-61h0m1-1h0m20-50h0m-3-37h0m-2-4h0m25-24h0m11-20h0m2-1h0m8-18h0m7-12h0m-7-6h0m-11-2h0m25 18h0m4-6h0m-9 42h0m1 1h0m-2 4h0m5 8h0m4 2h0m6-3h0m-15 6h0m-1-3h0m-4 8h0m1 1h0m57 423h0" stroke="#B79F00" stroke-width="12.4" stroke-linecap="round" fill="none" />
<path transform="scale(0.25)" d="M3908 5037h0m144-640h0" stroke="#00BA38" stroke-width="12.4" stroke-linecap="round" fill="none" />
<path transform="scale(0.25)" d="M4177 4916h0" stroke="#00BFC4" stroke-width="12.4" stroke-linecap="round" fill="none" />
<path transform="scale(0.25)" d="M4835 4905h0m10-1h0m7 2h0m5-5h0m1 0h0m1-4h0m-4-3h0m0-3h0m1-5h0m-5-2h0m2-3h0m1-6h0m-4-5h0m-6 3h0m0 6h0m-5 2h0m-3-12h0m24-2h0m4 0h0m0-4h0m4-1h0m1 0h0m-1 2h0m5 1h0m1 3h0m5 4h0m-2 5h0m1 2h0m-4-3h0m-2 2h0m-2-2h0m-2 4h0m0 2h0m4 0h0m2 4h0m-5 0h0m-1 5h0m0 1h0m2 1h0m2 0h0m4 2h0m4 5h0m3 2h0m6-3h0m-6-4h0m5-10h0m-2-1h0m6-14h0m-11-5h0m-1 0h0m-1-9h0m-6 0h0m-2-5h0m-5 4h0m0 3h0m-7-9h0m1-6h0m6 2h0m4-1h0m9 2h0m2-4h0m2 1h0m-2-11h0m-2-6h0m0-4h0m-3 1h0m-5-1h0m0 3h0m-3 1h0m-4-1h0m-4 2h0m3 4h0m9 0h0m-4-13h0m-5-8h0m26 20h0m6 15h0m16 32h0m-46-2h0m-5 4h0m2 3h0m0 7h0m5 9h0m2 2h0m-4 1h0m-5 4h0m2 7h0m2 3h0m-3 4h0m-2 8h0m-1 2h0m3 2h0m3 1h0m1 4h0m-2 2h0m8-7h0m2-1h0m1-4h0m0-2h0m-2-2h0m-3 2h0m1 3h0m7-7h0m-2-4h0m2-4h0m-4-1h0m-3 2h0m-3-5h0m17 10h0m1 14h0m-5 1h0m-3 1h0m0 1h0m-2 2h0m3 3h0m4-2h0m2-1h0m0 7h0m-1 0h0m-1 4h0m0 3h0m0 1h0m2 4h0m4-1h0m3-1h0m-1 7h0m1 4h0m4 0h0m-2 6h0m-4-1h0m-3 6h0m1 1h0m0 2h0m-6-1h0m1-3h0m-4-4h0m0-4h0m0-5h0m3 1h0m-8 3h0m0 6h0m-7 9h0m4 6h0m3-1h0m2-2h0m5 4h0m-2 7h0m3 7h0m2 4h0m3-3h0m0-5h0m1-4h0m4-2h0m2 4h0m-1 2h0m0 3h0m4-2h0m0-2h0m1 6h0m1 3h0m3-1h0m2 4h0m4-5h0m1 0h0m0-4h0m4 4h0m-2 9h0m1 1h0m2 2h0m3 4h0m3-2h0m3 3h0m0 1h0m-2 2h0m-1 0h0m-2 0h0m-2 4h0m-2 6h0m-2 2h0m3 1h0m2 2h0m8 4h0m-3 6h0m-2 5h0m1 2h0m8-2h0m3-7h0m2-2h0m1-1h0m6 0h0m3-3h0m-2-3h0m1-3h0m5 1h0m2-2h0m2-1h0m2 1h0m5-3h0m4-2h0m5 4h0m3 9h0m3 3h0m-3 2h0m-4 1h0m2 3h0m-6 2h0m-5 0h0m-3 0h0m-2 4h0m2 2h0m-9-1h0m-2 7h0m1 4h0m-5-1h0m-3 7h0m-13 6h0m-2-5h0m0-5h0m-2-2h0m-8 10h0m5 9h0m9 2h0m-1 10h0m6-1h0m6 7h0m-1 4h0m-4 1h0m-4-2h0m-6-1h0m-1 1h0m-2-3h0m0 6h0m4 6h0m-2 5h0m-3 3h0m-2 3h0m4 6h0m8 3h0m8 2h0m7 8h0m-7 4h0m-2 0h0m-1 3h0m7 8h0m4 2h0m0-6h0m1 13h0m-2 3h0m-3-1h0m-10 4h0m-3 0h0m3 3h0m-8 2h0m1 6h0m-7 2h0m0 5h0m0 2h0m-5-6h0m2 15h0m3 7h0m1 1h0m6-6h0m2 9h0m-5 5h0m3 4h0m2 0h0m6 6h0m-1 4h0m5 2h0m0-7h0m0-4h0m-2-4h0m4-10h0m-1-5h0m0-6h0m5-3h0m-2-5h0m2-2h0m-6-4h0m3-3h0m14 1h0m0-4h0m5 2h0m3 3h0m3-7h0m-4-7h0m5-3h0m-1-2h0m0-4h0m-6 1h0m-4 11h0m18-3h0m8 0h0m3-1h0m2 6h0m8-5h0m10-2h0m6 0h0m9-1h0m-4 9h0m7 6h0m2 4h0m3-4h0m1 9h0m2 2h0m2-2h0m2 1h0m2 6h0m-3 2h0m0 6h0m5-2h0m7-4h0m1 0h0m4-6h0m-2-4h0m8-8h0m-2-7h0m-9 2h0m0-9h0m-7 1h0m1-9h0m-1-3h0m2 0h0m0-3h0m0-1h0m4 0h0m2 3h0m2-3h0m-3 7h0m8 3h0m5-7h0m10-3h0m1-1h0m5 5h0m6-2h0m-1-3h0m8 2h0m1 2h0m3-3h0m5 0h0m5-4h0m3 3h0m1 6h0m-3 1h0m-2 3h0m-3 7h0m7 4h0m-1 9h0m-2 2h0m-3 2h0m1 1h0m-5 0h0m-2 1h0m-1 5h0m1 2h0m2 1h0m2 1h0m3 2h0m4-1h0m3-3h0m0 6h0m1 3h0m5 8h0m1 3h0m-1 4h0m5 1h0m3-4h0m3 3h0m4 0h0m1 0h0m3-1h0m0-3h0m-2-2h0m-1-5h0m-3 0h0m1-4h0m1-2h0m5-5h0m-1-1h0m-3-2h0m-9 3h0m-6-4h0m3-6h0m4-4h0m2 1h0m-6-10h0m-3 2h0m6-7h0m-5-3h0m8-4h0m3-5h0m2 1h0m3 7h0m7 4h0m2 3h0m4-3h0m0-2h0m2-3h0m3 0h0m5-3h0m4 1h0m-1 5h0m4 3h0m4 0h0m-4 6h0m1 6h0m-3 6h0m2 3h0m-4 1h0m-5-5h0m-4-5h0m-1-2h0m5-2h0m-4-8h0m-5-9h0m-2-5h0m-3-1h0m1-5h0m3-4h0m-3-5h0m3-3h0m6-5h0m0-2h0m3 4h0m-1 5h0m1 7h0m1 1h0m-4 0h0m0 5h0m7-8h0m7-5h0m4-6h0m-6-3h0m2-3h0m4-4h0m3 1h0m2 2h0m4-1h0m2-3h0m11 2h0m0 1h0m6 0h0m7 4h0m3 2h0m1 2h0m1 1h0m4 2h0m3 2h0m6-2h0m8 2h0m4 1h0m0 6h0m-2 1h0m-4 8h0m1 2h0m-1 9h0m7 5h0m-3 5h0m-5 7h0m-6-2h0m-8-1h0m-3-2h0m-2 3h0m-5-3h0m-4-1h0m0 2h0m2 8h0m3 5h0m-2 1h0m3 3h0m3-2h0m-5 8h0m-3-2h0m-3 0h0m-5-6h0m0-1h0m4-1h0m-8 7h0m-4-1h0m-6-2h0m-1-5h0m-3-3h0m0-4h0m3-10h0m3-4h0m4 1h0m-7-5h0m-5-2h0m5-9h0m5-4h0m5 8h0m9-1h0m-3-12h0m4-3h0m6-1h0m1 0h0m2 0h0m3 0h0m-5-5h0m10 14h0m-6 4h0m3 8h0m-6 4h0m14 5h0m12 17h0m16 7h0m-3 6h0m-3 3h0m-9 5h0m-7 12h0m1 2h0m-3 8h0m-8 6h0m-3 8h0m-4 2h0m0 2h0m9 0h0m-6 11h0m-7-1h0m-3-2h0m-4-8h0m-6 3h0m-4 8h0m-3 2h0m0 3h0m-1 1h0m-4-4h0m-1-4h0m4-4h0m-6-8h0m-6 1h0m0-4h0m-8-2h0m-5-1h0m2-6h0m-3-2h0m-4 2h0m-2 8h0m-2 12h0m5 1h0m4-1h0m3 9h0m0 5h0m-5 8h0m-4 1h0m-7 1h0m-2-1h0m-2 6h0m-5 7h0m-2-1h0m8 9h0m0 4h0m3 4h0m-4 4h0m-5 3h0m-4 7h0m-3 4h0m0 2h0m-2 2h0m-2 3h0m-3-2h0m-6-2h0m0 6h0m2 2h0m-2 1h0m6 1h0m2-2h0m7-1h0m0-4h0m3 1h0m4 4h0m5-1h0m1-2h0m-4-2h0m-1-6h0m1-3h0m3 2h0m3 4h0m-3-10h0m6-7h0m3-4h0m4 0h0m-3-4h0m7 0h0m2-5h0m-3-2h0m3-2h0m2-1h0m4 3h0m1 0h0m3 4h0m3 1h0m2-1h0m-2 4h0m6-1h0m3 4h0m3-5h0m-6-5h0m7-5h0m7 0h0m4 5h0m1 4h0m-3 0h0m-2 3h0m-6 7h0m-5 9h0m2 1h0m-6-1h0m-3 9h0m4 1h0m6-1h0m-17-2h0m0-9h0m-7-7h0m-5 3h0m-4 4h0m3 8h0m1 11h0m2 5h0m2 4h0m0 5h0m-1 2h0m-3 1h0m-2 2h0m1-7h0m-3-6h0m-9-1h0m-3 9h0m5 2h0m3-1h0m-3 15h0m-4 4h0m-3 0h0m-7-1h0m-2-2h0m0-3h0m-5-12h0m1-4h0m5-2h0m1-6h0m-14 6h0m-1 11h0m-6 0h0m-2-2h0m-5 6h0m3 7h0m-2 2h0m-9 1h0m-4 8h0m0 4h0m-8-1h0m-6 10h0m1 3h0m4 4h0m-2 4h0m-2 5h0m7 3h0m3 3h0m3-4h0m1-4h0m3-3h0m-1-3h0m5 2h0m-2 5h0m-2 4h0m7 4h0m6 5h0m-2 3h0m2 3h0m-17-6h0m-9-3h0m0 6h0m0 8h0m-5 2h0m2 4h0m-7 0h0m-1-6h0m-3-5h0m-4 4h0m-2 2h0m-8 4h0m2 3h0m-2 7h0m0 4h0m8 3h0m7 5h0m-1 4h0m7-5h0m1-13h0m11-4h0m2 2h0m1 5h0m1-10h0m-23-20h0m-3-3h0m0-5h0m1-6h0m-10 8h0m2 2h0m1 2h0m-4 2h0m2 7h0m-4 1h0m-3-1h0m-1-1h0m-7-3h0m-5-3h0m-3 3h0m1-7h0m3-10h0m12 3h0m2 3h0m2-11h0m1-7h0m-1-4h0m-3 2h0m-4 5h0m-4-6h0m3-5h0m-7-10h0m-5-3h0m-7-2h0m-7 2h0m-9 2h0m1 3h0m-1 3h0m4 2h0m5 7h0m3 7h0m1 10h0m-3 8h0m-2 0h0m1 5h0m-15-8h0m0-5h0m0-3h0m3-2h0m-9 0h0m-4-21h0m3-2h0m-1-3h0m-5-8h0m12 1h0m3 4h0m4-11h0m5 1h0m1-2h0m1-1h0m-1-3h0m0-6h0m7-3h0m1-9h0m-12 3h0m-6 2h0m-6 0h0m-2 6h0m7 6h0m15 6h0m9-6h0m3 2h0m1 3h0m4-1h0m4 0h0m1 0h0m1 0h0m-1-2h0m0-5h0m-4 1h0m-2-3h0m-4 0h0m12-6h0m3 0h0m-2-7h0m0-3h0m-5-2h0m7-9h0m4 4h0m3 0h0m1 11h0m6 4h0m-3 6h0m8 0h0m4-4h0m2 2h0m4 1h0m0 2h0m4-2h0m-3-4h0m5-5h0m-1-3h0m-9-3h0m-5 0h0m-1 1h0m8-7h0m1-5h0m3-4h0m-5-4h0m-2-5h0m-4-1h0m-4 3h0m2 8h0m5-15h0m-1-3h0m-2-1h0m4-2h0m5 4h0m4-5h0m0-4h0m1-6h0m8 1h0m-2 12h0m-3 1h0m12 3h0m0 1h0m4-1h0m-2-3h0m2-5h0m9 10h0m-3 6h0m1 1h0m5 3h0m-6 8h0m-2-1h0m-1 7h0m-1 1h0m-10-1h0m1-8h0m0-3h0m-3-2h0m0-3h0m-3 1h0m-2 10h0m7 14h0m2 0h0m-3 14h0m1 8h0m-9 5h0m-6 0h0m0-2h0m-6-1h0m-1-2h0m0-3h0m-3 4h0m0 1h0m1 5h0m8 2h0m-19-7h0m-4-1h0m0-2h0m1-2h0m-4 10h0m8 19h0m8 4h0m1-1h0m20 7h0m4-1h0m21 5h0m5 5h0m4-5h0m8 4h0m-4 6h0m-2 2h0m7 2h0m-2 4h0m4-25h0m2-1h0m0-4h0m-7-9h0m-6 3h0m-8 2h0m1 6h0m30-8h0m7 4h0m1-1h0m-4-12h0m13-2h0m3-4h0m0 8h0m8-6h0m1-1h0m-2-8h0m0-5h0m-1-1h0m-6 1h0m1 4h0m6-13h0m-7-2h0m3-5h0m17 15h0m21-58h0m-4-5h0m-2-2h0m-5-4h0m-3-8h0m3-7h0m5 1h0m5-1h0m0-2h0m3 2h0m7 2h0m-2 6h0m2 5h0m8-9h0m0-3h0m11-2h0m-2 12h0m-2-27h0m1-3h0m2-2h0m4 3h0m9-3h0m4-6h0m11 3h0m-3 7h0m-2 15h0m4 1h0m2 2h0m13-3h0m4-1h0m1-1h0m3-6h0m-6-2h0m-1 0h0m0-7h0m8 0h0m0-9h0m-1-1h0m3-1h0m1-1h0m8-2h0m0-1h0m6-7h0m6 6h0m-3 5h0m-3 11h0m4 4h0m1 1h0m-1 4h0m-6 2h0m-4-7h0m-8 11h0m26-5h0m4-3h0m5-3h0m3-5h0m1-9h0m-5-1h0m-4 2h0m10-8h0m1-6h0m-7-3h0m-8 0h0m14-9h0m4-9h0m6-3h0m8 4h0m-2 3h0m-3 5h0m1 4h0m3 0h0m4-2h0m-2 7h0m4 11h0m0 2h0m-6-1h0m2 9h0m7 0h0m4-2h0m-1-10h0m2-2h0m8 0h0m1 3h0m5 1h0m1 3h0m-1-8h0m2-3h0m6 0h0m5-7h0m4 5h0m-12-12h0m-3-1h0m-7-3h0m-2-5h0m-2-4h0m7 1h0m-11 6h0m1 2h0m-1 3h0m-1 0h0m-2-9h0m-4-2h0m2-9h0m-2-2h0m-5 0h0m-5-6h0m-5-1h0m0 3h0m-10-4h0m-1-3h0m-4-1h0m-2 6h0m2 2h0m-7-1h0m0-5h0m2-7h0m-4-2h0m-10 4h0m1 2h0m-6 5h0m-5 1h0m-3-6h0m-2-7h0m-1-2h0m-2-6h0m-7 6h0m-2 7h0m-4 3h0m8 3h0m14 11h0m1 8h0m5-1h0m6-9h0m0-4h0m5 10h0m17 1h0m9 15h0m1 35h0m3 11h0m-5 3h0m-2 0h0m-38-42h0m0-8h0m-7 13h0m-12-1h0m-3 7h0m-2-1h0m-9-4h0m-3-7h0m2-3h0m4-1h0m-16-1h0m-7 13h0m-27-5h0m-7-3h0m-3-11h0m7 0h0m-14 1h0m-8 3h0m-4-6h0m-4 2h0m-4-3h0m-3 2h0m0 10h0m5 3h0m4 9h0m1 5h0m0 3h0m-3-2h0m-1 1h0m-1 8h0m11-9h0m1 0h0m2-3h0m7 11h0m-32-12h0m-3 0h0m-6 0h0m5-6h0m-4-2h0m2-4h0m-6-2h0m-6 2h0m0-6h0m-2-2h0m2-2h0m3-1h0m0-3h0m-6-4h0m0-6h0m-6-6h0m-4-8h0m-11-8h0m2-22h0m7-7h0m-1-6h0m-5 1h0m-1 1h0m-3 1h0m-2-7h0m-1-4h0m-8-4h0m-6 0h0m0-5h0m-4-1h0m2-5h0m1 0h0m4 2h0m-11-4h0m-1 1h0m-3 3h0m-2 2h0m-4-3h0m-1 0h0m-1 3h0m-3 0h0m1 5h0m2 1h0m-4 3h0m-2 9h0m6 0h0m6-11h0m4-2h0m13 10h0m6 11h0m-4 10h0m-3 2h0m-4-11h0m-17 22h0m-1 0h0m-4-1h0m4 14h0m7 3h0m-15 6h0m-5 5h0m2 8h0m-2 4h0m-6-1h0m-3 1h0m-4-1h0m0 5h0m-2 0h0m4 10h0m2 1h0m-5 1h0m2 6h0m2 1h0m-2 9h0m-11-9h0m0-4h0m-6 1h0m-4 3h0m-2-5h0m-1 0h0m3-7h0m2-3h0m4-6h0m13-9h0m1-11h0m3-8h0m-3-13h0m1-21h0m-2-10h0m-2-2h0m-3-1h0m-7 3h0m0-7h0m4-3h0m1-3h0m-9-4h0m-4-4h0m-2-4h0m-9-2h0m-5 4h0m5-12h0m0-1h0m0-5h0m-3-4h0m-8 2h0m-8-6h0m0-9h0m4-6h0m-2-5h0m-2 0h0m-3 1h0m-2-2h0m-3 2h0m-1-3h0m2-6h0m5-7h0m2 1h0m-5-3h0m-3-2h0m-1 2h0m4-4h0m0-5h0m2-5h0m7-4h0m5 11h0m12 4h0m9 8h0m-3 8h0m-4-2h0m-1 2h0m-1 3h0m-4-3h0m-4-4h0m-6 1h0m3 12h0m2 7h0m6-5h0m8 8h0m6 0h0m5 0h0m1-4h0m2 0h0m3 2h0m4 5h0m-1 2h0m4-3h0m3-7h0m5 0h0m1 2h0m3-2h0m0-4h0m-2-2h0m-5-3h0m-3 4h0m-4-1h0m2-7h0m2-1h0m-4-1h0m-8 6h0m-1-1h0m-2 4h0m1-20h0m3-4h0m5 0h0m-5-12h0m0-1h0m-6-4h0m0-3h0m2-4h0m5-1h0m3-2h0m1 3h0m5-7h0m4 9h0m5 4h0m-2 2h0m1 1h0m-6 0h0m8 11h0m7 1h0m5-1h0m3-2h0m-2-4h0m-4 0h0m7-3h0m-2-5h0m-5 0h0m15 1h0m2 0h0m2 0h0m0-1h0m2 3h0m8 4h0m0 3h0m4-2h0m3 9h0m6 2h0m5 3h0m3 6h0m3-1h0m1-5h0m2-4h0m3 3h0m3-2h0m5-1h0m1-1h0m3-4h0m2 5h0m7 1h0m5 4h0m7 0h0m0-1h0m0 7h0m-2 5h0m-4-4h0m2 10h0m0 8h0m3 6h0m0 5h0m5 4h0m-3 4h0m-1 4h0m3 1h0m3 0h0m5-2h0m1 3h0m-2 3h0m2 1h0m7 0h0m-3 6h0m11-6h0m-8-7h0m-2-7h0m-5 1h0m3-9h0m-1-1h0m5 1h0m8-4h0m0-3h0m6 6h0m-3 5h0m5 2h0m3-1h0m4 8h0m6-4h0m9 0h0m4-3h0m2-3h0m-1-2h0m2-7h0m-2-2h0m3-7h0m-7-2h0m-4-2h0m0-3h0m-4-1h0m-3 5h0m-3 3h0m6 1h0m1 0h0m3-1h0m4-9h0m-1-3h0m6-10h0m-5-3h0m-6-1h0m1-4h0m-4 8h0m-11 0h0m-1-1h0m-4 3h0m-5 2h0m2 5h0m1 1h0m-3 3h0m-6 0h0m-2 3h0m3 5h0m-3 3h0m-3-2h0m-7 4h0m-3 1h0m-3-1h0m4-5h0m0-12h0m-2-10h0m-7-4h0m0-2h0m-3-2h0m-1 3h0m9-3h0m3-4h0m6-1h0m1-7h0m0-7h0m-1 0h0m2 0h0m-5-3h0m-5-9h0m-5 0h0m-5 6h0m-4 3h0m-2-5h0m-2-4h0m-4 2h0m-8 4h0m3 5h0m6 0h0m6 8h0m7 1h0m-17 3h0m-3 2h0m-3-5h0m-6 8h0m-6-5h0m-2-14h0m3-8h0m-1-1h0m3-5h0m5-2h0m4 7h0m-7 3h0m-10-8h0m-1-2h0m-1-4h0m-2 1h0m-4 5h0m-1 5h0m3 7h0m-1 4h0m-6 0h0m-1 3h0m-5 3h0m-2-1h0m-1-3h0m0-6h0m-8 5h0m-3-3h0m1-6h0m-6-4h0m-4 6h0m-7-8h0m-1-4h0m-7-1h0m-1 1h0m-4-4h0m2-3h0m-3-4h0m-3-2h0m-3 0h0m-4-4h0m-2 4h0m-2 4h0m0 5h0m-6-1h0m11 6h0m3 0h0m7 6h0m6-1h0m3 5h0m-24-2h0m-6 0h0m-1 3h0m-7 9h0m0 6h0m-1 1h0m-6-1h0m1-4h0m-38 11h0m-4 1h0m-4-3h0m3-2h0m-8 8h0m0 9h0m3 4h0m1-1h0m2-3h0m3-2h0m4 2h0m1 1h0m-2 12h0m-4 0h0m0 2h0m2 7h0m-1 2h0m4 0h0m2-1h0m3 3h0m-1 6h0m2 3h0m0 1h0m-12 4h0m-4-6h0m-10 4h0m-7 10h0m-2 1h0m-5-8h0m1-5h0m-4 0h0m-1 0h0m-3-4h0m4-2h0m-1-12h0m4-1h0m9-1h0m0 5h0m5 0h0m-4 5h0m11-5h0m-2-6h0m-1-3h0m4-1h0m0-5h0m-5-1h0m0 2h0m-4 5h0m-15-18h0m-1-5h0m-7 3h0m-1 6h0m-8 3h0m-7-16h0m1-2h0m-4 2h0m1-8h0m0-1h0m2-7h0m1-3h0m-4 1h0m-1-1h0m3-6h0m6-5h0m5 1h0m3 6h0m-6 5h0m-2-2h0m7 5h0m3 4h0m6 0h0m4 1h0m-4-8h0m11-4h0m-23 14h0m-2 0h0m-16-25h0m-5-7h0m-10-2h0m-3 1h0m2-5h0m2-1h0m-1-3h0m-6 3h0m-2 2h0m-3-3h0m-3-1h0m6-1h0m-3-8h0m0-2h0m0-1h0m7 0h0m1 2h0m6 0h0m4 4h0m0 5h0m13-1h0m0-3h0m-7-24h0m-13-6h0m-4-7h0m-4 3h0m-3-3h0m3 9h0m4 14h0m-26-16h0m0-2h0m-3-4h0m-3 7h0m-3 4h0m-2-2h0m0-3h0m-6 4h0m-7 3h0m4-10h0m-5-18h0m-10 5h0m3-21h0m-4-21h0m55 34h0m10 4h0m33-10h0m79-24h0m43 15h0m9-4h0m29-6h0m7-3h0m5 4h0m2-4h0m2 7h0m5 0h0m0-2h0m1-3h0m4-1h0m2 0h0m1-4h0m-5-5h0m-1 0h0m-2 2h0m1-5h0m-3-4h0m1-3h0m-6-2h0m-2-2h0m-10 0h0m13 12h0m6 20h0m-4 5h0m4 3h0m-1 3h0m3 1h0m3-2h0m3-2h0m-2-2h0m3-6h0m0-2h0m5 14h0m4 9h0m0 7h0m-1 3h0m0 4h0m-1 4h0m7-1h0m2-1h0m-2-2h0m2-5h0m9-2h0m4 2h0m3 2h0m4 5h0m3-6h0m3 3h0m1 6h0m1 4h0m4 0h0m1-4h0m9 4h0m-5 9h0m0 6h0m-1 0h0m6 3h0m2 1h0m-1 4h0m6-1h0m9 0h0m2-1h0m6-7h0m-1-2h0m-7-4h0m-4-4h0m21 6h0m6 2h0m3 0h0m1 3h0m-4 5h0m-2 1h0m4 2h0m0 1h0m-1 2h0m-9-1h0m1 8h0m4 5h0m5-1h0m2 1h0m4 5h0m5 4h0m6 2h0m6 3h0m-3 5h0m2 2h0m1 6h0m4-1h0m1 5h0m-2 6h0m-1 0h0m-7-6h0m-6 2h0m-3-4h0m0-1h0m5-4h0m-8-3h0m-12-10h0m-4 1h0m0 7h0m-3 0h0m-4 2h0m-4-4h0m-5-8h0m-2 1h0m-2-2h0m-4 7h0m2 2h0m-4 9h0m5 8h0m3 5h0m-10 0h0m0 15h0m2 2h0m0 4h0m-1 1h0m-4 3h0m-2-6h0m12-1h0m10-6h0m9-8h0m5-4h0m-4-3h0m-1-5h0m-6-3h0m20 9h0m-1 8h0m9-4h0m8 9h0m12 10h0m6 0h0m2-2h0m-2 5h0m-2 3h0m-9 11h0m-5-1h0m-9-10h0m1 25h0m4 10h0m5 11h0m1 11h0m1 0h0m4 2h0m1 2h0m-4 8h0m-2 2h0m4 3h0m9-1h0m2-1h0m0-3h0m1-3h0m3 3h0m5 0h0m4 4h0m5 2h0m5 0h0m0 3h0m-5 5h0m-4-3h0m-3 2h0m-5-1h0m0-2h0m-7 9h0m-2 5h0m-1 3h0m3 1h0m3 6h0m-4 6h0m-13 5h0m1 3h0m-3 13h0m-1 0h0m-3-1h0m-5-21h0m-3-15h0m5-3h0m3-4h0m1-4h0m2 1h0m-7-3h0m1-2h0m14 18h0m21-6h0m3 2h0m-2 6h0m10-8h0m13 0h0m4 9h0m-4 8h0m-9 9h0m27 1h0m2-3h0m1 6h0m11-1h0m0-11h0m6-5h0m14-7h0m6 8h0m2 3h0m3 3h0m9-7h0m6 0h0m3 1h0m4 4h0m-3 7h0m-4-2h0m6 7h0m9 0h0m2-7h0m4-3h0m-4-8h0m-2-3h0m-3-10h0m-4-8h0m0-4h0m-5-9h0m-6 3h0m1 11h0m-1 6h0m4 5h0m-10 3h0m-3-3h0m-4 4h0m2-10h0m2-7h0m-4-9h0m-5 0h0m2-4h0m7-3h0m15-3h0m-1-5h0m5-2h0m5-2h0m4-4h0m-8-5h0m-3-5h0m-8-4h0m3-4h0m1-5h0m4 1h0m6 5h0m2-4h0m3-2h0m6 0h0m5 1h0m-5 6h0m-7 1h0m8 8h0m2 4h0m3 8h0m2 4h0m0 4h0m-15 5h0m1 3h0m8 24h0m-4 34h0m-4 6h0m-13 11h0m-3 0h0m-14-16h0m1-2h0m-1-1h0m-2 1h0m-11 1h0m-31-25h0m-4 2h0m-1-5h0m0-8h0m1-4h0m-4-5h0m-3 1h0m10-8h0m4-5h0m7 4h0m1 4h0m-1 3h0m-4 3h0m-2 0h0m0 2h0m0 7h0m10-9h0m7 2h0m10-1h0m1-10h0m-6-5h0m-4-4h0m-2-2h0m3-3h0m3-1h0m2 0h0m8-8h0m-2-3h0m-4-5h0m1-5h0m8-7h0m-1-3h0m5-2h0m-7-9h0m-6 6h0m-8 6h0m-12-2h0m-5-3h0m-2-1h0m-2 8h0m-8-6h0m-8 3h0m1-11h0m18-5h0m-6-21h0m-1-1h0m-3 2h0m-3-4h0m-4-6h0m-5-1h0m-4 3h0m-4-5h0m-4 5h0m-2 4h0m3 2h0m0 2h0m1 2h0m-10-9h0m-4-19h0m-2 0h0m6-6h0m-2-2h0m10-10h0m-1-2h0m6 0h0m0-9h0m-3-1h0m-10-4h0m-6 3h0m-2-4h0m-1-11h0m-3-5h0m-9-1h0m-6 1h0m1 5h0m-12 8h0m-3-10h0m0-6h0m-3-2h0m-2 4h0m20 25h0m4 2h0m0 9h0m-4 1h0m10 3h0m-4 19h0m33-18h0m11 11h0m9 4h0m6-4h0m1-8h0m2-10h0m7-2h0m3 6h0m0 5h0m0 5h0m9 6h0m6 9h0m-8 6h0m-6 6h0m-3 0h0m0-2h0m-8 1h0m-6-5h0m-3-34h0m-1 0h0m-6-12h0m-2-1h0m10-1h0m-8-9h0m-2-3h0m-5-2h0m-7-5h0m-6 2h0m1 5h0m-8-14h0m20-4h0m4-1h0m2 0h0m3 2h0m4 2h0m6-5h0m1 9h0m-2 5h0m-8-1h0m19-5h0m9-12h0m9-1h0m1-10h0m0-2h0m1-1h0m-4 1h0m5-5h0m12 5h0m5-1h0m-4-15h0m-6-1h0m-6-2h0m-3-1h0m-1 0h0m6-5h0m2 0h0m7 0h0m6-4h0m2-1h0m2 1h0m1 5h0m-8-9h0m-2-4h0m-7-4h0m-7 12h0m-17 34h0m-1 2h0m23 16h0m5 7h0m1 7h0m-15 0h0m-3-1h0m2 12h0m-4 3h0m-5-4h0m16 12h0m-1 3h0m1 1h0m-2 8h0m-4 0h0m9 8h0m7 5h0m2 4h0m5 1h0m2-7h0m5 3h0m0-7h0m3-6h0m0-4h0m6 6h0m2-2h0m6 13h0m1 4h0m-8 0h0m0 2h0m6 9h0m6 4h0m-5 4h0m0 7h0m-8-9h0m0-3h0m-3 5h0m-3-2h0m-6 3h0m1 2h0m-8 3h0m-10 4h0m1 2h0m-7-3h0m9-17h0m-2-2h0m11-27h0m0-8h0m6-2h0m4-6h0m-15 2h0m22-19h0m3 3h0m4 5h0m3 4h0m-1 6h0m-6-26h0m-7 1h0m-6-1h0m1-9h0m7 0h0m2 0h0m5-1h0m-10-5h0m-19 1h0m12 110h0m20 3h0m10-7h0m-33 35h0m-3-3h0m-29 3h0m-17 18h0m-7 0h0m-4 0h0m-5 7h0m-11-14h0m-2-5h0m-4 10h0m-9 3h0m-18-16h0m0-16h0m1-4h0m0-4h0m0-3h0m0-2h0m14 6h0m13 2h0m-54 20h0m-4 1h0m-1 0h0m0 2h0m0 7h0m-9 9h0m-2 5h0m-3 2h0m0 2h0m-8-7h0m-2-1h0m0-3h0m7-7h0m-5-5h0m10 0h0m0-27h0m-9 1h0m-6-10h0m-27 15h0m-14 16h0m-4 5h0m-4-2h0m-8 5h0m-3 7h0m-1 3h0m-6 4h0m-6 0h0m-2 6h0m4 3h0m1 0h0m-10-12h0m-2 0h0m-1 1h0m3-7h0m-5-3h0m-1-6h0m0-3h0m8 1h0m-1 4h0m5-8h0m6-5h0m-3-3h0m8 1h0m5 2h0m5-3h0m1-6h0m-5-1h0m-7-7h0m-6 2h0m-3 2h0m-4 0h0m0-7h0m1 0h0m2-6h0m-3-4h0m1-2h0m11 0h0m14 9h0m-18 12h0m-16-5h0m-3 5h0m-6 0h0m-3-1h0m0-1h0m0-2h0m-2-4h0m5-1h0m-2-5h0m5-4h0m2-3h0m0 6h0m-6-8h0m-1-3h0m0-4h0m5 1h0m-11-4h0m-1 4h0m0 9h0m-4 6h0m-4 4h0m-6-5h0m1-6h0m-7-6h0m1-4h0m-3-1h0m6-1h0m4-1h0m-19 16h0m10 14h0m6 0h0m-1 6h0m1 3h0m4 6h0m5-1h0m0-4h0m-2-5h0m8-1h0m-2 10h0m2 5h0m6 2h0m3-1h0m-9 6h0m-5 1h0m-16-12h0m-3 5h0m-7-9h0m-4 0h0m1 3h0m0-7h0m-3 16h0m1 2h0m-3 1h0m-1-1h0m1 4h0m9 3h0m-2 16h0m-1 7h0m0 5h0m-15-25h0m-2-3h0m0-3h0m-4 0h0m-3-4h0m-1 0h0m0-3h0m2 0h0m0-7h0m4 20h0m-11 10h0m0 4h0m-2 6h0m-5 1h0m-2-6h0m-2 1h0m-13-1h0m-5-11h0m-6 3h0m-5 0h0m-2 4h0m4 8h0m5 11h0m7 8h0m2 1h0m12 0h0m1-4h0m9 1h0m3-4h0m-2-4h0m-9 17h0m2 3h0m4 18h0m-18 14h0m-3-4h0m-2 0h0m-1-2h0m-2 4h0m0 1h0m-5 8h0m-8-2h0m14 11h0m6 4h0m1-7h0m4-2h0m-1-2h0m5 5h0m-1 3h0m4 4h0m4 16h0m-6 3h0m-3 4h0m-3 5h0m-4 2h0m2 2h0m0 4h0m1 7h0m-5 6h0m2 6h0m4 7h0m4-2h0m0-1h0m4-7h0m-1-10h0m11 8h0m8 0h0m3-4h0m1 9h0m-5 1h0m0 11h0m3 3h0m5 3h0m7-2h0m5-7h0m1-1h0m-4-9h0m0-1h0m2-1h0m-6 1h0m-2 7h0m17-5h0m6 5h0m8-4h0m1-2h0m1-4h0m-1-7h0m-10-2h0m-5 6h0m-9-7h0m-18-14h0m-6 3h0m-3-5h0m-9 3h0m-11-4h0m-15 2h0m-4 8h0m-5-6h0m-7 4h0m3 11h0m-1 5h0m-4 1h0m-3 5h0m-13-1h0m-3 0h0m4-8h0m3-5h0m-11-7h0m3-7h0m-9-7h0m-2-10h0m7-1h0m-9-9h0m2-3h0m1-3h0m-6 2h0m10-8h0m-1-3h0m5 5h0m2-4h0m7 4h0m3-1h0m-3 5h0m7 4h0m-4 7h0m10 16h0m17-5h0m0-5h0m9-3h0m-2 38h0m1 1h0m-5 4h0m-3-6h0m0 12h0m6 2h0m0 6h0m-5 4h0m7 8h0m-4 3h0m-4 7h0m-3 1h0m-6 4h0m-8-4h0m-3-6h0m7-2h0m-14 9h0m-5-2h0m-7-2h0m-6-2h0m1-4h0m2-1h0m8-4h0m4-1h0m-1-6h0m4-1h0m-23-13h0m-7 3h0m-1 2h0m0 10h0m-5-21h0m-2-6h0m9-6h0m1-4h0m1 9h0m8 4h0m5 49h0m15 11h0m12 0h0m4 0h0m4 0h0m1 2h0m5 7h0m-4 6h0m-2 2h0m-2-2h0m-1 4h0m-8-2h0m1 7h0m-11 3h0m32-9h0m13-13h0m5-8h0m-1-7h0m5 1h0m4 4h0m-1-9h0m7-1h0m2-1h0m7 1h0m2 4h0m9-8h0m-14-6h0m-2 2h0m-6-2h0m0-9h0m-5-5h0m-6 4h0m-3 7h0m3 9h0m-6 3h0m-5 10h0m-5 1h0m1 4h0m17 72h0m11 45h0m1 5h0m4 0h0m3-4h0m-14 8h0m-8-1h0m-6 0h0m12 9h0m-2 3h0m9 10h0m6 5h0m77-154h0m3-9h0m-1-2h0m6 4h0m3-2h0m9-5h0m2-4h0m7 0h0m2-11h0m14-2h0m1 3h0m2 1h0m-4-13h0m8-5h0m-4-4h0m-28 2h0m-9 2h0m-10 5h0m1 4h0m4 1h0m-10-6h0m0-2h0m-3 0h0m0 3h0m-5 0h0m0 1h0m-1-3h0m2-1h0m-4-6h0m3-5h0m8 3h0m5-7h0m6-6h0m-6-5h0m0-3h0m7-4h0m-2-3h0m0-3h0m1-3h0m3-2h0m-3-2h0m-2 0h0m7-2h0m5-4h0m3 4h0m-2-9h0m-2-3h0m-3 2h0m-28 12h0m-7-4h0m-3 0h0m-2-5h0m-6 0h0m2-6h0m-2-2h0m-4 2h0m-3 7h0m1 6h0m8 0h0m-1 8h0m-3 1h0m5 6h0m-4 3h0m-4 0h0m5 4h0m0 2h0m8-5h0m1-1h0m1 0h0m3 0h0m-2-7h0m11 13h0m5 2h0m-13 2h0m-7 20h0m4 9h0m14 14h0m1 3h0m2-5h0m-31-93h0m76-45h0m11-15h0m3 0h0m1 1h0m4 1h0m-19-22h0m1-1h0m-8-1h0m0-2h0m-2 2h0m1 2h0m-12-8h0m4-10h0m24 7h0m3 0h0m15 75h0m150-59h0m-126-129h0m-2-9h0m-21 1h0m-8 2h0m1 8h0m-15 4h0m-4-2h0m0-5h0m1-9h0m1-3h0m6-4h0m4 2h0m3-2h0m7 0h0m-9-14h0m-5-3h0m3-6h0m-14 10h0m-8 3h0m0 2h0m-9-7h0m5-7h0m0-3h0m-11 2h0m-12-7h0m-6 1h0m-2-3h0m-5-6h0m5-2h0m-1-3h0m0-9h0m2-1h0m2-1h0m3 2h0m3 1h0m-1-4h0m-8-4h0m-4 3h0m-1-4h0m-4-2h0m-2 6h0m0 11h0m-8 8h0m-3 3h0m7 2h0m-1 3h0m3 0h0m0 3h0m5 0h0m1-1h0m4 3h0m1 3h0m9 5h0m-6 10h0m2 1h0m-6-1h0m-8 2h0m-5 1h0m-5-5h0m0-8h0m10 3h0m-21-6h0m-1 4h0m-5 5h0m7-19h0m8-14h0m12-26h0m9 5h0m14 24h0m0 5h0m6-3h0m4 41h0m3 2h0m4-1h0m5 8h0m0 9h0m-16-1h0m0-12h0m-14 0h0m-1 5h0m-7 5h0m0 3h0m-3-10h0m-6 1h0m-3-1h0m-1-1h0m-4 2h0m4 3h0m1 8h0m1 0h0m-13-13h0m2-2h0m29 44h0m-112 77h0m-6-7h0m-4 13h0m-13-7h0m-2-1h0m0 3h0m-1 19h0m-3 8h0m5 4h0m-1 7h0m1 3h0m-11 0h0m-5-9h0m0-5h0m-5 1h0m-9-2h0m6-14h0m-8-2h0m-14 2h0m-3 0h0m-3-6h0m12-12h0m11-2h0m-42 10h0m-1-3h0m-8 1h0m0 5h0m8 5h0m0 11h0m1 2h0m-9 9h0m7 7h0m8 4h0m5 6h0m-1 3h0m4 2h0m4 0h0m-7 9h0m-4 3h0m5-32h0m-17-43h0m3-7h0m-36-2h0m-16 0h0m39-42h0m0-3h0m1-8h0m2-2h0m5-6h0m-8-6h0m-3-3h0m-4 0h0m-1-6h0m-2-1h0m2-2h0m-6 0h0m-4-6h0m-16 1h0m-2-10h0m1-4h0m5-6h0m-25-4h0m26 37h0m10 5h0m15 6h0m4-16h0m0-1h0m1-6h0m10 9h0m6 31h0m79 95h0m6 10h0m-1 5h0m-7 4h0m-19 1h0m2 30h0m6 1h0m-2 4h0m135-373h0" stroke="#F8766D" stroke-width="12.4" stroke-linecap="round" fill="none" />
<path transform="scale(0.25)" d="M4823 4483h0m1 1h0m3 0h0m3-2h0m2 2h0m1-3h0m3-3h0m2 0h0m2 3h0m-2 1h0m1 1h0m2 0h0m0 1h0m2-1h0m4-1h0m1 1h0m1-3h0m-3-6h0m-2 1h0m-6 11h0m0 1h0m-3 0h0m-1 0h0m-3 1h0m5 2h0m-1 3h0m-3 2h0m-5-1h0m9 5h0m-1 3h0m2 6h0m2 3h0m2 2h0m6 4h0m1 6h0m-5 2h0m7 8h0m1 3h0m7 1h0m-1 5h0m-1 1h0m5 5h0m1 4h0m-7 0h0m-1 7h0m5 0h0m2 5h0m-1 3h0m5 5h0m1 3h0m3 3h0m-1 1h0m1 4h0m1 0h0m1 1h0m-1 1h0m3 1h0m1 2h0m-2 2h0m-1 2h0m5-1h0m5 6h0m2 4h0m-1 8h0m2 0h0m2 3h0m-1 2h0m-1 0h0m-2 1h0m-3 3h0m2 3h0m3-1h0m1-1h0m-1 3h0m2 2h0m6 5h0m-4 5h0m4 2h0m2 1h0m-1 3h0m8-12h0m-5-4h0m-6-9h0m-1 0h0m-13-4h0m0-4h0m-2-7h0m-9-12h0m-2-2h0m17-15h0m-5-7h0m-8-5h0m-3 2h0m-9-36h0m-25-14h0m12-14h0m3-3h0m-2-2h0m-3 0h0m87 170h0m5 6h0m0 1h0m1 3h0m-1 2h0m1 2h0m-3 4h0m-3 1h0m1 2h0m-2 2h0m-2-2h0m-1 0h0m-3 4h0m4 5h0m2 1h0m-3 2h0m-2 1h0m-2-1h0m0 2h0m-2 2h0m-6-6h0m6 16h0m-5 4h0m11 0h0m-15 11h0m-1 0h0m-1 3h0m1 1h0m1 2h0m7 0h0m-5 7h0m3 2h0m5 6h0m-9 1h0m-4-3h0m-7-4h0m41-37h0m-4-15h0m-3 0h0m0-3h0m-4-10h0m-3-2h0m-12-3h0m25-4h0m1-1h0m1 1h0m8-1h0m4 0h0m0 1h0m0-5h0m3-1h0m5-2h0m5-6h0m4 5h0m1 2h0m4 0h0m4 1h0m2 0h0m-1-2h0m5 2h0m1 1h0m2 1h0m-3 2h0m-1-1h0m5-6h0m-1-1h0m4 0h0m2-1h0m0-2h0m1 7h0m6-2h0m2 0h0m3-1h0m0 2h0m0 1h0m-1 3h0m5-8h0m-1-2h0m-7 1h0m-2-5h0m2-1h0m9-3h0m9 2h0m0 4h0m-1 4h0m7-1h0m1 1h0m2-2h0m0-3h0m3-1h0m1 0h0m1 2h0m4-2h0m3-4h0m0-4h0m-10 0h0m-3-3h0m-1 6h0m5 12h0m0 2h0m5 0h0m1 8h0m4-1h0m3 4h0m-6 2h0m-7 1h0m-4-10h0m17-9h0m1-3h0m5 2h0m4 1h0m0 2h0m4-1h0m0-1h0m1 1h0m2-1h0m0-3h0m1-3h0m1-1h0m0-1h0m2 1h0m2-2h0m-2-2h0m-2 0h0m-2-3h0m-4-2h0m-1 1h0m-1 0h0m-3 1h0m-2 2h0m5 2h0m2 5h0m1 0h0m-5 1h0m11 2h0m2 0h0m0 1h0m-1 1h0m-1 2h0m3 1h0m-3 3h0m-3-1h0m-4 2h0m0 3h0m0 3h0m3 0h0m3 2h0m1-3h0m0-1h0m4 3h0m1-4h0m3-2h0m3 0h0m-2-3h0m1-1h0m2-1h0m0-1h0m-1-2h0m-3 1h0m-1-4h0m-2 1h0m-1-2h0m-3 0h0m7-1h0m2-2h0m1-1h0m1 3h0m1 1h0m1-3h0m-1-4h0m1-3h0m0-2h0m1-2h0m-2-1h0m-2-2h0m-2 1h0m-2 3h0m-3 0h0m1 3h0m0 2h0m3 1h0m1-3h0m-6-7h0m0-2h0m-3 2h0m-2 0h0m-1-2h0m-2-3h0m-1-1h0m-2 0h0m-2 1h0m-2 1h0m-1-2h0m-1 0h0m0-1h0m2 0h0m-5 1h0m-3-1h0m2-2h0m-5-3h0m2-4h0m-5-2h0m1-2h0m-3 4h0m-2 6h0m-5-1h0m0 2h0m19 8h0m4 3h0m2 0h0m3 0h0m1 1h0m-1-3h0m-1-1h0m5-7h0m2-1h0m-2-2h0m-2-2h0m1-1h0m3 0h0m0-2h0m0-2h0m2 0h0m0 4h0m0 1h0m6 3h0m6-1h0m4 3h0m1-2h0m2 3h0m4 2h0m0 1h0m2 0h0m2 1h0m3-1h0m1-4h0m3-1h0m2-2h0m-3-2h0m-1-5h0m3-6h0m3-1h0m2 2h0m2-3h0m-3-2h0m1-2h0m-3 0h0m-7 3h0m-7 0h0m-3 1h0m1-4h0m-6-8h0m-6-4h0m6-6h0m8 6h0m4 4h0m5 1h0m12 0h0m2-5h0m1-2h0m2 0h0m1 0h0m2 5h0m-1 1h0m8 1h0m-7-13h0m5-2h0m-1-3h0m2-3h0m4-3h0m2 3h0m1 2h0m-1 1h0m5-2h0m2 3h0m-1-7h0m-2 0h0m1-9h0m-1-2h0m6 4h0m4-3h0m3 4h0m-4 5h0m4-14h0m-6-1h0m-16 12h0m-1-1h0m-16 19h0m3 25h0m7 4h0m-18 13h0m0 3h0m3 6h0m-2 1h0m-5 2h0m-2 2h0m-3 3h0m-4 1h0m-3-1h0m0-3h0m2 0h0m2-2h0m0-1h0m-4-3h0m-1 0h0m0 2h0m1-4h0m-3 0h0m8 0h0m4 2h0m1 1h0m-1-11h0m-3-5h0m-2 0h0m-1 0h0m-1-1h0m2 0h0m-2-3h0m5-2h0m-14-2h0m-1 1h0m-2 1h0m-2-6h0m2-3h0m-2-1h0m0-2h0m-5 0h0m0-2h0m-5-2h0m-1-1h0m0-1h0m-5 3h0m-1-3h0m-3 2h0m-3 4h0m5 4h0m1 2h0m0 4h0m-2 2h0m-3-1h0m-3-3h0m9 6h0m0 4h0m3-10h0m-1-5h0m-4-16h0m7-7h0m-3-3h0m7-2h0m-6-6h0m0-3h0m-5 1h0m0-4h0m-4 1h0m9-4h0m2-2h0m9 4h0m-16-16h0m-1-2h0m-2-1h0m-1-2h0m4-7h0m-1-5h0m-4 1h0m7-5h0m-5-6h0m-2 2h0m-2-6h0m1-3h0m4-3h0m-6-6h0m-2-2h0m1-9h0m0-1h0m1-2h0m1-3h0m-2-2h0m-5 0h0m-3-10h0m-5 3h0m12-10h0m-1-9h0m-3 0h0m-2 0h0m3-5h0m1-1h0m-4 0h0m-1 0h0m-2-1h0m2-2h0m0-2h0m-1-3h0m1-2h0m-3 0h0m4-4h0m-2-3h0m0-6h0m2-1h0m4 3h0m1-4h0m-4-4h0m-2 0h0m1-4h0m-2-1h0m0-1h0m1-2h0m-3 0h0m0-4h0m3-1h0m-1-2h0m1-3h0m0-1h0m-3 0h0m0 1h0m-1-5h0m-3 0h0m1-4h0m0-3h0m-1-1h0m-2-1h0m-2 1h0m-4-3h0m9 0h0m3 4h0m0 2h0m0 1h0m2 0h0m1 3h0m4-3h0m2 4h0m3 2h0m-2 3h0m-6 7h0m-5 7h0m-2 8h0m0 2h0m-2 2h0m13 17h0m6 0h0m2 26h0m-2 18h0m-6 94h0m35 18h0m-12 29h0m15 19h0m-2 4h0m5 2h0m2 1h0m0-4h0m2 0h0m3 2h0m2-1h0m3 1h0m6-2h0m0-4h0m-1-4h0m-1-1h0m-9 4h0m-2-2h0m-2 0h0m-1 0h0m3 15h0m-5 8h0m5 5h0m4 5h0m-10-2h0m-2-1h0m-2 3h0m-5-2h0m0-3h0m-2 0h0m-3-6h0m-5 1h0m0 1h0m-3-4h0m5 11h0m1 3h0m0 4h0m0 4h0m2 1h0m-5 3h0m4 4h0m3 3h0m5 4h0m-3 3h0m1 4h0m3-1h0m0 2h0m1 4h0m2 0h0m3 1h0m1 2h0m-1 1h0m3-1h0m-1-6h0m1-3h0m-3 0h0m6-4h0m-7-8h0m-2-2h0m0-7h0m1-4h0m2 1h0m-6-18h0m2-6h0m27-4h0m1-5h0m3 1h0m0-3h0m4 0h0m-2-4h0m2-6h0m-2-2h0m-1-3h0m-1-1h0m3 0h0m3 1h0m4 3h0m0 2h0m1 0h0m1-2h0m-5 3h0m8 6h0m0 2h0m-1 0h0m-1 2h0m0 1h0m-4 7h0m-1 6h0m-4 1h0m14-5h0m3-1h0m3 1h0m0-3h0m2 0h0m6-5h0m1 9h0m1 5h0m0 3h0m-3-2h0m-2 0h0m-3 5h0m-7 1h0m2-7h0m13 12h0m2 1h0m4 2h0m3-3h0m-2-4h0m-2 0h0m7-6h0m2 2h0m6 19h0m8 8h0m-24-6h0m-15-44h0m4-6h0m-8-2h0m-81 14h0m-1 28h0m-7 3h0m-7 6h0m-4-1h0m-6-1h0m-1-2h0m-5 0h0m-4 3h0m3 5h0m3 0h0m-2 3h0m0 2h0m4-2h0m5 1h0m1-1h0m1 0h0m1 1h0m3-2h0m2-1h0m0 3h0m0 2h0m6-1h0m2-2h0m-2-3h0m7-2h0m1 4h0m3 2h0m-2 6h0m-4 1h0m-2 0h0m-2-3h0m4 0h0m-9 7h0m-4-1h0m-2-2h0m-3 2h0m-3 1h0m-2-1h0m-1 7h0m7-3h0m3 1h0m5 5h0m0 1h0m-6 3h0m2 5h0m-2 3h0m-9 8h0m-6-10h0m-3-13h0m-2-6h0m0-6h0m17-1h0m-4-11h0m-13-9h0m-14-12h0m-13-4h0m-7 5h0m-1-9h0m-1-1h0m-5 0h0m-1 4h0m-7 4h0m-7 1h0m-4-4h0m0-11h0m-1 0h0m-2-1h0m39-9h0m3-3h0m65 47h0m3 14h0m1 3h0m-13 10h0m-1 4h0m-10 23h0m41 11h0m1 5h0m10 1h0m3 2h0m2-5h0m1-3h0m1 0h0m4 4h0m1 5h0m0 1h0m-2 7h0m0 2h0m-1 0h0m-3-1h0m0-3h0m-3 0h0m1 7h0m0 4h0m1 4h0m0 2h0m-4-1h0m-5-3h0m3 13h0m6 2h0m2-1h0m3-1h0m-4-3h0m9-2h0m-1-4h0m0-8h0m-3-1h0m-1 1h0m9-9h0m0-12h0m-3-8h0m-2 1h0m-7-7h0m0-1h0m-2 3h0m-4-4h0m-2 1h0m-1 1h0m4-5h0m-3-4h0m-3 0h0m-6-1h0m-2-9h0m6 0h0m-1-4h0m-4-5h0m0-1h0m11 11h0m2 1h0m5 1h0m3-8h0m0 17h0m15 48h0m-12 16h0m-1 0h0m-2 1h0m-3 4h0m1 1h0m5 5h0m7 1h0m-3 5h0m1 2h0m-2 3h0m1 2h0m-3 0h0m-4-2h0m-3-5h0m4 11h0m-2 10h0m2 3h0m6-3h0m7-9h0m-7-24h0m1 52h0m-3 2h0m12 3h0m-76-474h0m-6-7h0m0-3h0m2 0h0m-1-5h0m-1-1h0m2-2h0m-2-1h0m-2-3h0m5 1h0m2 1h0m2 2h0m-1 1h0m0 2h0m1 0h0m-10 0h0m-3-3h0m-1 7h0m1-17h0m4-1h0m4 1h0m1 0h0m2-1h0m2-1h0m-1 4h0m4-1h0m-1-9h0m-6-2h0m10 32h0" stroke="#00BFC4" stroke-width="12.4" stroke-linecap="round" fill="none" />
<path transform="scale(0.25)" d="M5349 4286h0m2-3h0m1 0h0m-1-3h0m0-1h0m5 1h0m5-8h0m0-3h0m0-2h0m0-2h0m-2-1h0m4-2h0m1 1h0m0 2h0m2-1h0m0-2h0m2-5h0m0-2h0m0-1h0m2 0h0m1 3h0m1-8h0m4-6h0m3 0h0m-3-4h0m2-1h0m1 0h0m0-2h0m4-2h0m1 0h0m2 1h0m2 0h0m2-1h0m-1-5h0m-4 1h0m-2 1h0m-2-3h0m-5-7h0m7-5h0m0-2h0m-3-2h0m-1-1h0m7-4h0m4 3h0m1-1h0m1-1h0m0-2h0m2 3h0m1 0h0m-1 2h0m-2 3h0m-3 0h0m-3 3h0m1 3h0m0 1h0m9 2h0m2-2h0m0-7h0m-2-7h0m0-1h0m-1-2h0m1-2h0m-1-1h0m4 0h0m-1 3h0m2-7h0m0-2h0m0-1h0m-2 0h0m-1-1h0m0-1h0m2-2h0m1-1h0m-1-1h0m3-1h0m2 1h0m1 1h0m3-4h0m4-2h0m-5-3h0m-4 4h0m-9 4h0m-1-1h0m0 9h0m-3 5h0m-3-1h0m16-3h0m1-3h0m6-3h0m-5 11h0m-14 38h0m-4 0h0m-3-3h0m-12 3h0m-1-1h0m-8 29h0m2 1h0" stroke="#619CFF" stroke-width="12.4" stroke-linecap="round" fill="none" />
<path transform="scale(0.25)" d="M4839 5093h0m210 140h0m-156-517h0m-32-77h0m-7-41h0" stroke="#A3A500" stroke-width="12.4" stroke-linecap="round" fill="none" />
<path transform="scale(0.25)" d="M3616 5504h0m4 2h0m0 3h0m1-9h0m5 0h0m2 0h0m1-1h0m1-3h0m-1-4h0m-2-4h0m-2-2h0m-2 0h0m5-2h0m-2-4h0m0-6h0m7-2h0m1 2h0m4-2h0m-1-5h0m6-4h0m-2-4h0m3-1h0m2-4h0m1 0h0m-1-2h0m6-4h0m-4-3h0m0-2h0m1-1h0m-2-1h0m1-1h0m-1-3h0m0-4h0m5 5h0m8-4h0m3-2h0m-3-2h0m1-7h0m1-1h0m0-2h0m-1-3h0m-2 1h0m-2 0h0m-1-5h0m0-2h0m6 3h0m2 0h0m1-1h0m-2-2h0m6-2h0m-1-6h0m2 0h0m-1-3h0m-1 0h0m3 0h0m4-5h0m2-7h0m4-2h0m3-4h0m3 6h0m4-1h0m-1-2h0m2-6h0m3-2h0m-2-2h0m2-2h0m5-9h0m6 5h0m6 0h0m5-4h0m-2-7h0m2-2h0m8-1h0m-5-8h0m-3-5h0m-5 6h0m-3 5h0m-5 3h0m5 19h0m-4 8h0m-2 0h0m2 2h0m-1 1h0m-4-2h0m-3 9h0m2 1h0m-1 2h0m-3 0h0m0-1h0m0 5h0m-3 2h0m-3-2h0m1-4h0m0 10h0m5-1h0m1 3h0m2-1h0m2 3h0m4-1h0m4 2h0m3 4h0m3 6h0m2 0h0m3 2h0m3-2h0m4-3h0m5-5h0m-3-3h0m-1 0h0m5-3h0m-2-3h0m-6 0h0m1-5h0m-5-2h0m-2-5h0m-2 1h0m-2 1h0m6-3h0m-3-5h0m12 3h0m7 2h0m3-2h0m-1 9h0m2 9h0m-1 9h0m-3 0h0m1 3h0m1 5h0m2 3h0m5 3h0m5 4h0m1 6h0m-6 4h0m-1-1h0m3 4h0m-5 12h0m2 1h0m6 5h0m4-1h0m-2-5h0m7 8h0m6 1h0m-1 3h0m-1 1h0m2 0h0m-3 4h0m1 1h0m1 0h0m-1 4h0m-4 3h0m4 3h0m4 1h0m2 0h0m1-2h0m-1-5h0m5-8h0m10 10h0m3 6h0m0 5h0m5-4h0m-1-4h0m4 9h0m5 4h0m-5 5h0m1 3h0m-1 1h0m6 4h0m2-4h0m4 3h0m3 8h0m5-1h0m3-1h0m0 3h0m3 1h0m2 1h0m-5 11h0m-1 1h0m-1 0h0m-5-8h0m0-2h0m-9 0h0m-3 7h0m-9-2h0m1-3h0m-2-5h0m-3 2h0m-3-1h0m-2 0h0m-1 0h0m-4 1h0m0-3h0m4-4h0m5-2h0m-6-4h0m-5 4h0m-8-7h0m-4 3h0m-8 1h0m-2 2h0m-4-1h0m-2 0h0m2 2h0m-3 2h0m-2-4h0m-1-1h0m0-3h0m-4 6h0m-3-2h0m-10-2h0m-5 0h0m-3-2h0m-3 0h0m0-5h0m-2-6h0m-4-2h0m-1-2h0m2-2h0m1 0h0m6-1h0m1 0h0m3-1h0m5-4h0m0-1h0m5 1h0m0-5h0m-2-3h0m0-6h0m-6-3h0m-1-5h0m-5 3h0m-5-4h0m0-2h0m-5 2h0m-3 6h0m2 4h0m2 3h0m6 3h0m0 3h0m3-6h0m-16 7h0m-3 6h0m-2 0h0m-2 3h0m-3 4h0m4 2h0m-1 4h0m-1 3h0m4 1h0m2-3h0m8 3h0m0 9h0m-5 1h0m-2 0h0m-2-1h0m-2 3h0m-3 5h0m2 3h0m-4 6h0m11 1h0m4-1h0m5 3h0m0 1h0m2 2h0m-4 2h0m1 7h0m0 1h0m0 3h0m2 0h0m0 5h0m0 7h0m4 5h0m4-1h0m-2-7h0m7 0h0m6-2h0m-6-10h0m-9-4h0m10-10h0m2-5h0m1-6h0m-5-7h0m-6-1h0m-2-1h0m2 7h0m-4 3h0m3 4h0m-9-5h0m-20-2h0m-3-4h0m-7 6h0m1 5h0m-5 0h0m-4 2h0m-1 2h0m-3 5h0m0 4h0m3 1h0m0 3h0m1 1h0m1 1h0m-4 1h0m-4 0h0m-1-4h0m-3 7h0m1 3h0m-7 1h0m1 4h0m3 4h0m0 1h0m7 0h0m2 3h0m-1-7h0m4-5h0m8-1h0m2 0h0m-2-4h0m3-1h0m3-2h0m-9-4h0m-3-5h0m9-3h0m-7-18h0m-5-1h0m-2 3h0m-5-6h0m1-2h0m0-2h0m1 0h0m1-5h0m5-1h0m1 4h0m4 2h0m1-2h0m4 1h0m1-2h0m2-2h0m-3-5h0m2-2h0m4-1h0m1 1h0m-1 2h0m2-6h0m0-2h0m2-6h0m-3-2h0m-4 0h0m0-4h0m-3-1h0m-3-5h0m-4 2h0m-2-6h0m-8-3h0m-1 3h0m-2-1h0m-1-6h0m-3 0h0m2-6h0m-2-1h0m4 0h0m1-2h0m1 3h0m-11 10h0m0 2h0m2 4h0m3 3h0m-5 8h0m2 5h0m1 3h0m2 2h0m5 1h0m1-9h0m8 4h0m2-2h0m5 5h0m-4 3h0m-1 0h0m4 6h0m2 10h0m-21-4h0m-2 4h0m-1 5h0m-6-2h0m1-2h0m0-3h0m-4 4h0m-2-5h0m-5-8h0m12-6h0m1 2h0m-19 17h0m0 3h0m-1 4h0m-7 1h0m2 5h0m-1 4h0m1 1h0m2 7h0m5-3h0m3-2h0m-2-2h0m4-2h0m2 2h0m9-7h0m5 4h0m7-3h0m-11 12h0m-3 6h0m-3-1h0m-4 1h0m2 5h0m-2 3h0m-7 4h0m-2 3h0m0 1h0m-2 4h0m-1 1h0m5 3h0m1 1h0m-6 5h0m6 3h0m8 1h0m2-5h0m1-1h0m0-4h0m8 3h0m4 5h0m1 1h0m2 0h0m1 0h0m-7 3h0m1 3h0m0 2h0m3 2h0m0 2h0m2 1h0m1-2h0m2-3h0m-2 14h0m-3 4h0m-3-5h0m-4-3h0m-3-2h0m1-3h0m-2-2h0m-3 3h0m-2-4h0m-1-27h0m8-7h0m1-4h0m4 1h0m0 1h0m2-2h0m20 15h0m6 8h0m3-3h0m2-1h0m3 0h0m2 2h0m-1 4h0m2 0h0m-1 3h0m4 1h0m2-1h0m1 3h0m-4 4h0m0 2h0m-1 2h0m3 2h0m1 0h0m1 2h0m7 2h0m2-3h0m0 7h0m4 3h0m3 2h0m2-4h0m-2-5h0m5-1h0m1-7h0m-7 1h0m-3-3h0m-1-5h0m-6 4h0m-2-10h0m4-13h0m-6-7h0m0-5h0m-5 9h0m1 2h0m-5-2h0m-1 7h0m-7 14h0m-4-1h0m2 9h0m8 3h0m2-5h0m-5 11h0m2 4h0m-4 7h0m-1 6h0m1 5h0m-10 0h0m-2-11h0m-2-5h0m23 9h0m6 4h0m0 5h0m0 2h0m-6 2h0m15-6h0m6 1h0m7-10h0m3-2h0m3 8h0m4-15h0m0-10h0m4-1h0m6-1h0m1 2h0m7-1h0m3 2h0m2-1h0m0 4h0m5 2h0m1 5h0m3 1h0m1 4h0m5-5h0m-2-11h0m7-3h0m0-3h0m1-3h0m5 6h0m5-4h0m1-3h0m-4-3h0m1-1h0m1-1h0m2-5h0m-6-1h0m-1 1h0m-7-2h0m-6 0h0m-6-8h0m-4-3h0m-3-4h0m-2-2h0m-2-1h0m-4 3h0m1 3h0m1 2h0m3-2h0m3 8h0m0 5h0m1 4h0m-4-1h0m-1 0h0m-2-5h0m-2 1h0m-1-1h0m-7 7h0m-3-1h0m-3 1h0m-3 3h0m-2 1h0m8 4h0m3-1h0m2-4h0m2 1h0m9 0h0m1 6h0m5-4h0m1 0h0m1 8h0m-4 12h0m1 1h0m-1 5h0m0 2h0m-3 1h0m-1 1h0m-3-2h0m3-4h0m-8-3h0m-34 3h0m31-57h0m4 0h0m8-2h0m3 3h0m-3-11h0m-1-1h0m-1 1h0m-6-2h0m-5 2h0m18-3h0m4 4h0m7 2h0m2 2h0m4-8h0m2 1h0m-5-2h0m-2-1h0m-4-8h0m-6-1h0m-3 0h0m-1 1h0m3-21h0m-8-3h0m-1 3h0m4-10h0m1 0h0m1 0h0m-1-2h0m4 2h0m6 3h0m6 3h0m10-7h0m3 11h0m-3 3h0m31-2h0m9 10h0m-6 33h0m-1 0h0m-2 2h0m-4-2h0m-3 5h0m-4-1h0m-4 3h0m1 1h0m-6 4h0m-4 3h0m-4 0h0m-6-1h0m0-1h0m0-1h0m-3-1h0m-6-2h0m14-1h0m3 0h0m1-7h0m-1-3h0m1-4h0m-6 6h0m13 22h0m0 9h0m11-14h0m5-6h0m-77-54h0m-4 3h0m-3-5h0m-2-1h0m-18-6h0m-7-22h0m-3-11h0m0-7h0m3 0h0m3 2h0m2-3h0m7 1h0m-4-9h0m-4-2h0m-5-4h0m0-3h0m2-2h0m3 1h0m1 0h0m5-3h0m1-4h0m-5 0h0m8-4h0m6 6h0m4-1h0m1 2h0m3-2h0m3 3h0m0 2h0m2 8h0m2 0h0m3 8h0m-8 0h0m-2 5h0m-2 3h0m2 1h0m-5-8h0m0-6h0m2-3h0m-1-3h0m-5 3h0m-1-2h0m0-1h0m-4-3h0m2 9h0m-23 2h0m-1-8h0m-8 1h0m-6 2h0m0 1h0m-2-4h0m1-3h0m3-4h0m3-5h0m7 4h0m5-6h0m-4-11h0m1-1h0m-6 0h0m1-4h0m27-2h0m5-1h0m20 24h0m11-9h0m-11-45h0m-3-1h0m-2-2h0m0-1h0m0-2h0m-5-1h0m-73 59h0m-4-4h0m-13 24h0m-2 0h0m1 6h0m-4 2h0m0 2h0m0 2h0m-3 0h0m-5 0h0m-4 26h0m2 6h0m5 57h0m59-73h0m-2-6h0m0-4h0m-1-3h0m5-6h0m-6-3h0m-2 1h0m-2 0h0m1-4h0m59 16h0m-1 17h0m4 5h0m1 2h0" stroke="#00BA38" stroke-width="12.4" stroke-linecap="round" fill="none" />
<path transform="scale(0.25)" d="M3729 5323h0m1 14h0m14 77h0" stroke="#B79F00" stroke-width="12.4" stroke-linecap="round" fill="none" />
<path transform="scale(0.25)" d="M4338 3825h0m8 1h0m-2 6h0m1 1h0m0 2h0m0 1h0m-3 1h0m1 4h0m3-1h0m2 0h0m1 1h0m-1-4h0m0-2h0m-2 9h0m0 1h0m1 0h0m2 5h0m-5 2h0m-1-2h0m-1 0h0m0-1h0m-1-3h0m-2-3h0m3 11h0m2 2h0m1 1h0m2 2h0m-1 1h0m9-18h0" stroke="#F564E3" stroke-width="12.4" stroke-linecap="round" fill="none" />
<path d="M1076.7,937.3 C1081.0,937.3 1089.6,941.6 1094.6,945.3 C1099.6,948.9 1105.6,954.2 1106.6,959.2 C1107.6,964.2 1103.6,971.3 1100.6,975.1 C1097.6,979.0 1093.0,982.0 1088.6,982.3 C1084.3,982.6 1078.5,980.3 1074.7,977.1 C1070.9,973.9 1066.9,968.5 1065.9,963.2 C1064.9,957.9 1066.9,949.6 1068.7,945.3 C1070.5,941.0 1072.4,937.3 1076.7,937.3 Z" fill="none" stroke="#000" stroke-width="2.7" stroke-dasharray="2.7 3.0" stroke-linecap="butt"/>
<path d="M1342.3,1022.9 C1346.0,1022.4 1353.6,1027.4 1357.5,1031.7 C1361.3,1036.0 1365.1,1042.0 1365.4,1048.8 C1365.8,1055.7 1363.4,1066.1 1359.5,1072.7 C1355.5,1079.3 1347.0,1086.8 1341.5,1088.6 C1336.0,1090.4 1329.7,1086.0 1326.4,1083.5 C1323.1,1080.9 1320.8,1078.3 1321.6,1073.5 C1322.5,1068.7 1329.2,1061.2 1331.6,1054.8 C1333.9,1048.4 1333.8,1040.2 1335.6,1034.9 C1337.3,1029.6 1338.7,1023.5 1342.3,1022.9 Z" fill="none" stroke="#000" stroke-width="2.7" stroke-dasharray="2.7 3.0" stroke-linecap="butt"/>
<path d="M1034.9,1068.7 C1047.5,1068.7 1068.1,1069.7 1082.7,1072.7 C1097.3,1075.7 1112.5,1080.3 1122.5,1086.7 C1132.4,1093.0 1138.4,1103.2 1142.4,1110.5 C1146.4,1117.8 1148.4,1121.8 1146.4,1130.5 C1144.4,1139.1 1138.4,1151.7 1130.5,1162.3 C1122.5,1172.9 1110.5,1183.6 1098.6,1194.2 C1086.7,1204.8 1072.0,1215.4 1058.8,1226.0 C1045.5,1236.7 1032.2,1247.9 1018.9,1257.9 C1005.7,1267.9 991.7,1278.8 979.1,1285.8 C966.5,1292.7 952.6,1299.0 943.3,1299.7 C934.0,1300.4 929.0,1296.7 923.4,1289.8 C917.7,1282.8 913.1,1271.2 909.4,1257.9 C905.8,1244.6 901.8,1223.4 901.5,1210.1 C901.1,1196.8 901.1,1191.5 907.4,1178.2 C913.7,1165.0 927.4,1145.7 939.3,1130.5 C951.2,1115.2 967.8,1096.3 979.1,1086.7 C990.4,1077.0 997.7,1075.7 1007.0,1072.7 C1016.3,1069.7 1022.3,1068.7 1034.9,1068.7 Z" fill="none" stroke="#000" stroke-width="2.7" stroke-dasharray="2.7 3.0" stroke-linecap="butt"/>
<path d="M1253.9,1062.0 C1263.9,1063.0 1277.1,1064.6 1285.8,1070.7 C1294.4,1076.8 1301.4,1087.3 1305.7,1098.6 C1310.0,1109.9 1311.3,1125.1 1311.7,1138.4 C1312.0,1151.7 1310.0,1167.0 1307.7,1178.2 C1305.4,1189.5 1302.7,1199.8 1297.7,1206.1 C1292.7,1212.4 1285.8,1215.7 1277.8,1216.1 C1269.8,1216.4 1259.2,1213.1 1249.9,1208.1 C1240.6,1203.1 1230.0,1194.5 1222.1,1186.2 C1214.1,1177.9 1207.5,1169.0 1202.1,1158.3 C1196.8,1147.7 1192.5,1133.1 1190.2,1122.5 C1187.9,1111.9 1186.2,1102.9 1188.2,1094.6 C1190.2,1086.3 1195.8,1077.7 1202.1,1072.7 C1208.4,1067.7 1217.4,1066.5 1226.0,1064.7 C1234.7,1063.0 1244.0,1061.0 1253.9,1062.0 Z" fill="none" stroke="#000" stroke-width="2.7" stroke-dasharray="2.7 3.0" stroke-linecap="butt"/>
<path d="M1206.1,1197.4 C1211.1,1196.4 1214.8,1199.4 1222.1,1202.1 C1229.4,1204.9 1240.0,1211.8 1249.9,1214.1 C1259.9,1216.4 1270.5,1217.1 1281.8,1216.1 C1293.1,1215.1 1307.0,1209.8 1317.6,1208.1 C1328.3,1206.5 1338.5,1203.8 1345.5,1206.1 C1352.5,1208.4 1356.1,1213.4 1359.5,1222.1 C1362.8,1230.7 1365.1,1245.3 1365.4,1257.9 C1365.8,1270.5 1364.8,1286.4 1361.4,1297.7 C1358.1,1309.0 1353.5,1315.6 1345.5,1325.6 C1337.5,1335.6 1323.6,1348.8 1313.7,1357.5 C1303.7,1366.1 1294.1,1373.1 1285.8,1377.4 C1277.5,1381.7 1269.8,1383.7 1263.9,1383.3 C1257.9,1383.0 1254.9,1381.0 1249.9,1375.4 C1245.0,1369.7 1239.3,1359.8 1234.0,1349.5 C1228.7,1339.2 1223.4,1326.9 1218.1,1313.7 C1212.8,1300.4 1206.5,1283.8 1202.1,1269.8 C1197.8,1255.9 1193.8,1240.3 1192.2,1230.0 C1190.5,1219.7 1189.9,1213.6 1192.2,1208.1 C1194.5,1202.7 1201.1,1198.4 1206.1,1197.4 Z" fill="none" stroke="#000" stroke-width="2.7" stroke-dasharray="2.7 3.0" stroke-linecap="butt"/>
<path d="M931.3,1308.9 C937.3,1308.9 941.3,1314.2 947.3,1321.6 C953.2,1329.1 961.9,1342.9 967.2,1353.5 C972.5,1364.1 978.5,1376.7 979.1,1385.3 C979.8,1394.0 976.5,1400.5 971.2,1405.2 C965.8,1410.0 955.9,1412.4 947.3,1414.0 C938.6,1415.7 927.4,1416.7 919.4,1415.2 C911.4,1413.7 904.1,1410.9 899.5,1405.2 C894.8,1399.6 892.2,1390.6 891.5,1381.4 C890.8,1372.1 892.2,1359.5 895.5,1349.5 C898.8,1339.5 905.4,1328.4 911.4,1321.6 C917.4,1314.8 925.4,1308.9 931.3,1308.9 Z" fill="none" stroke="#000" stroke-width="2.7" stroke-dasharray="2.7 3.0" stroke-linecap="butt"/>
<text x="979.1" y="975.1" font-size="31.3" text-anchor="start" >B cell</text>
<text x="1311.7" y="1013.0" font-size="31.3" text-anchor="start" >pDC</text>
<text x="1222.9" y="1138.4" font-size="31.3" text-anchor="start" >DC</text>
<text x="979.1" y="1182.2" font-size="31.3" text-anchor="start" >T cell</text>
<text x="974.0" y="1353.5" font-size="31.3" text-anchor="start" >NK cell</text>
<text x="1194.2" y="1413.2" font-size="31.3" text-anchor="start" >TAM/Mono</text>
<rect x="881.9" y="928.4" width="500.3" height="499.6" fill="none" stroke="#000" stroke-width="3.3" />
<line x1="873.9" y1="962.4" x2="880.4" y2="962.4" stroke="#000" stroke-width="2.6" />
<text x="869.4" y="970.8" font-size="23.3" text-anchor="end" >10</text>
<line x1="873.9" y1="1095.8" x2="880.4" y2="1095.8" stroke="#000" stroke-width="2.6" />
<text x="869.4" y="1104.2" font-size="23.3" text-anchor="end" >5</text>
<line x1="873.9" y1="1229.2" x2="880.4" y2="1229.2" stroke="#000" stroke-width="2.6" />
<text x="869.4" y="1237.6" font-size="23.3" text-anchor="end" >0</text>
<line x1="873.9" y1="1362.6" x2="880.4" y2="1362.6" stroke="#000" stroke-width="2.6" />
<text x="869.4" y="1371.0" font-size="23.3" text-anchor="end" >−5</text>
<line x1="882.2" y1="1429.5" x2="882.2" y2="1436.0" stroke="#000" stroke-width="2.6" />
<text x="882.2" y="1459.0" font-size="23.3" text-anchor="middle" >−15</text>
<line x1="964.7" y1="1429.5" x2="964.7" y2="1436.0" stroke="#000" stroke-width="2.6" />
<text x="964.7" y="1459.0" font-size="23.3" text-anchor="middle" >−10</text>
<line x1="1047.2" y1="1429.5" x2="1047.2" y2="1436.0" stroke="#000" stroke-width="2.6" />
<text x="1047.2" y="1459.0" font-size="23.3" text-anchor="middle" >−5</text>
<line x1="1129.7" y1="1429.5" x2="1129.7" y2="1436.0" stroke="#000" stroke-width="2.6" />
<text x="1129.7" y="1459.0" font-size="23.3" text-anchor="middle" >0</text>
<line x1="1212.2" y1="1429.5" x2="1212.2" y2="1436.0" stroke="#000" stroke-width="2.6" />
<text x="1212.2" y="1459.0" font-size="23.3" text-anchor="middle" >5</text>
<line x1="1294.7" y1="1429.5" x2="1294.7" y2="1436.0" stroke="#000" stroke-width="2.6" />
<text x="1294.7" y="1459.0" font-size="23.3" text-anchor="middle" >10</text>
<text x="841.7" y="1183.0" font-size="25.5" text-anchor="middle" transform="rotate(-90 841.7 1183.0)" >UMAP_2</text>
<text x="1398.5" y="1500.8" font-size="25.5" text-anchor="middle" >UMAP_1</text>
<line x1="1300.4" y1="1327.7" x2="1408.0" y2="1327.7" stroke="#000" stroke-width="2.2" />
<polygon points="1427,1327.7 1405.5,1320.5 1405.5,1334.9" fill="#000"/>
<text x="1701.4" y="883.5" font-size="31.3" text-anchor="middle" >TAM/Mono</text>
<path transform="scale(0.25)" d="M5853 4000h0m17 8h0m9 8h0m-13 14h0m6 23h0m29 15h0m22-21h0m17 25h0m-7 13h0m-12 25h0m-25-9h0m-12 20h0m-18-25h0m53 54h0m17-16h0m20-12h0m17 2h0m26 10h0m42-6h0m12-7h0m-8 26h0m-1 12h0m11 17h0m22 9h0m-16 19h0m30 33h0m10 20h0m19 4h0m34 45h0m37-16h0m10-10h0m20-23h0m32-8h0m30-15h0m12 10h0m17 9h0m8-9h0m-13-42h0m-46-44h0m-19 13h0m-13 9h0m-22-15h0m27-18h0m-10-14h0m10-11h0m-4-20h0m-14 1h0m27-9h0m6 10h0m24 5h0m5 11h0m36-10h0m-3-9h0m-59-42h0m-25-12h0m-6 12h0m-21-10h0m-16-7h0m-13 22h0m-18 14h0m-8 11h0m29 1h0m1 23h0m-31 32h0m-19-4h0m6 22h0m-20 12h0m-9-26h0m-16-16h0m5-16h0m-21-22h0m-15-11h0m-29 15h0m-43-16h0m1-12h0m-3-21h0m-13-5h0m-5-11h0m-11-17h0m-3-21h0m15 0h0m3-19h0m-22 4h0m-14 14h0m-21-3h0m-15-30h0m-17-18h0m53 19h0m26-10h0m8-13h0m3-21h0m25 33h0m45 16h0m-1 11h0m-1 9h0m16-14h0m17 35h0m16-11h0m-22 32h0m-31 0h0m-19-14h0m-11 15h0m-6 14h0m-11-28h0m-30 37h0m5 116h0m-8 8h0m-29-2h0m76 15h0m30 55h0m-9 28h0m-3 12h0m22 5h0m9-4h0m9 26h0m23 3h0m40 96h0m22 32h0m-9 21h0m-12 38h0m-26 5h0m-21-23h0m-7 8h0m54 79h0m3 24h0m-19-3h0m-16-2h0m32 32h0m-2 15h0m17 12h0m1 10h0m0 12h0m34-52h0m31 46h0m-4 35h0m-10 21h0m-10 15h0m56-27h0m-1-84h0m-7-24h0m8-10h0m40-9h0m9 10h0m24 14h0m-53-76h0m-25 1h0m-34-40h0m-26 6h0m8-45h0m40 5h0m-25-52h0m-16-15h0m-16 12h0m59-19h0m17-2h0m7-39h0m20 0h0m8-25h0m-9-15h0m-47 43h0m-31-8h0m97 46h0m6-10h0m18-14h0m18 13h0m6-39h0m9-45h0m19-9h0m26 4h0m12-21h0m-27-34h0m30-18h0m-9 151h0m-9 17h0m-6 10h0m-2 23h0m1 12h0m27-11h0m-4 33h0m-13 10h0m-38 2h0m-39-41h0m-35 2h0m-110 126h0m-17 11h0m42-361h0m-18-29h0m-45-53h0m-24-73h0m27-6h0m15 0h0m1-16h0m0-16h0m18 3h0m0-24h0m-35 13h0m-19-46h0m35-2h0m-51-31h0m-35 14h0" stroke="#00B0F6" stroke-width="21.6" stroke-linecap="round" fill="none" />
<path transform="scale(0.25)" d="M6495 4342h0m12-41h0m-2-11h0m21-19h0m12 9h0m9-9h0m8-24h0m16 0h0m4 15h0m33-24h0m-12-24h0m13-23h0m-1-24h0m-13-16h0m-6 24h0m-16-2h0m-17 13h0m-16 15h0m-11-3h0m3 21h0m-11 28h0m42 61h0m26 1h0m23 16h0m27-11h0m14-20h0m11-6h0m-31-12h0m1-29h0m31-28h0m12-4h0m27 3h0m18 20h0m15 5h0m21-6h0m2-11h0m7-16h0m4-9h0m5-23h0m9-3h0m-1-21h0m-6-7h0m-20 18h0m-10 1h0m8 9h0m-26-22h0m16-13h0m-26-20h0m-6 11h0m-35 3h0m-45-8h0m-5 12h0m5 21h0m19 26h0m9-5h0m57-8h0m87-14h0m28-3h0m22 23h0m32 14h0m-1 15h0m12 21h0m5 8h0m7 14h0m11-22h0m-22 57h0m21 30h0m-1 14h0m21 4h0m7 26h0m22-1h0m18 10h0m-4-31h0m43 3h0m7-22h0m-25-23h0m8-16h0m19-3h0m32 3h0m14 0h0m-1 11h0m8 13h0m-19 28h0m13 13h0m-24 3h0m-5 15h0m-15 3h0m-5 35h0m3 15h0m-8 11h0m-13 24h0m13 20h0m-15 13h0m27 6h0m12 22h0m13 6h0m11 15h0m0 9h0m29-25h0m11 0h0m13 6h0m6-38h0m-39 0h0m19-34h0m37-6h0m2-18h0m-11-29h0m-30-7h0m7-17h0m14-29h0m-15-8h0m13-19h0m22 25h0m-45 68h0m-19 2h0m-18-16h0m-23 3h0m11 45h0m-58-32h0m-28-7h0m-8 7h0m-38 27h0m-21-2h0m-8 15h0m-3 18h0m12 1h0m34 8h0m-7 17h0m-34 18h0m-1 14h0m8 12h0m-45-15h0m9-53h0m-26 0h0m-14 5h0m-3-38h0m12-12h0m14-23h0m-14-12h0m-15-10h0m5-17h0m27 1h0m10-19h0m29 2h0m17 22h0m-41-56h0m-47-17h0m-26-9h0m-13 3h0m-3 10h0m-8-10h0m-9-5h0m6-18h0m14-29h0m7-9h0m21 12h0m-10 15h0m35-12h0m-16-33h0m-25 106h0m-5 15h0m-1 23h0m-27-11h0m-15-29h0m-23-17h0m-11 0h0m-21-8h0m7-16h0m20 1h0m-29 37h0m-7 24h0m15 27h0m-2 22h0m-19 23h0m-27 8h0m-5-13h0m-12 15h0m-2 33h0m34-16h0m11 24h0m-10 16h0m4 11h0m-27 6h0m1 22h0m-23-24h0m-19-13h0m-14-13h0m-10 17h0m-13 21h0m-19 5h0m-6-10h0m-21 16h0m1-43h0m2-27h0m25-2h0m1 12h0m4-31h0m3-28h0m5-21h0m14-2h0m2 15h0m19 24h0m0 30h0m37-80h0m-2-18h0m97 26h0m6 14h0m-8 15h0m-7 33h0m-18 11h0m24 31h0m-2 13h0m-22 9h0m11 30h0m-39 23h0m7 16h0m11 29h0m69-16h0m17 28h0m16 26h0m22 16h0m29-2h0m-3 30h0m-8 18h0m-22 8h0m-13-19h0m-1 38h0m7 15h0m25-10h0m7 22h0m15 37h0m11 4h0m17 10h0m23 6h0m36-10h0m23-30h0m21 0h0m9-10h0m9-8h0m13 11h0m24 12h0m-4 10h0m14 15h0m12-12h0m3-43h0m-32-11h0m-2-16h0m-19-12h0m9-15h0m-16-7h0m-16-22h0m-30 2h0m-20 3h0m-16-38h0m-21-6h0m-5-16h0m1-14h0m-22 7h0m4 14h0m-51-15h0m-23-38h0m4-20h0m-12-12h0m-6-25h0m-31 7h0m3-34h0m13-10h0m0-16h0m13-21h0m-9-31h0m183-104h0m6-23h0m15-6h0m-3 268h0m8 14h0m12 34h0m-2 9h0m-16 23h0m-11-13h0m-36 2h0m-40 81h0m53 50h0m1 16h0m-19 11h0m41-40h0m1-14h0m20 21h0m3 73h0m63 63h0m38-13h0m7-24h0m-12-6h0m-10 9h0m-51 91h0m-53-22h0m-39 25h0m-11-25h0m-27-17h0m-40-30h0m117 121h0m22 20h0m84-304h0m16-13h0m35-12h0m21 7h0m13-12h0m1-34h0m-35-38h0m30-30h0m17-64h0m2-20h0m12 0h0m-11-19h0m22-9h0m13 34h0m-131 111h0m-40 26h0m6 22h0m-18-104h0m102 170h0m-375-54h0m-8 26h0m-154-138h0m-27 2h0m-74-118h0m-7-10h0m37-252h0m14-13h0m17-18h0m13-28h0m3-11h0m10 13h0m32-21h0m21 1h0m-18 38h0m-78-34h0m-30-3h0m-5 15h0m-3 12h0m8 31h0" stroke="#A3A500" stroke-width="21.6" stroke-linecap="round" fill="none" />
<path transform="scale(0.25)" d="M7209 4310h0m49 27h0m44 29h0m10 15h0m39 12h0m53 7h0m1-19h0m23 16h0m30 4h0m16 7h0m-21 17h0m10 11h0m24-60h0m13-16h0m10 13h0m7-10h0m10-12h0m-57 6h0m-26-7h0m-4-17h0m-18 1h0m-11-33h0m-7-13h0m18-20h0m12-14h0m-25-9h0m-19-27h0m58 0h0m27-5h0m14 15h0m4-30h0m4-18h0m19 6h0m12-6h0m0 21h0m22-17h0m14-18h0m22-19h0m7 12h0m12-16h0m-11-16h0m-14-24h0m-18-7h0m11-12h0m-4-19h0m16-14h0m-2-30h0m16 1h0m16 6h0m37 7h0m8 10h0m17 5h0m-4 17h0m4 18h0m7 18h0m-6 13h0m-12 16h0m-13 9h0m-16 12h0m-13-5h0m-6 13h0m12 11h0m13-5h0m-9 29h0m-14 9h0m-2 19h0m-7 10h0m1 11h0m1 11h0m-7 11h0m3 21h0m14-2h0m18 21h0m-18 14h0m10 12h0m-29-4h0m-1 16h0m-28-59h0m-18 8h0m-13-8h0m7-8h0m-12-2h0m-14 14h0m35-25h0m13-13h0m-22-12h0m17-21h0m-8-7h0m23-24h0m10-5h0m45 34h0m9 5h0m12 0h0m0 20h0m14 2h0m-18 31h0m-4 10h0m-14-41h0m-5-12h0m47-31h0m1-10h0m-9-6h0m21-25h0m-16-15h0m-26-40h0m-21 2h0m10-24h0m14 0h0m-10-28h0m-23 12h0m37-52h0m16 15h0m-120 92h0m-22-3h0m1-14h0m-24 32h0m-18-13h0m45 22h0m-14 85h0m-29 28h0m-12 6h0m-12 21h0m-37 3h0m-41 26h0m-46 15h0m-52-88h0m16-14h0m-46 20h0m51 205h0m4 11h0m27 7h0m14-5h0m9 10h0m7-19h0m-24-9h0" stroke="#E76BF3" stroke-width="21.6" stroke-linecap="round" fill="none" />
<path transform="scale(0.25)" d="M7058 5026h0m42-23h0m11 7h0m-16-23h0m15-14h0m-25-7h0m35-52h0m31-32h0m16 23h0m21 8h0m9-20h0m27-2h0m17-7h0m23-6h0m5 13h0m23 28h0m4 16h0m-10 2h0m5 20h0m14-6h0m-26 16h0m-6 17h0m18 7h0m11 16h0m-41 29h0m-7 9h0m-39 14h0m-11-37h0m-20-42h0m11-5h0m24-15h0m-4-25h0m9-25h0m10-1h0m7 10h0m14 55h0m83-10h0m35 10h0m14-20h0m29 1h0m4-20h0m-8-19h0m34-1h0m-3-16h0m31 20h0m-11 24h0m22 22h0m-7 12h0m4 10h0m14-1h0m5-40h0m-47 32h0m1 13h0m-28 33h0m11 7h0m11 24h0m4 10h0m13 15h0m23-16h0m-16-13h0m40-15h0m16-9h0m17 25h0m-13 6h0m4 14h0m59-8h0m8-43h0m16-26h0m-12-12h0m18-7h0m17-23h0m18 0h0m5-11h0m-50-13h0m-9-7h0m11-7h0m-10-13h0m-22 6h0m1 12h0m-14 10h0m-6 24h0m13 24h0m20-14h0m-54-60h0m14-27h0m22-27h0m-7-27h0m-11-16h0m-8-12h0m-6 8h0m24-10h0m6 10h0m-17-23h0m-13-29h0m-26-8h0m-4 16h0m-28 9h0m-24 8h0m-12-16h0m-27 3h0m-10-1h0m13-18h0m-10-15h0m7-11h0m-5-8h0m15-27h0m-12-12h0m-6-17h0m-12-11h0m-21 19h0m-48 2h0m-23 29h0m-7 10h0m-7 15h0m-16 8h0m22 19h0m9-9h0m38 19h0m10 2h0m8 18h0m15-24h0m-16-28h0m28 61h0m15 20h0m1 15h0m24 1h0m15 15h0m12-7h0m13 3h0m-4-21h0m-21-16h0m-17 63h0m-29-4h0m-31 32h0m-12 1h0m-21 24h0m13 7h0m-50-13h0m-10-34h0m7-25h0m11-29h0m-29-14h0m-17 25h0m-16-31h0m-5-11h0m-6-20h0m-26 3h0m-3 11h0m-14-4h0m19-31h0m-18-10h0m49-12h0m36-42h0m64 113h0m12 35h0m-16 13h0m-10 13h0m25-3h0m109 17h0m8 16h0m28-24h0m10-29h0m107-7h0m7 11h0m14 12h0m7 10h0m5-16h0m14 1h0m5-10h0m20-11h0m4 15h0m-24 25h0m17 10h0m16 25h0m-56-19h0m-12-7h0m7-44h0m-1-12h0m-4-14h0m19-15h0m1-17h0m-9-16h0m-15-14h0m-10-14h0m4-10h0m31 10h0m23 4h0m15 3h0m12 5h0m-8 14h0m-11 0h0m26 26h0m16-29h0m9 7h0m6-15h0m0-37h0m-27 10h0m-11 4h0m-15-10h0m25-17h0m-17-23h0m-14-6h0m-10 2h0m-18-5h0m10-21h0m11 1h0m9-8h0m12 18h0m15 13h0m24 10h0m7-12h0m8-12h0m-12-25h0m-12-1h0m-18-14h0m-3-12h0m32-2h0m4 10h0m-1-24h0m-14-13h0m-2-16h0m-15 0h0m-11 11h0m30-35h0m-7-9h0m-3-20h0m-21 3h0m-16-13h0m-21-8h0m-19 7h0m-10-10h0m2-18h0m13-5h0m-6-27h0m-17-4h0m-14-1h0m-31 41h0m2 13h0m15 32h0m-2 9h0m-4 19h0m13 13h0m10-22h0m16 13h0m6 17h0m2 11h0m14 12h0m-30 12h0m-16 7h0m-12 5h0m-18 7h0m-18-16h0m-2-27h0m12-5h0m14 4h0m35 4h0m-4 44h0m28 12h0m11 5h0m-17 10h0m-24 7h0m-17 14h0m-15-7h0m4-9h0m-26 0h0m-2-22h0m-31-21h0m-15 31h0m9 4h0m-9 9h0m-10 17h0m-22 0h0m-13 2h0m3 24h0m14 6h0m15 20h0m9-29h0m16-10h0m16-15h0m-2 49h0m47-17h0m24-12h0m43 3h0m16-69h0m-13-102h0m-6-8h0m38-49h0m4-10h0m-2-34h0m56 113h0m-135 252h0m54 26h0m-221-149h0m-217 154h0m-15 11h0m12 31h0m-23 12h0m-63 149h0m-16 33h0m-13-3h0m142 51h0m29-3h0m23-5h0m0-16h0m32 0h0m14-12h0m-2-15h0m38 6h0m3 31h0m-52 17h0" stroke="#00BF7D" stroke-width="21.6" stroke-linecap="round" fill="none" />
<path transform="scale(0.25)" d="M6188 4874h0m52 8h0m-2 28h0m-14 9h0m-14 13h0m-8 12h0m10 16h0m14 11h0m-1 13h0m-5 18h0m33-2h0m-1-27h0m-22-15h0m45-32h0m-1-14h0m24-16h0m15 9h0m29 8h0m3 24h0m-26 2h0m-24 31h0m-6 37h0m8 8h0m-22 2h0m-3 13h0m-2 10h0m16 1h0m-5 24h0m-2 20h0m25-4h0m15 2h0m22-14h0m-16-16h0m82 18h0m-7 30h0m-12 14h0m19 25h0m19 6h0m11-34h0m29 21h0m-24 61h0m-30-8h0m-17-7h0m-17 0h0m3 25h0m-18 6h0m-8-15h0m-9 29h0m16 28h0m19-20h0m31-4h0m54 32h0m16-10h0m8 15h0m16-7h0m17-10h0m18-6h0m1 10h0m13-25h0m11-3h0m19-6h0m3 12h0m17-13h0m-7-10h0m17-11h0m-15-18h0m-32 10h0m-19 16h0m-3 15h0m-23-41h0m-40 34h0m10 22h0m5 3h0m-15 58h0m9 18h0m19 14h0m-1 13h0m-18-3h0m-7 19h0m-6 16h0m17 31h0m-5 9h0m-9 22h0m20 18h0m25 22h0m12-30h0m9-6h0m14-6h0m10 20h0m16 1h0m6 17h0m1 17h0m-24-4h0m-13 3h0m8 13h0m0 5h0m22 20h0m8-10h0m32 21h0m14-12h0m14 12h0m8-5h0m1 21h0m30 1h0m8-7h0m21 21h0m2 10h0m-19 10h0m36 19h0m5-23h0m16-23h0m18 23h0m18-21h0m14-27h0m17-2h0m13 2h0m-4-15h0m-11-7h0m-14-2h0m-28 1h0m-7 8h0m-3-20h0m-13 4h0m-9 20h0m-22 3h0m5 14h0m-28-42h0m-20-32h0m12-6h0m-23-12h0m-21-10h0m-2-14h0m3-14h0m-4-10h0m-30 30h0m-28-13h0m-18-7h0m1-22h0m-1-14h0m-12-16h0m-10 3h0m-16-17h0m17-10h0m-2-13h0m10-2h0m9-5h0m26 0h0m-10-24h0m-3-12h0m27-26h0m17-8h0m11 9h0m15 16h0m-4 19h0m-16-2h0m-9 29h0m7 14h0m-13 20h0m-29-9h0m-31 48h0m-33 23h0m-15 10h0m-48-13h0m50-49h0m13-42h0m-99-6h0m-13-2h0m-24 8h0m-12 17h0m-39-187h0m-12-4h0m97-112h0m-2-11h0m18 10h0m5-18h0m24 9h0m3 11h0m-2-26h0m-20-24h0m-29 17h0m-13-24h0m7-29h0m14-2h0m24-6h0m7 7h0m-8-33h0m-5-29h0m-34-5h0m3-31h0m6-47h0m24-12h0m-3-30h0m16-1h0m-3-10h0m-15-32h0m-11-17h0m-7-10h0m-11 1h0m-1 12h0m-15 0h0m-23-2h0m-36 9h0m3 21h0m23 16h0m-8 15h0m8 23h0m-9 6h0m1 36h0m-50-23h0m-16 5h0m-39 28h0m-19-20h0m-4-13h0m51 75h0m97 18h0m-16 69h0m126-60h0m13 35h0m10 15h0m13 19h0m9 17h0m-18 6h0m-3 19h0m45 22h0m-5 26h0m-16 7h0m-4 11h0m12 31h0m21 0h0m49-32h0m28 11h0m40-7h0m10-23h0m-14-27h0m8-22h0m-13-22h0m-27-10h0m-4 9h0m-20 3h0m-14 19h0m-1 11h0m8 14h0m-27-24h0m-7-13h0m1-29h0m22-2h0m30-27h0m-6-14h0m-21-20h0m-2-15h0m-12 6h0m-10 22h0m-11-39h0m26-25h0m25 7h0m24-33h0m42-2h0m19 6h0m-10 57h0m-23 51h0m-23 13h0m1 65h0m-72 31h0m54 82h0m-10 18h0m15 25h0m14-21h0m17-1h0m3 23h0m15-7h0m23 13h0m15 6h0m7 21h0m8 16h0m1 16h0m23-10h0m10 16h0m10-15h0m-7-18h0m-16-11h0m10-53h0m41 13h0m9 10h0m26-21h0m12 0h0m9-12h0m7 12h0m30-4h0m12 42h0m-4 12h0m13 3h0m17 7h0m18-11h0m14 6h0m23-6h0m17 19h0m-4 27h0m-2 18h0m-4 17h0m3 16h0m-30-19h0m-14 20h0m-1 10h0m-15-8h0m-10 8h0m-9-6h0m-5-8h0m-13-13h0m5-31h0m-15-8h0m-24 7h0m-8 18h0m4 15h0m-2 33h0m-36 11h0m23 29h0m12 31h0m-11 29h0m1 18h0m22-9h0m27-5h0m-4-34h0m13-2h0m18 7h0m10-14h0m-1-20h0m11-4h0m14-3h0m2 17h0m21 1h0m-8-29h0m-5-9h0m24 10h0m-78 7h0m-12-18h0m-16 34h0m-62 26h0m-25-1h0m-11-5h0m5-9h0m-22 3h0m-2-22h0m7-9h0m-12-12h0m-13-6h0m-3-13h0m-18-9h0m-14-5h0m-24-11h0m-6-7h0m-19 13h0m7 21h0m13 11h0m-21 7h0m-10 2h0m4 18h0m21 12h0m21 1h0m29-6h0m-2-16h0m-8-5h0m27 0h0m8 11h0m-10 26h0m4 12h0m-7 11h0m-24 4h0m0 20h0m12 3h0m11 1h0m26 18h0m12-11h0m8 8h0m10 6h0m3-24h0m-80 40h0m-7-9h0m-34-32h0m7-20h0m-41 61h0m-23 2h0m-11 16h0m27 21h0m-13 75h0m0 11h0m-2 12h0m-11-12h0m-13-5h0m1-9h0m-11-13h0m48 24h0m12 12h0m-9 17h0m-93-152h0m101-154h0m10-57h0m34-15h0m-7-20h0m23 45h0m59 41h0m12 10h0m14-12h0m5-25h0m-14-2h0m-2-11h0m12-24h0m6-22h0m17 2h0m24 22h0m-13 24h0m16-69h0m13-15h0m30 23h0m36-24h0m11-1h0m2-10h0m34 65h0m-33 18h0m99-27h0m0-15h0m7-15h0m-20-18h0m54 14h0m-224-100h0m-5-14h0m-12 3h0m-10 18h0m14 5h0m-29 21h0m-21-21h0m-29-9h0m-16-10h0m-39 6h0m-22 19h0m26 11h0m3 19h0m-16 1h0m-68 83h0m-16-4h0m175-171h0m14 0h0m1-26h0m-16-9h0m2-14h0m1-13h0m-46 1h0m-16-7h0m6-9h0m-9-8h0m29-8h0m1-26h0m-177-102h0m-1-35h0m-68 54h0m-6 9h0m-14-61h0m-10 3h0m-4-72h0m25-37h0m-115 54h0m-8 24h0m-64-7h0m-28-19h0m13-13h0m232 206h0m410 492h0m-42 40h0m-16 17h0m-36 40h0m-17 31h0" stroke="#F8766D" stroke-width="21.6" stroke-linecap="round" fill="none" />
<path d="M1513.4,964.0 C1523.4,964.0 1530.3,965.3 1539.3,969.2 C1548.3,973.0 1558.5,979.5 1567.2,987.1 C1575.8,994.7 1584.4,1004.3 1591.1,1015.0 C1597.7,1025.6 1603.4,1038.2 1607.0,1050.8 C1610.7,1063.4 1612.4,1078.7 1613.0,1090.6 C1613.5,1102.6 1613.2,1112.5 1610.2,1122.5 C1607.2,1132.4 1601.6,1141.1 1595.1,1150.4 C1588.5,1159.7 1579.1,1170.9 1571.2,1178.2 C1563.2,1185.5 1554.2,1191.0 1547.3,1194.2 C1540.3,1197.4 1535.0,1198.7 1529.3,1197.4 C1523.7,1196.0 1518.4,1192.7 1513.4,1186.2 C1508.4,1179.7 1504.8,1170.9 1499.5,1158.3 C1494.2,1145.7 1487.5,1127.1 1481.6,1110.5 C1475.6,1094.0 1468.6,1074.0 1463.6,1058.8 C1458.7,1043.5 1453.8,1029.6 1451.7,1018.9 C1449.6,1008.3 1449.6,1001.7 1450.9,995.1 C1452.2,988.4 1454.9,983.4 1459.6,979.1 C1464.4,974.8 1470.6,971.7 1479.6,969.2 C1488.5,966.6 1503.5,964.0 1513.4,964.0 Z" fill="none" stroke="#000" stroke-width="2.7" stroke-dasharray="2.7 3.0" stroke-linecap="butt"/>
<path d="M1626.9,995.9 C1634.5,996.6 1646.8,999.2 1658.8,1003.0 C1670.7,1006.9 1685.3,1013.0 1698.6,1018.9 C1711.9,1024.9 1725.8,1032.2 1738.4,1038.9 C1751.0,1045.5 1763.6,1051.5 1774.3,1058.8 C1784.9,1066.1 1794.8,1073.4 1802.1,1082.7 C1809.4,1092.0 1815.7,1105.2 1818.1,1114.5 C1820.4,1123.8 1818.7,1129.1 1816.1,1138.4 C1813.4,1147.7 1807.1,1159.7 1802.1,1170.3 C1797.2,1180.9 1790.9,1192.2 1786.2,1202.1 C1781.6,1212.1 1777.9,1219.7 1774.3,1230.0 C1770.6,1240.3 1767.6,1257.9 1764.3,1263.9 C1761.0,1269.8 1760.0,1268.8 1754.4,1265.9 C1748.7,1262.9 1739.8,1254.6 1730.5,1245.9 C1721.2,1237.3 1709.2,1224.7 1698.6,1214.1 C1688.0,1203.5 1676.7,1192.9 1666.7,1182.2 C1656.8,1171.6 1646.5,1161.0 1638.9,1150.4 C1631.2,1139.8 1625.3,1130.5 1620.9,1118.5 C1616.6,1106.6 1615.3,1092.6 1613.0,1078.7 C1610.7,1064.7 1608.3,1046.5 1607.0,1034.9 C1605.7,1023.3 1604.0,1015.1 1605.0,1009.0 C1606.0,1002.9 1609.3,1000.4 1613.0,998.2 C1616.6,996.0 1619.3,995.1 1626.9,995.9 Z" fill="none" stroke="#000" stroke-width="2.7" stroke-dasharray="2.7 3.0" stroke-linecap="butt"/>
<path d="M1929.6,966.4 C1934.2,967.7 1937.9,975.7 1941.5,983.1 C1945.2,990.5 1949.5,1002.4 1951.5,1011.0 C1953.5,1019.6 1954.1,1025.6 1953.5,1034.9 C1952.8,1044.2 1949.8,1056.5 1947.5,1066.7 C1945.2,1077.0 1943.2,1092.3 1939.5,1096.6 C1935.9,1100.9 1931.2,1092.6 1925.6,1092.6 C1920.0,1092.6 1913.7,1093.6 1905.7,1096.6 C1897.7,1099.6 1887.8,1105.6 1877.8,1110.5 C1867.9,1115.5 1853.3,1124.2 1845.9,1126.5 C1838.6,1128.8 1838.0,1127.8 1834.0,1124.5 C1830.0,1121.2 1826.4,1113.5 1822.1,1106.6 C1817.7,1099.6 1812.4,1090.6 1808.1,1082.7 C1803.8,1074.7 1797.2,1064.1 1796.2,1058.8 C1795.2,1053.5 1795.2,1056.8 1802.1,1050.8 C1809.1,1044.8 1825.4,1031.9 1838.0,1022.9 C1850.6,1014.0 1865.2,1005.0 1877.8,997.0 C1890.4,989.1 1905.0,980.3 1913.7,975.1 C1922.3,970.0 1924.9,965.1 1929.6,966.4 Z" fill="none" stroke="#000" stroke-width="2.7" stroke-dasharray="2.7 3.0" stroke-linecap="butt"/>
<path d="M1921.6,1092.6 C1929.9,1093.3 1935.2,1096.3 1939.5,1102.6 C1943.9,1108.9 1945.8,1119.2 1947.5,1130.5 C1949.2,1141.7 1949.8,1157.0 1949.5,1170.3 C1949.2,1183.6 1947.8,1197.5 1945.5,1210.1 C1943.2,1222.7 1940.2,1235.3 1935.6,1245.9 C1930.9,1256.6 1925.3,1266.9 1917.6,1273.8 C1910.0,1280.8 1901.0,1284.1 1889.8,1287.8 C1878.5,1291.4 1863.2,1294.1 1849.9,1295.7 C1836.7,1297.4 1821.4,1298.1 1810.1,1297.7 C1798.8,1297.4 1788.9,1297.1 1782.2,1293.7 C1775.6,1290.4 1771.9,1285.1 1770.3,1277.8 C1768.6,1270.5 1770.3,1260.6 1772.3,1249.9 C1774.3,1239.3 1777.9,1226.0 1782.2,1214.1 C1786.5,1202.1 1792.2,1189.5 1798.2,1178.2 C1804.1,1167.0 1809.4,1155.7 1818.1,1146.4 C1826.7,1137.1 1838.0,1130.5 1849.9,1122.5 C1861.9,1114.5 1877.8,1103.6 1889.8,1098.6 C1901.7,1093.6 1913.3,1092.0 1921.6,1092.6 Z" fill="none" stroke="#000" stroke-width="2.7" stroke-dasharray="2.7 3.0" stroke-linecap="butt"/>
<path d="M1615.0,1148.4 C1620.3,1150.4 1626.2,1154.7 1634.9,1162.3 C1643.5,1170.0 1656.1,1184.2 1666.7,1194.2 C1677.4,1204.1 1688.0,1212.8 1698.6,1222.1 C1709.2,1231.3 1719.8,1241.3 1730.5,1249.9 C1741.1,1258.6 1754.4,1265.9 1762.3,1273.8 C1770.3,1281.8 1775.6,1291.1 1778.2,1297.7 C1780.9,1304.4 1780.9,1307.0 1778.2,1313.7 C1775.6,1320.3 1769.0,1328.9 1762.3,1337.5 C1755.7,1346.2 1747.1,1356.1 1738.4,1365.4 C1729.8,1374.7 1719.2,1385.3 1710.5,1393.3 C1701.9,1401.3 1693.0,1409.4 1686.7,1413.2 C1680.3,1417.0 1678.0,1417.3 1672.7,1416.0 C1667.4,1414.7 1662.4,1411.7 1654.8,1405.2 C1647.2,1398.8 1636.9,1388.7 1626.9,1377.4 C1617.0,1366.1 1605.0,1350.2 1595.1,1337.5 C1585.1,1324.9 1575.8,1314.3 1567.2,1301.7 C1558.5,1289.1 1548.9,1273.8 1543.3,1261.9 C1537.6,1249.9 1534.0,1238.6 1533.3,1230.0 C1532.7,1221.4 1535.0,1216.7 1539.3,1210.1 C1543.6,1203.5 1551.2,1198.2 1559.2,1190.2 C1567.2,1182.2 1579.8,1169.0 1587.1,1162.3 C1594.4,1155.7 1598.4,1152.7 1603.0,1150.4 C1607.7,1148.0 1609.7,1146.4 1615.0,1148.4 Z" fill="none" stroke="#000" stroke-width="2.7" stroke-dasharray="2.7 3.0" stroke-linecap="butt"/>
<text x="1484.3" y="1079.5" font-size="29.7" text-anchor="start" >TAM_2</text>
<text x="1673.9" y="1125.7" font-size="29.7" text-anchor="start" >Mono_1</text>
<text x="1826.0" y="1072.7" font-size="29.7" text-anchor="start" >Mono_2</text>
<text x="1805.3" y="1224.0" font-size="29.7" text-anchor="start" >Mono_3</text>
<text x="1606.2" y="1307.7" font-size="29.7" text-anchor="start" >TAM_1</text>
<rect x="1436.6" y="928.4" width="530.8" height="499.0" fill="none" stroke="#000" stroke-width="3.3" />
<line x1="1428.6" y1="962.3" x2="1435.1" y2="962.3" stroke="#000" stroke-width="2.6" />
<text x="1424.1" y="970.7" font-size="23.3" text-anchor="end" >4</text>
<line x1="1428.6" y1="1067.9" x2="1435.1" y2="1067.9" stroke="#000" stroke-width="2.6" />
<text x="1424.1" y="1076.3" font-size="23.3" text-anchor="end" >2</text>
<line x1="1428.6" y1="1173.5" x2="1435.1" y2="1173.5" stroke="#000" stroke-width="2.6" />
<text x="1424.1" y="1181.9" font-size="23.3" text-anchor="end" >0</text>
<line x1="1428.6" y1="1279.1" x2="1435.1" y2="1279.1" stroke="#000" stroke-width="2.6" />
<text x="1424.1" y="1287.5" font-size="23.3" text-anchor="end" >−2</text>
<line x1="1428.6" y1="1384.7" x2="1435.1" y2="1384.7" stroke="#000" stroke-width="2.6" />
<text x="1424.1" y="1393.1" font-size="23.3" text-anchor="end" >−4</text>
<line x1="1470.7" y1="1428.9" x2="1470.7" y2="1435.4" stroke="#000" stroke-width="2.6" />
<text x="1470.7" y="1459.0" font-size="23.3" text-anchor="middle" >−6</text>
<line x1="1592.2" y1="1428.9" x2="1592.2" y2="1435.4" stroke="#000" stroke-width="2.6" />
<text x="1592.2" y="1459.0" font-size="23.3" text-anchor="middle" >−3</text>
<line x1="1713.7" y1="1428.9" x2="1713.7" y2="1435.4" stroke="#000" stroke-width="2.6" />
<text x="1713.7" y="1459.0" font-size="23.3" text-anchor="middle" >0</text>
<line x1="1835.2" y1="1428.9" x2="1835.2" y2="1435.4" stroke="#000" stroke-width="2.6" />
<text x="1835.2" y="1459.0" font-size="23.3" text-anchor="middle" >3</text>
<line x1="1956.7" y1="1428.9" x2="1956.7" y2="1435.4" stroke="#000" stroke-width="2.6" />
<text x="1956.7" y="1459.0" font-size="23.3" text-anchor="middle" >6</text>
<text x="-0.5" y="1671.5" font-size="40" text-anchor="start" font-weight="bold" >m</text>
<path d="M105.5,1773.7 L105.4,1777.6 L105.2,1781.6 L104.9,1785.5 L104.5,1789.5 L104.2,1793.4 L103.9,1797.4 L103.7,1801.3 L103.6,1805.3 L103.4,1809.2 L102.8,1813.2 L102.1,1817.2 L101.3,1821.1 L100.5,1825.1 L99.7,1829.0 L99.1,1833.0 L98.7,1836.9 L98.5,1840.9 L98.3,1844.8 L97.9,1848.8 L97.3,1852.7 L96.6,1856.7 L95.8,1860.6 L95.1,1864.6 L94.4,1868.5 L94.0,1872.5 L93.7,1876.4 L93.7,1880.4 L93.6,1884.3 L93.6,1888.3 L93.5,1892.2 L93.4,1896.2 L93.4,1900.1 L93.4,1904.1 L93.5,1908.1 L93.6,1912.0 L93.7,1916.0 L93.9,1919.9 L94.0,1923.9 L94.1,1927.8 L94.1,1931.8 L94.1,1935.7 L94.2,1939.7 L94.4,1943.6 L94.6,1947.6 L94.7,1951.5 L94.8,1955.5 L94.8,1959.4 L94.0,1963.4 L92.9,1967.3 L92.0,1971.3 L91.2,1975.2 L87.6,1979.2 L83.3,1983.1 L80.9,1987.1 L77.9,1991.0 L71.3,1995.0 L68.0,1999.0 L63.5,2002.9 L60.6,2006.9 L59.9,2010.8 L153.3,2010.8 L152.6,2006.9 L149.7,2002.9 L145.2,1999.0 L141.9,1995.0 L135.3,1991.0 L132.3,1987.1 L129.9,1983.1 L125.6,1979.2 L122.0,1975.2 L121.2,1971.3 L120.3,1967.3 L119.2,1963.4 L118.4,1959.4 L118.4,1955.5 L118.5,1951.5 L118.6,1947.6 L118.8,1943.6 L119.0,1939.7 L119.1,1935.7 L119.1,1931.8 L119.1,1927.8 L119.2,1923.9 L119.3,1919.9 L119.5,1916.0 L119.6,1912.0 L119.7,1908.1 L119.8,1904.1 L119.8,1900.1 L119.8,1896.2 L119.7,1892.2 L119.6,1888.3 L119.6,1884.3 L119.5,1880.4 L119.5,1876.4 L119.2,1872.5 L118.8,1868.5 L118.1,1864.6 L117.4,1860.6 L116.6,1856.7 L115.9,1852.7 L115.3,1848.8 L114.9,1844.8 L114.7,1840.9 L114.5,1836.9 L114.1,1833.0 L113.5,1829.0 L112.7,1825.1 L111.9,1821.1 L111.1,1817.2 L110.4,1813.2 L109.8,1809.2 L109.6,1805.3 L109.5,1801.3 L109.3,1797.4 L109.0,1793.4 L108.7,1789.5 L108.3,1785.5 L108.0,1781.6 L107.8,1777.6 L107.7,1773.7 Z" fill="#3c63cf" stroke="#2a2a2a" stroke-width="1.6" stroke-linejoin="round"/>
<path d="M208.9,1778.1 L208.9,1782.0 L208.8,1785.8 L208.8,1789.7 L208.8,1793.6 L208.7,1797.5 L208.6,1801.4 L208.6,1805.2 L208.5,1809.1 L208.4,1813.0 L208.4,1816.9 L208.3,1820.8 L208.2,1824.6 L208.2,1828.5 L208.2,1832.4 L208.1,1836.3 L208.1,1840.1 L208.1,1844.0 L207.8,1847.9 L207.5,1851.8 L207.1,1855.7 L206.6,1859.5 L206.1,1863.4 L205.7,1867.3 L205.4,1871.2 L205.2,1875.1 L205.1,1878.9 L204.7,1882.8 L204.1,1886.7 L203.3,1890.6 L202.6,1894.4 L202.3,1898.3 L202.0,1902.2 L201.3,1906.1 L200.5,1910.0 L200.0,1913.8 L199.9,1917.7 L199.8,1921.6 L199.7,1925.5 L199.8,1929.4 L200.1,1933.2 L200.5,1937.1 L200.9,1941.0 L201.3,1944.9 L201.5,1948.8 L201.5,1952.6 L201.8,1956.5 L202.3,1960.4 L202.7,1964.3 L203.0,1968.1 L202.7,1972.0 L201.9,1975.9 L200.9,1979.8 L200.4,1983.7 L196.0,1987.5 L191.2,1991.4 L184.0,1995.3 L178.2,1999.2 L170.6,2003.1 L165.9,2006.9 L162.5,2010.8 L256.7,2010.8 L253.3,2006.9 L248.6,2003.1 L241.0,1999.2 L235.2,1995.3 L228.0,1991.4 L223.2,1987.5 L218.8,1983.7 L218.3,1979.8 L217.3,1975.9 L216.5,1972.0 L216.2,1968.1 L216.5,1964.3 L216.9,1960.4 L217.4,1956.5 L217.7,1952.6 L217.7,1948.8 L217.9,1944.9 L218.3,1941.0 L218.7,1937.1 L219.1,1933.2 L219.4,1929.4 L219.5,1925.5 L219.4,1921.6 L219.3,1917.7 L219.2,1913.8 L218.7,1910.0 L217.9,1906.1 L217.2,1902.2 L216.9,1898.3 L216.6,1894.4 L215.9,1890.6 L215.1,1886.7 L214.5,1882.8 L214.1,1878.9 L214.0,1875.1 L213.8,1871.2 L213.5,1867.3 L213.1,1863.4 L212.6,1859.5 L212.1,1855.7 L211.7,1851.8 L211.4,1847.9 L211.1,1844.0 L211.1,1840.1 L211.1,1836.3 L211.0,1832.4 L211.0,1828.5 L211.0,1824.6 L210.9,1820.8 L210.8,1816.9 L210.8,1813.0 L210.7,1809.1 L210.6,1805.2 L210.6,1801.4 L210.5,1797.5 L210.4,1793.6 L210.4,1789.7 L210.4,1785.8 L210.3,1782.0 L210.3,1778.1 Z" fill="#ff0000" stroke="#2a2a2a" stroke-width="1.6" stroke-linejoin="round"/>
<path transform="scale(0.25)" d="M250 7494h0m20 5h0m32-19h0m6 24h0m17 17h0m28-9h0m9-31h0m23 4h0m1 29h0m50-33h0m-14-25h0m20-5h0m-62-1h0m-8-44h0m10-16h0m28-36h0m19-36h0m-19-5h0m-19-81h0m-81 41h0m-37 52h0m-17-15h0m6 144h0m59 9h0m-57 102h0m71 65h0m-20 21h0m11 33h0m39 36h0m27-13h0m24 22h0m24 24h0m22 17h0m-14 21h0m-21-8h0m-14 63h0m-2 27h0m-3 0h0m12 1h0m8-4h0m9-11h0m2 39h0m22 32h0m7 1h0m4-10h0m48 0h0m44-13h0m0-18h0m39 2h0m-1 55h0m-38 19h0m-46 4h0m0 73h0m-5 0h0m-5 0h0m-6 0h0m-7 0h0m-4 0h0m-9 0h0m-3 0h0m-6 0h0m-6 0h0m-2 0h0m-19 0h0m-5 0h0m-1 0h0m-1 0h0m-1 0h0m-3 0h0m-10 0h0m-1 0h0m-31 0h0m-1 0h0m-5 0h0m-10 0h0m-4 0h0m-29 0h0m-19 0h0m-2 0h0m-2 0h0m-10 0h0m-2 0h0m-4 0h0m-2 0h0m-19 0h0m-8 0h0m-1 0h0m-7 0h0m-7 0h0m-1 0h0m-10 0h0m44-88h0m26-3h0m-25-37h0m-24-4h0m0-1h0m68-32h0m5-11h0m37 7h0m-23-45h0m-23-36h0m-12 6h0m-38 22h0m-22-30h0m-8-9h0m22-32h0m144-73h0m35 33h0m15 18h0m7-9h0m54-15h0m21 10h0m-18-39h0m-3-47h0m-27 4h0m-5-35h0m-31 18h0m-23-52h0m26-29h0m20 6h0m49 8h0m18 47h0m30 47h0m-1 7h0m90 9h0m-2 17h0m19 24h0m4-2h0m31 18h0m21-1h0m36-16h0m-10-15h0m-59-19h0m14-53h0m-53-3h0m-11-4h0m53-69h0m5-26h0m10-16h0m18-34h0m17 9h0m41 23h0m37 11h0m3 17h0m-1 6h0m17 8h0m21 13h0m20-30h0m6 0h0m8-20h0m10-14h0m12 0h0m9-14h0m9-12h0m30-17h0m14-35h0m-75 2h0m-13 6h0m-8-7h0m-2 26h0m-12 36h0m-7 19h0m50 42h0m39-22h0m8 19h0m29-22h0m-11 74h0m-32 15h0m-13 14h0m-2-27h0m-43-2h0m15 36h0m1 16h0m-3 10h0m-7 15h0m-20 4h0m-16 11h0m-10 23h0m-23-9h0m25 48h0m24 21h0m10 9h0m8 11h0m13-13h0m4 20h0m9 1h0m2-2h0m23-27h0m-7-28h0m-20-25h0m2-15h0m10-19h0m-3-22h0m23 8h0m16 10h0m14 9h0m5-25h0m-30 44h0m28 15h0m10 31h0m-11 77h0m-14 51h0m-13 1h0m-33-15h0m-7 21h0m-13-6h0m-1-4h0m3-32h0m-27-28h0m-5-21h0m-17 14h0m-31-5h0m-20 10h0m13-39h0m-3-10h0m-56 14h0m-28-2h0m-2 11h0m-11 8h0m-5 13h0m6 10h0m6 22h0m25-2h0m20 4h0m0 8h0m-12 21h0m-5-1h0m0 10h0m-23-4h0m-30-17h0m-18 27h0m-28 2h0m25 47h0m8 5h0m0 15h0m16 17h0m20 16h0m54 4h0m16-3h0m18 8h0m-8-39h0m29-13h0m30 19h0m1 16h0m21-30h0m11-6h0m22 4h0m26 20h0m20 35h0m19 34h0m-1 22h0m2 0h0m4 0h0m3 0h0m-14 0h0m-8 0h0m-2 0h0m-1 0h0m-3 0h0m-21 0h0m-1 0h0m-5 0h0m-11 0h0m-4 0h0m-1 0h0m-2 0h0m-1 0h0m-14 0h0m-3 0h0m-2 0h0m-4 0h0m-3 0h0m-2 0h0m-4 0h0m-2 0h0m-8 0h0m-3 0h0m-1 0h0m-2 0h0m-2 0h0m-1 0h0m-3 0h0m-1 0h0m-11 0h0m-3 0h0m-3 0h0m-1 0h0m-4 0h0m-6 0h0m-4 0h0m-4 0h0m-2 0h0m-11 0h0m-3 0h0m-2 0h0m-1 0h0m-1 0h0m-21 0h0m-6 0h0m-4 0h0m-2 0h0m-3 0h0m-10 0h0m-11 0h0m-3 0h0m-9 0h0m-2 0h0m-2 0h0m-1 0h0m-2 0h0m-1 0h0m-3 0h0m-3 0h0m-6 0h0m-1 0h0m-2 0h0m-4 0h0m-14 0h0m-1 0h0m-3 0h0m-5 0h0m-4 0h0m-2 0h0m-12 0h0m-15 0h0m-4 0h0m-1 0h0m-5 0h0m-61 0h0m-10 0h0m-11 0h0m-1 0h0m-2 0h0m-1 0h0m-8 0h0m-2 0h0m-7 0h0m-11 0h0m-9 0h0m-7 0h0m-5 0h0m-6 0h0m35-12h0m-138-35h0m-4-12h0m90-145h0m16-27h0m-28-10h0m59 38h0m14-63h0m111-11h0m47 11h0m49 18h0m46 49h0m-10 9h0m36-8h0m16 23h0m15-16h0m13-7h0m4 28h0m2 28h0m-14 5h0m-47-10h0m-55 2h0m-32-2h0m44 129h0m211-97h0m-82-190h0m-4-58h0m-22-48h0m-60-3h0m-27 1h0m-15-27h0m1-31h0m14-6h0m3-1h0m-13-23h0m-7 4h0m26-12h0m32 26h0m-73-41h0m-80-68h0m-7-21h0m-15-22h0m41-63h0m27-36h0m48-28h0m41 52h0m32 23h0m8-30h0m13-15h0m11 31h0m-51 41h0m-78-16h0m-78-103h0m18-62h0m25-10h0m60-36h0m28 21h0m45 12h0m112 16h0m-15 132h0m-191-212h0m-55-15h0m-135 100h0m15 64h0m-12 23h0m-16-15h0m-26 65h0m-4 57h0m18 0h0m8 29h0m26 52h0m-7 3h0m19 46h0m-129-136h0m24-175h0m6-40h0m-146-75h0m-84 51h0m111 418h0m23 6h0m-22 18h0" stroke="#000" stroke-width="13.2" stroke-linecap="round" fill="none" />
<line x1="44.9" y1="1761.5" x2="44.9" y2="2024.3" stroke="#000" stroke-width="2" />
<line x1="43.9" y1="2023.3" x2="272.8" y2="2023.3" stroke="#000" stroke-width="2" />
<line x1="38.4" y1="1778.1" x2="44.9" y2="1778.1" stroke="#000" stroke-width="2" />
<text x="33.9" y="1787.3" font-size="25.5" text-anchor="end" >3</text>
<line x1="38.4" y1="1855.3" x2="44.9" y2="1855.3" stroke="#000" stroke-width="2" />
<text x="33.9" y="1864.5" font-size="25.5" text-anchor="end" >2</text>
<line x1="38.4" y1="1933.2" x2="44.9" y2="1933.2" stroke="#000" stroke-width="2" />
<text x="33.9" y="1942.4" font-size="25.5" text-anchor="end" >1</text>
<line x1="38.4" y1="2010.8" x2="44.9" y2="2010.8" stroke="#000" stroke-width="2" />
<text x="33.9" y="2020.0" font-size="25.5" text-anchor="end" >0</text>
<line x1="106.6" y1="2023.3" x2="106.6" y2="2030.3" stroke="#000" stroke-width="2" />
<text x="103.3" y="2055.7" font-size="26.0" text-anchor="middle" >WT</text>
<line x1="209.6" y1="2023.3" x2="209.6" y2="2030.3" stroke="#000" stroke-width="2" />
<text x="209.2" y="2055.7" font-size="26.0" text-anchor="middle" >KO</text>
<text x="148.2" y="1716.3" font-size="25.7" text-anchor="middle" font-style="italic" >Mrc1</text>
<text x="145.2" y="1756.0" font-size="25.9" text-anchor="middle" >P = 2.359e-4</text>
<path d="M380.9,1775.1 L380.9,1779.1 L380.8,1783.1 L380.8,1787.0 L380.7,1791.0 L380.6,1794.9 L380.5,1798.9 L380.4,1802.9 L380.3,1806.8 L380.2,1810.8 L380.1,1814.7 L380.0,1818.7 L380.0,1822.6 L379.9,1826.6 L379.8,1830.6 L379.8,1834.5 L379.8,1838.5 L379.8,1842.4 L379.7,1846.4 L379.6,1850.4 L379.5,1854.3 L379.4,1858.3 L379.3,1862.2 L379.2,1866.2 L379.1,1870.1 L379.0,1874.1 L379.0,1878.1 L379.0,1882.0 L379.0,1886.0 L378.9,1889.9 L378.9,1893.9 L378.8,1897.9 L378.8,1901.8 L378.7,1905.8 L378.7,1909.7 L378.7,1913.7 L378.6,1917.6 L378.6,1921.6 L378.5,1925.6 L378.4,1929.5 L378.3,1933.5 L378.1,1937.4 L378.0,1941.4 L378.0,1945.4 L377.9,1949.3 L377.9,1953.3 L377.6,1957.2 L377.3,1961.2 L376.9,1965.1 L376.6,1969.1 L376.5,1973.1 L375.9,1977.0 L374.8,1981.0 L373.8,1984.9 L373.0,1988.9 L368.3,1992.9 L364.7,1996.8 L353.9,2000.8 L347.1,2004.7 L339.0,2008.7 L334.9,2012.6 L428.3,2012.6 L424.2,2008.7 L416.1,2004.7 L409.3,2000.8 L398.5,1996.8 L394.9,1992.9 L390.2,1988.9 L389.4,1984.9 L388.4,1981.0 L387.3,1977.0 L386.7,1973.1 L386.6,1969.1 L386.3,1965.1 L385.9,1961.2 L385.6,1957.2 L385.3,1953.3 L385.3,1949.3 L385.2,1945.4 L385.2,1941.4 L385.1,1937.4 L384.9,1933.5 L384.8,1929.5 L384.7,1925.6 L384.6,1921.6 L384.6,1917.6 L384.5,1913.7 L384.5,1909.7 L384.5,1905.8 L384.4,1901.8 L384.4,1897.9 L384.3,1893.9 L384.3,1889.9 L384.2,1886.0 L384.2,1882.0 L384.2,1878.1 L384.2,1874.1 L384.1,1870.1 L384.0,1866.2 L383.9,1862.2 L383.8,1858.3 L383.7,1854.3 L383.6,1850.4 L383.5,1846.4 L383.4,1842.4 L383.4,1838.5 L383.4,1834.5 L383.4,1830.6 L383.3,1826.6 L383.2,1822.6 L383.2,1818.7 L383.1,1814.7 L383.0,1810.8 L382.9,1806.8 L382.8,1802.9 L382.7,1798.9 L382.6,1794.9 L382.5,1791.0 L382.4,1787.0 L382.4,1783.1 L382.3,1779.1 L382.3,1775.1 Z" fill="#3c63cf" stroke="#2a2a2a" stroke-width="1.6" stroke-linejoin="round"/>
<path d="M484.0,1854.2 L484.0,1856.8 L484.0,1859.5 L484.0,1862.1 L484.0,1864.8 L484.0,1867.4 L484.0,1870.0 L484.0,1872.7 L483.9,1875.3 L483.9,1878.0 L483.9,1880.6 L483.9,1883.2 L483.8,1885.9 L483.8,1888.5 L483.8,1891.2 L483.8,1893.8 L483.8,1896.4 L483.7,1899.1 L483.7,1901.7 L483.7,1904.4 L483.7,1907.0 L483.7,1909.7 L483.7,1912.3 L483.7,1914.9 L483.7,1917.6 L483.6,1920.2 L483.5,1922.9 L483.5,1925.5 L483.4,1928.1 L483.3,1930.8 L483.2,1933.4 L483.1,1936.1 L483.0,1938.7 L482.9,1941.3 L482.8,1944.0 L482.8,1946.6 L482.8,1949.3 L482.7,1951.9 L482.5,1954.5 L482.2,1957.2 L481.8,1959.8 L481.5,1962.5 L481.3,1965.1 L481.3,1967.8 L481.3,1970.4 L481.3,1973.0 L481.4,1975.7 L481.6,1978.3 L481.9,1981.0 L482.2,1983.6 L482.4,1986.2 L482.4,1988.9 L482.2,1991.5 L481.9,1994.2 L481.7,1996.8 L481.2,1999.4 L476.2,2002.1 L472.7,2004.7 L459.6,2007.4 L445.3,2010.0 L437.9,2012.6 L531.3,2012.6 L523.9,2010.0 L509.6,2007.4 L496.5,2004.7 L493.0,2002.1 L488.0,1999.4 L487.5,1996.8 L487.3,1994.2 L487.0,1991.5 L486.8,1988.9 L486.8,1986.2 L487.0,1983.6 L487.3,1981.0 L487.6,1978.3 L487.8,1975.7 L487.9,1973.0 L487.9,1970.4 L487.9,1967.8 L487.9,1965.1 L487.7,1962.5 L487.4,1959.8 L487.0,1957.2 L486.7,1954.5 L486.5,1951.9 L486.4,1949.3 L486.4,1946.6 L486.4,1944.0 L486.3,1941.3 L486.2,1938.7 L486.1,1936.1 L486.0,1933.4 L485.9,1930.8 L485.8,1928.1 L485.7,1925.5 L485.7,1922.9 L485.6,1920.2 L485.5,1917.6 L485.5,1914.9 L485.5,1912.3 L485.5,1909.7 L485.5,1907.0 L485.5,1904.4 L485.5,1901.7 L485.5,1899.1 L485.4,1896.4 L485.4,1893.8 L485.4,1891.2 L485.4,1888.5 L485.4,1885.9 L485.3,1883.2 L485.3,1880.6 L485.3,1878.0 L485.3,1875.3 L485.2,1872.7 L485.2,1870.0 L485.2,1867.4 L485.2,1864.8 L485.2,1862.1 L485.2,1859.5 L485.2,1856.8 L485.2,1854.2 Z" fill="#ff0000" stroke="#2a2a2a" stroke-width="1.6" stroke-linejoin="round"/>
<path transform="scale(0.25)" d="M1346 7135h0m72 137h0m41-7h0m30-36h0m34 20h0m14 15h0m-40 40h0m5 35h0m-13 28h0m44-23h0m32 78h0m24 26h0m10-44h0m80 1h0m91 20h0m24 35h0m31-18h0m39-10h0m2 69h0m-29 15h0m-25 7h0m-36-8h0m2 38h0m-2 44h0m62 29h0m25 19h0m24 6h0m3 11h0m-11 25h0m3 16h0m4 45h0m7 18h0m27-16h0m-2-3h0m37-28h0m31 7h0m-20 54h0m34 12h0m6 13h0m-20 26h0m-25-3h0m-9-2h0m-1-6h0m1 13h0m2 6h0m10 28h0m20 9h0m4 23h0m-12 2h0m-21-2h0m-14-31h0m-20-5h0m-2-10h0m-20-16h0m13-15h0m6-16h0m-39 8h0m-23 9h0m-25 0h0m-4-12h0m-5-17h0m-3 1h0m0-3h0m0-3h0m-13-25h0m-1-10h0m-10 16h0m-27-4h0m12-34h0m40 8h0m22 27h0m9 12h0m-60 30h0m4 14h0m-15 12h0m18 39h0m-2 3h0m-13 12h0m-17-8h0m14 32h0m11-3h0m24 27h0m12-12h0m5 10h0m8-10h0m-8 23h0m5 29h0m-29-5h0m-10-26h0m25-59h0m2-6h0m16-20h0m0-14h0m-9-2h0m40 38h0m-9 17h0m19 12h0m26 5h0m11-29h0m-29-30h0m2-2h0m71 80h0m8 3h0m27 31h0m-27 25h0m6 24h0m0 32h0m-2 0h0m-1 0h0m-2 0h0m-5 0h0m-1 0h0m-5 0h0m-2 0h0m-1 0h0m-11 0h0m-2 0h0m-3 0h0m-5 0h0m-4 0h0m-2 0h0m-1 0h0m-4 0h0m-1 0h0m-1 0h0m-4 0h0m-6 0h0m-2 0h0m-3 0h0m-10 0h0m-2 0h0m-1 0h0m-3 0h0m-1 0h0m-12 0h0m-7 0h0m-19 0h0m-1 0h0m-1 0h0m-2 0h0m-3 0h0m-5 0h0m-8 0h0m-1 0h0m-5 0h0m-2 0h0m-1 0h0m-5 0h0m-5 0h0m-1 0h0m-1 0h0m-2 0h0m-3 0h0m-3 0h0m-1 0h0m-1 0h0m-2 0h0m-2 0h0m-4 0h0m-1 0h0m-2 0h0m-4 0h0m-2 0h0m-2 0h0m-8 0h0m-1 0h0m-1 0h0m-4 0h0m-3 0h0m-67 0h0m-1 0h0m-2 0h0m-4 0h0m-1 0h0m-15 0h0m-5 0h0m-3 0h0m-10 0h0m-4 0h0m-2 0h0m-8 0h0m-1 0h0m-4 0h0m-3 0h0m-14 0h0m-3 0h0m-12 0h0m-2 0h0m-2 0h0m-8 0h0m-9 0h0m-3 0h0m-25 0h0m-1 0h0m-3 0h0m-5 0h0m-3 0h0m-5 0h0m-6 0h0m-2 0h0m-2 0h0m-5 0h0m-4 0h0m-8 0h0m-4 0h0m-4 0h0m-1 0h0m-4 0h0m-8 0h0m-2 0h0m-7 0h0m-5 0h0m-1 0h0m-3 0h0m-10 0h0m-3 0h0m-7 0h0m-5 0h0m-2 0h0m-3 0h0m-3 0h0m-8 0h0m-6 0h0m-3 0h0m-6 0h0m-9 0h0m-8 0h0m-5 0h0m-1 0h0m-2 0h0m-2 0h0m-1 0h0m-6 0h0m-3 0h0m-13 0h0m-11 0h0m-1 0h0m-1 0h0m-1 0h0m-6 0h0m-3 0h0m34-28h0m-24-26h0m-4-29h0m36-63h0m41-5h0m48 17h0m28-11h0m17 6h0m21 9h0m6 11h0m-13 4h0m-25 6h0m-27 42h0m-7 2h0m25 15h0m-61 1h0m142-75h0m5-40h0m-27-53h0m-14 7h0m-55-43h0m-30-33h0m18-58h0m-24-43h0m-11-54h0m-48 30h0m-5-9h0m-18 47h0m14 87h0m-15 14h0m17 9h0m11 6h0m-50-19h0m149-148h0m20-1h0m48 11h0m9-1h0m1 65h0m-10 28h0m24 47h0m35 19h0m57-2h0m-9 62h0m21 53h0m7 17h0m-46-4h0m-7 1h0m-24 13h0m-4 10h0m54 34h0m147 26h0m25 41h0m71-33h0m-5-13h0m15-4h0m3 0h0m-17-33h0m-28 3h0m95 85h0m2 0h0m13 0h0m5 0h0m2 0h0m1 0h0m2 0h0m10 0h0m8 0h0m3 0h0m1 0h0m1 0h0m5 0h0m3 0h0m12 0h0m1 0h0m1 0h0m3 0h0m3 0h0m7 0h0m8 0h0m3 0h0m7 0h0m2 0h0m4 0h0m1 0h0m2 0h0m3 0h0m9 3h0m3-3h0m4 0h0m4 0h0m1 0h0m-14-8h0m5-18h0m-10-67h0m-11-25h0m-6-13h0m-11-6h0m-8-7h0m9-14h0m-15-3h0m-11-5h0m-28-6h0m-6 18h0m1 26h0m26-5h0m19 8h0m-10 35h0m50-43h0m-5-12h0m6-2h0m-1-13h0m-3-24h0m-25-58h0m-2-36h0m-2-7h0m9-12h0m18 13h0m14-18h0m-52-11h0m22-64h0m-19-15h0m-13-17h0m0-47h0m0-18h0m0-25h0m2-6h0m-24-20h0m-31-15h0m63 1h0m36 15h0m17-3h0m-2-33h0m-3-4h0m-6-12h0m-48-36h0m9-10h0m-3-6h0m-15-4h0m41-7h0m-133 6h0m-8 15h0m-29 60h0m-18 62h0m13 5h0m18 10h0m0 1h0m-12 57h0m11 48h0m55-12h0m11-7h0m-14-10h0m32-48h0m7-28h0m56 17h0m12-2h0m2-19h0m9-7h0m25 123h0m-263-112h0m-37 110h0m-14 3h0m-5 4h0m-108-27h0m-28 14h0m-16-36h0m-5-62h0m-39-38h0m19-33h0m-49 8h0m-34 33h0m-24-10h0m-68-58h0m-34-73h0m-40-49h0m236-148h0m28 36h0m69-41h0m-18-25h0m-134-61h0m108 603h0" stroke="#000" stroke-width="13.2" stroke-linecap="round" fill="none" />
<line x1="319.9" y1="1761.5" x2="319.9" y2="2025.4" stroke="#000" stroke-width="2" />
<line x1="318.9" y1="2024.4" x2="547.8" y2="2024.4" stroke="#000" stroke-width="2" />
<line x1="313.4" y1="1777.4" x2="319.9" y2="1777.4" stroke="#000" stroke-width="2" />
<text x="308.9" y="1786.5" font-size="25.5" text-anchor="end" >5</text>
<line x1="313.4" y1="1824.4" x2="319.9" y2="1824.4" stroke="#000" stroke-width="2" />
<text x="308.9" y="1833.6" font-size="25.5" text-anchor="end" >4</text>
<line x1="313.4" y1="1871.5" x2="319.9" y2="1871.5" stroke="#000" stroke-width="2" />
<text x="308.9" y="1880.7" font-size="25.5" text-anchor="end" >3</text>
<line x1="313.4" y1="1918.5" x2="319.9" y2="1918.5" stroke="#000" stroke-width="2" />
<text x="308.9" y="1927.7" font-size="25.5" text-anchor="end" >2</text>
<line x1="313.4" y1="1965.6" x2="319.9" y2="1965.6" stroke="#000" stroke-width="2" />
<text x="308.9" y="1974.8" font-size="25.5" text-anchor="end" >1</text>
<line x1="313.4" y1="2012.6" x2="319.9" y2="2012.6" stroke="#000" stroke-width="2" />
<text x="308.9" y="2021.8" font-size="25.5" text-anchor="end" >0</text>
<line x1="381.6" y1="2024.4" x2="381.6" y2="2031.4" stroke="#000" stroke-width="2" />
<text x="377.6" y="2055.7" font-size="26.0" text-anchor="middle" >WT</text>
<line x1="484.6" y1="2024.4" x2="484.6" y2="2031.4" stroke="#000" stroke-width="2" />
<text x="484.9" y="2055.7" font-size="26.0" text-anchor="middle" >KO</text>
<text x="429.4" y="1716.3" font-size="25.7" text-anchor="middle" font-style="italic" >Chi3l3</text>
<text x="438.6" y="1756.0" font-size="25.9" text-anchor="middle" >P = 2.379e-16</text>
<text x="567.0" y="1670.3" font-size="40" text-anchor="start" font-weight="bold" >n</text>
<path d="M692.8,1775.1 L692.7,1779.0 L692.6,1783.0 L692.4,1786.9 L692.2,1790.9 L692.1,1794.8 L692.0,1798.8 L691.3,1802.7 L690.0,1806.7 L688.6,1810.6 L687.6,1814.6 L687.1,1818.5 L684.7,1822.5 L681.6,1826.4 L679.4,1830.4 L678.5,1834.4 L675.9,1838.3 L672.7,1842.3 L670.9,1846.2 L670.2,1850.2 L668.0,1854.1 L665.4,1858.1 L663.1,1862.0 L662.2,1866.0 L661.2,1869.9 L659.2,1873.9 L656.9,1877.8 L655.1,1881.8 L654.6,1885.7 L654.4,1889.7 L653.9,1893.6 L653.5,1897.6 L653.0,1901.5 L652.7,1905.5 L652.8,1909.4 L653.3,1913.4 L654.1,1917.4 L654.5,1921.3 L654.8,1925.3 L655.7,1929.2 L656.8,1933.2 L657.9,1937.1 L658.4,1941.1 L658.7,1945.0 L659.7,1949.0 L660.8,1952.9 L661.8,1956.9 L662.2,1960.8 L662.2,1964.8 L662.2,1968.7 L662.2,1972.7 L662.1,1976.6 L660.7,1980.6 L658.5,1984.5 L656.8,1988.5 L656.0,1992.4 L653.0,1996.4 L650.1,2000.4 L649.1,2004.3 L647.2,2008.3 L648.9,2012.2 L739.7,2012.2 L741.4,2008.3 L739.5,2004.3 L738.5,2000.4 L735.6,1996.4 L732.6,1992.4 L731.8,1988.5 L730.1,1984.5 L727.9,1980.6 L726.5,1976.6 L726.4,1972.7 L726.4,1968.7 L726.4,1964.8 L726.4,1960.8 L726.8,1956.9 L727.8,1952.9 L728.9,1949.0 L729.9,1945.0 L730.2,1941.1 L730.7,1937.1 L731.8,1933.2 L732.9,1929.2 L733.8,1925.3 L734.1,1921.3 L734.5,1917.4 L735.3,1913.4 L735.8,1909.4 L735.9,1905.5 L735.6,1901.5 L735.1,1897.6 L734.7,1893.6 L734.2,1889.7 L734.0,1885.7 L733.5,1881.8 L731.7,1877.8 L729.4,1873.9 L727.4,1869.9 L726.4,1866.0 L725.5,1862.0 L723.2,1858.1 L720.6,1854.1 L718.4,1850.2 L717.7,1846.2 L715.9,1842.3 L712.7,1838.3 L710.1,1834.4 L709.2,1830.4 L707.0,1826.4 L703.9,1822.5 L701.5,1818.5 L701.0,1814.6 L700.0,1810.6 L698.6,1806.7 L697.3,1802.7 L696.6,1798.8 L696.5,1794.8 L696.4,1790.9 L696.2,1786.9 L696.0,1783.0 L695.9,1779.0 L695.8,1775.1 Z" fill="#3c63cf" stroke="#2a2a2a" stroke-width="1.6" stroke-linejoin="round"/>
<path d="M792.6,1782.6 L791.8,1786.5 L790.1,1790.3 L788.1,1794.1 L786.4,1797.9 L785.7,1801.8 L784.4,1805.6 L781.7,1809.4 L779.2,1813.2 L778.2,1817.1 L776.4,1820.9 L773.0,1824.7 L769.9,1828.5 L768.7,1832.4 L766.8,1836.2 L763.4,1840.0 L760.3,1843.9 L759.3,1847.7 L758.4,1851.5 L756.9,1855.3 L755.2,1859.2 L754.0,1863.0 L753.6,1866.8 L753.2,1870.6 L752.5,1874.5 L751.7,1878.3 L751.1,1882.1 L751.0,1885.9 L751.0,1889.8 L751.0,1893.6 L751.0,1897.4 L751.0,1901.2 L751.0,1905.1 L751.5,1908.9 L752.2,1912.7 L753.0,1916.6 L753.5,1920.4 L753.7,1924.2 L754.1,1928.0 L754.9,1931.9 L755.7,1935.7 L756.2,1939.5 L756.3,1943.3 L756.9,1947.2 L757.8,1951.0 L758.6,1954.8 L759.2,1958.6 L759.4,1962.5 L760.0,1966.3 L760.9,1970.1 L761.7,1973.9 L762.2,1977.8 L762.4,1981.6 L762.9,1985.4 L763.5,1989.3 L764.2,1993.1 L764.5,1996.9 L764.6,2000.7 L764.7,2004.6 L764.9,2008.4 L765.0,2012.2 L829.2,2012.2 L829.3,2008.4 L829.5,2004.6 L829.6,2000.7 L829.7,1996.9 L830.0,1993.1 L830.7,1989.3 L831.3,1985.4 L831.8,1981.6 L832.0,1977.8 L832.5,1973.9 L833.3,1970.1 L834.2,1966.3 L834.8,1962.5 L835.0,1958.6 L835.6,1954.8 L836.4,1951.0 L837.3,1947.2 L837.9,1943.3 L838.0,1939.5 L838.5,1935.7 L839.3,1931.9 L840.1,1928.0 L840.5,1924.2 L840.7,1920.4 L841.2,1916.6 L842.0,1912.7 L842.7,1908.9 L843.2,1905.1 L843.2,1901.2 L843.2,1897.4 L843.2,1893.6 L843.2,1889.8 L843.2,1885.9 L843.1,1882.1 L842.5,1878.3 L841.7,1874.5 L841.0,1870.6 L840.6,1866.8 L840.2,1863.0 L839.0,1859.2 L837.3,1855.3 L835.8,1851.5 L834.9,1847.7 L833.9,1843.9 L830.8,1840.0 L827.4,1836.2 L825.5,1832.4 L824.3,1828.5 L821.2,1824.7 L817.8,1820.9 L816.0,1817.1 L815.0,1813.2 L812.5,1809.4 L809.8,1805.6 L808.5,1801.8 L807.8,1797.9 L806.1,1794.1 L804.1,1790.3 L802.4,1786.5 L801.6,1782.6 Z" fill="#ff0000" stroke="#2a2a2a" stroke-width="1.6" stroke-linejoin="round"/>
<path transform="scale(0.25)" d="M2599 7247h0m23 37h0m6-1h0m33 63h0m11 7h0m10 13h0m7-1h0m-12-28h0m40 15h0m14 42h0m-8 23h0m24-1h0m-1 30h0m32 3h0m7-21h0m4-19h0m-8-3h0m-1 2h0m12-14h0m-11-16h0m32-28h0m25 40h0m32-25h0m4 3h0m12 1h0m25 0h0m1 46h0m7 6h0m9-6h0m3 26h0m2 10h0m-27-8h0m-43 30h0m0 46h0m-4 30h0m13 8h0m2-2h0m-12 14h0m2 7h0m3 44h0m11 10h0m1 2h0m24 35h0m20-3h0m2-19h0m17 15h0m14-13h0m65-7h0m7 14h0m6 3h0m4 9h0m0 14h0m-10 12h0m-13 27h0m7 3h0m-12 10h0m8 28h0m-4 2h0m9 18h0m2 8h0m4 16h0m-5 4h0m-15-7h0m0 23h0m3 11h0m27-2h0m14 0h0m17-26h0m21 8h0m20 10h0m-6 10h0m-6 9h0m-22 14h0m5 9h0m-10 3h0m12 21h0m20-4h0m29-2h0m4 14h0m8 2h0m13 19h0m4 10h0m14-13h0m14 5h0m-5 14h0m-4 17h0m1 18h0m-23-22h0m-42 12h0m-22 26h0m33 9h0m15 3h0m0 50h0m3 0h0m16 0h0m1 0h0m9 0h0m14 0h0m1 0h0m3 0h0m11 0h0m31 0h0m5 0h0m7 0h0m4 0h0m13 0h0m18 0h0m8 0h0m16 0h0m3 0h0m2 0h0m8 0h0m3 0h0m1 0h0m14 0h0m4 0h0m7 0h0m4 0h0m4 0h0m8 0h0m-31-54h0m-22-21h0m-7-23h0m-3-1h0m10-20h0m8-18h0m15-7h0m7 7h0m-1 25h0m29-26h0m-9-18h0m-22-13h0m-6 2h0m-12 9h0m-12 0h0m-15 6h0m-18-6h0m-8-25h0m-16-20h0m-3-4h0m15-3h0m-1-5h0m-23-7h0m-24 4h0m-4-1h0m-21 8h0m-18 17h0m25 23h0m16-9h0m21 3h0m7 8h0m0 4h0m16 27h0m16 12h0m1 0h0m8-6h0m-10 24h0m-13 34h0m8 5h0m2 2h0m-37 1h0m4-35h0m-34-46h0m-24-90h0m0-2h0m5-24h0m24 8h0m11-10h0m-12-9h0m11-9h0m18 5h0m4 11h0m15-3h0m-8-15h0m-2-14h0m-1-30h0m11-5h0m-4-13h0m12-5h0m7 7h0m-13-26h0m-10-3h0m-12-7h0m-16 8h0m-2-6h0m-7 21h0m-7 6h0m16-3h0m9 24h0m-39 4h0m-21 15h0m12 14h0m-33 8h0m4 10h0m-30 9h0m-9-12h0m-11 13h0m-15 4h0m-35-10h0m-4 4h0m8-24h0m11-26h0m-5-14h0m-15 8h0m50-22h0m21 12h0m9 5h0m-19 11h0m-1 0h0m17-66h0m-13-7h0m2-16h0m19-1h0m15-28h0m-4-4h0m-7-22h0m10-11h0m5-14h0m-6-8h0m-15-15h0m9-13h0m10-8h0m-21-5h0m-9 7h0m-10-17h0m21-9h0m7 0h0m27-15h0m-5-24h0m16-3h0m5-6h0m15-2h0m5 2h0m3-1h0m17-4h0m5 4h0m3 7h0m6 0h0m2-18h0m-8-2h0m9-11h0m4-16h0m11-12h0m0-8h0m-2-2h0m4-24h0m-9-8h0m-21-7h0m-8 0h0m-12 2h0m-12 5h0m-4 12h0m5 9h0m22-13h0m2 30h0m-38 9h0m-4 15h0m-13 0h0m-1-11h0m-24 16h0m-12 0h0m2-15h0m3-5h0m-13-9h0m2-5h0m-22 36h0m-14 3h0m9 19h0m8 25h0m16-1h0m3 2h0m19-9h0m16-22h0m14-4h0m27-9h0m-6 57h0m29-3h0m8 8h0m13 7h0m-6 8h0m-10 4h0m7 14h0m5 12h0m7 25h0m0 6h0m5 6h0m-6 11h0m17-1h0m-1 7h0m25-1h0m19 3h0m7 8h0m22 10h0m6-7h0m-4-11h0m0-10h0m15 12h0m13 20h0m8 21h0m-21 45h0m1 13h0m7 1h0m-14 22h0m-5-2h0m17 12h0m5 4h0m10-3h0m1-5h0m-4 31h0m-23 35h0m-6 0h0m0-1h0m-15 21h0m-2 1h0m-10-5h0m-4-1h0m-19-7h0m3 24h0m21 6h0m5 22h0m2 7h0m-4 9h0m-5 0h0m-9 5h0m23 1h0m4 2h0m-1 5h0m7-9h0m-5-8h0m6-10h0m7-4h0m1 8h0m4-16h0m17-4h0m11-3h0m-31-15h0m-46 28h0m72 27h0m-50-116h0m1-5h0m-11 1h0m-15 9h0m34-25h0m-17-36h0m3-10h0m-16-4h0m34-3h0m-37-32h0m6-19h0m-27 3h0m-6-17h0m-11 3h0m-10 11h0m-14 8h0m-21-9h0m-10 18h0m-11-26h0m-12 6h0m-11 3h0m2-23h0m20-6h0m0-3h0m-13-17h0m-4-5h0m15-22h0m5-3h0m13 3h0m17 12h0m47-20h0m16 13h0m5 7h0m1-29h0m1-12h0m9 2h0m9-7h0m-5-19h0m-12 2h0m7-25h0m-14-24h0m-10-22h0m-12 10h0m58-24h0m13 27h0m1 4h0m-2 2h0m32 14h0m-25 30h0m5 10h0m9 6h0m-7 24h0m15 19h0m8-143h0m-14-11h0m-12-6h0m-1-28h0m-3-4h0m-2-14h0m0-20h0m-3-31h0m-10-9h0m-5-9h0m1-16h0m4-17h0m-27-14h0m-24-11h0m-10 17h0m-6 22h0m17 2h0m24 13h0m-5 38h0m-21 10h0m-8-3h0m-18 7h0m-19-1h0m9-26h0m23-15h0m-29-36h0m-21-26h0m-23-34h0m12-47h0m69-6h0m31 37h0m4 24h0m26 4h0m18-17h0m4 32h0m13 18h0m-19 39h0m16 23h0m-49 55h0m-20 22h0m-93-87h0m-41 13h0m-3 18h0m10 22h0m-16 2h0m-2 0h0m0 1h0m16 29h0m-46-51h0m18-18h0m-23-24h0m1-24h0m-24-3h0m-7-4h0m-16 17h0m-5 9h0m-3 4h0m-8-3h0m-8-17h0m9-19h0m8 2h0m-5-26h0m12-18h0m9-26h0m-54-4h0m-2 24h0m95 20h0m43 47h0m-66 43h0m1 14h0m-5 5h0m-21-17h0m-5 3h0m-3 23h0m-4 17h0m1 8h0m13 11h0m-26 1h0m-13-6h0m-3 9h0m15 19h0m-15 11h0m10 9h0m-9 8h0m5 22h0m-5 1h0m-9 9h0m27 25h0m10 17h0m18-2h0m9 10h0m2 2h0m-7 15h0m-5 15h0m6 10h0m-6 10h0m-8 6h0m-3 10h0m-15-7h0m0-17h0m2-10h0m0-13h0m-24-5h0m-2 9h0m-8-28h0m-60-2h0m-14 35h0m-6 12h0m9 5h0m-19 16h0m-28-19h0m4-16h0m-61 18h0m-15 17h0m-13 13h0m-23-10h0m-12-7h0m3-21h0m23-1h0m-56 0h0m-11 6h0m-23 0h0m-17 13h0m-22 20h0m-6 34h0m-12 15h0m-8 19h0m-16-16h0m-12-9h0m-11-7h0m29-21h0m-32-40h0m11-58h0m29-4h0m7-29h0m-1-4h0m-18 2h0m-8-3h0m-8 1h0m2-18h0m9-12h0m13-48h0m47 36h0m4 24h0m24 28h0m-2 16h0m-3 2h0m4 15h0m-45 21h0m55 58h0m22-2h0m-24 66h0m-22 2h0m-6 42h0m16 3h0m-9 52h0m-4 33h0m-7 17h0m3 29h0m18 21h0m25 22h0m-19 29h0m-5 11h0m-8-19h0m-4-3h0m-19 9h0m-8-11h0m-35-27h0m9-65h0m10-11h0m4-44h0m1-7h0m-54 21h0m24-77h0m128-24h0m25-2h0m26 6h0m-5 18h0m-12 16h0m21 10h0m6 6h0m-21 9h0m-25-3h0m-20 20h0m25 12h0m3 25h0m-51 1h0m-4 30h0m42 41h0m-3 4h0m52 6h0m16 2h0m10-13h0m-9-12h0m19-16h0m13 6h0m2 3h0m3-4h0m16-7h0m-1-6h0m1-15h0m8-2h0m27 19h0m18 16h0m9-35h0m-31-26h0m0-13h0m-15-5h0m-55 3h0m-3-20h0m-4-40h0m-5-32h0m-30-27h0m34 160h0m58 71h0m19 4h0m14 16h0m-22 12h0m13 31h0m2 20h0m20 4h0m-41-5h0m-100 19h0m-4 7h0m-16-18h0m-5 1h0m-17 14h0m-14 14h0m21 30h0m44-18h0m1 78h0m-5 0h0m-2 0h0m-4 0h0m-1 0h0m-1 0h0m-2 0h0m-4 0h0m-5 0h0m-2 0h0m-1 0h0m-2 0h0m-5 0h0m-1 0h0m-8 0h0m-10 0h0m-1 0h0m-2 0h0m-8 0h0m-5 0h0m-2 0h0m-8 0h0m-7 0h0m-1 0h0m-7 0h0m-2 0h0m-7 0h0m-2 0h0m-4 0h0m-4 0h0m-4 0h0m-14 0h0m-1 0h0m-1 0h0m-1 0h0m-4 0h0m-6 0h0m-4 0h0m-11 0h0m-9 0h0m-7 0h0m-3 0h0m-3 0h0m-1 0h0m-21 0h0m-4 0h0m36-21h0m38-57h0m0-26h0m27-21h0m26-5h0m20-29h0m35-14h0m35 173h0m1 0h0m1 0h0m9 0h0m4 0h0m3 0h0m8 0h0m9 0h0m6 0h0m3 0h0m1 0h0m13 0h0m6 0h0m5 0h0m3 0h0m6 0h0m9 0h0m11 0h0m1 0h0m9 0h0m22 0h0m77 0h0m3 0h0m6 0h0m2 0h0m4 0h0m4 0h0m3 0h0m2 0h0m1 0h0m17 0h0m2 0h0m2 0h0m19 0h0m5 0h0m11 0h0m6 0h0m2 0h0m4 0h0m4 0h0m-32-22h0m-26-64h0m0-10h0m-1-21h0m-23 29h0m-31-20h0m-3-53h0m4-14h0m7 4h0m0-10h0m19 13h0m76-72h0m5-2h0m14 11h0m4 8h0m5-14h0m7-9h0m16-111h0m-3-9h0m81-34h0m8 7h0m0 7h0m-137-70h0m-10-5h0m-35-3h0m-3 7h0m13-32h0m1-1h0m1-8h0m18-19h0m62-2h0m20-19h0m-99 121h0m-61-15h0m-4-38h0m1-30h0m69-204h0m-50-13h0m-24-19h0m1-10h0m-5-15h0m-2 36h0m-114-35h0m-3 9h0m-8-39h0m-76 31h0m-29-25h0m-55 17h0m-16 10h0m-10-31h0m62 71h0m47 90h0m5 20h0m16-280h0m16-58h0m44 43h0m357 54h0m-19 826h0m-611-101h0m-9 6h0" stroke="#000" stroke-width="13.2" stroke-linecap="round" fill="none" />
<line x1="631.9" y1="1763.0" x2="631.9" y2="2025.7" stroke="#000" stroke-width="2" />
<line x1="630.9" y1="2024.7" x2="859.9" y2="2024.7" stroke="#000" stroke-width="2" />
<line x1="625.4" y1="1775.1" x2="631.9" y2="1775.1" stroke="#000" stroke-width="2" />
<text x="620.9" y="1784.2" font-size="25.5" text-anchor="end" >6</text>
<line x1="625.4" y1="1854.5" x2="631.9" y2="1854.5" stroke="#000" stroke-width="2" />
<text x="620.9" y="1863.7" font-size="25.5" text-anchor="end" >4</text>
<line x1="625.4" y1="1933.2" x2="631.9" y2="1933.2" stroke="#000" stroke-width="2" />
<text x="620.9" y="1942.3" font-size="25.5" text-anchor="end" >2</text>
<line x1="625.4" y1="2012.2" x2="631.9" y2="2012.2" stroke="#000" stroke-width="2" />
<text x="620.9" y="2021.4" font-size="25.5" text-anchor="end" >0</text>
<line x1="694.3" y1="2024.7" x2="694.3" y2="2031.7" stroke="#000" stroke-width="2" />
<text x="690.9" y="2055.7" font-size="26.0" text-anchor="middle" >WT</text>
<line x1="797.1" y1="2024.7" x2="797.1" y2="2031.7" stroke="#000" stroke-width="2" />
<text x="796.2" y="2055.7" font-size="26.0" text-anchor="middle" >KO</text>
<text x="738.5" y="1714.6" font-size="25.7" text-anchor="middle" font-style="italic" >Ccl2</text>
<text x="737.8" y="1754.3" font-size="25.9" text-anchor="middle" >P = 7.16e-8</text>
<path d="M967.7,1773.2 L967.7,1777.1 L967.6,1781.1 L967.5,1785.1 L967.3,1789.0 L967.1,1793.0 L966.9,1797.0 L966.8,1800.9 L966.7,1804.9 L966.6,1808.9 L966.1,1812.8 L964.9,1816.8 L963.7,1820.8 L963.2,1824.7 L961.9,1828.7 L959.7,1832.7 L957.7,1836.6 L957.1,1840.6 L955.9,1844.5 L954.2,1848.5 L952.8,1852.5 L952.5,1856.4 L952.0,1860.4 L951.1,1864.4 L950.1,1868.3 L949.3,1872.3 L948.9,1876.3 L948.8,1880.2 L948.8,1884.2 L948.8,1888.2 L948.8,1892.1 L948.8,1896.1 L948.8,1900.1 L948.8,1904.0 L948.7,1908.0 L948.4,1912.0 L948.0,1915.9 L947.8,1919.9 L947.6,1923.8 L947.0,1927.8 L945.9,1931.8 L944.8,1935.7 L944.0,1939.7 L943.7,1943.7 L942.7,1947.6 L941.2,1951.6 L939.8,1955.6 L939.0,1959.5 L938.5,1963.5 L937.0,1967.5 L935.0,1971.4 L933.3,1975.4 L932.6,1979.4 L931.2,1983.3 L928.7,1987.3 L927.6,1991.2 L926.0,1995.2 L923.8,1999.2 L923.0,2003.1 L921.7,2007.1 L923.1,2011.1 L1013.9,2011.1 L1015.3,2007.1 L1014.0,2003.1 L1013.2,1999.2 L1011.0,1995.2 L1009.4,1991.2 L1008.3,1987.3 L1005.8,1983.3 L1004.4,1979.4 L1003.7,1975.4 L1002.0,1971.4 L1000.0,1967.5 L998.5,1963.5 L998.0,1959.5 L997.2,1955.6 L995.8,1951.6 L994.3,1947.6 L993.3,1943.7 L993.0,1939.7 L992.2,1935.7 L991.1,1931.8 L990.0,1927.8 L989.4,1923.8 L989.2,1919.9 L989.0,1915.9 L988.6,1912.0 L988.3,1908.0 L988.2,1904.0 L988.2,1900.1 L988.2,1896.1 L988.2,1892.1 L988.2,1888.2 L988.2,1884.2 L988.2,1880.2 L988.1,1876.3 L987.7,1872.3 L986.9,1868.3 L985.9,1864.4 L985.0,1860.4 L984.5,1856.4 L984.2,1852.5 L982.8,1848.5 L981.1,1844.5 L979.9,1840.6 L979.3,1836.6 L977.3,1832.7 L975.1,1828.7 L973.8,1824.7 L973.3,1820.8 L972.1,1816.8 L970.9,1812.8 L970.4,1808.9 L970.3,1804.9 L970.2,1800.9 L970.1,1797.0 L969.9,1793.0 L969.7,1789.0 L969.5,1785.1 L969.4,1781.1 L969.3,1777.1 L969.3,1773.2 Z" fill="#3c63cf" stroke="#2a2a2a" stroke-width="1.6" stroke-linejoin="round"/>
<path d="M1068.3,1780.7 L1067.8,1784.6 L1066.6,1788.4 L1065.2,1792.3 L1063.9,1796.1 L1063.1,1799.9 L1062.8,1803.8 L1061.6,1807.6 L1059.9,1811.5 L1058.0,1815.3 L1056.4,1819.1 L1055.5,1823.0 L1055.2,1826.8 L1054.5,1830.6 L1053.3,1834.5 L1052.1,1838.3 L1051.1,1842.2 L1050.5,1846.0 L1050.3,1849.8 L1049.5,1853.7 L1048.3,1857.5 L1047.1,1861.4 L1046.1,1865.2 L1045.6,1869.0 L1045.5,1872.9 L1045.2,1876.7 L1044.9,1880.6 L1044.5,1884.4 L1044.2,1888.2 L1044.1,1892.1 L1044.3,1895.9 L1044.8,1899.7 L1045.3,1903.6 L1045.6,1907.4 L1046.2,1911.3 L1047.5,1915.1 L1048.8,1918.9 L1049.4,1922.8 L1049.4,1926.6 L1049.4,1930.5 L1049.4,1934.3 L1048.4,1938.1 L1046.5,1942.0 L1044.7,1945.8 L1044.0,1949.7 L1042.5,1953.5 L1039.7,1957.3 L1037.3,1961.2 L1036.5,1965.0 L1035.1,1968.8 L1032.9,1972.7 L1031.0,1976.5 L1030.4,1980.4 L1029.5,1984.2 L1028.1,1988.0 L1027.0,1991.9 L1026.6,1995.7 L1026.0,1999.6 L1025.3,2003.4 L1025.4,2007.2 L1026.7,2011.1 L1115.9,2011.1 L1117.2,2007.2 L1117.3,2003.4 L1116.6,1999.6 L1116.0,1995.7 L1115.6,1991.9 L1114.5,1988.0 L1113.1,1984.2 L1112.2,1980.4 L1111.6,1976.5 L1109.7,1972.7 L1107.5,1968.8 L1106.1,1965.0 L1105.3,1961.2 L1102.9,1957.3 L1100.1,1953.5 L1098.6,1949.7 L1097.9,1945.8 L1096.1,1942.0 L1094.2,1938.1 L1093.2,1934.3 L1093.2,1930.5 L1093.2,1926.6 L1093.2,1922.8 L1093.8,1918.9 L1095.1,1915.1 L1096.4,1911.3 L1097.0,1907.4 L1097.3,1903.6 L1097.8,1899.7 L1098.3,1895.9 L1098.5,1892.1 L1098.4,1888.2 L1098.1,1884.4 L1097.7,1880.6 L1097.4,1876.7 L1097.1,1872.9 L1097.0,1869.0 L1096.5,1865.2 L1095.5,1861.4 L1094.3,1857.5 L1093.1,1853.7 L1092.3,1849.8 L1092.1,1846.0 L1091.5,1842.2 L1090.5,1838.3 L1089.3,1834.5 L1088.1,1830.6 L1087.4,1826.8 L1087.1,1823.0 L1086.2,1819.1 L1084.6,1815.3 L1082.7,1811.5 L1081.0,1807.6 L1079.8,1803.8 L1079.5,1799.9 L1078.7,1796.1 L1077.4,1792.3 L1076.0,1788.4 L1074.8,1784.6 L1074.3,1780.7 Z" fill="#ff0000" stroke="#2a2a2a" stroke-width="1.6" stroke-linejoin="round"/>
<path transform="scale(0.25)" d="M3701 8044h0m6 0h0m3 0h0m2 0h0m1 0h0m1 0h0m8 0h0m11 0h0m8 0h0m3 0h0m4 0h0m2 0h0m2 0h0m10 0h0m11 0h0m2 0h0m12 0h0m5 0h0m3 0h0m12 0h0m7 0h0m1 0h0m11 0h0m2 0h0m1 0h0m3 0h0m2 0h0m18 0h0m5 0h0m1 0h0m7 0h0m10 0h0m1 0h0m5 0h0m13 0h0m1 0h0m6 0h0m6 0h0m1 0h0m8 0h0m6 0h0m8 0h0m2 0h0m10 0h0m13 0h0m3 0h0m1 0h0m10 0h0m6 0h0m6 0h0m2 0h0m8 0h0m3 0h0m6 0h0m9 0h0m4 0h0m7 0h0m2 0h0m3 0h0m16 0h0m2 0h0m3 0h0m4 0h0m3 0h0m55 0h0m3 0h0m3 0h0m13 0h0m1 0h0m1 0h0m6 0h0m1 0h0m1 0h0m1 0h0m4 0h0m3 0h0m5 0h0m3 0h0m5 0h0m1 0h0m1 0h0m4 0h0m1 0h0m1 0h0m1 0h0m11 0h0m3 0h0m1 0h0m2 0h0m2 0h0m2 0h0m1 0h0m1 0h0m10 0h0m3 0h0m2 0h0m1 0h0m3 0h0m3 0h0m5 0h0m4 0h0m3 0h0m3 0h0m4 0h0m3 0h0m1 0h0m2 0h0m7 0h0m1 0h0m7 0h0m11 0h0m9 0h0m3 0h0m8 0h0m20 0h0m1 0h0m1 0h0m12 0h0m6 0h0m5 0h0m2 0h0m1 0h0m8 0h0m6 0h0m9 0h0m11 0h0m1 0h0m3 0h0m7 0h0m5 0h0m10 0h0m4 0h0m8 0h0m1 0h0m2 0h0m4 0h0m2 0h0m1 0h0m13 0h0m1 0h0m2 0h0m3 0h0m7 0h0m2 0h0m10 0h0m1 0h0m1 0h0m5-88h0m-8-10h0m-8-19h0m-22 15h0m-26-2h0m-5 13h0m-18-11h0m-1-16h0m1-10h0m-10 5h0m-3-23h0m5-1h0m-12-3h0m-3 0h0m-6 9h0m-15-1h0m-14-29h0m15-22h0m-8-10h0m6-14h0m-4-2h0m2-2h0m15 8h0m-2 4h0m20 14h0m1 2h0m4-32h0m12-22h0m-1-3h0m-4-1h0m-9-1h0m-1-7h0m-13-15h0m21-8h0m-10-21h0m-20 7h0m-9 37h0m-18 9h0m-8 3h0m8 12h0m6-4h0m-22 17h0m-7-3h0m8 20h0m-2 9h0m-40-8h0m-2 4h0m-1-8h0m-6-13h0m-17-20h0m17-23h0m-16-12h0m-16-20h0m4-18h0m19 5h0m9-16h0m18-10h0m-14-14h0m-9 3h0m37-13h0m5-5h0m-6-18h0m-3-13h0m5-19h0m17 7h0m9-4h0m17 20h0m11-4h0m19-18h0m10-21h0m13 4h0m18-4h0m10 0h0m-1 7h0m9-1h0m-20 13h0m3 30h0m-30 29h0m-10 13h0m-11-14h0m-22-2h0m-14 0h0m-2-10h0m33-63h0m18-30h0m13-11h0m-5-7h0m12-12h0m5 0h0m18 15h0m5-1h0m4 1h0m11 3h0m0 21h0m27-12h0m9-53h0m2-8h0m-6-12h0m-19 6h0m-12-8h0m-15-9h0m-22-9h0m-10 6h0m-4 7h0m-14-2h0m-32-18h0m3-12h0m6-9h0m7-19h0m5-6h0m-25 3h0m-1-9h0m-15-12h0m-9 6h0m-18 6h0m-2-12h0m2-12h0m6-6h0m-12-5h0m14-13h0m11-9h0m3 12h0m13-8h0m24-10h0m16-34h0m30-8h0m20 7h0m25 23h0m9-13h0m15-25h0m-8-6h0m-7-7h0m10-32h0m17-33h0m-40-10h0m-25 7h0m-20-6h0m-39 27h0m-13-8h0m-20 14h0m-20-10h0m-4-19h0m-2-1h0m-14-11h0m0-1h0m-17-9h0m-21 11h0m-9 6h0m6 5h0m17 1h0m12 53h0m-18 46h0m-26 17h0m-3 3h0m-20-8h0m-11 14h0m-14-5h0m1 17h0m7 15h0m10-3h0m-4 25h0m10 22h0m-1 11h0m-5 3h0m21-3h0m-3 16h0m-25 13h0m-6-7h0m-12-17h0m-9 24h0m1 20h0m-1 12h0m-15 0h0m-7-18h0m-10 3h0m-4 6h0m11-47h0m-1-45h0m26 7h0m1-21h0m53 15h0m15-1h0m1 4h0m23 4h0m15 9h0m9 11h0m-8 7h0m-18 1h0m-13-2h0m24 24h0m-2 31h0m19 8h0m17 4h0m11 25h0m9 7h0m5-6h0m7-23h0m4 1h0m22 43h0m-24 19h0m-13-9h0m-22-13h0m-18-9h0m-9 20h0m-27 23h0m-15-5h0m2 30h0m-4 6h0m-10 11h0m-13 15h0m-4 5h0m9 10h0m-2 4h0m-29-2h0m0 22h0m-11 10h0m-29 13h0m-2 16h0m-3 10h0m4-50h0m-7-7h0m-4-10h0m39-44h0m2-8h0m-11-6h0m-17-17h0m-1-6h0m-6 9h0m-1-44h0m39 16h0m16 10h0m-2-23h0m12-4h0m7-2h0m-6-30h0m32 5h0m13-9h0m-15-11h0m91-50h0m74-5h0m34 30h0m17 6h0m14-34h0m18-3h0m5-4h0m-11-21h0m15-4h0m-39 3h0m-4-4h0m9-30h0m-41 9h0m-5 5h0m-10-6h0m3-97h0m-2-6h0m-28 2h0m0 7h0m-1-20h0m-50-65h0m-40-63h0m-31 6h0m-36-8h0m-11-19h0m-8 59h0m27 12h0m-88 6h0m10 52h0m-5 51h0m32 19h0m22-4h0m-16-19h0m6-9h0m40 22h0m21 68h0m23 7h0m31-40h0m88-195h0m27 12h0m30 13h0m0-37h0m-34-18h0m-346 259h0m-26 6h0m-11-29h0m6-8h0m-65 14h0m-3 10h0m0 24h0m9 10h0m-18 29h0m-5 21h0m-14 39h0m16 23h0m7 7h0m35-29h0m13 6h0m34 4h0m-1 37h0m8 46h0m18 11h0m-30 29h0m-16-3h0m-11-33h0m3-5h0m-19-10h0m-25 42h0m-32-20h0m-26 2h0m-3 22h0m-18-10h0m-13 23h0m12 8h0m-18 7h0m-18-7h0m-14 5h0m8-20h0m-36-22h0m-8 19h0m4 29h0m-35-37h0m-16 11h0m-3-27h0m16-16h0m-24-28h0m35-10h0m44 14h0m3 13h0m21 1h0m28 7h0m24-18h0m-23-16h0m15-31h0m-10-5h0m-12-17h0m-12-4h0m15-12h0m18-8h0m12-7h0m0 16h0m8 46h0m-77-43h0m-3 4h0m-13-45h0m-25-4h0m-28 2h0m9-25h0m-14-28h0m49 10h0m20 1h0m-1 7h0m32 15h0m35-33h0m1-79h0m-15-58h0m77 31h0m-22-139h0m-109-18h0m0 53h0m-40 26h0m-25 21h0m0 74h0m-12 38h0m21 160h0m-37 166h0m6 9h0m13 15h0m19 27h0m-1 35h0m27 33h0m-10 15h0m-8 23h0m-19-14h0m-13-8h0m64 25h0m14-10h0m33-23h0m10 9h0m24-23h0m-15-12h0m-2-21h0m-4-15h0m-9-25h0m6-14h0m26 11h0m6 11h0m14-12h0m16-10h0m-7-10h0m32 21h0m-4 14h0m15-2h0m15 12h0m9 6h0m4-15h0m24 7h0m14 16h0m2 34h0m-1 2h0m-29-7h0m7 56h0m-12 27h0m-16 42h0m12 5h0m-18 7h0m-11 7h0m-20 10h0m47-2h0m1 12h0m29-8h0m8 10h0m23-11h0m11 5h0m-2 27h0m-18 39h0m6-100h0m17-1h0m1-17h0m-8-39h0m-3 0h0m-2-16h0m9 0h0m71 19h0m1 4h0m6 23h0m31 4h0m18-1h0m-4-27h0m-11 4h0m-24-27h0m-10-9h0m11-8h0m13 1h0m15-5h0m-8-11h0m7-12h0m16-7h0m8 10h0m12 12h0m8-13h0m-21 27h0m19 44h0m26 13h0m20 1h0m-35 17h0m-11 14h0m-7-2h0m-14 11h0m-13 10h0m-22 0h0m-24-9h0m-4 12h0m0 26h0m13 29h0m14-12h0m21 27h0m25-17h0m16-12h0m-6-20h0m6-9h0m-6-2h0m-22 12h0m45 5h0m5-12h0m2-11h0m-6-8h0m-7-10h0m51 8h0m4 1h0m15 2h0m-16 20h0m6 5h0m25 5h0m2 5h0m21 20h0m18 29h0m29-25h0m-90-3h0m-26-2h0m-10-8h0m-36 24h0m67-199h0m12 0h0m3-30h0m-21-9h0m-73-15h0m-4 13h0m-3-25h0m38-66h0m-4-28h0m15 0h0m34-13h0m15-13h0m2-9h0m97 5h0m59 52h0m4 2h0m-1 13h0m-4 1h0m17 10h0m-17 28h0m-14-13h0m-14 22h0m-5 14h0m-5 10h0m-5-16h0m-27-12h0m37 45h0m0 9h0m2 27h0m-13 9h0m-4-12h0m1 32h0m23 11h0m-11 18h0m-14 3h0m36 17h0m14-14h0m19-10h0m-2-4h0m1-33h0m-7-15h0m-7-17h0m-18 14h0m1 4h0m12-68h0m22 187h0m-349-120h0m-110 106h0m-101 74h0m-51-13h0m-27 12h0m-11 16h0m-19-50h0m23-13h0m0-18h0m-22 3h0m0-10h0m-5-37h0m18-2h0m33-17h0m36-21h0m10 0h0m-2-12h0m7-24h0m-10-16h0m24-7h0m8-11h0m-10-8h0m8 41h0m2 3h0m17-127h0m107-180h0m132 117h0m4 2h0m-410 320h0m-26-29h0m-11-2h0m-1 17h0m36 58h0m-52 9h0" stroke="#000" stroke-width="13.2" stroke-linecap="round" fill="none" />
<line x1="906.4" y1="1763.0" x2="906.4" y2="2025.7" stroke="#000" stroke-width="2" />
<line x1="905.4" y1="2024.7" x2="1134.9" y2="2024.7" stroke="#000" stroke-width="2" />
<line x1="899.9" y1="1771.3" x2="906.4" y2="1771.3" stroke="#000" stroke-width="2" />
<text x="895.4" y="1780.5" font-size="25.5" text-anchor="end" >6</text>
<line x1="899.9" y1="1851.5" x2="906.4" y2="1851.5" stroke="#000" stroke-width="2" />
<text x="895.4" y="1860.6" font-size="25.5" text-anchor="end" >4</text>
<line x1="899.9" y1="1931.3" x2="906.4" y2="1931.3" stroke="#000" stroke-width="2" />
<text x="895.4" y="1940.5" font-size="25.5" text-anchor="end" >2</text>
<line x1="899.9" y1="2011.1" x2="906.4" y2="2011.1" stroke="#000" stroke-width="2" />
<text x="895.4" y="2020.3" font-size="25.5" text-anchor="end" >0</text>
<line x1="968.5" y1="2024.7" x2="968.5" y2="2031.7" stroke="#000" stroke-width="2" />
<text x="965.1" y="2055.7" font-size="26.0" text-anchor="middle" >WT</text>
<line x1="1071.3" y1="2024.7" x2="1071.3" y2="2031.7" stroke="#000" stroke-width="2" />
<text x="1073.0" y="2055.7" font-size="26.0" text-anchor="middle" >KO</text>
<text x="1011.2" y="1714.6" font-size="25.7" text-anchor="middle" font-style="italic" >Ccl7</text>
<text x="1012.0" y="1754.3" font-size="25.9" text-anchor="middle" >P = 2.239e-9</text>
<path d="M1239.2,1773.2 L1239.2,1777.1 L1239.0,1781.1 L1238.7,1785.1 L1238.3,1789.0 L1237.9,1793.0 L1237.6,1797.0 L1237.3,1800.9 L1237.1,1804.9 L1237.0,1808.9 L1236.7,1812.8 L1236.0,1816.8 L1235.0,1820.8 L1234.1,1824.7 L1233.4,1828.7 L1233.2,1832.7 L1232.8,1836.6 L1231.9,1840.6 L1231.0,1844.5 L1230.1,1848.5 L1229.5,1852.5 L1229.4,1856.4 L1229.1,1860.4 L1228.7,1864.4 L1228.1,1868.3 L1227.5,1872.3 L1227.0,1876.3 L1226.6,1880.2 L1226.4,1884.2 L1226.3,1888.2 L1226.2,1892.1 L1225.9,1896.1 L1225.6,1900.1 L1225.2,1904.0 L1224.9,1908.0 L1224.6,1912.0 L1224.3,1915.9 L1224.1,1919.9 L1224.1,1923.8 L1224.0,1927.8 L1223.8,1931.8 L1223.5,1935.7 L1223.1,1939.7 L1222.8,1943.7 L1222.4,1947.6 L1222.2,1951.6 L1221.9,1955.6 L1221.8,1959.5 L1221.5,1963.5 L1220.4,1967.5 L1219.0,1971.4 L1217.8,1975.4 L1217.3,1979.4 L1214.6,1983.3 L1209.9,1987.3 L1207.8,1991.2 L1204.2,1995.2 L1199.2,1999.2 L1197.3,2003.1 L1193.9,2007.1 L1194.6,2011.1 L1285.4,2011.1 L1286.1,2007.1 L1282.7,2003.1 L1280.8,1999.2 L1275.8,1995.2 L1272.2,1991.2 L1270.1,1987.3 L1265.4,1983.3 L1262.7,1979.4 L1262.2,1975.4 L1261.0,1971.4 L1259.6,1967.5 L1258.5,1963.5 L1258.2,1959.5 L1258.1,1955.6 L1257.8,1951.6 L1257.6,1947.6 L1257.2,1943.7 L1256.9,1939.7 L1256.5,1935.7 L1256.2,1931.8 L1256.0,1927.8 L1255.9,1923.8 L1255.9,1919.9 L1255.7,1915.9 L1255.4,1912.0 L1255.1,1908.0 L1254.8,1904.0 L1254.4,1900.1 L1254.1,1896.1 L1253.8,1892.1 L1253.7,1888.2 L1253.6,1884.2 L1253.4,1880.2 L1253.0,1876.3 L1252.5,1872.3 L1251.9,1868.3 L1251.3,1864.4 L1250.9,1860.4 L1250.6,1856.4 L1250.5,1852.5 L1249.9,1848.5 L1249.0,1844.5 L1248.1,1840.6 L1247.2,1836.6 L1246.8,1832.7 L1246.6,1828.7 L1245.9,1824.7 L1245.0,1820.8 L1244.0,1816.8 L1243.3,1812.8 L1243.0,1808.9 L1242.9,1804.9 L1242.7,1800.9 L1242.4,1797.0 L1242.1,1793.0 L1241.7,1789.0 L1241.3,1785.1 L1241.0,1781.1 L1240.8,1777.1 L1240.8,1773.2 Z" fill="#3c63cf" stroke="#2a2a2a" stroke-width="1.6" stroke-linejoin="round"/>
<path d="M1342.4,1778.9 L1342.2,1782.7 L1341.7,1786.6 L1341.0,1790.5 L1340.2,1794.3 L1339.4,1798.2 L1338.8,1802.1 L1338.3,1805.9 L1338.2,1809.8 L1337.6,1813.7 L1336.3,1817.6 L1334.8,1821.4 L1333.4,1825.3 L1332.4,1829.2 L1332.1,1833.0 L1331.6,1836.9 L1330.6,1840.8 L1329.4,1844.6 L1328.4,1848.5 L1327.7,1852.4 L1327.6,1856.3 L1327.1,1860.1 L1326.2,1864.0 L1325.1,1867.9 L1324.0,1871.7 L1322.9,1875.6 L1322.1,1879.5 L1321.6,1883.4 L1321.4,1887.2 L1320.6,1891.1 L1319.3,1895.0 L1318.0,1898.8 L1316.9,1902.7 L1316.3,1906.6 L1316.0,1910.4 L1315.2,1914.3 L1314.0,1918.2 L1312.8,1922.1 L1311.8,1925.9 L1311.4,1929.8 L1311.1,1933.7 L1310.5,1937.5 L1309.7,1941.4 L1309.0,1945.3 L1308.7,1949.1 L1309.5,1953.0 L1310.7,1956.9 L1311.4,1960.8 L1313.4,1964.6 L1316.5,1968.5 L1317.7,1972.4 L1316.2,1976.2 L1314.0,1980.1 L1313.1,1984.0 L1309.6,1987.9 L1305.1,1991.7 L1303.4,1995.6 L1299.6,1999.5 L1298.0,2003.3 L1296.7,2007.2 L1298.1,2011.1 L1388.9,2011.1 L1390.3,2007.2 L1389.0,2003.3 L1387.4,1999.5 L1383.6,1995.6 L1381.9,1991.7 L1377.4,1987.9 L1373.9,1984.0 L1373.0,1980.1 L1370.8,1976.2 L1369.3,1972.4 L1370.5,1968.5 L1373.6,1964.6 L1375.6,1960.8 L1376.3,1956.9 L1377.5,1953.0 L1378.3,1949.1 L1378.0,1945.3 L1377.3,1941.4 L1376.5,1937.5 L1375.9,1933.7 L1375.6,1929.8 L1375.2,1925.9 L1374.2,1922.1 L1373.0,1918.2 L1371.8,1914.3 L1371.0,1910.4 L1370.7,1906.6 L1370.1,1902.7 L1369.0,1898.8 L1367.7,1895.0 L1366.4,1891.1 L1365.6,1887.2 L1365.4,1883.4 L1364.9,1879.5 L1364.1,1875.6 L1363.0,1871.7 L1361.9,1867.9 L1360.8,1864.0 L1359.9,1860.1 L1359.4,1856.3 L1359.3,1852.4 L1358.6,1848.5 L1357.6,1844.6 L1356.4,1840.8 L1355.4,1836.9 L1354.9,1833.0 L1354.6,1829.2 L1353.6,1825.3 L1352.2,1821.4 L1350.7,1817.6 L1349.4,1813.7 L1348.8,1809.8 L1348.7,1805.9 L1348.2,1802.1 L1347.6,1798.2 L1346.8,1794.3 L1346.0,1790.5 L1345.3,1786.6 L1344.8,1782.7 L1344.6,1778.9 Z" fill="#ff0000" stroke="#2a2a2a" stroke-width="1.6" stroke-linejoin="round"/>
<path transform="scale(0.25)" d="M4780 7357h0m9 35h0m14 9h0m6-3h0m19-15h0m19 3h0m33-36h0m-44-22h0m-49-8h0m4-14h0m105-28h0m60 63h0m11 34h0m-46 10h0m-28 65h0m-13 22h0m-3 12h0m-56 11h0m-7 5h0m8 5h0m-22 45h0m1 2h0m7 3h0m-9 50h0m-1 36h0m-12 24h0m32 6h0m-24 27h0m28 17h0m-8 23h0m43 0h0m27 2h0m11 11h0m-4 14h0m-20 5h0m27 16h0m16-10h0m24-32h0m19 4h0m10-13h0m13-1h0m-27-35h0m-24-38h0m-3-3h0m-18 31h0m-43-15h0m-20-76h0m14-26h0m53 20h0m11-59h0m44-4h0m11 1h0m3-9h0m31-7h0m13-17h0m27-32h0m29 12h0m14-25h0m7-6h0m24 21h0m12 18h0m59-9h0m2-23h0m16 3h0m38 22h0m17 6h0m-1 6h0m-33 12h0m-7 2h0m-31 2h0m8 56h0m-2 11h0m13 4h0m35 0h0m19 15h0m8-11h0m6 2h0m1 16h0m9 11h0m-35 14h0m-7-3h0m1-16h0m-21 12h0m-18 12h0m-6-8h0m8 22h0m-18 1h0m22 24h0m-2 36h0m3 27h0m10 3h0m3 22h0m-3 6h0m-2 11h0m-7-3h0m-8 4h0m-7 1h0m-4-9h0m20 24h0m38-5h0m5 24h0m-13 7h0m18 8h0m3 0h0m16 17h0m-5 21h0m12 24h0m-14 14h0m-7 6h0m12 12h0m-2 13h0m20-11h0m11-15h0m14-12h0m7 18h0m-2 3h0m0 20h0m-1 3h0m26-12h0m0-6h0m14-12h0m0-15h0m18 6h0m3-8h0m-6 18h0m29 2h0m12 21h0m-16 11h0m-1 7h0m-18-1h0m-24-11h0m-4 47h0m37-1h0m5 61h0m3 0h0m2 0h0m4 0h0m4 0h0m3 0h0m3 0h0m1 0h0m4 0h0m6 0h0m1 0h0m6 0h0m11 0h0m6 0h0m3 0h0m6 0h0m6 0h0m1 0h0m1 0h0m15 0h0m1 0h0m5 0h0m2 0h0m2 0h0m18 0h0m1 0h0m1 0h0m6 0h0m5 0h0m3 0h0m8 0h0m3 0h0m1 0h0m-26-78h0m-18-6h0m2-5h0m-4 10h0m13-34h0m11-21h0m16-6h0m7 1h0m-1 30h0m-35-37h0m-6-6h0m4-10h0m5-8h0m8 13h0m-23-16h0m15-14h0m1-24h0m14 1h0m-2-16h0m14 0h0m-25-43h0m27-9h0m-54-10h0m1-17h0m-5-16h0m-22-1h0m-7 18h0m-5 4h0m-2-5h0m7 30h0m-2 1h0m-25 16h0m-13-10h0m-10-2h0m-5 4h0m-15-2h0m-2-7h0m-7-10h0m16-8h0m-4-10h0m16-2h0m-26-13h0m-19-11h0m-3-6h0m-14-9h0m-8 13h0m-17-10h0m-6-24h0m11-16h0m4 0h0m0-8h0m1-1h0m-11 5h0m-12 1h0m-28-2h0m-28 22h0m2 5h0m3 22h0m23 11h0m11-2h0m-4 13h0m-2 2h0m15-3h0m4 8h0m7-3h0m-5 22h0m-19 3h0m-5-2h0m6 16h0m16 25h0m-10 16h0m38-6h0m12-2h0m8-9h0m-1-12h0m-17-6h0m15-16h0m6-9h0m9-6h0m-23-4h0m39-43h0m5-6h0m-12-17h0m-22-17h0m-10-14h0m-1-16h0m17 13h0m19-6h0m-12-26h0m-7 1h0m11-28h0m18-20h0m13 21h0m-5 17h0m29 14h0m9-4h0m0 13h0m10 18h0m-2 17h0m-25 1h0m-6 22h0m4 3h0m-7 13h0m15 10h0m52-37h0m12-3h0m13-10h0m-26-21h0m-4-29h0m0-21h0m-5-11h0m-29 11h0m2-48h0m18 0h0m-11-23h0m-12-2h0m-13 3h0m32-32h0m4-5h0m-9-14h0m-11-2h0m2-7h0m-2-19h0m-23 6h0m-9 18h0m-10 4h0m-19-12h0m-8 19h0m8 9h0m-13 12h0m2 2h0m-15-4h0m-23 4h0m-4 1h0m-12-30h0m16-14h0m16-14h0m16-1h0m5-13h0m11-12h0m-26 3h0m-10-40h0m46 1h0m-3-25h0m-15-23h0m-9-18h0m-20 12h0m-36-3h0m-1 13h0m-12-4h0m-1 9h0m-15 17h0m-12-19h0m-8 0h0m13-14h0m5 63h0m17 1h0m5-4h0m-44 22h0m-23 5h0m0-16h0m-18-41h0m-9 1h0m-69 66h0m-24-41h0m-3-8h0m-47 58h0m-83 23h0m8 22h0m-34-9h0m80 104h0m7-3h0m-5 21h0m34 18h0m-1 10h0m10 31h0m14 16h0m14 4h0m8-6h0m5 1h0m2 58h0m-35 3h0m42 41h0m15 3h0m57-44h0m5 5h0m11 108h0m-3 11h0m-2 6h0m-1 2h0m-3 11h0m-8 11h0m23 16h0m-9 9h0m28 6h0m2 16h0m4 6h0m10-5h0m-21 8h0m-2 1h0m-1 18h0m-5 9h0m-6 9h0m-2-1h0m23-8h0m18-69h0m0-9h0m-5-12h0m-2-12h0m-8-4h0m16-3h0m4-2h0m-32-16h0m-6 10h0m-5 3h0m-97 7h0m-17 5h0m1-15h0m-2-11h0m0-1h0m-33 26h0m-21 20h0m28 19h0m-19 21h0m-18 12h0m-2-3h0m-9 2h0m-15-20h0m0-19h0m-18-5h0m-13 27h0m-5 19h0m-21-10h0m-18 12h0m-22-2h0m-21-30h0m-10-8h0m-5 1h0m-19 7h0m-16-3h0m-2-18h0m18-9h0m22-26h0m-37-9h0m-41 33h0m21 27h0m-28 11h0m5 21h0m29 7h0m-5 28h0m-4 21h0m-40 1h0m0 60h0m-1 0h0m8 0h0m4 0h0m11 0h0m5 0h0m7 0h0m1 0h0m6 0h0m4 0h0m3 0h0m12 0h0m2 0h0m9 0h0m2 0h0m3 0h0m1 0h0m1 0h0m7 0h0m15 0h0m1 0h0m1 0h0m6 0h0m13 0h0m3 0h0m10 0h0m15 0h0m4 0h0m4 0h0m10 0h0m6 0h0m4 0h0m1 0h0m6 0h0m6 0h0m9 0h0m4 0h0m11 0h0m2 0h0m1 0h0m2 0h0m2 0h0m2 0h0m2 0h0m11 0h0m3 0h0m1 0h0m6 0h0m6 0h0m10 0h0m7 0h0m3 0h0m1 0h0m5 0h0m4 0h0m2 0h0m2 0h0m7 0h0m1 0h0m28 0h0m5 0h0m1 0h0m9 0h0m5 0h0m6 0h0m3 0h0m60 0h0m3 0h0m9 0h0m3 0h0m8 0h0m1 0h0m2 0h0m4 0h0m11 0h0m3 0h0m3 0h0m8 0h0m1 0h0m1 0h0m9 0h0m4 0h0m3 0h0m1 0h0m3 0h0m2 0h0m2 0h0m4 0h0m1 0h0m4 0h0m1 0h0m8 0h0m4 0h0m8 0h0m6 0h0m2 0h0m3 0h0m1 0h0m5 0h0m5 0h0m2 0h0m9 0h0m1 0h0m3 0h0m1 0h0m2 0h0m2 0h0m6 0h0m31 0h0m1 0h0m3 0h0m9 0h0m73-22h0m-9-130h0m8-10h0m-18-4h0m6-10h0m6-5h0m16-4h0m4-14h0m-4-3h0m6-16h0m-26-10h0m2-13h0m-32 2h0m13 24h0m0 3h0m-5 4h0m7 7h0m2 17h0m-11 30h0m-43-26h0m-24-31h0m-25 8h0m-17 30h0m-7-1h0m61-61h0m3-3h0m-12-10h0m42 32h0m75-46h0m28-73h0m-12-4h0m19-20h0m17 0h0m1-6h0m11-3h0m-15-38h0m-2-9h0m-19 0h0m33-21h0m2-13h0m-41-30h0m-5 7h0m-4-12h0m-14-11h0m12-35h0m-11-20h0m15-10h0m9-3h0m1-19h0m5-23h0m31 9h0m0 48h0m-2 11h0m-56-103h0m-11-33h0m-28 42h0m-38-8h0m-7 4h0m-21-120h0m26-11h0m18-6h0m-66-2h0m-26 4h0m0-30h0m-38 22h0m-30-10h0m-20-62h0m25-5h0m-76 31h0m-106 33h0m-76 90h0m-94-153h0m-60-29h0m-78-42h0m13 312h0m168 188h0m172-11h0m129-58h0m19 10h0m22 0h0m-6-17h0m37-16h0m-4 55h0m1 1h0m-12 1h0m22 98h0m63-44h0m-122-190h0m243-99h0m-7-21h0m3-28h0m1-18h0m-23-11h0m32-23h0m2-29h0m-18-27h0m-120-14h0m-21 7h0m-28-27h0m-6-47h0m202 275h0m-505 408h0m-31 8h0m-19 6h0m-47 6h0m0 8h0m-6 33h0m85-10h0m-21 80h0m11 44h0m34 13h0m30 19h0m-29 25h0m-46-12h0m-53-55h0m1-9h0m-58 27h0m-26-34h0m49 75h0m150-81h0m28 3h0m-1-15h0m20-46h0m3 106h0" stroke="#000" stroke-width="13.2" stroke-linecap="round" fill="none" />
<line x1="1178.4" y1="1763.0" x2="1178.4" y2="2025.7" stroke="#000" stroke-width="2" />
<line x1="1177.4" y1="2024.7" x2="1405.9" y2="2024.7" stroke="#000" stroke-width="2" />
<line x1="1171.9" y1="1837.5" x2="1178.4" y2="1837.5" stroke="#000" stroke-width="2" />
<text x="1167.4" y="1846.7" font-size="25.5" text-anchor="end" >2</text>
<line x1="1171.9" y1="1923.7" x2="1178.4" y2="1923.7" stroke="#000" stroke-width="2" />
<text x="1167.4" y="1932.9" font-size="25.5" text-anchor="end" >1</text>
<line x1="1171.9" y1="2011.1" x2="1178.4" y2="2011.1" stroke="#000" stroke-width="2" />
<text x="1167.4" y="2020.3" font-size="25.5" text-anchor="end" >0</text>
<line x1="1240.0" y1="2024.7" x2="1240.0" y2="2031.7" stroke="#000" stroke-width="2" />
<text x="1239.8" y="2055.7" font-size="26.0" text-anchor="middle" >WT</text>
<line x1="1343.5" y1="2024.7" x2="1343.5" y2="2031.7" stroke="#000" stroke-width="2" />
<text x="1346.2" y="2055.7" font-size="26.0" text-anchor="middle" >KO</text>
<text x="1283.0" y="1714.6" font-size="25.7" text-anchor="middle" font-style="italic" >Cd86</text>
<text x="1286.8" y="1754.3" font-size="25.9" text-anchor="middle" >P = 3.512e-2</text>
<path d="M1509.9,1779.6 L1509.5,1783.4 L1508.5,1787.3 L1507.3,1791.1 L1506.1,1794.9 L1505.2,1798.8 L1505.0,1802.6 L1504.2,1806.4 L1502.9,1810.3 L1501.3,1814.1 L1499.8,1817.9 L1498.8,1821.8 L1498.5,1825.6 L1497.9,1829.4 L1496.9,1833.3 L1495.6,1837.1 L1494.5,1840.9 L1493.8,1844.8 L1493.6,1848.6 L1493.3,1852.4 L1492.8,1856.3 L1492.1,1860.1 L1491.4,1863.9 L1490.8,1867.8 L1490.2,1871.6 L1489.9,1875.4 L1489.8,1879.3 L1489.2,1883.1 L1488.4,1886.9 L1487.4,1890.8 L1486.6,1894.6 L1486.1,1898.4 L1485.9,1902.2 L1484.9,1906.1 L1483.4,1909.9 L1481.8,1913.7 L1480.5,1917.6 L1479.7,1921.4 L1479.3,1925.2 L1477.6,1929.1 L1475.4,1932.9 L1473.3,1936.7 L1472.2,1940.6 L1471.9,1944.4 L1471.0,1948.2 L1469.9,1952.1 L1468.9,1955.9 L1468.3,1959.7 L1468.6,1963.6 L1469.5,1967.4 L1470.5,1971.2 L1471.0,1975.1 L1471.8,1978.9 L1474.1,1982.7 L1476.6,1986.6 L1477.8,1990.4 L1479.1,1994.2 L1481.9,1998.1 L1483.5,2001.9 L1485.3,2005.7 L1487.2,2009.6 L1544.0,2009.6 L1545.9,2005.7 L1547.7,2001.9 L1549.3,1998.1 L1552.1,1994.2 L1553.4,1990.4 L1554.6,1986.6 L1557.1,1982.7 L1559.4,1978.9 L1560.2,1975.1 L1560.7,1971.2 L1561.7,1967.4 L1562.6,1963.6 L1562.9,1959.7 L1562.3,1955.9 L1561.3,1952.1 L1560.2,1948.2 L1559.3,1944.4 L1559.0,1940.6 L1557.9,1936.7 L1555.8,1932.9 L1553.6,1929.1 L1551.9,1925.2 L1551.5,1921.4 L1550.7,1917.6 L1549.4,1913.7 L1547.8,1909.9 L1546.3,1906.1 L1545.3,1902.2 L1545.1,1898.4 L1544.6,1894.6 L1543.8,1890.8 L1542.8,1886.9 L1542.0,1883.1 L1541.4,1879.3 L1541.3,1875.4 L1541.0,1871.6 L1540.4,1867.8 L1539.8,1863.9 L1539.1,1860.1 L1538.4,1856.3 L1537.9,1852.4 L1537.6,1848.6 L1537.4,1844.8 L1536.7,1840.9 L1535.6,1837.1 L1534.3,1833.3 L1533.3,1829.4 L1532.7,1825.6 L1532.4,1821.8 L1531.4,1817.9 L1529.9,1814.1 L1528.3,1810.3 L1527.0,1806.4 L1526.2,1802.6 L1526.0,1798.8 L1525.1,1794.9 L1523.9,1791.1 L1522.7,1787.3 L1521.7,1783.4 L1521.3,1779.6 Z" fill="#3c63cf" stroke="#2a2a2a" stroke-width="1.6" stroke-linejoin="round"/>
<path d="M1613.6,1772.4 L1612.5,1776.4 L1610.0,1780.3 L1607.2,1784.3 L1605.2,1788.2 L1604.6,1792.2 L1602.1,1796.1 L1598.5,1800.1 L1595.0,1804.0 L1592.9,1808.0 L1592.1,1811.9 L1589.5,1815.9 L1586.0,1819.8 L1582.9,1823.8 L1581.5,1827.8 L1580.7,1831.7 L1578.8,1835.7 L1576.4,1839.6 L1574.5,1843.6 L1573.9,1847.5 L1573.5,1851.5 L1572.8,1855.4 L1572.2,1859.4 L1572.1,1863.3 L1573.1,1867.3 L1574.5,1871.2 L1575.6,1875.2 L1576.1,1879.1 L1578.0,1883.1 L1580.4,1887.0 L1582.1,1891.0 L1582.6,1894.9 L1584.2,1898.9 L1586.1,1902.8 L1587.1,1906.8 L1587.3,1910.8 L1587.6,1914.7 L1588.1,1918.7 L1588.6,1922.6 L1588.9,1926.6 L1589.0,1930.5 L1588.8,1934.5 L1588.1,1938.4 L1587.4,1942.4 L1586.6,1946.3 L1586.1,1950.3 L1586.0,1954.2 L1586.0,1958.2 L1586.0,1962.1 L1586.0,1966.1 L1586.0,1970.0 L1586.0,1974.0 L1586.1,1977.9 L1586.7,1981.9 L1587.7,1985.8 L1588.6,1989.8 L1589.4,1993.8 L1589.8,1997.7 L1590.3,2001.7 L1591.4,2005.6 L1592.1,2009.6 L1646.5,2009.6 L1647.2,2005.6 L1648.3,2001.7 L1648.8,1997.7 L1649.2,1993.8 L1650.0,1989.8 L1650.9,1985.8 L1651.9,1981.9 L1652.5,1977.9 L1652.6,1974.0 L1652.6,1970.0 L1652.6,1966.1 L1652.6,1962.1 L1652.6,1958.2 L1652.6,1954.2 L1652.5,1950.3 L1652.0,1946.3 L1651.2,1942.4 L1650.5,1938.4 L1649.8,1934.5 L1649.6,1930.5 L1649.7,1926.6 L1650.0,1922.6 L1650.5,1918.7 L1651.0,1914.7 L1651.3,1910.8 L1651.5,1906.8 L1652.5,1902.8 L1654.4,1898.9 L1656.0,1894.9 L1656.5,1891.0 L1658.2,1887.0 L1660.6,1883.1 L1662.5,1879.1 L1663.0,1875.2 L1664.1,1871.2 L1665.5,1867.3 L1666.5,1863.3 L1666.4,1859.4 L1665.8,1855.4 L1665.1,1851.5 L1664.7,1847.5 L1664.1,1843.6 L1662.2,1839.6 L1659.8,1835.7 L1657.9,1831.7 L1657.1,1827.8 L1655.7,1823.8 L1652.6,1819.8 L1649.1,1815.9 L1646.5,1811.9 L1645.7,1808.0 L1643.6,1804.0 L1640.1,1800.1 L1636.5,1796.1 L1634.0,1792.2 L1633.4,1788.2 L1631.4,1784.3 L1628.6,1780.3 L1626.1,1776.4 L1625.0,1772.4 Z" fill="#ff0000" stroke="#2a2a2a" stroke-width="1.6" stroke-linejoin="round"/>
<path transform="scale(0.25)" d="M5886 7761h0m32 24h0m34-9h0m14-25h0m-1-14h0m-13-4h0m-9-7h0m-3-24h0m12-28h0m-8-25h0m1-11h0m5-2h0m22 14h0m6 17h0m13 1h0m14 14h0m-6 20h0m-7 29h0m10 6h0m28 14h0m8 4h0m-12-40h0m31-39h0m14 4h0m19-14h0m-15-14h0m12-24h0m-1-15h0m25 10h0m-5 9h0m20 12h0m13 18h0m8 1h0m-7 20h0m34-2h0m-4 39h0m-4 3h0m9 25h0m35-2h0m6 24h0m1 3h0m-2 11h0m-24 39h0m-12 24h0m-36 12h0m-11-24h0m18-17h0m-26-28h0m-6-16h0m-9-4h0m-1 12h0m-25 13h0m21 22h0m-23 10h0m-45-2h0m-3-17h0m-36-1h0m-15-16h0m-2-4h0m9-7h0m-21 36h0m0 21h0m5 9h0m-26-7h0m-23-8h0m-28 6h0m22 22h0m-13 10h0m-10 23h0m9 3h0m-13 23h0m29 15h0m2-1h0m9-28h0m22-7h0m-3 21h0m24 22h0m1-44h0m-29-23h0m-4-7h0m61-1h0m12 1h0m11 6h0m6 5h0m13-5h0m-28 28h0m11 36h0m38-9h0m9 16h0m53-30h0m16-15h0m-5-7h0m3 42h0m18 0h0m21-7h0m6 26h0m33-29h0m15-21h0m68 19h0m16-17h0m1-8h0m16-9h0m8-18h0m-14-2h0m-11-6h0m1-4h0m23-5h0m-1-18h0m26-5h0m11-8h0m5-5h0m3 26h0m18-3h0m8 5h0m-10 10h0m-4 7h0m-19 12h0m-10-22h0m0 51h0m-9 27h0m25-2h0m41-5h0m14 10h0m-1-23h0m8-13h0m17 2h0m-4 10h0m6 7h0m-6 3h0m18-13h0m6 5h0m-11-25h0m2-10h0m16-23h0m5-10h0m14-6h0m1 0h0m-1-18h0m12-13h0m17-6h0m21 6h0m8 4h0m-5 7h0m2 6h0m6 15h0m-20-3h0m-18-1h0m19 28h0m27 12h0m-7 10h0m12 4h0m16 4h0m1 6h0m4 2h0m8-10h0m3 20h0m23 5h0m-8 20h0m-23 1h0m-30-12h0m-8-9h0m-22 9h0m-21 12h0m-13 19h0m26 26h0m31-2h0m11-16h0m26 9h0m-6 67h0m-4 0h0m-10 0h0m-10 0h0m-7 0h0m-26 0h0m-2 0h0m-5 0h0m-18 0h0m-4 0h0m-13 0h0m-25 0h0m-26 0h0m-2 0h0m-16 0h0m-8 0h0m-21 0h0m-1 0h0m-1 0h0m-11 0h0m-8 0h0m-1 0h0m-10 0h0m-4 0h0m-1 0h0m-3 0h0m-15 0h0m-2 0h0m-2 0h0m-8 0h0m-7 0h0m-3 0h0m-1 0h0m-18 0h0m-12 0h0m-60 0h0m-20 0h0m-8 0h0m-2 0h0m-15 0h0m-1 0h0m-7 0h0m-8 0h0m-4 0h0m-2 0h0m-1 0h0m-1 0h0m-2-16h0m-15 16h0m-14 0h0m-28 0h0m-20 0h0m-1 0h0m-3 0h0m-89 0h0m-3 0h0m-4 0h0m-9 0h0m-1 0h0m-11 0h0m-22 0h0m-8 0h0m-4 0h0m-3 0h0m-1 0h0m-22 0h0m-13 0h0m75-317h0m47-56h0m-4-13h0m22 13h0m12-7h0m11-44h0m-4-8h0m9-11h0m45-6h0m40 6h0m3-20h0m-18-22h0m32-5h0m19 27h0m21-3h0m3-28h0m-8-11h0m-2-16h0m6-19h0m2-3h0m14 16h0m11 28h0m-15 71h0m-35 8h0m47 84h0m84-17h0m13 2h0m21-3h0m-17 24h0m-18 20h0m15 34h0m7-2h0m-19 6h0m-2 0h0m-15 4h0m2 16h0m46-3h0m28 7h0m15-14h0m13 12h0m-4-35h0m2-2h0m-22-1h0m-15-18h0m30-2h0m-1-22h0m-2 0h0m-9-12h0m39-25h0m11 1h0m-4-10h0m-11-15h0m-23-10h0m-3-11h0m2-15h0m-7-10h0m-1-13h0m-13 18h0m-14 18h0m1 17h0m-12 7h0m-4-12h0m-1-4h0m-10-10h0m-9 3h0m-7-3h0m-8-2h0m-8 16h0m33 8h0m38 4h0m52-29h0m10-8h0m4 17h0m23 14h0m-7 30h0m-8 6h0m14 3h0m11 10h0m-24 5h0m18 26h0m17 33h0m0 1h0m-3 15h0m-11 3h0m-8 4h0m-9-2h0m-15-4h0m5 44h0m-8 15h0m-2 15h0m15 24h0m0 8h0m-26 1h0m61-46h0m7-5h0m-19-16h0m23-32h0m6 0h0m28-6h0m-2-29h0m-4-21h0m11-41h0m7-3h0m28-3h0m8-11h0m-2-18h0m6-3h0m5-3h0m0-15h0m-1-9h0m-9-3h0m22 13h0m10-22h0m7-10h0m21-4h0m1-6h0m7 15h0m-15 14h0m-7 24h0m-2 5h0m-2 18h0m-9 19h0m-3 1h0m-3 24h0m-10 9h0m-4-6h0m-1-3h0m-18 6h0m0 5h0m12 23h0m17 0h0m-4 19h0m14 4h0m-12 16h0m-25-23h0m56-32h0m-8-14h0m26-3h0m-5-35h0m7-3h0m-4-9h0m18-41h0m-9-38h0m-26-13h0m7-11h0m18-26h0m-44-26h0m-22 0h0m-13 21h0m-8-5h0m-6 6h0m-3 19h0m-4 12h0m8 8h0m-7 7h0m15-1h0m4 9h0m11 6h0m3-11h0m6 2h0m-4-28h0m-50-29h0m-13 14h0m2 8h0m-9 1h0m-35-6h0m-15 16h0m-17 4h0m-9 7h0m11 17h0m-3 6h0m19-10h0m22-4h0m-5 40h0m-19-5h0m49 3h0m10 17h0m-18 9h0m10 10h0m-4 3h0m-21 3h0m-11 13h0m84-24h0m-14-40h0m5-105h0m23-24h0m-2-6h0m6-18h0m-9-9h0m-8 1h0m-13 2h0m-2 9h0m7 11h0m-19 5h0m-26 9h0m-33-3h0m-35-4h0m-1 17h0m-3 6h0m-25 24h0m-5-3h0m-28-6h0m-6-6h0m-18-14h0m-9-9h0m-30-3h0m-7 3h0m-6 15h0m11 7h0m1 27h0m11 10h0m17 3h0m-1 21h0m-3 19h0m-21-6h0m-15 14h0m66-19h0m8-15h0m3-9h0m3-1h0m-7-20h0m31 50h0m57-56h0m-40-65h0m-19-2h0m-5 2h0m-36-10h0m-17-4h0m-12 3h0m-6 1h0m7-11h0m6-25h0m-25 3h0m-14-5h0m42-50h0m9-16h0m8 4h0m8 7h0m1 13h0m-6 7h0m22-6h0m3-38h0m-28-1h0m19-36h0m7-5h0m28 13h0m7 4h0m6-5h0m-1-6h0m-1-21h0m10-6h0m5-24h0m-7-1h0m0-4h0m-19 5h0m-15 16h0m8 6h0m-28-11h0m-11-9h0m-14 3h0m-10-6h0m-8-29h0m-22 20h0m-4 4h0m-7-12h0m-7-16h0m7-23h0m-1-31h0m45 17h0m8 11h0m1 4h0m-1 2h0m7-7h0m8-4h0m17-5h0m-36-44h0m91-21h0m10 14h0m6 8h0m34-16h0m4-16h0m21 19h0m22-9h0m-10 37h0m8 7h0m7 3h0m16 33h0m8 19h0m-2 19h0m15 15h0m3 19h0m6 9h0m3 14h0m-9 15h0m-6 5h0m0 4h0m-8-9h0m-22 0h0m-9 3h0m-7-7h0m-3-16h0m-14 2h0m-21 1h0m-19-8h0m-29 33h0m-11 9h0m2 13h0m12 4h0m7-4h0m19 3h0m-2-14h0m-1 31h0m5 8h0m5-5h0m3 20h0m10-4h0m13 14h0m14-22h0m14 4h0m-2-14h0m-21-2h0m8-22h0m35 32h0m31 19h0m-10 11h0m-2 12h0m9 1h0m20 12h0m3-2h0m7-20h0m8-3h0m14 8h0m-8 9h0m21 27h0m-3 30h0m-20 7h0m-36-1h0m-19-36h0m-21 1h0m-47-22h0m-7 4h0m-39-6h0m-16-15h0m-10-10h0m19-11h0m21 7h0m-46-28h0m-2-4h0m-19 56h0m-2 14h0m24 5h0m-112-96h0m-3-20h0m-8 0h0m4-11h0m9-4h0m-12-15h0m40 14h0m-110-18h0m2-18h0m-6-18h0m-48 27h0m-26 14h0m2 22h0m-10 12h0m-13-23h0m0 49h0m-21-1h0m-15 11h0m-21 10h0m-1-49h0m-38 0h0m-5 15h0m-20 32h0m-12 12h0m5 18h0m-14 3h0m-5 14h0m-4 22h0m-6 0h0m28-6h0m6-5h0m11 5h0m9 0h0m-4-36h0m-66-12h0m-25 49h0m7 33h0m-42 4h0m-17 63h0m31 19h0m30 48h0m50-22h0m23 16h0m-1 2h0m18-26h0m14-8h0m-15-16h0m-5-7h0m-1-6h0m-13-14h0m-19 14h0m-11-10h0m4-22h0m56 3h0m6-39h0m43 17h0m-1 13h0m-2 17h0m-3 18h0m-3 7h0m-14 5h0m35-3h0m16-30h0m20-41h0m14-27h0m-19-20h0m6-7h0m-4-17h0m34-19h0m14 6h0m42 16h0m-1 11h0m-20 36h0m12 13h0m-4-123h0m-26-21h0m15-13h0m-79-63h0m-12-21h0m-63 28h0m-14-2h0m10-47h0m-62-56h0m-26 41h0m-4 14h0m-26 2h0m-8 13h0m-34-21h0m0-30h0m244-34h0m340 78h0m12 11h0m-18 12h0m43-9h0m-4-21h0m14 50h0m-3 16h0m36 17h0m53-1h0m35-7h0m0-4h0m5-5h0m-4-9h0m-4-26h0m-6-4h0m19-24h0m-18-31h0m15-20h0m-44 18h0m-9 68h0m49 50h0m7 7h0m-16 16h0m14 7h0m3 6h0m-4 13h0m-9 21h0m-7 10h0m17 0h0m2 6h0m-30 8h0m-11-18h0m14-34h0m-1-3h0m31 444h0m-9 17h0m-10 39h0m-17 7h0m5 11h0m-11 3h0m-5 1h0m-1 7h0m3 15h0m8 7h0m-18 13h0m-2-2h0m35-28h0m10-4h0m1-1h0m7 7h0m-5 6h0m-5 4h0m-118 26h0m6 24h0m-26-43h0m7-5h0m-50 107h0m25 16h0m-56-16h0m-9 19h0m-100-33h0m20-36h0m-114 68h0m-145-258h0m28-25h0m511 339h0m2 0h0m9 0h0m26 0h0" stroke="#000" stroke-width="13.2" stroke-linecap="round" fill="none" />
<line x1="1454.0" y1="1760.0" x2="1454.0" y2="2022.7" stroke="#000" stroke-width="2" />
<line x1="1453.0" y1="2021.7" x2="1682.0" y2="2021.7" stroke="#000" stroke-width="2" />
<line x1="1447.5" y1="1835.6" x2="1454.0" y2="1835.6" stroke="#000" stroke-width="2" />
<text x="1443.0" y="1844.8" font-size="25.5" text-anchor="end" >4</text>
<line x1="1447.5" y1="1922.6" x2="1454.0" y2="1922.6" stroke="#000" stroke-width="2" />
<text x="1443.0" y="1931.8" font-size="25.5" text-anchor="end" >2</text>
<line x1="1447.5" y1="2009.6" x2="1454.0" y2="2009.6" stroke="#000" stroke-width="2" />
<text x="1443.0" y="2018.7" font-size="25.5" text-anchor="end" >0</text>
<line x1="1515.6" y1="2021.7" x2="1515.6" y2="2028.7" stroke="#000" stroke-width="2" />
<text x="1516.0" y="2055.7" font-size="26.0" text-anchor="middle" >WT</text>
<line x1="1619.3" y1="2021.7" x2="1619.3" y2="2028.7" stroke="#000" stroke-width="2" />
<text x="1621.3" y="2055.7" font-size="26.0" text-anchor="middle" >KO</text>
<text x="1567.4" y="1714.6" font-size="25.7" text-anchor="middle" font-style="italic" >H2-Aa</text>
<text x="1565.6" y="1754.3" font-size="25.9" text-anchor="middle" >P = 7.897e-3</text>
<path d="M1788.0,1778.9 L1787.2,1782.7 L1785.5,1786.5 L1783.5,1790.4 L1781.8,1794.2 L1781.1,1798.1 L1780.5,1801.9 L1779.0,1805.8 L1777.3,1809.6 L1775.9,1813.5 L1775.5,1817.3 L1775.2,1821.1 L1774.7,1825.0 L1774.0,1828.8 L1773.4,1832.7 L1772.9,1836.5 L1772.8,1840.4 L1772.7,1844.2 L1772.5,1848.1 L1772.2,1851.9 L1771.9,1855.8 L1771.7,1859.6 L1771.6,1863.4 L1771.0,1867.3 L1770.0,1871.1 L1768.7,1875.0 L1767.6,1878.8 L1766.9,1882.7 L1766.6,1886.5 L1765.0,1890.4 L1762.6,1894.2 L1760.2,1898.1 L1758.7,1901.9 L1758.2,1905.7 L1756.5,1909.6 L1754.1,1913.4 L1751.7,1917.3 L1750.3,1921.1 L1749.9,1925.0 L1748.9,1928.8 L1747.4,1932.7 L1746.1,1936.5 L1745.3,1940.3 L1745.4,1944.2 L1745.9,1948.0 L1746.3,1951.9 L1747.2,1955.7 L1749.8,1959.6 L1752.9,1963.4 L1754.6,1967.3 L1756.8,1971.1 L1762.3,1975.0 L1766.0,1978.8 L1768.2,1982.6 L1773.4,1986.5 L1776.6,1990.3 L1777.7,1994.2 L1779.9,1998.0 L1781.2,2001.9 L1781.7,2005.7 L1782.3,2009.6 L1802.7,2009.6 L1803.3,2005.7 L1803.8,2001.9 L1805.1,1998.0 L1807.3,1994.2 L1808.4,1990.3 L1811.6,1986.5 L1816.8,1982.6 L1819.0,1978.8 L1822.7,1975.0 L1828.2,1971.1 L1830.4,1967.3 L1832.1,1963.4 L1835.2,1959.6 L1837.8,1955.7 L1838.7,1951.9 L1839.1,1948.0 L1839.6,1944.2 L1839.7,1940.3 L1838.9,1936.5 L1837.6,1932.7 L1836.1,1928.8 L1835.1,1925.0 L1834.7,1921.1 L1833.3,1917.3 L1830.9,1913.4 L1828.5,1909.6 L1826.8,1905.7 L1826.3,1901.9 L1824.8,1898.1 L1822.4,1894.2 L1820.0,1890.4 L1818.4,1886.5 L1818.1,1882.7 L1817.4,1878.8 L1816.3,1875.0 L1815.0,1871.1 L1814.0,1867.3 L1813.4,1863.4 L1813.3,1859.6 L1813.1,1855.8 L1812.8,1851.9 L1812.5,1848.1 L1812.3,1844.2 L1812.2,1840.4 L1812.1,1836.5 L1811.6,1832.7 L1811.0,1828.8 L1810.3,1825.0 L1809.8,1821.1 L1809.5,1817.3 L1809.1,1813.5 L1807.7,1809.6 L1806.0,1805.8 L1804.5,1801.9 L1803.9,1798.1 L1803.2,1794.2 L1801.5,1790.4 L1799.5,1786.5 L1797.8,1782.7 L1797.0,1778.9 Z" fill="#3c63cf" stroke="#2a2a2a" stroke-width="1.6" stroke-linejoin="round"/>
<path d="M1888.9,1772.4 L1887.4,1776.4 L1883.8,1780.3 L1879.9,1784.3 L1877.2,1788.2 L1876.4,1792.2 L1873.7,1796.1 L1869.7,1800.1 L1865.9,1804.0 L1863.7,1808.0 L1863.0,1811.9 L1860.8,1815.9 L1857.9,1819.8 L1855.3,1823.8 L1854.1,1827.8 L1853.6,1831.7 L1852.5,1835.7 L1851.1,1839.6 L1849.9,1843.6 L1849.6,1847.5 L1849.8,1851.5 L1850.2,1855.4 L1850.7,1859.4 L1851.0,1863.3 L1851.1,1867.3 L1851.7,1871.2 L1852.6,1875.2 L1853.5,1879.1 L1854.0,1883.1 L1854.1,1887.0 L1854.0,1891.0 L1853.8,1894.9 L1853.6,1898.9 L1853.4,1902.8 L1853.3,1906.8 L1853.1,1910.8 L1852.4,1914.7 L1851.5,1918.7 L1850.5,1922.6 L1849.8,1926.6 L1849.6,1930.5 L1849.7,1934.5 L1849.9,1938.4 L1850.1,1942.4 L1850.3,1946.3 L1850.5,1950.3 L1852.4,1954.2 L1855.3,1958.2 L1857.5,1962.1 L1858.7,1966.1 L1863.8,1970.0 L1868.7,1974.0 L1870.6,1977.9 L1875.9,1981.9 L1880.3,1985.8 L1881.5,1989.8 L1884.3,1993.8 L1886.2,1997.7 L1886.5,2001.7 L1887.1,2005.6 L1887.4,2009.6 L1904.0,2009.6 L1904.3,2005.6 L1904.9,2001.7 L1905.2,1997.7 L1907.1,1993.8 L1909.9,1989.8 L1911.1,1985.8 L1915.5,1981.9 L1920.8,1977.9 L1922.7,1974.0 L1927.6,1970.0 L1932.7,1966.1 L1933.9,1962.1 L1936.1,1958.2 L1939.0,1954.2 L1940.9,1950.3 L1941.1,1946.3 L1941.3,1942.4 L1941.5,1938.4 L1941.7,1934.5 L1941.8,1930.5 L1941.6,1926.6 L1940.9,1922.6 L1939.9,1918.7 L1939.0,1914.7 L1938.3,1910.8 L1938.1,1906.8 L1938.0,1902.8 L1937.8,1898.9 L1937.6,1894.9 L1937.4,1891.0 L1937.3,1887.0 L1937.4,1883.1 L1937.9,1879.1 L1938.8,1875.2 L1939.7,1871.2 L1940.3,1867.3 L1940.4,1863.3 L1940.7,1859.4 L1941.2,1855.4 L1941.6,1851.5 L1941.8,1847.5 L1941.5,1843.6 L1940.3,1839.6 L1938.9,1835.7 L1937.8,1831.7 L1937.3,1827.8 L1936.1,1823.8 L1933.5,1819.8 L1930.6,1815.9 L1928.4,1811.9 L1927.7,1808.0 L1925.5,1804.0 L1921.7,1800.1 L1917.7,1796.1 L1915.0,1792.2 L1914.2,1788.2 L1911.5,1784.3 L1907.6,1780.3 L1904.0,1776.4 L1902.5,1772.4 Z" fill="#ff0000" stroke="#2a2a2a" stroke-width="1.6" stroke-linejoin="round"/>
<path transform="scale(0.25)" d="M6990 7426h0m25 38h0m25 18h0m32 2h0m-3 22h0m2 22h0m-24 0h0m-17-4h0m-25-4h0m-3-7h0m1-8h0m-12 31h0m2 52h0m6 7h0m-2 3h0m4 6h0m6 55h0m32-6h0m37 1h0m7-15h0m19-3h0m-4 16h0m27 13h0m-9 26h0m15 22h0m21 41h0m36-21h0m41 22h0m3 6h0m2 14h0m2 24h0m-16 10h0m-34 4h0m-20 28h0m-15 6h0m-52-19h0m-16 18h0m-16 12h0m-4-3h0m-11 5h0m26 15h0m-43 22h0m25 30h0m36-1h0m19-1h0m22-13h0m12-7h0m39 8h0m-1 7h0m10-13h0m-1-7h0m15 0h0m3-10h0m13-16h0m11 9h0m15-17h0m1-9h0m6 2h0m1 23h0m35 10h0m23-5h0m21-9h0m-4 58h0m5 1h0m-64 0h0m-17 47h0m7 54h0m1 0h0m21 0h0m12 0h0m20 0h0m1 0h0m3 0h0m-80 0h0m-12 0h0m-4 0h0m-3 0h0m-3 0h0m-3 0h0m-13 0h0m-13 0h0m-16 0h0m-7-48h0m-30-44h0m-37 15h0m-15 28h0m37 49h0m-75 0h0m-3 0h0m-23 0h0m-12-212h0m16-25h0m34 14h0m29-16h0m-7-32h0m-13-25h0m-19-22h0m-11-13h0m-20-16h0m7 50h0m-4 7h0m8 15h0m31-147h0m8-36h0m-1-4h0m4-9h0m11 16h0m17-37h0m25-6h0m13-9h0m-19-22h0m3-12h0m-3-1h0m-20 17h0m-15-49h0m-6-30h0m23-3h0m8 5h0m11 8h0m24 8h0m-17-47h0m2-20h0m-40-1h0m-8-7h0m-5 0h0m1 17h0m15 11h0m-31 3h0m-30-17h0m21-27h0m0-11h0m-3-35h0m-33-12h0m3-22h0m1-90h0m13-72h0m65 28h0m52 83h0m13 0h0m-5 16h0m-31-5h0m63-19h0m3 5h0m16 30h0m38 32h0m6 7h0m-2 35h0m10 15h0m21 22h0m13 22h0m0 7h0m7 16h0m15 23h0m30-30h0m59-40h0m14-7h0m26 20h0m0 1h0m-3 17h0m19-1h0m25-9h0m2 22h0m-28 19h0m-14 13h0m4 9h0m15-2h0m14 3h0m28-3h0m4-9h0m14 4h0m-10 17h0m-13 19h0m-2 0h0m22 6h0m19-15h0m15 8h0m-2 10h0m4-23h0m-6-22h0m-6-14h0m7-14h0m7 4h0m1-1h0m18-13h0m5-1h0m15 6h0m4-12h0m15-18h0m3 1h0m-17-13h0m-4 0h0m-2-15h0m-6-1h0m7-7h0m-17 4h0m0-18h0m-1-10h0m-1-7h0m-17 12h0m-5 7h0m-2 22h0m0 10h0m6 15h0m-7 14h0m-21-22h0m-9-2h0m-8 5h0m5 8h0m-4 9h0m10 29h0m52 13h0m9 3h0m14 12h0m18 24h0m17-13h0m1-7h0m4 18h0m12 8h0m29 6h0m8 11h0m21 23h0m-5 13h0m-6 17h0m-4 5h0m30 0h0m-1-22h0m12-23h0m-12-7h0m7-14h0m2-12h0m-16-4h0m12-27h0m-24-21h0m0-1h0m-23-3h0m-4 18h0m-20-13h0m-3-20h0m-12 2h0m-6-15h0m6-3h0m11 2h0m6-10h0m-14-8h0m5-17h0m-5-20h0m-3-5h0m15 3h0m16 6h0m15 7h0m3 0h0m14-5h0m2-20h0m32 16h0m-2 6h0m-15 16h0m-32 2h0m3 15h0m-13 4h0m-1 4h0m-52-39h0m13-46h0m9-23h0m-18-12h0m-5-12h0m-10 19h0m-19 4h0m3 12h0m-17 2h0m-3-8h0m-9-30h0m-21-22h0m-8-12h0m0-1h0m-4-24h0m1-13h0m-3-14h0m-1-1h0m12-4h0m16-13h0m13-1h0m41-1h0m31 9h0m8 1h0m-11 12h0m-3 13h0m8 7h0m3-2h0m7-9h0m12-26h0m1-4h0m-5-22h0m-20-21h0m-10 17h0m-28-29h0m-30-7h0m1 18h0m-55-10h0m-10-6h0m-34 29h0m0 14h0m-6 1h0m6 8h0m-3 25h0m-1 8h0m-14-10h0m-9-18h0m-20 12h0m-18-1h0m8 22h0m-9 2h0m46 12h0m5-1h0m20 1h0m17 19h0m10-48h0m-7-1h0m8-22h0m-81-26h0m-99 21h0m-8 40h0m-5 7h0m-10 19h0m3 7h0m-17 2h0m-5 1h0m-23 33h0m38 24h0m-5 44h0m30-5h0m2-2h0m-20 36h0m82-24h0m30-15h0m-8-38h0m6-9h0m15-25h0m-44-4h0m84 77h0m5 12h0m-17 11h0m-8 2h0m8 18h0m16-5h0m0-3h0m25 6h0m0 15h0m14 1h0m-6-53h0m-9-15h0m-10 0h0m23-10h0m6-5h0m11 5h0m0-11h0m-8-17h0m-15 5h0m87-4h0m32-30h0m-2-9h0m-4-17h0m3-4h0m-35 6h0m50 27h0m14-5h0m21 2h0m6-10h0m6 5h0m-15 23h0m4 7h0m-1 3h0m8 2h0m7-7h0m-28 10h0m-14-5h0m-7-4h0m64 32h0m9 8h0m24 14h0m8 6h0m1 17h0m-6-50h0m0-8h0m-12-28h0m12-10h0m-27-21h0m22-13h0m-34-18h0m24-48h0m-20-7h0m-14-4h0m49-11h0m-121 327h0m-9 61h0m1 18h0m-17 12h0m0 13h0m6 1h0m17 19h0m13-11h0m5 4h0m-1 6h0m3 9h0m2-24h0m9-5h0m13-14h0m-9-13h0m8 64h0m1 8h0m2 37h0m17 17h0m1 4h0m6 15h0m23-6h0m2 3h0m1-5h0m-3-6h0m-3-7h0m-7 1h0m-2-12h0m7-11h0m7-2h0m0-28h0m1-2h0m5 2h0m15-10h0m3 11h0m4 40h0m-4 10h0m-10 20h0m-7 7h0m-4 30h0m-14 0h0m-12-3h0m-2 8h0m-7-8h0m-14-5h0m19 24h0m-12 14h0m14 11h0m11 18h0m-8 4h0m-15-1h0m0 14h0m-16-11h0m-18 3h0m-1 9h0m4 15h0m12 24h0m26 5h0m-4 33h0m11 9h0m-42 9h0m-11 1h0m-12 8h0m0 4h0m-12 10h0m16 6h0m16-9h0m3 11h0m7 24h0m14-4h0m20-10h0m9-4h0m12 15h0m29-8h0m3 18h0m-9-36h0m14-28h0m-8-45h0m-3-12h0m-1-11h0m-22-2h0m2-18h0m4-33h0m2-11h0m24-41h0m-98 39h0m2 5h0m-8-8h0m-8-10h0m-15 6h0m-11 0h0m-4-11h0m0-22h0m3-4h0m2 2h0m-19 3h0m-3 3h0m-23-18h0m22-31h0m0-15h0m-8-18h0m39-11h0m26 37h0m-39 16h0m-3 12h0m29 28h0m-4 6h0m8 47h0m2 4h0m-1 4h0m-27 16h0m7 23h0m0 9h0m4 5h0m10 1h0m-3 14h0m-2 25h0m-20-6h0m-13-14h0m-6 11h0m3-24h0m12-6h0m-31 1h0m-10-23h0m3-6h0m2-33h0m-7-1h0m21-1h0m2 6h0m-43-24h0m-3 1h0m-9 22h0m-6 7h0m-22-4h0m-4-2h0m-2 9h0m-8-13h0m12-10h0m-24-11h0m6-26h0m-3-2h0m18-3h0m15-2h0m-12-14h0m20-19h0m0-8h0m-10-4h0m-4-9h0m12-8h0m21 0h0m-5-14h0m-13-8h0m-14-9h0m-3 10h0m-5-18h0m-7-3h0m-18-9h0m3-9h0m0-2h0m-2-12h0m-15-1h0m-4 1h0m-2-1h0m-6 5h0m-24-6h0m-24 11h0m-4 15h0m27 8h0m-10 21h0m18 11h0m12-5h0m18-22h0m0-1h0m11 0h0m0 21h0m-9 32h0m-13 11h0m-11 21h0m-17-6h0m4-20h0m-28-1h0m16 54h0m12 36h0m-9 13h0m7 9h0m-18 1h0m-7 27h0m20 5h0m4 14h0m23-10h0m12 10h0m12-3h0m12 15h0m18-15h0m1-5h0m-11-26h0m-5 0h0m55 26h0m10 15h0m-10 15h0m-3 18h0m8 19h0m-11 22h0m-14 7h0m21 14h0m3 5h0m-9 11h0m27-4h0m21-10h0m2-11h0m-8-8h0m-20 6h0m41-25h0m-83-19h0m-6 7h0m-29 10h0m-19 2h0m-19 12h0m-4-6h0m-7-7h0m-15 7h0m-9-10h0m2-19h0m-13-33h0m73 22h0m15 54h0m0 5h0m10-2h0m-5 13h0m0 15h0m-19 0h0m-17 4h0m-5-13h0m-21 14h0m-26-2h0m1 27h0m22-53h0m86 61h0m12-11h0m31 11h0m64-6h0m-12 79h0m-19 0h0m-4 0h0m-2 0h0m-3 0h0m-33 0h0m-16 0h0m-8 0h0m-3 0h0m-1-8h0m-8 8h0m-43 0h0m-5 0h0m-2 0h0m-1 0h0m-23 0h0m-22 0h0m-1 0h0m218 0h0m18 0h0m3 0h0m9 0h0m52 0h0m5 0h0m19 0h0m10 0h0m-39-78h0m-219-310h0m37-63h0m-8-34h0m19-31h0m22 2h0m17 2h0m-8 27h0m24 15h0m-7-71h0m-7-11h0m-95 16h0m-8-5h0m-8-1h0m-22-28h0m-24 10h0m-7 35h0m13 4h0m6-84h0m-10-21h0m-86 82h0m-41-14h0m1 40h0m13 32h0m17-9h0m-16 31h0m-12 3h0m-12 5h0m-15-6h0m-2-3h0m13-13h0m-25 40h0m-21-2h0m-8 16h0m19 30h0m18-22h0m47-13h0m8 12h0m10-8h0m-10 34h0m-3 2h0m-2 36h0m-50-7h0m-25 7h0m11 24h0m6-1h0m1 11h0m3 7h0m-4 13h0m16 12h0m21 20h0m6 16h0m-2 14h0m21 9h0m0 2h0m-84-72h0m-1-16h0m-50-41h0m9-17h0m-8-8h0m-5-6h0m5-4h0m-23 0h0m-30-26h0m20-25h0m-16-8h0m33 18h0m25-36h0m17-15h0m29-19h0m-49-32h0m-21 40h0m-2 3h0m85-72h0m-10-12h0m-43-27h0m15-25h0m3-17h0m-44-58h0m-75-4h0m-59 110h0m172-278h0m33-33h0" stroke="#000" stroke-width="13.2" stroke-linecap="round" fill="none" />
<line x1="1730.1" y1="1760.0" x2="1730.1" y2="2022.7" stroke="#000" stroke-width="2" />
<line x1="1729.1" y1="2021.7" x2="1958.1" y2="2021.7" stroke="#000" stroke-width="2" />
<line x1="1723.6" y1="1783.4" x2="1730.1" y2="1783.4" stroke="#000" stroke-width="2" />
<text x="1719.1" y="1792.6" font-size="25.5" text-anchor="end" >5</text>
<line x1="1723.6" y1="1828.8" x2="1730.1" y2="1828.8" stroke="#000" stroke-width="2" />
<text x="1719.1" y="1838.0" font-size="25.5" text-anchor="end" >4</text>
<line x1="1723.6" y1="1874.2" x2="1730.1" y2="1874.2" stroke="#000" stroke-width="2" />
<text x="1719.1" y="1883.3" font-size="25.5" text-anchor="end" >3</text>
<line x1="1723.6" y1="1918.8" x2="1730.1" y2="1918.8" stroke="#000" stroke-width="2" />
<text x="1719.1" y="1928.0" font-size="25.5" text-anchor="end" >2</text>
<line x1="1723.6" y1="1964.2" x2="1730.1" y2="1964.2" stroke="#000" stroke-width="2" />
<text x="1719.1" y="1973.4" font-size="25.5" text-anchor="end" >1</text>
<line x1="1723.6" y1="2009.6" x2="1730.1" y2="2009.6" stroke="#000" stroke-width="2" />
<text x="1719.1" y="2018.7" font-size="25.5" text-anchor="end" >0</text>
<line x1="1792.5" y1="2021.7" x2="1792.5" y2="2028.7" stroke="#000" stroke-width="2" />
<text x="1791.0" y="2055.7" font-size="26.0" text-anchor="middle" >WT</text>
<line x1="1895.7" y1="2021.7" x2="1895.7" y2="2028.7" stroke="#000" stroke-width="2" />
<text x="1897.4" y="2055.7" font-size="26.0" text-anchor="middle" >KO</text>
<text x="1844.3" y="1714.6" font-size="25.7" text-anchor="middle" font-style="italic" >H2-Ab1</text>
<text x="1846.2" y="1754.3" font-size="25.9" text-anchor="middle" >P = 1.525e-2</text>
</svg>
</body></html>
